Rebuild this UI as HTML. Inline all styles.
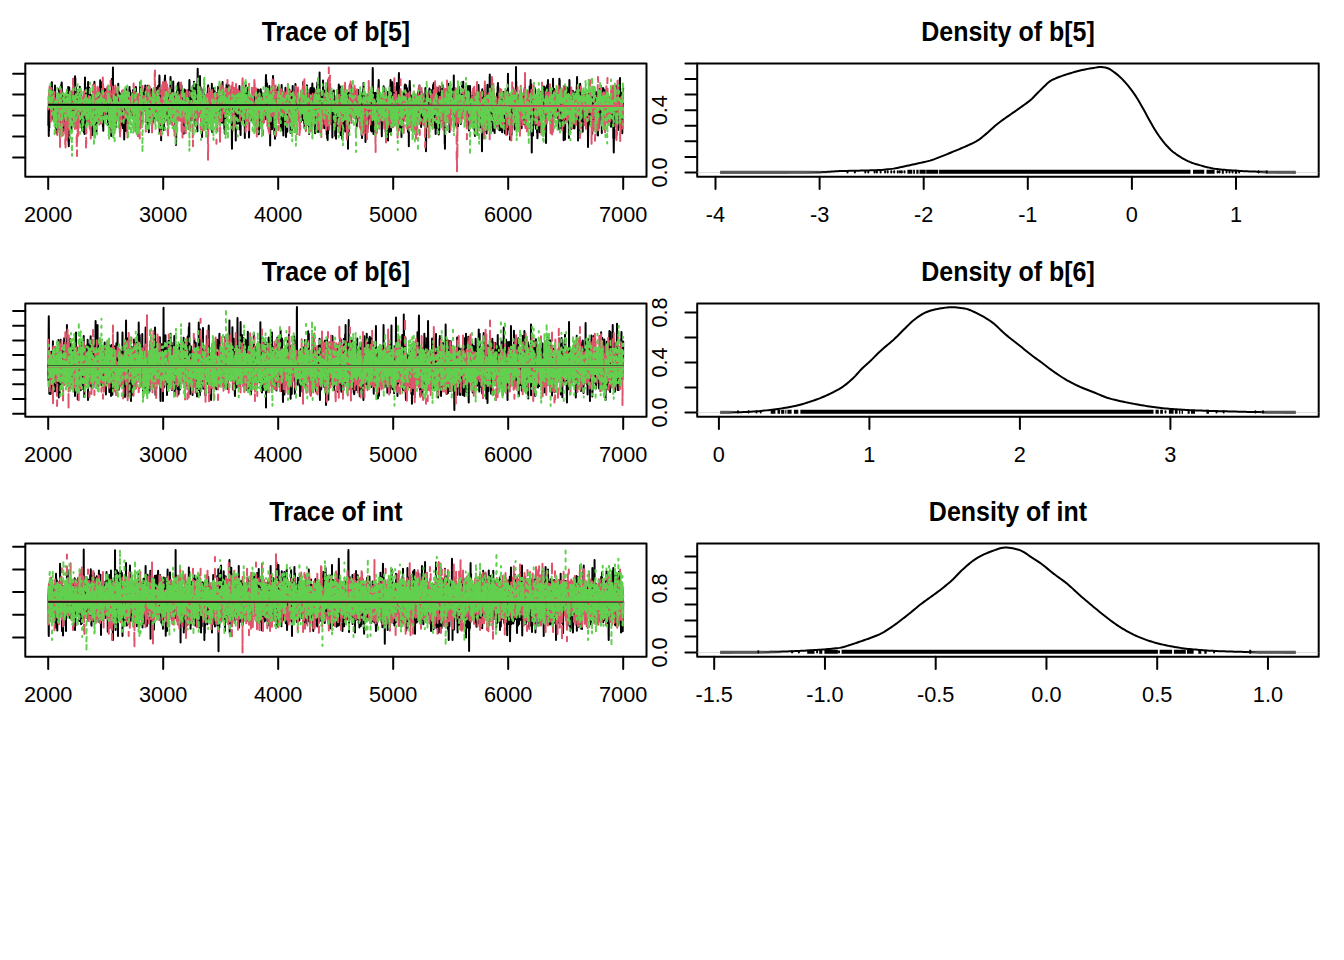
<!DOCTYPE html>
<html><head><meta charset="utf-8"><title>coda plot</title>
<style>html,body{margin:0;padding:0;background:#fff;width:1344px;height:960px;overflow:hidden}svg{display:block}</style>
</head><body>
<svg width="1344" height="960" viewBox="0 0 1344 960">
<rect width="1344" height="960" fill="#fff"/>
<g transform="translate(48.315 0) scale(0.115 0.25)" fill="none" stroke-width="2" stroke-linecap="round" stroke-linejoin="round">
<path vector-effect="non-scaling-stroke" stroke="#000000" d="M0 501l1-68 1 59 1-2 1 54 1-77 1 56 1-60 1-24 1 71 1-109 1-22 1 31 1-24 1 22 1 5 1-22 1 48 1-24 1-39 1-22 1 21 1-11 1 59 1 5 1-17 1 50 1-8 1-64 1-15 1-45 1 0 1 47 1 47 1 51 1-34 1-31 1 26 1 42 1-25 1-19 1 1 1-44 1 10 1 7 1 41 1-11 1-47 1 5 1 4 1-8 1-1 1-7 1-6 1-6 1-13 1 17 1 1 1-34 1 44 1-22 1 75 1 9 1-10 1 58 1 15 1-52 1 34 1-44 1 46 1 18 1 20 1-31 1-42 1 30 1-11 1-73 1 14 1 29 1-21 1 6 1 22 1-52 1 55 1 12 1-14 1 31 1-65 1-25 1-21 1 12 1-5 1-15 1-13 1 7 1 13 1 20 1 30 1 33 1-23 1 5 1 73 1-20 1-59 1 6 1 67 1-20 1-47 1-12 1 13 1-63 1-39 1 23 1-7 1 5 1-6 1-25 1 0 1 22 1 31 1 33 1 2 1-34 1 0 1 7 1-1 1 6 1-10 1 44 1 73 1-6 1 27 1-89 1 2 1 4 1 53 1-30 1 12 1-55 1-26 1 31 1-15 1 105 1 2 1-74 1-33 1-4 1 4 1 53 1 43 1-32 1-76 1 83 1-40 1-26 1-28 1 35 1 18 1-7 1 35 1 36 1 13 1-24 1-34 1-10 1-10 1 20 1 17 1-55 1 1 1 3 1-32 1-26 1-20 1 7 1 210 1-10 1 12 1 18 1-17 1-51 1-144 1-23 1 74 1-14 1-20 1 45 1-66 1 15 1 12 1 42 1-34 1-3 1 24 1-9 1-20 1-26 1 5 1 38 1 21 1 86 1 3 1-56 1-30 1 0 1 8 1-57 1 0 1-16 1 0 1 29 1-36 1 47 1 44 1 7 1 17 1 5 1 7 1-56 1-6 1-14 1 59 1 18 1-59 1 41 1-57 1 37 1-19 1 27 1-129 1-22 1 48 1-55 1 67 1-23 1-36 1 118 1-5 1 13 1-59 1-12 1-18 1 1 1 116 1-99 1 74 1-74 1 36 1-2 1-23 1-18 1 37 1-10 1 2 1 44 1-21 1 86 1-31 1-91 1 40 1 0 1 71 1 12 1-50 1 32 1-15 1 1 1 2 1-20 1-25 1-39 1-14 1 26 1-31 1-20 1 58 1-16 1-14 1-14 1 0 1 48 1 12 1 77 1-14 1-87 1-14 1-13 1 25 1 40 1 36 1-19 1 23 1 10 1-59 1 59 1 37 1-6 1-23 1-14 1-54 1 60 1-12 1-27 1 34 1-25 1-17 1 20 1-2 1 12 1-60 1 122 1-129 1 67 1-8 1-7 1 83 1-60 1 51 1-178 1-39 1 59 1 121 1-31 1 17 1 57 1-92 1-22 1-13 1 1 1 3 1-22 1 8 1 26 1-23 1 3 1 31 1 29 1-51 1-17 1-44 1 28 1 31 1-10 1-31 1-3 1 2 1-39 1 43 1 47 1 26 1 6 1-21 1-35 1-5 1-31 1 35 1-42 1 35 1-21 1 37 1-6 1 4 1-10 1-13 1 15 1 8 1-2 1 50 1 20 1 53 1-28 1-97 1-15 1 35 1 26 1-38 1 20 1 58 1 25 1 20 1 14 1-60 1-19 1 48 1-2 1 23 1-91 1 14 1 13 1-1 1-33 1-32 1 17 1-16 1-12 1 1 1-49 1 12 1 20 1-6 1-35 1-6 1 37 1 35 1 36 1 20 1-22 1-32 1 87 1-17 1 30 1-48 1-40 1 29 1 10 1 28 1-31 1 56 1 23 1 0 1-77 1-80 1 10 1 47 1-4 1 30 1-25 1 39 1 1 1-12 1-28 1 1 1-42 1 4 1 69 1-43 1 10 1 22 1-57 1 39 1-5 1 23 1-53 1 18 1-7 1 52 1-59 1 41 1-36 1-28 1-21 1-36 1 56 1-1 1 6 1-6 1 7 1-15 1-40 1 51 1-1 1 38 1-1 1 35 1-45 1 63 1 0 1-8 1-15 1-76 1-28 1 44 1-47 1 49 1 71 1 50 1-32 1-35 1 82 1-45 1-5 1-40 1 10 1-36 1-14 1 46 1-51 1 2 1-13 1-21 1 39 1 8 1 32 1 31 1-22 1-18 1-42 1-26 1 14 1 34 1-41 1 35 1 18 1-46 1 22 1-2 1-23 1-12 1 4 1 18 1 5 1 17 1 2 1 8 1-14 1 72 1 0 1-2 1 32 1-14 1-93 1 96 1 12 1-12 1 5 1-60 1-10 1-12 1-5 1 26 1 29 1-40 1 12 1 64 1-113 1 135 1 4 1-25 1 1 1-5 1-13 1 35 1-26 1-55 1-27 1 66 1-32 1 102 1-23 1-61 1-22 1 63 1-168 1 25 1-43 1 10 1 83 1-30 1 48 1-44 1 17 1-11 1-118 1 114 1-7 1 2 1 21 1 33 1 15 1 4 1 40 1-76 1 41 1 6 1 14 1 1 1-19 1 19 1-6 1-73 1-24 1 18 1-18 1 32 1-4 1 54 1 34 1 17 1-71 1-12 1-19 1-2 1-7 1-6 1-14 1 5 1 37 1 28 1-47 1-33 1-2 1 61 1-48 1 1 1 11 1 6 1 18 1-47 1-32 1 47 1 14 1-3 1-26 1 88 1-41 1-45 1 20 1 8 1-27 1 2 1 51 1 42 1 28 1 40 1-29 1-1 1-23 1-42 1-59 1 4 1 71 1-55 1 9 1-30 1 23 1-4 1 10 1 5 1-34 1 28 1-1 1-3 1 18 1 84 1-35 1-38 1 19 1 23 1 40 1-58 1-37 1-18 1 17 1-35 1 17 1-25 1 84 1 27 1 6 1-18 1 85 1-70 1-54 1-29 1 21 1-45 1 25 1-22 1 10 1 7 1 10 1 4 1-31 1-27 1 129 1 24 1 14 1-65 1 25 1-129 1 30 1 7 1 64 1 0 1-7 1 33 1 6 1-43 1 2 1-9 1-38 1 26 1 41 1-11 1-23 1 66 1-46 1 4 1 7 1 22 1-10 1-49 1-19 1-20 1 18 1-39 1-19 1 17 1 97 1-13 1-87 1 14 1 40 1-46 1 27 1-8 1-13 1 56 1-7 1-38 1 17 1-15 1 8 1-22 1 95 1-85 1 16 1-7 1 27 1 29 1 5 1 1 1 16 1-26 1-34 1-21 1-11 1-20 1 50 1 7 1-6 1-14 1 61 1-70 1 35 1-9 1-21 1-22 1 29 1 23 1-13 1-16 1-18 1 11 1 29 1 49 1-70 1 52 1-31 1-8 1-20 1-17 1-23 1 18 1 2 1 72 1-7 1 30 1-6 1-52 1 0 1-27 1 15 1-5 1 19 1 99 1 6 1-15 1-26 1-14 1-5 1-41 1-17 1 18 1-24 1 75 1-1 1-6 1-54 1 22 1 53 1-22 1-65 1 13 1 7 1 9 1-2 1-37 1-7 1-27 1 20 1-38 1 22 1 14 1 21 1 16 1-3 1 14 1-12 1 2 1-12 1 18 1 9 1-8 1 0 1-1 1-30 1 41 1 71 1-46 1 2 1-51 1 8 1 43 1-73 1 0 1 22 1 30 1-20 1 26 1-17 1-33 1 53 1 8 1-22 1-48 1-12 1 24 1-28 1 22 1 13 1-4 1 43 1-88 1 67 1-63 1 30 1 45 1-13 1-18 1 19 1 9 1-18 1 7 1 70 1-40 1-13 1-25 1 30 1 79 1-74 1 57 1-91 1-57 1 11 1 54 1 14 1-16 1-10 1 3 1-30 1 35 1 82 1 18 1 25 1-113 1 7 1 52 1-37 1-38 1 3 1-2 1-24 1-3 1 29 1-13 1-17 1 1 1-11 1-1 1 18 1 13 1-11 1 25 1-29 1-21 1 73 1 0 1 24 1 16 1-19 1-2 1-27 1-11 1-10 1 31 1 9 1-52 1 95 1-78 1 23 1-39 1 98 1-2 1-48 1-10 1-34 1 35 1 17 1 18 1-30 1-19 1 5 1 9 1 8 1-7 1 32 1-9 1-4 1 13 1 11 1-66 1 24 1-17 1-37 1-9 1 11 1-16 1 53 1 45 1 4 1-3 1-8 1-69 1-34 1 17 1 5 1 36 1-7 1 50 1-55 1 23 1-18 1 49 1-54 1-12 1-42 1 18 1 58 1 28 1 41 1-75 1 24 1 23 1-89 1-19 1-50 1 10 1 185 1 36 1-62 1 24 1-54 1 8 1-29 1-22 1-12 1-7 1-12 1 9 1 83 1 102 1-89 1-36 1-59 1 116 1 17 1-2 1-78 1 85 1-23 1-49 1-42 1-30 1-31 1 12 1 11 1 28 1-8 1 15 1 45 1-45 1-15 1 102 1-65 1 100 1-99 1 44 1-19 1-27 1-29 1-27 1-42 1-6 1 65 1-78 1 56 1 5 1-18 1 29 1 6 1 44 1-12 1-41 1 27 1 62 1-8 1 10 1-12 1 15 1-16 1 31 1-72 1 10 1-17 1-17 1 12 1-8 1 14 1 19 1 7 1-19 1 47 1 24 1 15 1 2 1-64 1-3 1 8 1-10 1-36 1 30 1-33 1 88 1 19 1-75 1-46 1 4 1 20 1-19 1 20 1-36 1-45 1-11 1 72 1-16 1 17 1 14 1 18 1 4 1-17 1-20 1-13 1 39 1-8 1-9 1-29 1 16 1 43 1-37 1 0 1 3 1 9 1-20 1 22 1-8 1-62 1 27 1 29 1 37 1-27 1 2 1 28 1 26 1-11 1 30 1-83 1 11 1 9 1 4 1 66 1 41 1-14 1-24 1 32 1-90 1-17 1 100 1-24 1 24 1 78 1-8 1-24 1-59 1-21 1-47 1-5 1-49 1 17 1-9 1-10 1 37 1-7 1-7 1-22 1-21 1-11 1 38 1-9 1-16 1 14 1-7 1-6 1-18 1 20 1 2 1 9 1 9 1 25 1 14 1 39 1-3 1-32 1-19 1-16 1 10 1-29 1 23 1-13 1-1 1 30 1 26 1-27 1 2 1-5 1 81 1-5 1-125 1-4 1 32 1 13 1-6 1 31 1 1 1 6 1-6 1 63 1-78 1 6 1-14 1 38 1 43 1-17 1 1 1-34 1 29 1 27 1 43 1 16 1-150 1 7 1-3 1 29 1-40 1-20 1 128 1-87 1-21 1 28 1-13 1-8 1-24 1 15 1 17 1 37 1 39 1-36 1 27 1-37 1 11 1 14 1-42 1-23 1 37 1 4 1-3 1-23 1 27 1 12 1-3 1-28 1-24 1 23 1-44 1 2 1 31 1 57 1 8 1 8 1 33 1-45 1-54 1-11 1 62 1 1 1-35 1-74 1-24 1 8 1 117 1 70 1-7 1-26 1-89 1 18 1 32 1-16 1-15 1-17 1-32 1 12 1 51 1-5 1-2 1-31 1-16 1 29 1-18 1-18 1 15 1-15 1 6 1 5 1 12 1-15 1 87 1-17 1-65 1 14 1 23 1-11 1 7 1-67 1-3 1 16 1-2 1 18 1-46 1 65 1 1 1 57 1-59 1 51 1 4 1-2 1 57 1-109 1 10 1-40 1 29 1 54 1-16 1-10 1-81 1 45 1 57 1 19 1-22 1-25 1 26 1 6 1 45 1-15 1 36 1-23 1 25 1 13 1-201 1-12 1-37 1 39 1 92 1 40 1-15 1-11 1 40 1-47 1-46 1 26 1 33 1 0 1-40 1 23 1 27 1 15 1-17 1-13 1-58 1-40 1-19 1 49 1 13 1-4 1 15 1-28 1 23 1 7 1 53 1 3 1-29 1 53 1-17 1-62 1 25 1 33 1 10 1 57 1 43 1-60 1-78 1-15 1 30 1-24 1 19 1 39 1 8 1-23 1 6 1-27 1-61 1-3 1-6 1 30 1-25 1 5 1-14 1 35 1 1 1 88 1-2 1 18 1 22 1-90 1 55 1-10 1-8 1-29 1-36 1 60 1 11 1 15 1-42 1-36 1 17 1 19 1 32 1-27 1-58 1-3 1 29 1 31 1 20 1 55 1-92 1-4 1 11 1-66 1 6 1-27 1 12 1-15 1 18 1 22 1-3 1-8 1-16 1 10 1 18 1 18 1-4 1 21 1 12 1-21 1-15 1-8 1 30 1 53 1-23 1-11 1 10 1-14 1-30 1 11 1-11 1 38 1 3 1 25 1 45 1-42 1-92 1-21 1 35 1-56 1 50 1-11 1 154 1-85 1 5 1-13 1-42 1 43 1-4 1 9 1 1 1-37 1-26 1 13 1 9 1 11 1 66 1-123 1 34 1-37 1 8 1 20 1 23 1-7 1 24 1 14 1 2 1 14 1-58 1-23 1 52 1-50 1 11 1 9 1 11 1-21 1-9 1 24 1 3 1 49 1-66 1 34 1 31 1 19 1-18 1-34 1 13 1-3 1 10 1-45 1 0 1 63 1-58 1-4 1-43 1 31 1 22 1 10 1 51 1 2 1-56 1-18 1 90 1-63 1-12 1-20 1 6 1 0 1 5 1 3 1 39 1-40 1-2 1-6 1-3 1 15 1 5 1 49 1-19 1-15 1 7 1 60 1-67 1 4 1-1 1 8 1 17 1 6 1 32 1 4 1-92 1-28 1-43 1 39 1 68 1 46 1-55 1 59 1-63 1-5 1-13 1-8 1 8 1-18 1 38 1 14 1-1 1 59 1 20 1-45 1-28 1 91 1-69 1-26 1-32 1 4 1-17 1 48 1 1 1 33 1 4 1-59 1-48 1 8 1 20 1-18 1-5 1-40 1 2 1 84 1-4 1 10 1 25 1-15 1-8 1 8 1-54 1-3 1-3 1 3 1-22 1 41 1-29 1 15 1-30 1 78 1-95 1 29 1 3 1 1 1 53 1 9 1 19 1-56 1-40 1 31 1 22 1 47 1-21 1-33 1-44 1 47 1-25 1 11 1 29 1 10 1 23 1-26 1-4 1-39 1 23 1 69 1 22 1 57 1 37 1-78 1-49 1 41 1-58 1-21 1 17 1-6 1 12 1 5 1 1 1-12 1-4 1 21 1 25 1-91 1 41 1 0 1-44 1-21 1 29 1-48 1 43 1-43 1 46 1-14 1 12 1 14 1 28 1 16 1-16 1-37 1 78 1 80 1-78 1 15 1-48 1-12 1-46 1-18 1 16 1 11 1-6 1-15 1 26 1 56 1-16 1-6 1-1 1 32 1-37 1 60 1-2 1-67 1 38 1-27 1-21 1-13 1 62 1-48 1-5 1-14 1-5 1 4 1-27 1-26 1 67 1 28 1 0 1 79 1-83 1 23 1-31 1-10 1 109 1 14 1-79 1-16 1-34 1 8 1 13 1 4 1-46 1-2 1 27 1 45 1 4 1 22 1-3 1-66 1-22 1-2 1-6 1-36 1 43 1-7 1 12 1 0 1 2 1 14 1-17 1 81 1-28 1-33 1 33 1 28 1-82 1 34 1 9 1 22 1 11 1 10 1 69 1-128 1 23 1-21 1 0 1-43 1-10 1-18 1-16 1 75 1-59 1-9 1 58 1-22 1-10 1 2 1 49 1-41 1 27 1-17 1 69 1-5 1 14 1 15 1 8 1-84 1 3 1-10 1-51 1 52 1-37 1 20 1 26 1 15 1 64 1-13 1 72 1-13 1-61 1-54 1 11 1-17 1-14 1 11 1-6 1 22 1-21 1 9 1-1 1-8 1-2 1 27 1 45 1-13 1 9 1 5 1-12 1 14 1-34 1-21 1 30 1-23 1 31 1-38 1-22 1 3 1-23 1-17 1 0 1 67 1-9 1-8 1-25 1 38 1-26 1-7 1-7 1 47 1 27 1-51 1-24 1 9 1-24 1 3 1 21 1 59 1-45 1 7 1-8 1 67 1 5 1-28 1 0 1 19 1 29 1-30 1 0 1-1 1-3 1 12 1-3 1 8 1-18 1 42 1 20 1-30 1-15 1-23 1-76 1-11 1-17 1 4 1 15 1 33 1 69 1 42 1-156 1 84 1-34 1-56 1 42 1 136 1-66 1-45 1-34 1-16 1 130 1 9 1-59 1-48 1 10 1-13 1 41 1 56 1-34 1-72 1-24 1 64 1-79 1 29 1 87 1 19 1-86 1-39 1 39 1 14 1 29 1 43 1-9 1-4 1-19 1-20 1-28 1-37 1 12 1 14 1 4 1-9 1 9 1 37 1 14 1-35 1 36 1-38 1 51 1-35 1-24 1 10 1 0 1 8 1-52 1 22 1 29 1-15 1-30 1-1 1 13 1-21 1 31 1 30 1 42 1-103 1-16 1-45 1-13 1 66 1-47 1 67 1 23 1-35 1-16 1 40 1-65 1 79 1-15 1 40 1-62 1 9 1 68 1-10 1-38 1-7 1 5 1 87 1-20 1-8 1-66 1 6 1 6 1 18 1-75 1 38 1-22 1-22 1 45 1-29 1 114 1-1 1 46 1-28 1 91 1-87 1-62 1-17 1 5 1-15 1 56 1 41 1-65 1 34 1-11 1 15 1-11 1-48 1 66 1-62 1 96 1-160 1 109 1 6 1-56 1-43 1 75 1-125 1-6 1-13 1 18 1 16 1 83 1 14 1-33 1 38 1 63 1 7 1-28 1-4 1-9 1 68 1-161 1 92 1-5 1 56 1 36 1-112 1-30 1-4 1-9 1-23 1 11 1-31 1 10 1 44 1 14 1 6 1-24 1 3 1-2 1 65 1-10 1-29 1-54 1-9 1 9 1 47 1 0 1 0 1 5 1-7 1-17 1-9 1-51 1 42 1 61 1-20 1 45 1-5 1-8 1 21 1-44 1-25 1-2 1-15 1-17 1 19 1-11 1 5 1 8 1 21 1-49 1 3 1 56 1-18 1 100 1-34 1-42 1-48 1 3 1 31 1-55 1-12 1-18 1 27 1-2 1 67 1-17 1 81 1 25 1-155 1 111 1-46 1 20 1-47 1 3 1 78 1 0 1 57 1-33 1-35 1 16 1-46 1-39 1 37 1-23 1 6 1 11 1-54 1 32 1 16 1 2 1-20 1-19 1 39 1-44 1-37 1 43 1 85 1 8 1-8 1 69 1-10 1-41 1 32 1-2 1-14 1-16 1-4 1-33 1 58 1-18 1 27 1-52 1-11 1-15 1-19 1 8 1 0 1-21 1-21 1-17 1 15 1-13 1-18 1 53 1 17 1-1 1-1 1-55 1-18 1 18 1 14 1 54 1 33 1-61 1 65 1-38 1 22 1 1 1 59 1 7 1-143 1-6 1-16 1 81 1-65 1 64 1 22 1-37 1 43 1 58 1-76 1 3 1-43 1-14 1 11 1-45 1 18 1-43 1 40 1 40 1 23 1-14 1 39 1 13 1-68 1-5 1-31 1-1 1 26 1 30 1-11 1-4 1 18 1 15 1-57 1-23 1 3 1 18 1 19 1-52 1 27 1-53 1 37 1 56 1-60 1 13 1-29 1 5 1 19 1-13 1 19 1-3 1 12 1 67 1-24 1 15 1-3 1-21 1 51 1-35 1-26 1-51 1-8 1 6 1 29 1 7 1 54 1-23 1 5 1 9 1-6 1-20 1-7 1 44 1-53 1 4 1-7 1 6 1 36 1-14 1 13 1 27 1-16 1-33 1-18 1-1 1 26 1 11 1 2 1 49 1-46 1-8 1 45 1-67 1-48 1 48 1 9 1 30 1-33 1 51 1-29 1-17 1-33 1 72 1 19 1-6 1-118 1-28 1 25 1 39 1 37 1 3 1 11 1 7 1 28 1-41 1-14 1 71 1-46 1 15 1 49 1-70 1-3 1-16 1 6 1 0 1 66 1-47 1 22 1-12 1-6 1 30 1 36 1-19 1-66 1 21 1 16 1-16 1 15 1-57 1-12 1-59 1 15 1 83 1-82 1 9 1 41 1 17 1 11 1-24 1-35 1 17 1 55 1-7 1 1 1 12 1-38 1-32 1 29 1 26 1 97 1-6 1-63 1 22 1-52 1-27 1-17 1-11 1 10 1-21 1-15 1 5 1 13 1-22 1 54 1-41 1-9 1 12 1 38 1-55 1 30 1 35 1-28 1 40 1-25 1 20 1-42 1-31 1-16 1 71 1 53 1-36 1-5 1 20 1 8 1-9 1-26 1 12 1-4 1-1 1 46 1-72 1-38 1 13 1 14 1 16 1 65 1 5 1-70 1-35 1 3 1 91 1 78 1-51 1-11 1-30 1-10 1-25 1-7 1 9 1-12 1 25 1-44 1 37 1 12 1-32 1 15 1-27 1-30 1-6 1 26 1-42 1 9 1 41 1-46 1 15 1 173 1 6 1-14 1-158 1 44 1 35 1 6 1-72 1-6 1-19 1 26 1-4 1 73 1 0 1-103 1-46 1 211 1-109 1 87 1-67 1 11 1-50 1 46 1-22 1-6 1-23 1 52 1-33 1 2 1 31 1 13 1 2 1-17 1 28 1 23 1-19 1-9 1-25 1-28 1 68 1-8 1-17 1-6 1 36 1-100 1-39 1 21 1 74 1-24 1 5 1 0 1-2 1 20 1 0 1 26 1 71 1-67 1-17 1 0 1-45 1 12 1-24 1-10 1 19 1 48 1-19 1-5 1-25 1 58 1-1 1-13 1-13 1-2 1-7 1 88 1-6 1 9 1 45 1-37 1-7 1 28 1 31 1-49 1-64 1-21 1 141 1-43 1 8 1 10 1-44 1-128 1-40 1-4 1 147 1-25 1 18 1-106 1 23 1 9 1 31 1 4 1-61 1-5 1 19 1-35 1 60 1-27 1 29 1-41 1 10 1 6 1 24 1 42 1-44 1 31 1-21 1-47 1 0 1 17 1-7 1-3 1 22 1-1 1 47 1 62 1 1 1 52 1-61 1 24 1-33 1-82 1 37 1 12 1 10 1 29 1-89 1 32 1 6 1 2 1-75 1 20 1 32 1-35 1 29 1 81 1-60 1-33 1 56 1 40 1-17 1 25 1 44 1-82 1-10 1-45 1 42 1 48 1 30 1 28 1-76 1 15 1-83 1 31 1-2 1 22 1 8 1 6 1 28 1-67 1 22 1-55 1 36 1 32 1-22 1 5 1-37 1-20 1 26 1 30 1 34 1-13 1-123 1-14 1 52 1 69 1-33 1 9 1-2 1-37 1 9 1-18 1-24 1-17 1 72 1 26 1 47 1 40 1-31 1 40 1-14 1-85 1 3 1-53 1 27 1-12 1-19 1-7 1 82 1 46 1-48 1 66 1-14 1 44 1-49 1-18 1 53 1-17 1 23 1-5 1-80 1-18 1-14 1-47 1 8 1-25 1 5 1 6 1 23 1 38 1 40 1 28 1-40 1-23 1 31 1-55 1 27 1 12 1 51 1 16 1-59 1-25 1 23 1-52 1 8 1 1 1-30 1-4 1 21 1 45 1-50 1 97 1 9 1-89 1 135 1-68 1 0 1 4 1-12 1-81 1-29 1 8 1 110 1 107 1-176 1 13 1 5 1 39 1 46 1-110 1 94 1 20 1-119 1-11 1-11 1-15 1 44 1 47 1 1 1-30 1-20 1-42 1-23 1-10 1 123 1-116 1-4 1 27 1 22 1-18 1 62 1-48 1-40 1 29 1-10 1 7 1 37 1-10 1-12 1-20 1 18 1 3 1 23 1-29 1 10 1-19 1 27 1-1 1 33 1 21 1-49 1 8 1 2 1-23 1 31 1-57 1 30 1 16 1-57 1 60 1-49 1 1 1-2 1 38 1-3 1 46 1-42 1 10 1 22 1 12 1-3 1-41 1-8 1 29 1 28 1 30 1-47 1-22 1 39 1 55 1-23 1 4 1-39 1-4 1-20 1-28 1-23 1 15 1-12 1 25 1 45 1-15 1-41 1-30 1 14 1 64 1-16 1 7 1-24 1-27 1 22 1 28 1 12 1 20 1 27 1-25 1 17 1-4 1-2 1 10 1-39 1 11 1-6 1-34 1 7 1 53 1 5 1 3 1-39 1-58 1 3 1 11 1 141 1-5 1-39 1 55 1-8 1-34 1-103 1-37 1-2 1 27 1-1 1-19 1 86 1-24 1-81 1 54 1-78 1 20 1 32 1 7 1-18 1 43 1 60 1-33 1 54 1 34 1-20 1-14 1-21 1-19 1-27 1 3 1 28 1 107 1-89 1-42 1-24 1 4 1 34 1-22 1 2 1 50 1-51 1 52 1 3 1-77 1 33 1-9 1-35 1 8 1 56 1 11 1-9 1 51 1-76 1-13 1-22 1-1 1-5 1 20 1 58 1-36 1-3 1-50 1 49 1-6 1-61 1 53 1 46 1-17 1-59 1 49 1-3 1 5 1 19 1 3 1-50 1 0 1 53 1 16 1-16 1 48 1 8 1-6 1-78 1 31 1 56 1-26 1-10 1 11 1-63 1-2 1 31 1-49 1-65 1-22 1-59 1 23 1 159 1 54 1-40 1-46 1 103 1 11 1-165 1 153 1-144 1-4 1 2 1 20 1 11 1-2 1-12 1 26 1 2 1 11 1-19 1-24 1-20 1 25 1 24 1-19 1 16 1 10 1-15 1-8 1-31 1 49 1-33 1 23 1-17 1 51 1 0 1 18 1-70 1 39 1-39 1 34 1 41 1-24 1-41 1 7 1-15 1-1 1 9 1-33 1-33 1 9 1-27 1 58 1 15 1 21 1 82 1-49 1-26 1 10 1-6 1 11 1-17 1-33 1-1 1 10 1 22 1 6 1 17 1-38 1 40 1 16 1-22 1-16 1-9 1 17 1-10 1 52 1 48 1 27 1-51 1-70 1 14 1 14 1 2 1-68 1 1 1 4 1 23 1-15 1-30 1 5 1 32 1-34 1 10 1-37 1 43 1 10 1-4 1 65 1-15 1-29 1 5 1-16 1-3 1 32 1-29 1 29 1 6 1 21 1-34 1 14 1 11 1 76 1-18 1-63 1 74 1-42 1-14 1 57 1-11 1-62 1-7 1-18 1-35 1 16 1-21 1 47 1 28 1-59 1-31 1 187 1-58 1 65 1-75 1 20 1-75 1 43 1 7 1-30 1 12 1-1 1-23 1-7 1 65 1 29 1-92 1-7 1-56 1-26 1 81 1-75 1 62 1-54 1 47 1-87 1 7 1 33 1 121 1 57 1-58 1-36 1 31 1-26 1-50 1-47 1-7 1 18 1-5 1 127 1-143 1-13 1 10 1 51 1-46 1 0 1-9 1 36 1-16 1 29 1-19 1-12 1 19 1 10 1-22 1 79 1-30 1-34 1 1 1 8 1 26 1 20 1 36 1-26 1 26 1-9 1 44 1-70 1-29 1 40 1-24 1 10 1 25 1-14 1-36 1-38 1 3 1-20 1-3 1 64 1-77 1 53 1 17 1-37 1 46 1 28 1-64 1 37 1-5 1-7 1 11 1-27 1-15 1 27 1-40 1 32 1 19 1-102 1-13 1 153 1-16 1 80 1-5 1 13 1 2 1-25 1-28 1 16 1-17 1 48 1-9 1-58 1 20 1 1 1-11 1-36 1-11 1 9 1 37 1-16 1 109 1-50 1 11 1-47 1-7 1-53 1 27 1 74 1-22 1 4 1-11 1-54 1 33 1-30 1-27 1-21 1 74 1-10 1 22 1-1 1 22 1-2 1-47 1-53 1-7 1 48 1-36 1 49 1-92 1 23 1-20 1-7 1 49 1-44 1 15 1 101 1-66 1-38 1 112 1-89 1-37 1 13 1 4 1 10 1 26 1 4 1-18 1-28 1 3 1 15 1 24 1 17 1-41 1-4 1 142 1 7 1-24 1 37 1-45 1 11 1-102 1 29 1 63 1 21 1 80 1-167 1 62 1-63 1 68 1-115 1-31 1 14 1-29 1 14 1 10 1 5 1 108 1-11 1 15 1-24 1-1 1-41 1 56 1 1 1 19 1-3 1-27 1-27 1 82 1-62 1-21 1-15 1 4 1-22 1-2 1 69 1 19 1-1 1 3 1 6 1-36 1 38 1 15 1 23 1-23 1-35 1 26 1-30 1 14 1-61 1 87 1-17 1-55 1 14 1 39 1 21 1-40 1 13 1-49 1-1 1 21 1 12 1-24 1-34 1 34 1 43 1 34 1-40 1-73 1 24 1-20 1 19 1-26 1 57 1-27 1 49 1 20 1-30 1 0 1-7 1-26 1-8 1-42 1-8 1 35 1 7 1 22 1 12 1-62 1 33 1-36 1-27 1 96 1-28 1-60 1 18 1-37 1 33 1 54 1-32 1 16 1-33 1 42 1 24 1-7 1-3 1 3 1 1 1-60 1 88 1 8 1 32 1-32 1 3 1-33 1-6 1-72 1 51 1 18 1-33 1 18 1-5 1 58 1-40 1 2 1-23 1 35 1 15 1 23 1-76 1 68 1-31 1-14 1-43 1 0 1 42 1-19 1 66 1-53 1 4 1 26 1 11 1-32 1 62 1-82 1 28 1-54 1 3 1-41 1 48 1-19 1 107 1 66 1 51 1-32 1-59 1-69 1 25 1-2 1-9 1-47 1 7 1 30 1-32 1 16 1 35 1 38 1-87 1 6 1-48 1 42 1 41 1-67 1 17 1 11 1 10 1 38 1-48 1 47 1-38 1 40 1-95 1-7 1-14 1 65 1-10 1 27 1 31 1 23 1-47 1-5 1 16 1 17 1 14 1 7 1-5 1-105 1 9 1-30 1 19 1 119 1 2 1-71 1 28 1-9 1-45 1-2 1 34 1-14 1 16 1-40 1-15 1 17 1-9 1-36 1-14 1-2 1 26 1 29 1-22 1-28 1-12 1 31 1 13 1 62 1-15 1 37 1-3 1-27 1 36 1 44 1-6 1-29 1 3 1 26 1-48 1 36 1 44 1-33 1-99 1 23 1 3 1 38 1 13 1 32 1-34 1 13 1 16 1-58 1 52 1-56 1 2 1 30 1-12 1 1 1-23 1 4 1-65 1-17 1-15 1 48 1 18 1-33 1 118 1 36 1-17 1-145 1 73 1 27 1 44 1-71 1 48 1-9 1-66 1 12 1-13 1 0 1-21 1-52 1 47 1 9 1-40 1 25 1-41 1 111 1-42 1 51 1-73 1 64 1-15 1 0 1-2 1 40 1-67 1 8 1-75 1 17 1-25 1 25 1 21 1 41 1 19 1-6 1 14 1-72 1 24 1-19 1-13 1 5 1 43 1-17 1-23 1 4 1 7 1 84 1 30 1 67 1-79 1 100 1-82 1-87 1 37 1-34 1-26 1 8 1-26 1 17 1 21 1 10 1-62 1 61 1-10 1 13 1-8 1 54 1-43 1-27 1 11 1 15 1-6 1-34 1 58 1-57 1 16 1-24 1 33 1-56 1 4 1-36 1 36 1 28 1-26 1-8 1 3 1-20 1 5 1 22 1 70 1 83 1-56 1-36 1 28 1-33 1 3 1-6 1-35 1 59 1-22 1-22 1 8 1-6 1 40 1-14 1-28 1-21 1 27 1-24 1-3 1-12 1 10 1-10 1 3 1 40 1-63 1 78 1-75 1 54 1-14 1-29 1-8 1-7 1 34 1-2 1 51 1-78 1-57 1 87 1 18 1 45 1 19 1 2 1 32 1-6 1-47 1 1 1-35 1 5 1-5 1 45 1-46 1 41 1 2 1 39 1-42 1 30 1-41 1-68 1 0 1 84 1-48 1-5 1-17 1-6 1-23 1 98 1-95 1 46 1 3 1-24 1 70 1-18 1 63 1-68 1-63 1-13 1 22 1-14 1-24 1 111 1-4 1-45 1-53 1 16 1-3 1 8 1 72 1-3 1 18 1-21 1-20 1 51 1 13 1-26 1 28 1-18 1 17 1 9 1-55 1-3 1 14 1-60 1 14 1 3 1 1 1-24 1 65 1-122 1 32 1-9 1-16 1 49 1-5 1-34 1 119 1-14 1-31 1-81 1-12 1 103 1-49 1-18 1 46 1 23 1-2 1 40 1-57 1 15 1 42 1-26 1-8 1 35 1 5 1-50 1-30 1 58 1-45 1-28 1-21 1 23 1 29 1 3 1 21 1 2 1 15 1-1 1 7 1-14 1-15 1 4 1 13 1-61 1-18 1-3 1 34 1-15 1 10 1-13 1 1 1 63 1-101 1 41 1-21 1-19 1 108 1-35 1 31 1 22 1 51 1-36 1-44 1-43 1-22 1 8 1-27 1 10 1 18 1-42 1 17 1 28 1-22 1 93 1-59 1 31 1 48 1-25 1-32 1 4 1-1 1 20 1 45 1 13 1-103 1 49 1 3 1-56 1 11 1 36 1-12 1-9 1-40 1 79 1 6 1-26 1 24 1-16 1 5 1-57 1-28 1 78 1 55 1 12 1-22 1-12 1 5 1-39 1-36 1-1 1 60 1 67 1 7 1-64 1 29 1-79 1-47 1 10 1-16 1 10 1 13 1-15 1 40 1 8 1 42 1-33 1 4 1 5 1 13 1-34 1-12 1 9 1 15 1-61 1-28 1 44 1-27 1-1 1 3 1 0 1 53 1-70 1 31 1-46 1 20 1 9 1 30 1-11 1 9 1 42 1 14 1 17 1 11 1-2 1-38 1 11 1 58 1-78 1 19 1-55 1-1 1-9 1 36 1-3 1 15 1 0 1-19 1 16 1-29 1 55 1 34 1-34 1 81 1 67 1-66 1-177 1-5 1 9 1 8 1 13 1 5 1 24 1 7 1-26 1-9 1-21 1 24 1 18 1-11 1 35 1 30 1-33 1 9 1-34 1 2 1 19 1 38 1-53 1 6 1 33 1 53 1-76 1 96 1-75 1 30 1-24 1-15 1-22 1 24 1 72 1-86 1 64 1-15 1 58 1-100 1 5 1-52 1 4 1 35 1-34 1-37 1-16 1 52 1-8 1 50 1 22 1-52 1 59 1-87 1 63 1 49 1-43 1 6 1 1 1 32 1-40 1-10 1 4 1 30 1 53 1-210 1-12 1 61 1 146 1-45 1 10 1-1 1 42 1-56 1-7 1-47 1-21 1 67 1 6 1 14 1-64 1-23 1 9 1-6 1-12 1 34 1 13 1 8 1 17 1 10 1-13 1 48 1 35 1-55 1-63 1-43 1 68 1-12 1 35 1 17 1 0 1-25 1-22 1 99 1-81 1 17 1-11 1 63 1 22 1-133 1 73 1-71 1 47 1-21 1 13 1-21 1 13 1 44 1 16 1 14 1-74 1 30 1-26 1 33 1 18 1-21 1 16 1-81 1-28 1 49 1-13 1-36 1 52 1 18 1-94 1-4 1 0 1-13 1 46 1-34 1 116 1 12 1-71 1-10 1 7 1 11 1-14 1 67 1 34 1 25 1-87 1-17 1-39 1 143 1-72 1 3 1 12 1-23 1-15 1 14 1-20 1-34 1 26 1-31 1 18 1-15 1 13 1 24 1-6 1 48 1 60 1-20 1-6 1 32 1-104 1-10 1 32 1-20 1-15 1 21 1 11 1 74 1-30 1-81 1-25 1-14 1 31 1 47 1-32 1-3 1 14 1 15 1-32 1-12 1 26 1 9 1 67 1 35 1-48 1 7 1 29 1-15 1 15 1 14 1-56 1 36 1-132 1-14 1 8 1 60 1-25 1-12 1 16 1 33 1 16 1-103 1 158 1-1 1 18 1-12 1-143 1 107 1-6 1-146 1-42 1 47 1 119 1 48 1-15 1-31 1-29 1-29 1-17 1 62 1-6 1 75 1-59 1-19 1-33 1 7 1 7 1 25 1 112 1-21 1-123 1-32 1 19 1-1 1-4 1 30 1 4 1-9 1 91 1-26 1 3 1 50 1-24 1-8 1-13 1-77 1 28 1-45 1 22 1 55 1-42 1-24 1-27 1 15 1-23 1 16 1 45 1 6 1-10 1 42 1-3 1-19 1 12 1-10 1-4 1 27 1-24 1-25 1 79 1 9 1-54 1-24 1 73 1-31 1-63 1-24 1-13 1 14 1-42 1-6 1-80 1 95 1-37 1 98 1-16 1 80 1-94 1-9 1 18 1 18 1 35 1-11 1-5 1 56 1-55 1 9 1 36 1-49 1-28 1 24 1 22 1-45 1 18 1-7 1-40 1 49 1 55 1 19 1 3 1-23 1-51 1 12 1-59 1 3 1 76 1-9 1-34 1-33 1 30 1 5 1-62 1 9 1 37 1 58 1 6 1-27 1 36 1-65 1 28 1 69 1-50 1-13 1 1 1-51 1 25 1-24 1 22 1-48 1 10 1 7 1-10 1 11 1-7 1 15 1-14 1 6 1 23 1-17 1-9 1 41 1 8 1 58 1-25 1-44 1-69 1 6 1-14 1 112 1-134 1 71 1 20 1-12 1-7 1 1 1 34 1 67 1-37 1-53 1 17 1-21 1 20 1 2 1 17 1-36 1 33 1-11 1-34 1 5 1 45 1-22 1 4 1 44 1-8 1-2 1-35 1 14 1-10 1-25 1 71 1-52 1-3 1 34 1-16 1-41 1 27 1 16 1-51 1-34 1 42 1-58 1 41 1 37 1 10 1 33 1-87 1-23 1 5 1-41 1 53 1-32 1-5 1 107 1-3 1-6 1 110 1-10 1-44 1 120 1-148 1-23 1-41 1 14 1-25 1-25 1 89 1-89 1 67 1 60 1 53 1-147 1 9 1 71 1-5 1 31 1-17 1-29 1-14 1-4 1-50 1-3 1-10 1-24 1 16 1 7 1-8 1 16 1-24 1 27 1 12 1 7 1 12 1-1 1 15 1 86 1-72 1 7 1-36 1 37 1-31 1 45 1-64 1 7 1 16 1 107 1-62 1-62 1 146 1-10 1-13 1-68 1 4 1 2 1 16 1 26 1-39 1 3 1 0 1-26 1-9 1-32 1-18 1 49 1 24 1-45 1 13 1-24 1 33 1 90 1-95 1-52 1-11 1 54 1-26 1-15 1-16 1 59 1-5 1 2 1-57 1 29 1 53 1-11 1 1 1-10 1-12 1-6 1 22 1 10 1-75 1 26 1-10 1 37 1 60 1-51 1-12 1-40 1-19 1 5 1 28 1-46 1 13 1 62 1 14 1-27 1-7 1 25 1-76 1 47 1-50 1 50 1-9 1 20 1-31 1 9 1-27 1 6 1 26 1 9 1-20 1 20 1 146 1 26 1-75 1-127 1-4 1-14 1 15 1 73 1-14 1-2 1-83 1 18 1 1 1 15 1 23 1 42 1-86 1-25 1-9 1 49 1 23 1 21 1 48 1-41 1-9 1-22 1-17 1-7 1 10 1 13 1 33 1 16 1-25 1-62 1 22 1 1 1 30 1 37 1-90 1 13 1 14 1 66 1-38 1 62 1 5 1-1 1-34 1 1 1 9 1 23 1-25 1 4 1 18 1 39 1 11 1-33 1 46 1-36 1-23 1-54 1 25 1-70 1-57 1 153 1-68 1 77 1-23 1-12 1 26 1-25 1 6 1-57 1-12 1-24 1 47 1 35 1 11 1 18 1-66 1-5 1 43 1 5 1-61 1 18 1-12 1 66 1 13 1-5 1 0 1-10 1-19 1-39 1 67 1-12 1-31 1-6 1-30 1 13 1 20 1 31 1-36 1 49 1 7 1-9 1-30 1 10 1 32 1-33 1 40 1 15 1-58 1 83 1-30 1-68 1-79 1 40 1-32 1-33 1 33 1 11 1-38 1 154 1-8 1-42 1 40 1-42 1-8 1-20 1 6 1-20 1 16 1 22 1 41 1 54 1-25 1-2 1-9 1-1 1-25 1-7 1 19 1-35 1-60 1 38 1 21 1-18 1 30 1-36 1 29 1 44 1 25 1-59 1 75 1-30 1 73 1-67 1-32 1-33 1-62 1 13 1-19 1-1 1-14 1 35 1 118 1-13 1 72 1-40 1 11 1-175 1 0 1 7 1 108 1-119 1 47 1 45 1-1 1-9 1-30 1-27 1 0 1 2 1 32 1-30 1-29 1 15 1-9 1 25 1 4 1 1 1-19 1 48 1-7 1-27 1-5 1-10 1 83 1 19 1-2 1 11 1 75 1-83 1-27 1-76 1-46 1 9 1 91 1-24 1 36 1 17 1-18 1-37 1 17 1 21 1-25 1-4 1-34 1-2 1-15 1 69 1 47 1 46 1 1 1-41 1-5 1-33 1 22 1-45 1-25 1 65 1 31 1 7 1-50 1-32 1-46 1 56 1-7 1 2 1 12 1 3 1 78 1-34 1 3 1 37 1-78 1 22 1-17 1 22 1 52 1-5 1-35 1 27 1-40 1-67 1-25 1 20 1 33 1-29 1 54 1 33 1-77 1-8 1-8 1 15 1-7 1 69 1-98 1 33 1-54 1 4 1-23 1-18 1 37 1 5 1 48 1 19 1 69 1-53 1 52 1 77 1-31 1-60 1 25 1 13 1-57 1 54 1-44 1 65 1-128 1 21 1-9 1-48 1 14 1 5 1 2 1-10 1 22 1-43 1-18 1 15 1 20 1-17 1 26 1 9 1-8 1 56 1 4 1-24 1 37 1-24 1 36 1-23 1-6 1-19 1 24 1 70 1-93 1-18 1 54 1 22 1 51 1-86 1-33 1-24 1 43 1-37 1 30 1-40 1 10 1 88 1-14 1 21 1-101 1 50 1 6 1 3 1 25 1 15 1-16 1-27 1 9 1 2 1-9 1 30 1-5 1-15 1-45 1-18 1-8 1-15 1 32 1-26 1 20 1 10 1 18 1-22 1 27 1-22 1 16 1 18 1-18 1 31 1-49 1 89 1 27 1-20 1 91 1-46 1-20 1-108 1-5 1 36 1-59 1-6 1-8 1-8 1-11 1 8 1 39 1 51 1 47 1-1 1-57 1 46 1-2 1-38 1 8 1 3 1 35 1-23 1 12 1 15 1-2 1-31 1-44 1 46 1-28 1 41 1-55 1-34 1 121 1-20 1-30 1 75 1-84 1-34 1-19 1 65 1-26 1 17 1 12 1-10 1 57 1-65 1-40 1-20 1-26 1 64 1 11 1 9 1 43 1-47 1-79 1 43 1-13 1 5 1 1 1 3 1-15 1 28 1 17 1-53 1 10 1 8 1 68 1-28 1-24 1-7 1-38 1 74 1-35 1 64 1 30 1-78 1 70 1-12 1 3 1-15 1 25 1 47 1-38 1 6 1-18 1 51 1-36 1-7 1-26 1-65 1 76 1 28 1-53 1 9 1-66 1 8 1 6 1-11 1 52 1-4 1 5 1-75 1-24 1 43 1-48 1 14 1-11 1 35 1 42 1-48 1-2 1-1 1 70 1 14 1 11 1 18 1-27 1 29 1 34 1-100 1-14 1 42 1-75 1-4 1 3 1 107 1-69 1-3 1-34 1-33 1 51 1-43 1-6 1 14 1 85 1-70 1 1 1-7 1 47 1-20 1-12 1-31 1 38 1 84 1 9 1 24 1-36 1-7 1-21 1-50 1-39 1 12 1 61 1-2 1 6 1 0 1 2 1-2 1 14 1 23 1-31 1-15 1 4 1-31 1 69 1-6 1-30 1 16 1-2 1-38 1 11 1 35 1 13 1-23 1 37 1-13 1 7 1-13 1-35 1-23 1 4 1-1 1-18 1 35 1-3 1 45 1-53 1 1 1 51 1 9 1-39 1-11 1 63 1-78 1-2 1-7 1 17 1 31 1 54 1-26 1-11 1 0 1-37 1-11 1 39 1 8 1-49 1 53 1-82 1 26 1-65 1 6 1 60 1-12 1 3 1 19 1-1 1-2 1 128 1-39 1 34 1 27 1 35 1-52 1-49 1 45 1-111 1-12 1 25 1-2 1 31 1-71 1 40 1-40 1 71 1-25 1 2 1-44 1-5 1-57 1 133 1-77 1-69 1 43 1 39 1 2 1-29 1-12 1 13 1-24 1 46 1 32 1-5 1-5 1-5 1 1 1 7 1-21 1 48 1-9 1 56 1-20 1-26 1-69 1 3 1-34 1 10 1 61 1-32 1-1 1 22 1-34 1 40 1 9 1-130 1 12 1-19 1 60 1 2 1 20 1 13 1 80 1-3 1-70 1 30 1 1 1-34 1 10 1 39 1-9 1-1 1 26 1-9 1 43 1-140 1 83 1 80 1-30 1 3 1-65 1-25 1-1 1-32 1-28 1-3"/>
<path vector-effect="non-scaling-stroke" stroke="#DF536B" stroke-dasharray="8 8" d="M0 437l1-14 1 0 1-30 1-10 1-11 1 22 1-1 1 10 1-3 1 1 1-55 1 51 1-1 1 25 1-9 1-2 1-35 1 17 1 31 1-8 1-4 1 84 1-82 1 36 1-53 1-23 1-21 1 14 1 35 1 32 1-39 1 22 1-9 1 18 1 21 1-36 1 36 1 3 1 5 1-11 1 0 1 35 1 3 1-1 1-80 1-14 1 12 1 2 1 15 1-41 1 16 1 39 1-59 1-2 1 27 1 40 1-16 1 26 1 25 1-45 1-41 1 1 1 42 1-16 1 26 1-12 1-9 1 44 1-39 1 2 1 3 1 39 1-43 1 26 1-8 1 34 1 37 1 29 1-138 1 37 1 31 1-48 1 32 1 24 1-66 1-18 1 8 1 19 1 16 1 89 1-90 1-12 1-44 1 19 1-14 1-5 1 27 1 37 1 18 1-14 1 122 1 18 1-180 1 14 1-34 1-31 1 11 1 19 1 2 1-6 1-18 1-10 1 36 1 12 1 20 1-18 1 43 1 66 1-25 1 4 1 1 1-11 1 22 1-22 1 32 1 27 1-51 1-3 1-54 1-10 1 27 1 16 1 30 1-15 1-33 1-3 1-10 1 35 1-53 1-14 1-20 1 46 1 9 1 26 1-60 1 13 1 160 1-97 1 62 1 47 1-20 1-73 1-99 1 10 1 46 1 35 1 74 1-136 1 56 1 49 1-37 1-53 1-10 1 9 1-42 1 31 1 82 1 36 1-13 1-48 1-49 1 36 1-47 1-10 1-15 1 42 1 6 1 80 1-29 1-2 1-43 1-42 1 36 1-34 1-26 1 18 1-41 1 34 1 55 1-6 1-57 1-5 1 66 1 14 1-51 1 29 1 2 1 34 1-79 1-36 1 49 1 68 1-34 1-20 1 0 1-4 1 12 1-32 1-19 1-22 1-7 1 29 1-45 1 30 1-57 1 59 1-50 1 145 1 6 1-7 1-64 1-29 1 25 1 4 1 15 1 32 1-23 1 72 1-24 1 1 1 39 1-39 1-44 1-6 1-11 1 37 1-17 1-44 1 48 1-64 1 69 1-30 1 27 1-7 1 3 1 1 1 158 1-29 1 56 1-21 1-195 1 85 1 8 1 8 1 19 1-47 1-13 1 23 1 10 1 44 1-4 1-98 1 65 1-86 1 7 1 11 1 21 1 44 1-40 1 7 1 18 1-9 1-64 1 23 1 7 1-44 1 44 1-29 1-59 1 19 1 66 1-32 1 18 1-37 1-3 1 4 1 39 1-35 1-3 1-2 1-3 1-1 1 5 1 11 1 65 1 13 1 2 1-53 1-33 1 41 1 16 1 17 1-22 1-14 1-21 1 27 1 9 1-69 1 45 1-42 1-10 1-11 1 10 1 11 1-10 1 14 1 10 1 14 1-10 1 8 1 13 1-19 1-1 1 48 1-5 1 45 1 44 1 53 1-39 1 23 1-90 1-38 1 19 1-4 1-24 1 27 1 17 1 1 1-41 1-45 1 31 1 33 1-10 1 40 1-68 1 61 1 6 1-69 1 34 1-54 1-24 1 20 1 2 1 102 1-27 1-14 1 24 1-62 1 91 1-49 1-10 1-12 1 52 1-40 1 14 1-15 1-36 1 33 1 107 1-47 1-30 1-3 1 12 1 21 1-26 1-36 1 10 1-51 1 12 1-19 1 10 1 3 1-25 1-10 1-20 1-16 1 18 1-6 1 2 1 2 1-8 1 14 1 7 1-3 1 33 1-19 1-17 1 68 1-29 1 24 1 24 1-33 1-80 1 5 1-2 1-9 1 13 1 44 1-10 1 91 1-73 1 57 1-47 1 26 1-12 1 1 1-32 1 29 1-50 1 19 1 51 1-13 1-27 1-15 1-15 1 15 1-29 1-8 1 39 1 17 1 25 1 6 1-13 1 13 1 0 1-30 1-21 1-28 1 106 1 11 1 10 1 1 1 15 1 13 1-55 1-54 1 38 1-32 1 78 1-40 1-60 1-17 1 30 1 31 1 5 1-45 1-4 1 1 1-7 1 37 1 77 1 0 1-2 1-32 1-14 1-97 1 26 1 23 1-31 1 9 1 69 1-63 1 42 1-118 1 72 1-26 1 10 1-5 1-14 1 14 1 35 1 18 1 33 1-40 1 1 1-1 1 16 1 1 1 37 1-17 1 31 1-27 1 0 1-24 1-34 1-6 1 2 1-14 1 23 1 5 1-8 1 48 1 16 1-73 1 1 1 1 1-8 1 11 1 17 1 10 1-30 1-35 1 29 1 10 1-7 1 38 1-5 1-30 1-22 1 48 1-69 1 18 1-12 1 7 1 47 1-48 1 57 1 25 1 53 1-29 1-55 1-15 1 17 1 69 1-18 1 11 1 9 1-19 1-81 1 18 1-52 1-18 1 47 1 80 1 63 1-8 1-36 1 34 1-21 1 49 1-79 1 36 1-16 1 22 1 1 1-33 1 11 1-11 1-52 1-66 1-4 1 19 1 8 1 44 1 39 1 33 1-34 1-4 1 5 1-77 1 10 1-12 1-1 1 9 1-3 1 53 1-6 1-32 1-36 1 20 1-26 1-6 1 28 1 56 1-13 1 22 1-41 1-6 1 53 1 9 1-22 1-42 1 93 1-36 1 42 1-10 1 18 1-55 1-17 1-49 1-23 1 34 1 80 1-4 1 10 1-18 1 18 1 11 1-44 1-14 1 23 1-22 1 30 1-10 1-38 1 19 1 47 1-20 1 6 1-67 1 10 1 25 1 42 1 79 1-159 1 124 1 14 1-48 1-47 1-25 1 26 1 26 1-38 1 23 1 17 1 12 1-60 1 71 1-57 1-28 1-34 1 2 1 74 1-75 1 6 1 52 1-1 1-15 1-5 1-22 1-19 1 87 1-5 1-5 1-24 1 30 1-43 1 3 1-30 1 27 1 9 1 49 1 27 1-4 1 6 1-29 1-25 1-2 1-3 1 40 1 5 1-5 1 17 1-44 1-24 1 31 1 11 1-6 1-10 1-51 1 14 1 26 1-13 1-17 1-26 1 138 1 23 1-50 1 63 1-18 1-13 1-9 1-120 1 13 1 42 1 35 1-11 1 20 1-11 1-44 1 70 1-51 1-2 1-25 1-1 1-45 1 14 1 10 1 48 1-2 1 11 1 13 1-63 1-16 1-18 1 5 1 39 1 2 1-28 1 36 1 7 1 0 1-35 1 6 1-15 1-9 1 18 1 0 1 50 1 13 1-29 1-16 1-10 1 3 1-22 1-9 1 7 1 60 1-92 1 101 1-97 1-28 1 30 1-19 1 40 1 8 1 20 1-20 1-17 1 6 1 84 1-15 1 32 1-72 1 19 1 79 1-19 1 36 1-47 1 35 1-41 1 52 1-74 1-6 1-30 1 9 1-56 1 17 1-8 1 13 1-22 1 53 1 60 1-34 1 23 1 27 1-36 1-8 1 96 1-36 1 1 1-97 1 61 1-34 1-48 1 25 1 36 1-84 1-8 1-3 1 39 1 22 1-23 1 121 1 33 1-43 1-80 1 75 1-9 1-65 1-36 1 106 1-12 1-35 1 61 1 4 1-41 1-19 1-12 1-84 1 27 1 31 1-16 1 16 1-24 1 16 1-42 1-17 1-11 1 11 1 50 1-18 1-9 1-9 1 49 1-23 1 6 1-2 1 36 1-19 1-22 1-3 1-6 1 4 1 14 1-10 1 12 1 8 1-12 1-21 1 61 1 16 1-9 1-60 1-2 1 39 1 34 1 67 1-78 1-45 1 41 1-11 1-16 1-42 1-27 1 39 1-1 1 58 1-3 1-7 1 6 1 37 1-2 1-85 1 25 1 1 1-27 1-15 1 20 1-42 1 2 1 32 1-44 1 42 1-2 1-8 1-19 1 59 1-26 1 9 1-32 1-20 1 22 1 11 1 21 1 37 1 2 1-32 1 10 1 48 1-11 1 32 1-19 1-36 1-32 1-24 1 33 1 99 1-21 1 7 1-20 1 68 1-12 1-107 1-25 1 28 1 83 1-35 1-18 1 12 1-55 1 8 1 28 1-13 1-54 1 43 1-25 1 50 1-30 1 19 1 13 1-30 1-66 1 65 1-127 1 50 1-19 1-41 1 54 1 33 1 28 1 11 1-19 1 0 1-15 1 43 1-17 1-19 1 36 1 33 1-40 1 41 1-82 1 18 1 10 1-6 1 52 1 38 1-61 1 50 1-78 1 12 1 56 1 26 1-76 1-3 1 41 1-48 1-8 1 28 1 42 1 53 1-26 1-36 1-56 1-33 1-12 1 55 1 24 1-20 1 12 1-4 1 17 1-4 1-34 1-9 1 55 1 11 1 36 1 51 1-72 1-12 1-83 1-6 1-1 1 25 1 29 1-24 1 21 1-43 1-14 1-13 1 13 1 36 1-27 1-37 1-14 1 45 1 35 1 18 1 48 1-52 1-46 1 33 1-28 1-44 1 94 1-37 1-39 1 53 1 24 1-21 1-35 1 28 1-35 1-1 1 21 1 62 1 12 1-50 1-22 1 1 1 3 1-61 1 34 1 0 1 47 1 19 1-20 1 16 1-21 1 16 1-79 1 29 1-15 1 31 1-3 1 150 1-14 1 22 1 17 1-35 1-51 1 21 1-94 1 29 1-23 1 46 1-12 1-32 1 16 1-5 1-12 1-34 1-21 1 11 1 7 1 21 1 18 1 19 1 20 1-35 1 12 1 32 1 26 1-10 1-27 1 18 1 32 1-23 1-45 1 39 1 9 1-99 1 45 1 41 1 41 1-27 1 4 1-40 1 30 1-13 1-13 1-21 1-49 1 14 1 36 1-12 1 31 1-34 1-2 1 2 1 63 1 53 1 2 1-23 1-100 1 155 1-42 1 5 1-61 1-15 1-53 1 32 1-13 1 112 1 11 1-65 1 8 1 9 1 38 1-89 1-40 1 10 1-3 1 8 1 56 1-20 1 18 1 24 1-54 1 0 1 39 1-30 1 0 1-14 1 6 1-10 1-7 1 36 1-71 1 5 1 98 1-51 1 57 1-30 1-60 1 18 1 7 1-34 1-7 1-4 1 16 1 7 1 77 1 4 1-8 1-34 1-19 1 51 1 21 1-113 1-15 1-37 1 18 1-1 1 114 1 2 1 45 1 21 1-13 1-52 1 19 1 18 1-102 1 124 1 27 1-100 1-4 1-44 1 81 1-19 1-2 1-9 1 24 1 30 1 18 1-12 1-32 1-77 1-1 1-13 1-13 1 38 1 43 1 32 1-68 1 58 1-31 1 32 1-95 1 57 1 49 1 8 1 33 1-54 1-44 1-30 1-47 1 42 1 4 1 22 1 30 1-17 1-65 1 40 1-54 1 9 1 26 1 49 1-32 1 0 1 11 1 25 1 2 1 10 1-12 1 71 1-33 1-50 1-28 1 55 1-12 1-14 1-39 1-16 1-15 1 18 1-7 1 15 1 18 1 62 1-23 1 3 1 58 1-72 1 13 1-19 1-12 1 10 1-7 1-26 1 34 1 51 1-52 1-18 1 31 1-39 1 48 1-9 1-16 1 0 1-15 1 21 1 61 1 62 1-65 1 93 1-98 1-34 1-44 1 22 1-10 1-8 1 36 1-33 1-12 1-12 1 54 1-44 1 18 1 4 1-13 1-22 1 26 1-7 1 4 1 5 1 4 1 37 1-5 1-47 1 41 1 59 1-73 1 52 1-1 1 11 1-25 1 5 1-28 1 15 1 36 1-100 1 5 1-8 1 51 1 24 1 9 1-48 1 30 1-25 1 10 1 21 1-35 1-11 1 39 1-31 1 48 1-32 1-1 1-70 1-1 1 20 1-57 1 34 1-5 1 55 1 46 1-6 1-60 1-18 1 53 1 78 1-34 1 51 1-161 1 64 1-66 1 27 1 142 1-66 1 16 1-15 1-27 1-20 1 6 1 28 1-4 1 53 1-16 1-61 1-19 1 121 1-48 1-35 1 9 1-31 1-20 1 11 1 13 1 44 1-48 1 88 1-37 1 3 1-15 1 8 1-8 1 26 1 23 1-84 1 12 1-46 1-13 1 5 1 2 1 10 1-19 1 14 1 20 1-17 1 8 1-9 1 28 1 3 1-29 1-18 1 44 1 6 1 39 1-38 1 35 1-92 1 17 1 82 1-33 1 139 1 59 1-23 1-179 1-41 1-16 1-21 1-8 1 24 1 0 1 9 1 25 1-50 1 41 1 50 1 16 1-48 1 18 1-10 1 26 1-46 1-4 1 4 1-32 1 35 1-35 1-8 1 46 1 10 1-14 1 41 1 27 1-62 1 36 1-39 1 4 1-63 1 42 1-13 1 24 1 3 1 0 1-20 1-6 1 81 1 13 1-48 1-40 1-12 1-13 1 42 1 6 1 0 1-24 1 5 1 23 1-26 1 6 1-10 1 61 1-10 1-22 1-38 1 8 1 59 1 43 1-57 1-33 1 12 1 33 1-40 1 22 1 2 1 54 1 95 1-200 1 55 1 10 1 43 1-62 1 36 1-73 1 143 1-39 1 18 1-20 1-15 1-13 1-57 1 1 1-10 1-25 1 21 1-13 1 27 1 4 1 8 1-25 1-14 1 30 1 39 1 38 1 24 1-1 1 27 1 40 1-97 1 56 1-190 1 9 1 0 1 23 1-18 1 2 1 17 1 1 1-39 1 137 1-134 1 72 1 28 1 57 1-17 1-13 1-25 1-23 1 28 1 15 1-63 1-52 1 14 1 9 1-10 1 4 1 10 1 9 1-29 1 31 1-7 1 40 1-18 1-6 1 7 1-8 1 61 1 18 1 1 1-20 1-10 1 17 1-15 1-21 1-70 1 10 1 3 1 3 1 16 1 18 1-19 1 13 1 17 1-1 1-42 1 39 1 12 1-13 1-17 1-37 1 14 1-4 1-45 1 42 1 49 1-58 1 27 1 3 1-15 1 34 1-22 1 23 1-17 1-13 1-4 1-17 1 13 1 5 1-26 1 30 1 23 1 47 1-61 1 26 1-26 1 3 1-7 1 17 1 6 1-24 1 4 1 35 1 3 1 46 1-33 1-33 1-3 1-34 1-31 1 27 1-15 1 25 1 6 1 15 1 3 1-45 1-18 1 42 1 35 1 19 1-1 1 53 1 10 1-39 1 72 1-43 1 1 1-87 1-13 1-14 1 2 1-16 1 42 1-38 1 9 1 38 1 77 1 36 1-53 1-85 1 4 1-6 1 11 1-39 1 2 1 26 1-40 1 24 1-9 1 39 1 61 1-75 1 6 1-24 1 10 1 18 1-10 1 3 1 21 1 63 1-29 1-50 1-25 1 44 1-36 1 43 1 12 1-9 1-7 1 24 1 1 1-14 1-9 1-22 1-20 1 4 1 23 1-18 1 5 1 24 1 81 1-32 1-38 1-34 1 31 1-2 1 57 1-25 1-21 1 23 1-30 1-31 1-21 1 31 1 0 1-24 1 10 1 14 1 8 1-24 1-7 1-17 1-29 1-23 1 58 1-32 1 50 1-27 1 36 1-10 1 4 1-19 1 5 1-10 1 64 1-18 1-18 1-6 1-30 1 15 1-9 1 62 1-27 1-16 1 28 1 75 1 16 1-14 1-15 1 58 1 8 1-30 1-33 1 49 1-128 1 47 1 65 1-22 1 15 1-108 1 83 1-44 1-22 1 31 1 18 1 49 1-24 1-8 1-15 1-58 1 18 1 5 1 50 1-68 1-29 1 79 1 76 1-96 1-59 1-9 1-31 1 55 1 2 1-16 1 12 1 32 1 3 1 26 1-67 1 16 1 24 1 67 1-74 1 5 1-19 1 5 1-6 1 2 1 20 1-17 1 28 1-15 1-13 1-20 1 31 1-64 1 11 1 42 1 59 1-16 1-6 1-28 1 56 1-12 1-26 1-33 1 63 1 13 1 16 1-14 1-3 1-18 1 27 1-126 1-7 1 16 1-40 1 17 1 23 1-25 1 44 1-4 1-5 1 37 1 81 1-7 1 38 1-50 1 58 1-109 1-65 1 35 1 77 1-24 1 14 1-5 1 56 1 40 1-57 1 39 1-150 1 143 1-51 1 0 1 30 1-82 1 14 1-25 1 52 1 46 1-30 1-69 1 41 1 15 1 6 1-62 1 5 1-10 1-20 1-9 1 89 1-68 1-2 1-4 1 48 1-9 1-10 1 14 1 21 1-51 1-3 1 7 1-4 1 20 1-9 1-13 1 33 1 0 1-1 1-9 1 14 1-4 1 14 1 27 1 7 1 51 1-55 1-28 1 27 1 23 1 17 1 26 1-162 1 119 1-8 1-52 1-22 1-12 1 50 1-65 1 12 1 90 1-8 1-2 1-37 1 34 1-21 1 6 1-54 1 14 1-17 1-24 1 33 1-8 1 3 1-41 1-3 1 31 1-43 1 29 1 9 1 3 1-10 1 28 1 9 1 13 1-11 1 28 1 8 1 46 1-88 1-16 1-30 1 30 1 68 1 54 1-42 1 10 1-3 1 3 1 35 1-95 1 50 1-8 1 35 1-3 1 37 1-35 1-153 1 86 1-53 1 6 1-33 1 93 1-86 1-3 1 85 1 31 1-59 1 65 1-44 1-45 1 54 1-5 1-57 1 70 1-111 1 37 1-18 1 27 1-9 1-14 1 4 1-23 1-12 1-27 1 152 1-130 1 12 1 16 1 3 1-25 1-19 1 80 1 43 1-63 1-38 1 22 1 17 1 23 1 88 1-55 1 28 1 10 1 7 1-80 1-13 1-37 1 12 1-13 1-11 1 145 1 24 1 11 1 33 1-84 1 61 1-52 1-28 1 13 1-44 1-19 1-29 1 2 1-8 1 1 1 48 1-2 1 3 1-5 1-2 1-24 1 8 1 27 1-21 1 79 1 42 1-78 1 50 1-32 1 30 1-46 1-20 1-34 1-9 1-23 1 37 1-35 1 23 1-14 1 15 1-22 1 1 1 6 1-6 1 12 1 8 1-30 1-2 1 12 1 20 1-24 1 32 1 6 1 42 1 14 1-5 1-23 1-2 1-32 1 66 1-78 1-7 1-4 1 31 1-24 1 28 1 3 1-6 1-14 1-8 1 30 1 44 1-57 1-18 1-8 1-3 1-4 1 62 1-7 1-33 1 1 1-15 1-4 1 18 1 25 1 0 1-31 1 52 1-37 1 64 1-77 1 8 1-3 1 16 1-27 1 24 1-36 1 119 1 10 1-121 1-14 1 26 1 11 1-6 1-24 1 25 1-41 1-13 1 47 1-12 1 0 1 14 1 66 1 39 1 1 1-51 1 24 1-7 1-66 1-19 1 57 1-29 1 8 1-16 1 0 1 31 1-60 1 88 1 28 1-60 1 2 1-12 1 36 1-34 1 28 1 41 1 33 1-67 1-2 1-29 1-9 1 11 1 45 1-19 1-26 1 43 1 15 1 22 1-70 1 90 1-48 1-8 1-17 1-10 1-40 1-14 1-13 1 32 1-7 1 8 1 43 1-20 1 63 1 30 1-66 1-29 1 70 1-31 1-13 1 4 1 38 1-4 1-43 1-59 1-12 1 35 1-15 1-47 1 25 1 48 1-30 1 26 1 1 1 56 1 35 1 48 1-84 1-84 1 0 1-11 1 3 1 27 1-42 1 5 1 0 1-16 1 20 1 50 1 63 1-1 1-54 1-15 1-16 1 21 1 53 1-3 1-9 1 81 1-51 1 11 1 43 1-51 1-33 1-11 1 71 1-50 1 4 1-28 1-38 1-6 1-26 1-4 1 26 1 27 1-52 1 23 1-35 1 8 1 1 1-8 1 56 1-24 1 0 1-1 1 15 1-36 1 16 1-42 1 73 1-64 1-15 1-13 1 30 1 73 1 2 1-20 1-63 1 67 1-55 1 60 1-103 1 47 1 28 1 43 1 31 1-13 1-75 1 46 1-16 1-4 1 64 1-13 1 72 1-79 1-41 1 25 1 8 1 9 1 14 1-41 1 37 1 0 1 33 1-64 1-10 1-33 1 31 1 99 1-51 1-26 1-35 1 4 1-17 1-16 1 23 1 83 1-41 1-11 1 13 1 42 1-77 1-2 1 0 1 35 1 23 1-19 1 44 1-62 1 15 1-45 1 2 1 31 1-58 1 12 1 24 1-23 1-1 1 8 1 75 1 59 1-64 1 11 1-31 1 29 1-22 1 64 1-15 1-72 1-7 1 15 1 2 1-2 1-57 1 7 1-2 1 23 1-11 1-5 1 30 1 64 1-5 1-56 1 23 1 9 1-46 1 9 1 73 1-75 1 1 1 21 1 7 1-22 1 20 1-58 1-2 1-5 1 3 1 26 1-1 1-40 1 25 1 12 1-4 1 31 1-28 1 48 1-20 1 36 1 2 1 2 1-92 1 26 1-22 1 0 1 31 1-22 1 9 1 62 1 62 1-32 1-23 1 0 1 25 1-4 1-34 1 21 1-15 1-3 1-26 1-33 1-45 1 58 1-3 1 37 1 41 1 60 1-5 1-28 1-9 1-25 1-17 1-21 1-1 1-10 1-2 1 21 1 51 1 49 1-45 1-101 1 79 1 12 1 22 1-5 1-20 1-71 1 24 1 23 1-16 1-33 1 13 1 25 1-19 1-6 1-10 1 57 1-31 1-3 1-35 1 17 1-9 1 16 1-58 1 60 1 38 1 24 1-55 1-56 1 101 1-38 1-36 1 12 1 28 1 4 1 48 1-113 1 95 1-10 1-57 1 57 1-12 1 55 1-79 1-2 1 40 1 31 1-65 1 40 1-1 1-10 1 33 1-72 1-52 1 28 1 2 1-14 1-8 1-8 1 48 1 2 1-89 1-10 1-63 1 69 1-27 1 164 1 47 1-42 1-27 1-10 1-74 1-49 1-19 1 59 1-35 1 171 1-7 1-28 1 34 1-60 1-36 1-7 1 12 1 19 1-16 1-8 1-18 1 32 1-14 1-21 1 40 1 0 1 3 1 10 1-30 1 14 1-17 1-3 1-11 1 17 1 30 1-20 1 4 1-19 1 24 1 23 1-26 1 0 1 9 1-19 1 12 1-2 1-12 1 43 1-36 1 5 1 14 1 2 1 22 1 64 1-26 1 1 1-74 1-38 1 23 1-3 1-22 1 1 1 14 1 17 1 38 1-34 1-16 1 2 1 6 1-39 1 2 1-20 1 47 1 34 1 26 1-32 1 12 1-43 1 4 1-19 1 18 1-16 1 98 1 54 1-91 1 61 1 24 1-39 1-27 1 51 1-148 1 79 1 58 1-72 1 102 1-47 1 7 1-37 1-32 1 20 1 57 1-9 1-89 1 40 1-45 1 27 1 33 1-55 1 19 1 78 1-75 1 43 1-72 1 61 1-38 1 2 1-12 1 20 1 59 1-16 1-3 1-42 1-10 1-29 1 20 1 16 1 16 1 27 1-47 1-3 1 43 1 15 1-74 1-52 1-19 1 23 1 7 1-42 1 39 1 48 1 41 1 3 1-71 1-2 1 6 1-9 1 23 1 0 1 38 1 47 1 5 1 32 1-109 1 9 1 155 1-105 1 10 1-34 1-35 1 12 1 38 1 27 1-75 1 107 1-2 1-31 1 46 1-66 1 22 1-14 1-63 1-19 1 15 1 9 1-36 1-36 1 8 1 66 1 19 1-35 1 29 1 9 1 32 1 3 1-47 1-75 1-34 1 82 1 52 1-39 1-22 1 47 1 64 1-58 1-28 1-6 1 28 1-17 1 52 1-41 1-65 1 16 1-16 1 33 1-4 1 11 1-9 1 14 1 61 1-50 1 39 1-47 1 42 1-35 1-12 1 20 1-32 1-1 1-33 1-3 1-18 1 73 1-36 1 16 1 12 1 48 1 18 1-2 1-16 1-10 1 7 1-12 1-32 1 20 1 21 1-41 1-9 1 36 1-25 1-9 1-50 1-6 1 97 1-77 1 37 1 7 1 12 1 10 1-37 1 40 1-53 1 38 1 51 1-45 1 8 1 22 1-22 1 14 1-9 1 9 1-10 1 26 1-33 1 13 1-7 1 80 1-42 1 10 1-6 1 1 1 10 1 25 1-57 1 12 1-1 1 5 1 18 1-53 1 24 1-18 1 29 1 49 1-101 1 89 1-91 1 65 1-48 1 95 1 8 1-66 1 0 1 2 1-60 1-8 1 24 1 23 1-30 1-35 1 21 1 14 1-28 1 34 1-11 1-2 1 12 1 36 1 3 1 64 1-137 1 125 1 3 1-3 1-74 1-23 1 39 1-33 1 17 1 48 1-17 1-9 1-39 1-28 1-19 1 33 1 9 1 69 1-24 1 76 1 14 1-17 1-75 1 56 1-131 1 77 1 59 1-16 1-69 1-67 1 12 1 19 1 24 1-57 1 1 1-52 1 53 1-11 1 7 1-33 1 11 1 16 1 44 1 20 1 4 1-31 1 27 1-5 1 11 1-18 1 86 1-78 1 56 1-51 1 47 1 7 1-7 1-43 1 2 1-1 1-30 1-19 1 14 1-5 1-26 1 2 1 40 1 4 1 59 1-83 1 4 1 65 1 10 1-25 1-27 1 10 1 16 1 33 1-43 1-39 1-1 1 4 1 4 1 25 1 15 1-20 1-6 1-9 1 32 1-27 1 42 1-47 1 13 1-6 1 160 1 32 1-135 1-15 1 66 1-67 1-12 1-25 1 9 1-15 1 30 1 32 1 7 1 48 1-56 1 4 1-2 1 23 1-36 1-43 1 16 1-35 1-1 1 2 1 67 1 26 1-59 1-34 1-49 1 33 1-10 1 58 1 30 1 33 1 17 1-35 1-64 1-3 1 47 1-53 1-6 1 59 1-55 1 4 1-18 1 26 1 20 1-17 1 60 1-17 1-40 1-14 1 6 1 17 1 13 1-52 1 0 1 2 1 37 1-15 1-21 1 87 1-74 1-19 1 13 1 70 1-90 1-8 1 24 1 56 1-43 1 71 1-14 1 1 1 38 1 9 1 6 1-60 1-23 1-41 1 41 1-44 1-2 1-24 1 20 1-4 1 39 1-34 1 5 1 27 1 118 1 34 1-41 1-55 1 33 1-16 1-21 1-87 1 0 1 55 1-20 1 46 1 33 1 15 1-58 1-61 1-10 1 54 1-6 1-27 1 2 1 97 1-109 1 57 1 36 1-7 1-38 1-35 1-18 1-22 1 31 1 76 1-34 1 61 1-45 1-27 1-7 1-40 1-2 1 49 1 26 1-33 1 22 1-28 1 10 1-11 1 34 1-2 1 57 1 7 1-47 1 13 1 24 1-56 1-34 1 44 1-18 1-22 1 32 1 23 1-7 1-63 1 5 1 6 1 104 1-40 1-50 1 40 1-40 1-13 1-22 1 7 1 4 1-62 1-37 1 60 1 61 1-14 1-11 1 1 1 10 1-38 1 114 1-33 1 8 1-28 1-19 1 29 1-59 1-16 1-9 1 4 1 54 1 23 1 46 1-14 1-61 1 90 1 12 1-19 1-15 1-73 1 141 1-56 1-58 1 51 1-96 1 18 1 38 1 76 1-109 1 44 1-80 1 125 1-80 1 39 1-13 1-50 1-7 1 5 1 4 1 54 1 51 1-48 1-53 1-23 1-14 1 80 1-132 1 42 1 10 1 84 1-42 1 0 1 1 1-25 1 52 1-7 1 30 1-61 1 50 1 17 1-26 1-55 1 10 1 56 1 22 1-24 1-24 1 47 1-53 1 34 1 30 1-6 1 37 1 29 1-21 1-103 1 26 1-62 1 59 1-54 1 92 1-25 1-23 1-7 1 32 1-19 1-22 1 0 1-7 1-5 1 15 1 22 1-6 1-6 1-21 1-28 1 19 1 22 1-52 1 14 1 11 1 35 1-13 1 85 1 13 1-13 1 11 1-31 1-54 1-11 1 17 1 94 1-128 1 61 1-58 1-9 1-13 1-8 1 58 1 17 1 18 1-28 1-36 1 7 1-42 1 19 1 28 1 26 1 81 1-49 1 13 1-36 1-17 1-16 1 67 1 5 1-1 1-23 1 34 1-103 1 65 1 53 1-27 1 35 1-51 1 12 1 5 1 28 1-132 1 90 1-5 1-57 1-13 1 44 1 19 1-24 1-1 1 26 1-19 1-29 1-29 1-30 1 16 1 24 1 20 1 104 1-74 1-54 1 152 1-34 1 4 1-9 1-132 1 164 1-123 1 26 1 33 1-52 1 98 1-9 1 45 1-31 1-61 1-58 1 4 1-11 1 62 1 66 1-109 1-15 1-8 1 144 1-86 1 28 1-4 1-56 1 4 1-20 1-12 1-20 1-13 1 10 1 43 1-26 1 47 1-3 1-15 1-22 1-50 1 10 1 27 1 15 1 60 1 85 1-22 1-30 1 4 1-4 1-4 1-77 1 29 1-58 1 31 1 13 1 5 1-19 1-34 1-13 1-15 1 12 1 16 1 14 1 45 1-64 1 14 1 31 1 45 1 3 1 33 1-56 1-41 1 29 1-39 1-12 1 2 1 4 1 17 1-19 1 65 1-30 1 5 1 91 1-9 1-25 1-36 1-7 1 34 1-19 1-9 1 132 1 18 1-30 1-143 1 99 1-99 1 3 1 21 1 2 1 34 1 13 1 17 1-41 1 14 1-15 1-20 1 38 1-34 1-56 1 18 1-3 1-25 1-22 1 9 1 19 1-4 1 46 1 30 1 15 1-27 1 40 1-24 1 61 1 19 1 9 1-56 1-82 1 64 1-22 1-1 1-20 1 21 1-36 1 85 1-56 1-52 1 37 1-6 1 44 1 3 1 1 1-101 1-2 1 86 1-68 1 12 1 3 1-27 1 73 1-24 1 14 1-62 1 117 1 4 1-41 1 53 1-9 1-45 1-76 1 19 1-27 1 40 1 31 1-38 1-19 1-40 1 36 1-4 1-4 1-17 1 42 1 2 1 19 1-18 1-15 1 45 1-45 1-75 1 40 1 8 1 12 1 12 1-15 1-4 1 34 1 81 1 4 1-35 1-56 1 0 1-10 1-19 1-20 1 35 1 13 1-14 1 23 1 33 1 4 1-8 1-39 1 19 1 29 1 6 1-40 1 66 1-30 1-44 1 14 1 18 1 37 1 19 1-16 1-63 1-49 1-18 1 15 1 134 1-63 1 48 1-55 1-8 1-30 1-4 1 22 1 3 1 15 1 42 1-5 1-8 1 34 1-7 1-43 1-5 1 38 1-66 1 27 1-38 1-3 1-21 1 5 1 40 1-33 1 28 1 53 1 47 1-41 1 7 1 3 1 44 1-100 1-23 1-23 1 4 1-22 1 25 1-27 1 15 1 20 1-15 1-2 1-1 1 54 1 29 1 37 1 8 1-28 1 21 1-23 1 25 1-10 1-41 1-46 1-46 1 8 1 4 1 116 1-87 1 36 1-34 1-24 1-47 1 125 1-35 1 57 1-83 1 16 1-25 1 9 1 52 1-2 1-32 1 80 1-20 1-54 1 56 1-3 1-46 1 62 1-11 1-74 1 39 1 29 1-14 1-20 1 66 1 3 1-11 1 3 1-71 1 88 1-20 1 43 1-45 1-38 1-37 1-16 1 62 1 43 1-16 1-41 1 26 1 4 1-29 1-10 1-37 1 44 1-22 1-3 1-2 1 8 1 19 1-47 1 25 1-12 1 0 1 26 1-12 1-11 1-39 1 31 1-13 1-7 1-15 1 29 1-2 1 46 1-17 1-34 1-31 1 78 1 10 1-20 1 65 1-103 1-2 1 63 1-98 1 5 1 69 1 29 1 18 1-11 1-66 1 26 1 208 1 20 1-26 1 64 1-90 1-81 1 121 1-172 1-88 1 63 1-5 1 34 1-40 1-17 1 33 1 9 1 9 1-31 1 61 1-34 1-21 1-6 1 11 1-31 1-17 1-1 1 2 1-14 1-9 1 40 1 43 1 4 1 17 1 6 1-11 1-64 1-1 1-4 1-20 1 25 1 12 1 67 1 15 1-47 1 4 1 2 1-63 1-40 1 10 1 32 1 47 1-8 1 36 1-14 1 9 1-7 1 3 1-54 1 8 1-45 1 21 1-35 1 38 1-2 1 15 1 39 1-70 1 5 1 37 1 56 1-36 1-28 1-3 1 26 1 13 1 43 1 4 1-3 1-42 1-34 1 42 1-97 1 73 1-4 1 28 1-15 1 28 1 10 1-104 1 179 1-97 1-33 1 13 1-2 1-23 1-25 1 38 1 13 1-6 1-28 1 20 1-12 1-18 1 8 1-7 1-23 1 49 1-3 1-7 1-52 1 72 1 28 1 53 1-84 1 66 1 26 1-18 1-18 1-4 1-43 1-14 1 32 1 11 1-20 1 18 1-25 1-1 1 17 1 6 1 35 1-29 1 13 1 15 1-6 1-91 1-24 1 30 1 41 1-29 1 39 1-47 1 28 1-38 1-47 1 25 1-6 1-7 1 33 1-33 1 70 1-31 1 2 1-5 1-63 1 47 1 33 1 2 1 46 1-27 1-14 1-47 1 38 1-39 1-2 1-1 1 8 1 4 1 24 1 31 1-50 1 81 1-54 1-16 1-7 1-26 1-11 1 27 1-58 1 38 1-9 1 140 1 43 1-180 1 32 1-5 1-1 1 49 1-9 1-23 1 31 1 40 1-18 1 8 1 21 1-24 1 21 1-26 1-49 1-10 1-3 1 35 1-45 1 12 1-41 1 25 1 5 1 44 1-17 1 47 1-16 1-60 1-12 1 44 1-28 1 42 1 6 1 13 1 4 1-8 1 87 1-74 1-7 1 31 1-29 1-56 1 38 1-26 1 4 1-1 1 20 1-5 1-22 1 57 1 19 1 4 1 6 1-97 1-11 1 172 1-51 1-20 1-22 1-23 1 14 1-99 1-20 1-15 1 59 1-17 1 98 1-38 1-38 1 19 1 25 1-13 1 31 1 73 1-69 1-57 1 51 1-29 1-4 1 4 1-19 1 19 1 12 1-6 1-10 1 93 1-67 1-24 1-29 1 13 1 39 1-23 1-14 1-21 1-7 1 33 1 42 1 1 1-21 1 2 1 17 1-12 1 67 1-16 1 75 1-106 1 65 1-95 1-27 1-22 1-10 1 22 1 5 1-34 1 42 1 11 1-24 1 26 1-44 1 43 1 28 1-8 1-74 1-13 1-44 1 36 1-25 1 102 1-9 1-2 1 1 1-6 1-6 1-14 1-35 1 35 1-40 1-5 1 147 1-116 1 5 1 2 1 16 1-12 1 41 1 29 1-36 1-11 1 59 1-26 1-8 1-27 1 8 1 4 1 39 1-1 1 10 1-26 1 78 1-20 1-55 1-41 1 93 1-30 1-10 1-14 1 25 1-35 1-5 1 71 1-38 1 41 1 28 1-36 1 6 1-19 1-17 1 2 1-17 1 60 1-76 1-22 1 31 1 10 1-46 1 39 1 64 1-89 1-29 1 3 1-32 1 9 1-1 1 2 1-2 1 41 1 6 1-4 1 43 1 45 1-12 1-68 1 10 1-29 1-22 1-21 1 3 1 66 1 82 1-53 1 68 1-18 1 2 1-4 1-39 1 40 1-40 1-25 1 66 1-22 1-11 1-26 1-17 1 85 1-89 1 0 1-24 1-14 1 40 1 5 1 9 1-61 1 51 1-41 1-11 1 15 1 42 1 8 1-24 1 37 1-12 1-22 1-17 1 18 1-15 1-13 1 76 1 38 1 41 1 3 1-62 1-32 1-18 1 18 1-39 1 62 1 47 1-52 1 2 1-48 1-24 1-18 1 34 1 24 1 62 1-17 1-13 1 13 1-3 1-20 1-39 1 24 1 19 1-4 1-27 1-54 1-12 1 90 1 63 1 10 1-81 1-56 1 156 1-114 1-51 1 121 1-3 1-15 1 17 1 39 1-74 1 70 1 26 1-76 1 18 1 25 1-57 1 10 1-46 1-58 1-48 1 34 1 7 1 30 1-37 1 2 1 24 1-40 1 22 1 111 1 16 1 11 1-38 1-45 1 31 1 0 1-27 1 5 1-23 1-38 1 31 1-2 1-25 1 10 1-29 1 24 1-16 1 7 1-2 1 31 1-23 1 47 1-33 1 8 1-1 1-28 1 54 1-25 1-5 1 24 1-24 1 8 1-44 1 27 1-31 1 82 1-91 1 35 1 10 1 51 1 21 1 14 1-28 1 48 1-36 1 8 1-46 1-19 1 26 1-10 1-6 1 21 1 7 1 1 1 33 1 37 1-32 1 60 1-51 1-48 1 11 1-22 1 27 1-32 1-86 1 8 1 20 1 13 1 55 1 24 1 3 1 15 1-17 1-52 1 55 1 16 1-18 1 38 1-124 1 101 1-33 1-14 1 38 1-29 1-30 1 22 1-1 1 11 1 7 1 16 1-23 1 29 1-69 1-11 1 17 1-52 1 13 1 85 1-43 1-57 1 14 1-82 1 45 1 0 1 179 1-110 1 28 1-4 1-50 1 32 1 9 1 19 1 55 1-34 1-28 1 52 1 1 1 25 1 28 1-52 1 5 1-135 1 34 1 53 1-44 1 35 1-23 1 2 1 33 1-12 1-51 1-23 1 27 1 17 1 78 1 36 1-1 1-23 1-34 1 10 1-53 1 34 1-29 1 36 1 6 1-16 1-31 1 26 1 10 1 2 1-16 1-47 1-10 1 18 1 15 1-32 1-24 1-12 1 20 1 36 1 29 1-5 1 36 1-3 1-75 1 0 1-12 1 38 1-34 1 19 1 4 1 0 1 3 1 21 1-83 1 12 1 29 1-49 1 39 1-28 1 82 1-42 1 19 1-13 1 4 1 43 1-7 1-3 1-26 1 9 1 64 1 24 1-2 1-46 1 5 1-40 1 10 1-13 1-26 1 4 1 60 1-44 1 10 1-22 1 102 1-19 1-13 1 7 1-9 1 28 1 19 1-40 1-4 1-36 1-14 1 27 1-5 1 8 1-23 1-45 1 9 1 23 1-51 1 22 1 29 1 16 1 79 1-76 1-34 1-20 1-2 1 16 1 23 1 29 1-28 1-23 1-11 1 39 1-48 1 32 1 5 1 6 1 19 1 84 1 26 1-115 1 40 1 6 1-100 1-39 1 28 1 67 1-51 1 2 1-3 1 8 1 13 1 5 1-20 1 29 1 42 1-26 1 21 1-18 1 38 1-19 1 11 1 13 1-35 1 20 1 90 1-92 1-4 1-3 1 9 1 39 1 5 1-57 1-16 1-16 1-12 1-31 1 48 1-34 1-6 1 37 1-18 1-27 1 17 1-16 1 75 1 50 1-38 1-11 1-29 1-14 1-19 1 53 1 49 1-59 1-13 1-1 1 7 1-45 1 27 1-8 1-30 1 25 1 22 1 11 1 70 1-61 1-34 1-43 1 15 1-1 1-7 1-37 1 13 1 125 1-86 1-2 1 162 1-54 1 68 1-75 1-46 1-18 1 12 1-14 1-31 1 42 1-16 1 32 1-6 1-1 1 32 1 79 1-19 1 20 1-42 1-26 1-48 1-19 1 70 1 53 1 7 1-27 1-34 1 11 1-30 1 25 1-55 1 13 1 13 1 8 1-12 1-54 1-1 1-18 1 27 1-15 1-12 1-16 1 35 1 31 1-5 1-20 1 28 1-11 1-43 1 66 1 39 1-11 1-32 1-6 1-21 1-36 1 20 1 29 1-42 1 57 1-35 1-31 1 1 1 22 1-2 1 19 1-51 1-5 1 12 1-1 1-3 1-17 1 7 1 32 1 12 1 36 1 43 1-28 1 8 1-7 1-33 1-28 1 1 1 19 1-19 1 27 1-42 1 18 1-24 1 34 1-20 1-5 1 10 1-21 1-4 1 8 1 10 1-5 1 3 1 27 1 22 1-1 1 36 1 61 1-65 1 7 1-84 1 1 1-13 1-10 1 11 1 17 1 54 1 30 1 35 1-117 1-49 1 50 1 23 1 48 1 17 1-33 1-19 1-17 1 3 1 6 1-6 1-24 1-12 1 4 1 50 1 25 1-14 1-44 1-32 1 25 1-4 1 22 1 32 1-10 1-23 1-5 1 84 1-60 1 73 1-61 1-49 1 5 1-17 1 21 1 1 1-9 1 19 1-29 1 19 1 3 1 3 1-18 1-6 1 55 1-32 1 35 1 27 1 13 1-9 1-37 1-25 1 51 1-9 1-45 1-23 1 2 1 27 1-17 1 11 1 47 1-24 1 57 1-62 1-55 1 76 1-95 1 19 1 5 1-7 1 41 1 95 1 3 1 17 1-46 1-16 1 50 1-25 1-38 1 23 1-18 1-7 1 12 1 13 1-25 1-44 1 23 1-18 1-3 1 21 1 19 1 29 1-20 1-27 1 9 1 63 1-22 1-9 1 4 1-50 1 29 1 6 1-12 1-50 1 41 1-9 1 67 1 10 1-9 1-48 1 35 1-23 1 22 1-18 1 19 1-3 1-3 1-60 1 35 1-24 1-34 1 6 1-10 1-43 1 47 1 42 1-21 1 1 1-38 1 25 1 3 1-13 1 77 1-60 1 1 1 33 1 16 1 9 1-58 1 32 1-46 1 96 1 64 1-48 1-86 1-28 1 8 1 23 1-30 1-45 1 23 1 17 1 22 1 48 1 18 1-28 1 15 1-22 1-11 1-22 1-35 1 12 1 51 1-11 1-18 1-41 1 11 1 29 1 34 1-23 1 10 1-31 1-26 1 11 1-4 1 9 1-6 1 50 1 29 1-60 1 55 1 32 1-36 1 30 1 3 1 20 1-74 1 4 1-49 1 4 1 61 1-10 1 65 1-56 1 81 1-69 1-27 1-46 1-2 1 2 1 19 1 26 1 24 1 5 1 0 1-80 1 0 1 36 1-35 1 8 1 29 1-1 1 25 1-22 1 13 1-34 1 47 1-12 1 47 1-77 1 45 1-65 1 16 1-21 1 34 1 14 1-73 1 32 1-18 1-47 1 32 1 4 1 85 1 9 1-42 1-54 1 19 1 68 1-44 1 33 1 0 1 17 1 50 1 79 1-103 1-16 1-6 1 19 1-23 1 39 1-35 1-35 1 77 1 46 1-98 1 25 1-1 1 13 1 1 1-65 1 96 1-18 1-77 1-25 1 3 1 23 1-57 1 29 1-38 1 45 1 65 1-5 1 14 1 94 1-30 1-117 1 12 1-11 1 7 1 6 1-5 1-1 1 4 1-9 1-8 1 2 1 63 1 25 1-28 1 50 1-81 1-9 1 18 1-66 1-9 1 33 1-7 1-62 1 6 1-38 1 10 1 115 1 52 1-32 1 76 1-17 1-60 1-26 1 4 1-12 1-1 1-34 1-3 1-7 1 30 1 11 1 21 1-35 1-17 1 6 1-14 1 8 1 14 1-10 1 0 1-55 1 55 1-17 1 35 1-19 1 37 1 61 1-74 1 7 1-45 1 29 1 30 1-41 1 24 1-2 1 32 1 1 1 79 1-13 1-20 1-54 1-36 1 7 1-1 1 4 1-54 1 31 1-14 1 6 1 46 1-21 1-29 1 1 1 41 1 97 1 15 1-41 1-108 1 58 1 38 1-3 1-17 1-42 1-28 1 29 1-30 1-33 1-8 1 21 1 16 1 31 1 70 1 12 1-93 1 90 1-155 1-25 1 31 1 62 1 20 1 10 1-20 1-39 1 64 1 35 1-5 1 26 1 3 1-21 1 16 1-49 1-29 1-21 1-6 1-12 1 109 1-47 1 30 1-82 1 28 1-10 1 55 1 34 1-28 1-27 1-52 1-14 1-23 1 50 1-21 1-29 1 35 1-1 1 9 1-18 1-11 1-3 1 23 1 66 1-12 1-5 1-7 1-22 1-47 1-17 1 7 1 29 1 44 1-44 1-8 1 8 1 54 1 7 1-28 1-12 1 16 1-6 1 8 1 12 1-44 1-12 1 2 1 20 1-30 1 47 1-7 1 38 1-54 1 120 1-147 1 4 1 204 1-39 1-8 1 39 1-18 1-60 1 42 1-37 1 53 1-8 1-63 1-133 1 18 1-31 1 7 1 47 1-31 1 13 1 99 1-72 1-38 1 16 1-2 1 45 1 35 1-12 1-3 1 30 1-7 1-22 1 22 1 22 1-8 1 31 1 16 1-8 1 61 1-12 1-43 1 20 1-73 1-19 1-45 1 9 1-12 1 10 1 42 1-25 1 27 1-24 1 36 1-8 1 4 1-49 1 14 1-31 1 98 1-5 1 40 1-35 1 20 1-153 1 10"/>
<path vector-effect="non-scaling-stroke" stroke="#61D04F" stroke-dasharray="2 6" d="M0 392l1 17 1-35 1-7 1-7 1 6 1 35 1-2 1 20 1-9 1 11 1-39 1-23 1 14 1 1 1 11 1-6 1 66 1-109 1 91 1-36 1 3 1 22 1 29 1-34 1 25 1-41 1-5 1 34 1-7 1-26 1 20 1 50 1-17 1-77 1 22 1 20 1 32 1-51 1 8 1 0 1-11 1-6 1 56 1-32 1 38 1 49 1-7 1-32 1-3 1 21 1 17 1-29 1 3 1 38 1 44 1-16 1-11 1-115 1 26 1 64 1-62 1-28 1 25 1 29 1-23 1 37 1 25 1-95 1 68 1-9 1 54 1-41 1 31 1-30 1-33 1-20 1-36 1-34 1 52 1 35 1-41 1 2 1-7 1 4 1-14 1 19 1-27 1 0 1 2 1 10 1 42 1 7 1 53 1 39 1-2 1 8 1-100 1 34 1-16 1-80 1-18 1-17 1 57 1-3 1 17 1-27 1-1 1 19 1-16 1 28 1-33 1 50 1 43 1 85 1-44 1 15 1-74 1 34 1-65 1 5 1 58 1-71 1 42 1-14 1-21 1-30 1 6 1-21 1-6 1 4 1 13 1 2 1 34 1 29 1-19 1-60 1 61 1-4 1-24 1 33 1 9 1-35 1 57 1-33 1-23 1-1 1-26 1-6 1 11 1 3 1 56 1 37 1-54 1-11 1-25 1-25 1 29 1 7 1-29 1-24 1 50 1-16 1 9 1 43 1 6 1 3 1 12 1-10 1 9 1-22 1-43 1 24 1 39 1-83 1 41 1 57 1-59 1 37 1-22 1 8 1 30 1-33 1 42 1-41 1 76 1-37 1-12 1 24 1-121 1 191 1-35 1-28 1-63 1-34 1 38 1 25 1 45 1-11 1-19 1-24 1 19 1-36 1 150 1 12 1-30 1 59 1-53 1-43 1-70 1-43 1-7 1-14 1 60 1-38 1-21 1-39 1 29 1 12 1 53 1 60 1-41 1-12 1 28 1-36 1-48 1 27 1-18 1 0 1-4 1-26 1 21 1-9 1 73 1-23 1-67 1-36 1 143 1-98 1-6 1 11 1 21 1-2 1-3 1-26 1 12 1 78 1 1 1-60 1 4 1-22 1-8 1 11 1-19 1-19 1-20 1 46 1 5 1 3 1-4 1 51 1 21 1-31 1-37 1 6 1 38 1-57 1-6 1-18 1 21 1 10 1 2 1-4 1 47 1 5 1 100 1-45 1-56 1-4 1-31 1-23 1-18 1-6 1 23 1 12 1 2 1 26 1 30 1-32 1-58 1 9 1 39 1 81 1-37 1 39 1 16 1-9 1 33 1-25 1-13 1-43 1-23 1 1 1 45 1 39 1-13 1 8 1-66 1-40 1 57 1-53 1 47 1-5 1-29 1 46 1-9 1 5 1-39 1 16 1 27 1-35 1-14 1-21 1 15 1 49 1-47 1-8 1-15 1-25 1 66 1 14 1-19 1 68 1 28 1-25 1 1 1-36 1 15 1-85 1 27 1-1 1 38 1-6 1-9 1 24 1 41 1-95 1 16 1 9 1 48 1-81 1 40 1-4 1-4 1-39 1 40 1-16 1-8 1 16 1 39 1-106 1 14 1-38 1 41 1 45 1-9 1-15 1 42 1 23 1 33 1-43 1 15 1 44 1 0 1-16 1-42 1 15 1-15 1 13 1-36 1 67 1 14 1-85 1-46 1 24 1 16 1-17 1 4 1-34 1-31 1 62 1 84 1-50 1-51 1 129 1-28 1 25 1 76 1-67 1 39 1-138 1 89 1 8 1-16 1 50 1-67 1 77 1-55 1-21 1-12 1-5 1-4 1 14 1-22 1-74 1 4 1 77 1 21 1-36 1-15 1-9 1 15 1 18 1 30 1 54 1-50 1-39 1-77 1-5 1 19 1-16 1-9 1 58 1-5 1-16 1 43 1 19 1 11 1-44 1 25 1-22 1 62 1-55 1-33 1-35 1 12 1 23 1 68 1-42 1-42 1 8 1 10 1 38 1-52 1 24 1-19 1 83 1-20 1-14 1-36 1-34 1 33 1 34 1-22 1-30 1 74 1 28 1-78 1 26 1 9 1 7 1-24 1-14 1 19 1-59 1-25 1 12 1 17 1 39 1-14 1 56 1 13 1-3 1-11 1 10 1-67 1 14 1-21 1-4 1 19 1-9 1 16 1 36 1 36 1-27 1 24 1-23 1-10 1-20 1-11 1 16 1-22 1 2 1-11 1 6 1 22 1 19 1 17 1-4 1 27 1-27 1-9 1-1 1 17 1-55 1-37 1-14 1 19 1 5 1-18 1-12 1-4 1-6 1-21 1 22 1 185 1-23 1 20 1 15 1-53 1-1 1-118 1 37 1 32 1 43 1 35 1-59 1-50 1 78 1-24 1-25 1-19 1-34 1 103 1-69 1 38 1-23 1 43 1-29 1 63 1-53 1-70 1 76 1-50 1 27 1 17 1-41 1 11 1 21 1-4 1 26 1-62 1 112 1 18 1-72 1-17 1 24 1 56 1-168 1 144 1 12 1-74 1-62 1-8 1 58 1 40 1 90 1-20 1-108 1-52 1 59 1-72 1 142 1 0 1-38 1-70 1 27 1-46 1 22 1 11 1-21 1 94 1-29 1-20 1-26 1-34 1 1 1 8 1-15 1-4 1-34 1 29 1-11 1-12 1-18 1 25 1 16 1 65 1-1 1 68 1-5 1 6 1-3 1-3 1-27 1-56 1-17 1 29 1 25 1-5 1-29 1 37 1-28 1-59 1 10 1 42 1-44 1-8 1 13 1 13 1-7 1-11 1 31 1-11 1 62 1-1 1 23 1-24 1-34 1-48 1-14 1 47 1-2 1-36 1 43 1 4 1-43 1 9 1 41 1-15 1 22 1-19 1 30 1-5 1 15 1 43 1-7 1-121 1-13 1 24 1-34 1 10 1 4 1 36 1 15 1-11 1-47 1 17 1 53 1-28 1-56 1 27 1 13 1 7 1 50 1 39 1-15 1-42 1-18 1 25 1 2 1-43 1-2 1 19 1-30 1 35 1-68 1 48 1 20 1 60 1 31 1-2 1 0 1 5 1 1 1 49 1-56 1-5 1 0 1-34 1 11 1-24 1-84 1 41 1 46 1 18 1-24 1 76 1-32 1-22 1-16 1 23 1-8 1-12 1-9 1 45 1-31 1 38 1-46 1 84 1-22 1 9 1-39 1 20 1-93 1 25 1-37 1 4 1 6 1-38 1 2 1 40 1 5 1 31 1-21 1 8 1 85 1-36 1 49 1-50 1-37 1 83 1-28 1 7 1 0 1-12 1 10 1 21 1-94 1 60 1 1 1-18 1-89 1-23 1-7 1 8 1 37 1 20 1 0 1-35 1-8 1-7 1-3 1 6 1-2 1 84 1 72 1-118 1 135 1-59 1-28 1-35 1 0 1-16 1 55 1-39 1 34 1 4 1 7 1-16 1 41 1 38 1-87 1 51 1-65 1-2 1 77 1-2 1 17 1 21 1-62 1 1 1-54 1-8 1-9 1 25 1-47 1 22 1 6 1-20 1 7 1-2 1 41 1-49 1-55 1 57 1-9 1-71 1 79 1-38 1 18 1-8 1 7 1 28 1 4 1-28 1 125 1 25 1 64 1 21 1-82 1 0 1-33 1-35 1-20 1-2 1 60 1-64 1 32 1-49 1-2 1 3 1-20 1 33 1 11 1-1 1-1 1 3 1-9 1-26 1 25 1-2 1 3 1-1 1-43 1 9 1-40 1 11 1 51 1 1 1 22 1-42 1 53 1-2 1-24 1 93 1-61 1 26 1-37 1-5 1-28 1 38 1 2 1 21 1-24 1 57 1-76 1 12 1 32 1-79 1-53 1 50 1 52 1-15 1 22 1 18 1 43 1-23 1 9 1-50 1 35 1-41 1-19 1-37 1 57 1 9 1 3 1-19 1-2 1 21 1 4 1-24 1 10 1-7 1 59 1-15 1-57 1-36 1 18 1 26 1-8 1 12 1 48 1-40 1-10 1-21 1-61 1 27 1-18 1-8 1 95 1-11 1-59 1-16 1 23 1 18 1-57 1 50 1-13 1 36 1 49 1-26 1 13 1-23 1 23 1-43 1-41 1 30 1-7 1 26 1 78 1-9 1-30 1 59 1-49 1-8 1-14 1 11 1-11 1 10 1 19 1-29 1-67 1-15 1-3 1-2 1-1 1 72 1 29 1-98 1 53 1 15 1-47 1-33 1 10 1-9 1 27 1 0 1 34 1-17 1 63 1 72 1-153 1 111 1 9 1-53 1 1 1-35 1 16 1 8 1-24 1 56 1 16 1-3 1 20 1 8 1-2 1-23 1-81 1 82 1-5 1-30 1 0 1-10 1 28 1-5 1 43 1-28 1-54 1 26 1-8 1 71 1 19 1-41 1 21 1-21 1-39 1 19 1-54 1 67 1 12 1-2 1-19 1-90 1 84 1-11 1-3 1-24 1 9 1-25 1 4 1 17 1 33 1-73 1 71 1-39 1 89 1 10 1-120 1-45 1 8 1 35 1-13 1 31 1-48 1 5 1-21 1 89 1-95 1 127 1-104 1 0 1 5 1 2 1 13 1-32 1 22 1-4 1 27 1-40 1-9 1 6 1 15 1 5 1 20 1 54 1 52 1-77 1 43 1-67 1 30 1-14 1-30 1 86 1-61 1 81 1-109 1-40 1-43 1 71 1 73 1-4 1 15 1-35 1-42 1-19 1 104 1-49 1 17 1 24 1-46 1-8 1-43 1 59 1-34 1 19 1-12 1 11 1 12 1 42 1 43 1-101 1 6 1-41 1 23 1-28 1 7 1 11 1 25 1-27 1 43 1 30 1-65 1 3 1 6 1 68 1 19 1-59 1 21 1 72 1-58 1-20 1 30 1-90 1-26 1 16 1 151 1 51 1-45 1-99 1-47 1 8 1-24 1-1 1-37 1 94 1-10 1 33 1 11 1 73 1-38 1 34 1-71 1-69 1-27 1 61 1 6 1-34 1 52 1-42 1-27 1 45 1-16 1-2 1-1 1-26 1 12 1-11 1 14 1 23 1 45 1-38 1 21 1-56 1 9 1 38 1 23 1-25 1-28 1 18 1 38 1-13 1-6 1-37 1 47 1-53 1 43 1 25 1-44 1-36 1 14 1 10 1-2 1 26 1 1 1-46 1-31 1 11 1 6 1 5 1-28 1 55 1-6 1 2 1 11 1 4 1 41 1-12 1-15 1 14 1-33 1-37 1-11 1 12 1 16 1 9 1 51 1-9 1-39 1 11 1-9 1 30 1-7 1-16 1-2 1 76 1 7 1-8 1 0 1-33 1 0 1 71 1-8 1-120 1 70 1-31 1-13 1-40 1 4 1 13 1 39 1-36 1 11 1-19 1 81 1-73 1-9 1-14 1 18 1 48 1-9 1 9 1 21 1 12 1-34 1 1 1 64 1 91 1-167 1-15 1 24 1 26 1-8 1-56 1 38 1 35 1 2 1 40 1-89 1 27 1-33 1 26 1-70 1-15 1 0 1-15 1-7 1 47 1-7 1 2 1-30 1 4 1 32 1-40 1 11 1 28 1 41 1-25 1 47 1-8 1-17 1 70 1 34 1-158 1 163 1-27 1-24 1-8 1-41 1-119 1 72 1-33 1 1 1-1 1 23 1 8 1-28 1 35 1-29 1 37 1 7 1 25 1-7 1 94 1-17 1-20 1-2 1-56 1-23 1 19 1-26 1 33 1 2 1-19 1-1 1-33 1 11 1 21 1-27 1-3 1-10 1-67 1 103 1-73 1 19 1 38 1 1 1 32 1-32 1 8 1 48 1-20 1-41 1-12 1-4 1-31 1 34 1 2 1 12 1-9 1 42 1-34 1 18 1-21 1-24 1 5 1 8 1 147 1 35 1-134 1 9 1-29 1-32 1 6 1 21 1 18 1 61 1-20 1 51 1-65 1 36 1-83 1 85 1-48 1 61 1-6 1 4 1-38 1-60 1-24 1 56 1-37 1 62 1 19 1-161 1 67 1-37 1-37 1 37 1-11 1 193 1-70 1-16 1 0 1-42 1 45 1-21 1-10 1 7 1-4 1 21 1 52 1 67 1-61 1-50 1-2 1 6 1 49 1-78 1 16 1-27 1-15 1 34 1-5 1-20 1 14 1-2 1-13 1 95 1-33 1-2 1-5 1 55 1 7 1-10 1 7 1-24 1 14 1-6 1-5 1-81 1 11 1 69 1-13 1 11 1-41 1 15 1 21 1-33 1 70 1-43 1-23 1-17 1 76 1-36 1-44 1 10 1 26 1 34 1-11 1-41 1-12 1-17 1-36 1 27 1 62 1 46 1-15 1-19 1-17 1-63 1 37 1 3 1 64 1-122 1 57 1 116 1-122 1-5 1-11 1 56 1 9 1 26 1-55 1 1 1-40 1 43 1-6 1-24 1-49 1-36 1 44 1-23 1 19 1 12 1 16 1-1 1 75 1-31 1 15 1-18 1 75 1-20 1-3 1-11 1-17 1-45 1-1 1-17 1 26 1 36 1 10 1 10 1-41 1-26 1-26 1-5 1 21 1 39 1-46 1-28 1 62 1-77 1 30 1-28 1-11 1-33 1 36 1-48 1 32 1-12 1 0 1 99 1 13 1 62 1-60 1-12 1 10 1-57 1-11 1 19 1 8 1-2 1 7 1-27 1-6 1 4 1-6 1 20 1-19 1-24 1 3 1 21 1 7 1 22 1-32 1-21 1 23 1 1 1 24 1-1 1 21 1-43 1 29 1-31 1 21 1-10 1 8 1 21 1 23 1-16 1-25 1-12 1-9 1 13 1-24 1 16 1 10 1 8 1 140 1-70 1 28 1 49 1-71 1 64 1-53 1-110 1 36 1-20 1 14 1-14 1-7 1 14 1 76 1 22 1 7 1-33 1 15 1-25 1-74 1 33 1 69 1 61 1-43 1-10 1-100 1 47 1 68 1-16 1-46 1-60 1-41 1-14 1 21 1 22 1 29 1-13 1 3 1 44 1 5 1 34 1-32 1-24 1-24 1 35 1 17 1 1 1 56 1-2 1-16 1-25 1 12 1-72 1-19 1 23 1 25 1 4 1-25 1-24 1-15 1-4 1-1 1 38 1 15 1-7 1-16 1 43 1-36 1-31 1 60 1 61 1 27 1-58 1 23 1-61 1-41 1 15 1 25 1-49 1-10 1 0 1 21 1 24 1-19 1 5 1 8 1 9 1-19 1-21 1-6 1 7 1 64 1-21 1 0 1 76 1-1 1 21 1-27 1-19 1-37 1-60 1 58 1-37 1 46 1-38 1-1 1 5 1 134 1-46 1-44 1-11 1-29 1-41 1 6 1-1 1 11 1 43 1-44 1-17 1 24 1 19 1-20 1 2 1 34 1 22 1-55 1 21 1 8 1-18 1-18 1-15 1 19 1 13 1 0 1 31 1-64 1 14 1-21 1 30 1 25 1 20 1 16 1 46 1 2 1-44 1-56 1-26 1-19 1 72 1-91 1 146 1-116 1-20 1 12 1-13 1 57 1-38 1 96 1-98 1 38 1 31 1 64 1-14 1-20 1-61 1-18 1-28 1 74 1 17 1-123 1 41 1 6 1 12 1-11 1 17 1-71 1-12 1 11 1 120 1-114 1 39 1-14 1-2 1-4 1 69 1-41 1 20 1 40 1 45 1 16 1-53 1 29 1-29 1-7 1-30 1 64 1-82 1 36 1-10 1-1 1 21 1-23 1 10 1-27 1-19 1 13 1-42 1-5 1 31 1 25 1-16 1 90 1 23 1-26 1-36 1-8 1-5 1 29 1 30 1-72 1 14 1-9 1 5 1-38 1 70 1-4 1 23 1-4 1-25 1 31 1-59 1 20 1-29 1 6 1 78 1 8 1 38 1-8 1-131 1-7 1 45 1 39 1-24 1-4 1 1 1 11 1 56 1-43 1-34 1 11 1 55 1 42 1-58 1-1 1-17 1 11 1-40 1-7 1 41 1 59 1-87 1 40 1-107 1 110 1-51 1-18 1 1 1-57 1 35 1 6 1 23 1 34 1-46 1 8 1 28 1 28 1-4 1 10 1 37 1-55 1 25 1-92 1 133 1-111 1-10 1 22 1-7 1 11 1 8 1-40 1-1 1-13 1 19 1 15 1-21 1-32 1 1 1 23 1-16 1-1 1 18 1 20 1 0 1 48 1 1 1 48 1-71 1-17 1-21 1 36 1-32 1-13 1 28 1-36 1 11 1 0 1 109 1-31 1 77 1-42 1 15 1-90 1-25 1 24 1 42 1-22 1 2 1-17 1-57 1-17 1-16 1 14 1 9 1 14 1 4 1-9 1-11 1 7 1 27 1-21 1 63 1 13 1-19 1-59 1-11 1 25 1 40 1-40 1 11 1 27 1-5 1 12 1 6 1-32 1-20 1-44 1 20 1 6 1-10 1 6 1 20 1 10 1 57 1 18 1-26 1-12 1 18 1-3 1-85 1-22 1 12 1 37 1-22 1 34 1 82 1-40 1-67 1 58 1 65 1 3 1-48 1 0 1 3 1 11 1-35 1-40 1 9 1-35 1 14 1-6 1 7 1 16 1 7 1 81 1-25 1-74 1-32 1-8 1 3 1 44 1-13 1 45 1-20 1-29 1 59 1 7 1-39 1-8 1 4 1-33 1 4 1-4 1 60 1 11 1-13 1-66 1-19 1 30 1-20 1 26 1 28 1 26 1-5 1-27 1-11 1 32 1-4 1 82 1 8 1-49 1 86 1-109 1-30 1 38 1-27 1-16 1 24 1 3 1 44 1-64 1 5 1 47 1 58 1-79 1 54 1-5 1 16 1 2 1-29 1-37 1 14 1 10 1-31 1-12 1-29 1 54 1-42 1-29 1 46 1 0 1-14 1-4 1-24 1-25 1-19 1 47 1-30 1-11 1 37 1 36 1-19 1 22 1 19 1 32 1-53 1 13 1-38 1 81 1 22 1 18 1 20 1-42 1-13 1-94 1 43 1-46 1 3 1-2 1 0 1-1 1 8 1-1 1-2 1-1 1-16 1-1 1 49 1 42 1 16 1-22 1-35 1-28 1-8 1 7 1 40 1-15 1-15 1 33 1-24 1-10 1 26 1-15 1-10 1 21 1 1 1-6 1 7 1 61 1-28 1 45 1-52 1-21 1-36 1 1 1 17 1 2 1 38 1-36 1-14 1 3 1-30 1 47 1-8 1 35 1 56 1-10 1 14 1-80 1 16 1 50 1-80 1-19 1-18 1-2 1-3 1-22 1-20 1 34 1-21 1 86 1 5 1 6 1-1 1-19 1-6 1-40 1 68 1 18 1-28 1-17 1 38 1 1 1 8 1-11 1-4 1 41 1 12 1 30 1-28 1-62 1-49 1-17 1 5 1 65 1-13 1 55 1 26 1 7 1-30 1-19 1 42 1 55 1-49 1-22 1-103 1 100 1-133 1 109 1-45 1-50 1 5 1 49 1-57 1 62 1 5 1 26 1-14 1-35 1-28 1 47 1 101 1-59 1-50 1-11 1-27 1 24 1 17 1 64 1-33 1 23 1-33 1 25 1 33 1 76 1-150 1-21 1 93 1 34 1-34 1 13 1-7 1-47 1 69 1-37 1-58 1 22 1-7 1-36 1 18 1-44 1 21 1 6 1-18 1 2 1-17 1-16 1-4 1 10 1 50 1 6 1-13 1 26 1-23 1-2 1 0 1 16 1-3 1-10 1 13 1-14 1 47 1-10 1-22 1 59 1-6 1-14 1 15 1-38 1-59 1-24 1 7 1-6 1 83 1-90 1 9 1-2 1-11 1 27 1-5 1 71 1-23 1 16 1 0 1-73 1 15 1 64 1-15 1-24 1 14 1 5 1-15 1-6 1 47 1 22 1-26 1-18 1-3 1-38 1-13 1 24 1 57 1 24 1 28 1-34 1 5 1 17 1-63 1-42 1 97 1 23 1-70 1-60 1-3 1-32 1 5 1 12 1-28 1 37 1 26 1 10 1 13 1 44 1 29 1-82 1 3 1 24 1 48 1-110 1 122 1-36 1 3 1 10 1-31 1 24 1-6 1-86 1 159 1 0 1-53 1 29 1-66 1 32 1-8 1-19 1 6 1 27 1 26 1-27 1 24 1-81 1-17 1 20 1 52 1-45 1-59 1 41 1 66 1-38 1-59 1-4 1 45 1 20 1-25 1 39 1-17 1 102 1-30 1 40 1-51 1-23 1-61 1-20 1 17 1 39 1 49 1-3 1-12 1-49 1-8 1 40 1-27 1-60 1 37 1-5 1 73 1-93 1-15 1-20 1 11 1 4 1 16 1 30 1-51 1-14 1 29 1 20 1 1 1-7 1-38 1 62 1 26 1 71 1 2 1-27 1-79 1-28 1-16 1 22 1-44 1-16 1 27 1 26 1-12 1 43 1-85 1-37 1 64 1 70 1-3 1 2 1 4 1-13 1 59 1-46 1 3 1 1 1-7 1-23 1-61 1 33 1 33 1 7 1 15 1 55 1-5 1 2 1-72 1-26 1 71 1 71 1-97 1 4 1 67 1-1 1-73 1-18 1-54 1 33 1-34 1-12 1 49 1-12 1-6 1 0 1-5 1-46 1 42 1 24 1 1 1 11 1-24 1 3 1 48 1-20 1 12 1 42 1-46 1 24 1 5 1-34 1 21 1 22 1 7 1-23 1-6 1-43 1 30 1-40 1-9 1-10 1 10 1 48 1 6 1-102 1 36 1-42 1 45 1-6 1 12 1 2 1 41 1 33 1-16 1 11 1-78 1 41 1-4 1 24 1-21 1-47 1 69 1 4 1 10 1-25 1 18 1-12 1 32 1-48 1-28 1 21 1 80 1-6 1-12 1 25 1-70 1 55 1-82 1-2 1-14 1 36 1 43 1-26 1-59 1 14 1-28 1 3 1 31 1-9 1-15 1 11 1-9 1-1 1-27 1 25 1 18 1-14 1 55 1-3 1 11 1 8 1-40 1-6 1 4 1-22 1 44 1-27 1 23 1-16 1-39 1 7 1 31 1 50 1 13 1 13 1 22 1-98 1 116 1 2 1-21 1-8 1-69 1 10 1 7 1-13 1-10 1 24 1 25 1 5 1 10 1-54 1 34 1 6 1-15 1-24 1-44 1 17 1 11 1-36 1-21 1 17 1 39 1-13 1 49 1-50 1-15 1 44 1-30 1 34 1 11 1-44 1 45 1 68 1 23 1-44 1-23 1 18 1 63 1-17 1-99 1 52 1-63 1 63 1-6 1-22 1-22 1-18 1 40 1-33 1 44 1-36 1-3 1 16 1-5 1-13 1-5 1-27 1 0 1 11 1-56 1 33 1 39 1-17 1-27 1-18 1-16 1 149 1-127 1-12 1 40 1-5 1 152 1-21 1 64 1-49 1-137 1 22 1-34 1-29 1 20 1 63 1-9 1-35 1 11 1 13 1-26 1-27 1 31 1 37 1 5 1 43 1-36 1 39 1-66 1 11 1 6 1-34 1-14 1-4 1-9 1 25 1-46 1 47 1 19 1 30 1 26 1-55 1-40 1-23 1 4 1 56 1 52 1 24 1 11 1-38 1-28 1-2 1 52 1-43 1-8 1 57 1-35 1 19 1-81 1 49 1-29 1 12 1 74 1 35 1-161 1 161 1-77 1-25 1-51 1-10 1-21 1 11 1-2 1-4 1 21 1 4 1 27 1 10 1 29 1 2 1 6 1-44 1 24 1 24 1-20 1 11 1 10 1-16 1-18 1-5 1-33 1-36 1-13 1 37 1-6 1-60 1 58 1 119 1-29 1 10 1-10 1-28 1-8 1 73 1-16 1-23 1-2 1-53 1 11 1-6 1 25 1-18 1-22 1 2 1-16 1 4 1 75 1-29 1-28 1 119 1 18 1-21 1 88 1-69 1-35 1-28 1-13 1-38 1 18 1-1 1-2 1-3 1 32 1-54 1 49 1 5 1-22 1 24 1-43 1 17 1 19 1-25 1-57 1 14 1-21 1 27 1 8 1 2 1-17 1-5 1 31 1 22 1 2 1-22 1-65 1 16 1 73 1 40 1-139 1 40 1-18 1 52 1-39 1 11 1-13 1 0 1 63 1-38 1-6 1 87 1 57 1-40 1-24 1-12 1-14 1 31 1 4 1-61 1 88 1-72 1 58 1-39 1-63 1-15 1-17 1 5 1 50 1 34 1-40 1-4 1-20 1-31 1 14 1-45 1 38 1 12 1-7 1-9 1 19 1-13 1 58 1-14 1-26 1 3 1 6 1 1 1 33 1-58 1 4 1 14 1 5 1-7 1 22 1 44 1-44 1 21 1 11 1 63 1-42 1-42 1-21 1-8 1 66 1-65 1-11 1 19 1-18 1 0 1-3 1 22 1 0 1 14 1-17 1 10 1-9 1 3 1-14 1-16 1 4 1-19 1 11 1 47 1 41 1-44 1-54 1 21 1 4 1-7 1-3 1-4 1 36 1-51 1 5 1-5 1 10 1 8 1 7 1-35 1 25 1-4 1-22 1 48 1 31 1 33 1-28 1 56 1-6 1-15 1 1 1-87 1 53 1 24 1 16 1-51 1 19 1 15 1 27 1 1 1-23 1-49 1 7 1-4 1 73 1-24 1-38 1-30 1 65 1 28 1 54 1-23 1-72 1 56 1-34 1 16 1-52 1 22 1 67 1 2 1-12 1-43 1 60 1-45 1-28 1 9 1-27 1-9 1-38 1-35 1 65 1-59 1 0 1 19 1-1 1-4 1 13 1 13 1-17 1 22 1 26 1 39 1 38 1-51 1-44 1 11 1 24 1-51 1 16 1 26 1 11 1-29 1-1 1-41 1-11 1 7 1 66 1 30 1-64 1-29 1-7 1-6 1 9 1 11 1 38 1-23 1-8 1 44 1 43 1-28 1 19 1-66 1 2 1 42 1 12 1-89 1 9 1-6 1-34 1 53 1 1 1-36 1 124 1-78 1 71 1 3 1-74 1 1 1 26 1-23 1-26 1 48 1-10 1-17 1 16 1 39 1 15 1-48 1-29 1-1 1-39 1-2 1-11 1-1 1 13 1 15 1-5 1 21 1 8 1 97 1 29 1 31 1-106 1 72 1-34 1-49 1 10 1 2 1-12 1 73 1-17 1-63 1-26 1 6 1 5 1-26 1 35 1-9 1-29 1 47 1 5 1-28 1-49 1 41 1-20 1-36 1 2 1 18 1 14 1 46 1-40 1 54 1 1 1 13 1-20 1 15 1-47 1 69 1-98 1 143 1 37 1-59 1-40 1-32 1 41 1 21 1 6 1-20 1-10 1-31 1 19 1-63 1 3 1-2 1 90 1 24 1-53 1 17 1 14 1 35 1-13 1-46 1-6 1-43 1 37 1-22 1-3 1-2 1 56 1-10 1-16 1 55 1-81 1 4 1 50 1-52 1 42 1-20 1 59 1-60 1-15 1 5 1 29 1 37 1-69 1 10 1-39 1 41 1-2 1 39 1-27 1 73 1-55 1 42 1-36 1 19 1 18 1 89 1-57 1-106 1 26 1-46 1-16 1-27 1 4 1 24 1 9 1-9 1-14 1 3 1 34 1 9 1-49 1 33 1-36 1 55 1 33 1 51 1-62 1 10 1-3 1-54 1-9 1 54 1 34 1-96 1 88 1-8 1 26 1-16 1-36 1-35 1-55 1 33 1-14 1-12 1 5 1 162 1 7 1-119 1 31 1-13 1 28 1-74 1-16 1 34 1 44 1-32 1-33 1 17 1-19 1 4 1 3 1 0 1 53 1 21 1-24 1-5 1-50 1 51 1-19 1-65 1 1 1-6 1 26 1 19 1-7 1 33 1 43 1 43 1-26 1-17 1-39 1-33 1 1 1-2 1 46 1 2 1-28 1 26 1 62 1-41 1 36 1-45 1 6 1 19 1 12 1 3 1-38 1-27 1-27 1-1 1 7 1-10 1 21 1 30 1 4 1 14 1 61 1-127 1 102 1-15 1 2 1-23 1-21 1-40 1-13 1 8 1-2 1 1 1 72 1-68 1 43 1-27 1 20 1 27 1-50 1 34 1 13 1-3 1 40 1 4 1 19 1-58 1 0 1 99 1-57 1-112 1-26 1 185 1-160 1 88 1-36 1 42 1-58 1-42 1-46 1 52 1-14 1 5 1 9 1 91 1-56 1 59 1-37 1-55 1 183 1-134 1-49 1 44 1 27 1 43 1-38 1-48 1-18 1-7 1 6 1-28 1 13 1 74 1 26 1-61 1 11 1 17 1-44 1 1 1 1 1 4 1-38 1 3 1 6 1 3 1 204 1 10 1-109 1-112 1-22 1 29 1 18 1 30 1-5 1-36 1 19 1 13 1 51 1-45 1-28 1-1 1-27 1-5 1 15 1 63 1-1 1 30 1-27 1-38 1 16 1 62 1-58 1-28 1-21 1 50 1 12 1-34 1-27 1-13 1 76 1-58 1 28 1 25 1-31 1 19 1 16 1-9 1 1 1-3 1 12 1 33 1 5 1-4 1-1 1-34 1-61 1 48 1-7 1-12 1 40 1 10 1 5 1-5 1 3 1 5 1-41 1 50 1-35 1-32 1-14 1 53 1 50 1-5 1 11 1-61 1 2 1 29 1-43 1-45 1-28 1 47 1-93 1 23 1 55 1 13 1 17 1-50 1-8 1 10 1 50 1 41 1 1 1-22 1-39 1-11 1 3 1-19 1 43 1 21 1 18 1-16 1-24 1 12 1 61 1-22 1 33 1-41 1 79 1-106 1 34 1-71 1-13 1-26 1-13 1 34 1 27 1 31 1 34 1-54 1 36 1 9 1-28 1 55 1-75 1 4 1 6 1 8 1-14 1 30 1 13 1-8 1-13 1-24 1 5 1 81 1-4 1 17 1-8 1-27 1-9 1-80 1 21 1 35 1-3 1-7 1-47 1 32 1-17 1-6 1 2 1 3 1 0 1 51 1 17 1-19 1-57 1-18 1 4 1 3 1 1 1-5 1-13 1 60 1 11 1-69 1-8 1 19 1 27 1 3 1 51 1 17 1-43 1-32 1-5 1 1 1 15 1 46 1 25 1 5 1-13 1 28 1 18 1-78 1 3 1-38 1 4 1 30 1 7 1 43 1-52 1-33 1-20 1 0 1 20 1 30 1-30 1 9 1 16 1 11 1-7 1 17 1-9 1-34 1-26 1 27 1-10 1 12 1 38 1 52 1-44 1-74 1-9 1-25 1-40 1 79 1-40 1 7 1 22 1 65 1-39 1 22 1-43 1 16 1 5 1 18 1 1 1-31 1-2 1-2 1 12 1-14 1 40 1-10 1-17 1 23 1-42 1 5 1 52 1 4 1-26 1-3 1 64 1-35 1 19 1-13 1 80 1-94 1-56 1 9 1 62 1-20 1-63 1-18 1 65 1-46 1-21 1 24 1 21 1-14 1 5 1 44 1 79 1-8 1 11 1-111 1 35 1-49 1 26 1-40 1-9 1-26 1 8 1-7 1 25 1 41 1-41 1 85 1-117 1 42 1-22 1 15 1 27 1-12 1 44 1-12 1-22 1-34 1 7 1-49 1 52 1-3 1-38 1 57 1 11 1-1 1-29 1-10 1 41 1 22 1 9 1-35 1-35 1 12 1 39 1 48 1-34 1-39 1 21 1 43 1 32 1-22 1-8 1-1 1 50 1-114 1 121 1 16 1-62 1 73 1-70 1 50 1-28 1-43 1 10 1-15 1-3 1 4 1-44 1 44 1-30 1-43 1-7 1 37 1-6 1-11 1-11 1 70 1-27 1 23 1-26 1-6 1 12 1-24 1-30 1-6 1 32 1 0 1-44 1 20 1 35 1-24 1 6 1-56 1-10 1 10 1 2 1 41 1-19 1 119 1-121 1 12 1 39 1-12 1 36 1 29 1-38 1-24 1 1 1-21 1 24 1 29 1 6 1 66 1-89 1 82 1-11 1 12 1-59 1-22 1 0 1 1 1-30 1-54 1 46 1 13 1 23 1-10 1 44 1-1 1-55 1 13 1 40 1-23 1-22 1 24 1-38 1 5 1-24 1-6 1 14 1 19 1-13 1 33 1 51 1-67 1 47 1 10 1 8 1-8 1 42 1 21 1-51 1-21 1 67 1-56 1-30 1 6 1 46 1-68 1-64 1 24 1-25 1 39 1-72 1 34 1 22 1 41 1 14 1 17 1-14 1 14 1-47 1 11 1-29 1 46 1-2 1-6 1 31 1-21 1 5 1-48 1-22 1 12 1 23 1 6 1-29 1 4 1 15 1 20 1 72 1-52 1 21 1-11 1-16 1 26 1 96 1-19 1-29 1 125 1-101 1 63 1-152 1-30 1 44 1-1 1-5 1-31 1-11 1 28 1 14 1 42 1-9 1-6 1 48 1-31 1-91 1-1 1 23 1 23 1-42 1 9 1 27 1 56 1-50 1 87 1-38 1 16 1-60 1 1 1 16 1-49 1 53 1-38 1-22 1 91 1-68 1 109 1-7 1-30 1-8 1-39 1 14 1 53 1-63 1-69 1 13 1 21 1 105 1-20 1-86 1 72 1 59 1-123 1-19 1 17 1-11 1-25 1 46 1-52 1 37 1-21 1-36 1 12 1-4 1 39 1-32 1-12 1 18 1 71 1-89 1 35 1 36 1 25 1-52 1 63 1 45 1 16 1 44 1-162 1 90 1-72 1 51 1 0 1-29 1-41 1-10 1 2 1 34 1 48 1-22 1-25 1-31 1 1 1 34 1 28 1-30 1 18 1 33 1 48 1-102 1 54 1-34 1-56 1-7 1 1 1-21 1-17 1 21 1 109 1-5 1 21 1-65 1-7 1 29 1 53 1-38 1-49 1 63 1-23 1 23 1-20 1-78 1 60 1-19 1-52 1 17 1 55 1 20 1-38 1 1 1-46 1 78 1 95 1-84 1-70 1 108 1-42 1-19 1 31 1 13 1-65 1-2 1-32 1 1 1-22 1 1 1 26 1 55 1-40 1 24 1-16 1 17 1-9 1-3 1 52 1-36 1 5 1 52 1 13 1-151 1 93 1 16 1-23 1-44 1 72 1-3 1 6 1 39 1-50 1-15 1-87 1-28 1 89 1-77 1 118 1-14 1 6 1 0 1 18 1 19 1 27 1-12 1-67 1-66 1-16 1 2 1 7 1 66 1 39 1-6 1-8 1 19 1-74 1-34 1 35 1-27 1 5 1-30 1 23 1-31 1-20 1 66 1-49 1 132 1-137 1 61 1 6 1-20 1 59 1 60 1-12 1-68 1-26 1 52 1 20 1 41 1-49 1 34 1-120 1 54 1 6 1-12 1 49 1-27 1-16 1-18 1 50 1-6 1 1 1 28 1-46 1-25 1 40 1-11 1-21 1-7 1-18 1 6 1 15 1 54 1 23 1-22 1-14 1 44 1-12 1-37 1-54 1-12 1 11 1-18 1 66 1-14 1 30 1-72 1 49 1-27 1-53 1 27 1 32 1 4 1 13 1 37 1 16 1-45 1-26 1 39 1 37 1-23 1-26 1-7 1-7 1-62 1-16 1-2 1 31 1-35 1 20 1 5 1 99 1-46 1 63 1 9 1-62 1 6 1 26 1-40 1-37 1 0 1-14 1 45 1-6 1 19 1 77 1-36 1 6 1 0 1-16 1-2 1-39 1 19 1-25 1 21 1-20 1 2 1-26 1-57 1 18 1-3 1 40 1 23 1-10 1-32 1 47 1 7 1-44 1 70 1-27 1 7 1-62 1 17 1 41 1-49 1-30 1 2 1-39 1 38 1 10 1 31 1 37 1-14 1 11 1-57 1 31 1-2 1 88 1-24 1 9 1 9 1-23 1 1 1 35 1-45 1-11 1 20 1-62 1 8 1-22 1-14 1 21 1-2 1 14 1 35 1 11 1-64 1 6 1-36 1-4 1 56 1 10 1-23 1 4 1-7 1-2 1 32 1-30 1-43 1 27 1 18 1 0 1-18 1 18 1-23 1 19 1 28 1 73 1-36 1-42 1 29 1-9 1 25 1 22 1-74 1-27 1 77 1-40 1-9 1-46 1 4 1 6 1 35 1 11 1 13 1 56 1-46 1 16 1-14 1-26 1 74 1 2 1 19 1 7 1-137 1 137 1-76 1 112 1-140 1-63 1 44 1 119 1-29 1-83 1 34 1 11 1 27 1-71 1 77 1-34 1 19 1-18 1 59 1-60 1 40 1 31 1-73 1-46 1-17 1 6 1-10 1 38 1-51 1 71 1-21 1-36 1 44 1 15 1-13 1-52 1-12 1-15 1 20 1 1 1-2 1-25 1 56 1 3 1 9 1 20 1-57 1 34 1-12 1 2 1-11 1 34 1 48 1-81 1-19 1 16 1 34 1-1 1 4 1 17 1-29 1-5 1 12 1-6 1 26 1-22 1-8 1 80 1-41 1 13 1-1 1-31 1 1 1-14 1 53 1-52 1 12 1-37 1 3 1 1 1-24 1-7 1 11 1-3 1 55 1-76 1 23 1-6 1 48 1-12 1 11 1-10 1 88 1-56 1-12 1 26 1-41 1 20 1 50 1-79 1 99 1 0 1-16 1 6 1-33 1 81 1 6 1-69 1 100 1-91 1 32 1-26 1-67 1 40 1-76 1 61 1-1 1-3 1-43 1-16 1 15 1 30 1-63 1 18 1 34 1-46 1 19 1 46 1-22 1 16 1 87 1-10 1-35 1 53 1-19 1-67 1 11 1 39 1 20 1-53 1 15 1-28 1 1 1 29 1-45 1-54 1 46 1-9 1-8 1-4 1 1 1-38 1 5 1-43 1 27 1-9 1 34 1 28 1-15 1-22 1 3 1-4 1 80 1 29 1-11 1-39 1 38 1-29 1-3 1-20 1 11 1-35 1 28 1-43 1 22 1-10 1 93 1-5 1 16 1 20 1-31 1-5 1-118 1 14 1 93 1-107 1 27 1-24 1-1 1 59 1-40 1 53 1-40 1-29 1 11 1-45 1 13 1 16 1 25 1 7 1 62 1-42 1-25 1 29 1 53 1-31 1-46 1 83 1-8 1 7 1-70 1-40 1 47 1 22 1 65 1-23 1-29 1-48 1 72 1 59 1-43 1 26 1-39 1 66 1-8 1-48 1-102 1-38 1 6 1 22 1 46 1 13 1 13 1 122 1-32 1-43 1-15 1 54 1 37 1-57 1-56 1 29 1 49 1-63 1 34 1-91 1-21 1-3 1 26 1 5 1 39 1-39 1-4 1 36 1-10 1-58 1 30 1 41 1 3 1-7 1-19 1 0 1-29 1 4 1-8 1-40 1 47 1 39 1-11 1 33 1 14 1-97 1 39 1 31 1-27 1-4 1 65 1-30 1-57 1 10 1-11 1 8 1 38 1 28 1-37 1-19 1 65 1-50 1-14 1-17 1-22 1 65 1 10 1 20 1 20 1-13 1-32 1 2 1-70 1 43 1-79 1 15 1 80 1 41 1-103 1 14 1 24 1-21 1-1 1 47 1-73 1-15 1 62 1 33 1 9 1-13 1-10 1 12 1-59 1 58 1-23 1-5 1-35 1 21 1 8 1-50 1 8 1 13 1 15 1 19 1 53 1 21 1 22 1-23 1-48 1 11 1 10 1-9 1 17 1-9 1-48 1 33 1 46 1 6 1-17 1 29 1-49 1-75 1-17 1-25 1 25 1 63 1-89 1 15 1 57 1 49 1 16 1 30 1 9 1-44 1-9 1 1 1-77 1 23 1 7 1-29 1 15 1-27 1 32 1-37 1 1 1 65 1 2 1-24 1 16 1-17 1 17 1-22 1 57 1 61 1-42 1-123 1-12 1 26 1 15 1-5 1-24 1-2 1 46 1-32 1-1 1-25 1 39 1 20 1 23 1 40 1-66 1 9 1 29 1 44 1 8 1-50 1-50 1-13 1 17 1-1 1 68 1 44 1-18 1-31 1-6 1-16 1 15 1 4 1-14 1 9 1 11 1-1 1-66 1 39 1-67 1 35 1-21 1-22 1-26 1 31 1 101 1 24 1-30 1-85 1 18 1-6 1-7 1-39 1-2 1 125 1-109 1 56 1 2 1 32 1-35 1 2 1-28 1 39 1 18 1 9 1-48 1 11 1 4 1-44 1 26 1 19 1-46 1 85 1-52 1 14 1 5 1-4 1-9 1 4 1-41 1 78 1 84 1-40 1 42 1-18 1-7 1-17 1-38 1 9 1 91 1-99 1 13 1 13 1-104 1 2 1 41 1-17 1-13 1 49 1-31 1 15 1 77 1-51 1-32 1-16 1-8 1 29 1 17 1 35 1-50 1-19 1-44 1 3 1 25 1 31 1 37 1 28 1-112 1 76 1 39 1-68 1 50 1-20 1 1 1-40 1 19 1-17 1-46 1 14 1 13 1-9 1-13 1-10 1 19 1-2 1 7 1-19 1 19 1 15 1 40 1 12 1 18 1-27 1-49 1 21 1-55 1 17 1-23 1-1 1 28 1 10 1 61 1-27 1-58 1 3 1-39 1 21 1 19 1 6 1 20 1-7 1-44 1 13 1 24 1 6 1-20 1 14 1 67 1 26 1-74 1 6 1-35 1 9 1 29 1-7 1-27 1 15 1 51 1 5 1 18 1-55 1 34 1 34 1 44 1-28 1-1 1-7 1-34 1-3 1-84 1-11 1 14 1 36 1-57 1 4 1 40 1-11 1-21 1-5 1 3 1-16 1-2 1 56 1 7 1-13 1 25 1-60 1-2 1 12 1 3 1-4 1 18 1 26 1 62 1-53 1-12 1 46 1-48 1-2 1-64 1 12 1-39 1 22 1 20 1-1 1 13 1 9 1-36 1 29 1 25 1-24 1 64 1 10 1 17 1-13 1 43 1-7 1-3 1-26 1-40 1-41 1 0 1 20 1 23 1 11 1-67 1-33 1 107 1-121 1 53 1-23 1 18 1 34 1 34 1-18 1 20 1-58 1-29 1-9 1 1 1 73 1-10 1 46 1-16 1 5 1 74 1-43 1 1 1 21 1-56 1-45 1 26 1-1 1-12 1-53 1 24 1-3 1-65 1 56 1 17 1-10 1 22 1 11 1-7 1-13 1-2 1-28 1 5 1-15 1 29 1-18 1 1 1 51 1-30 1-15 1 32 1-5 1-29 1 16 1-30 1 22 1-25 1 10 1 95 1-10 1 4 1 81 1-26 1 35 1-55 1 40 1-113 1 5 1 29 1-17 1 31 1 14 1 32 1-65 1-45 1 29 1 14 1 53 1-31 1 27 1-91 1 27 1-23 1 54 1-62 1 13 1-49 1 5 1 8 1 116 1-99 1-3 1 51 1-33 1-9 1-25 1 1 1-6 1 19 1-7 1 12 1 17 1-72 1 73 1-3 1 23 1 14 1-10 1-8 1-32 1 62 1-27 1 3 1-35 1 38 1 88 1-24 1-3 1 11 1-1 1-57 1 8 1-47 1-13 1 33 1 90 1-51 1 37 1 32 1-53 1-56 1-35 1 19 1 11 1 42 1-8 1-15 1-56 1 14 1 38 1-31 1 32 1 43 1-15 1-13 1-3 1 40 1-5 1 38 1 47 1-57 1-69 1-14 1-38 1-5 1 25 1-32 1 16 1 13 1-11 1-15 1 27 1 47 1 66 1 62 1-73 1 27 1-69 1 2 1-38 1-26 1-15 1-18 1 21 1-8 1 18 1 35 1 3 1-17 1 24 1-46 1 42 1 46 1 18 1-57 1 4 1-19 1-17 1 55 1-4 1-40 1-24 1 8 1-10 1 1 1-14 1-25 1-40 1 107 1 3 1 43 1-24 1-11 1 36 1-14 1 2 1-34 1 3 1-7 1-23 1-1 1 26 1 43 1 23 1 15 1-13 1-4 1 0 1 16 1-68 1 4 1 49 1-18 1-45 1 2 1-13 1 35 1-33 1-18 1-23 1 1 1-48 1 43 1 35 1-23 1-20 1-5 1-11 1 65 1-43 1 37 1 25 1 47 1-27 1 22 1-15 1-9 1 2 1 24 1 16 1-62 1 56 1-25 1 28 1 12 1-9 1-89 1-6 1-12 1-10 1-14 1 5 1-26 1 14 1 28 1 10 1 8 1-35 1 57 1 26 1-3 1-6 1 5 1 31 1-9 1-18 1 45 1-8 1-14 1-10 1-62 1 50 1-20 1-13 1 53 1-42 1 40 1-17 1 25 1 4 1-36 1-39 1 2 1-2 1 10 1-25 1-10 1-26 1 33 1-54 1 9 1 17 1-15 1 156"/>
</g>
<path d="M48.2 104.8L623.2 106.2" stroke="#000000" stroke-width="2" fill="none"/>
<path d="M48.2 107.3L623.2 105.9" stroke="#DF536B" stroke-width="2" fill="none"/>
<path d="M48.2 107L623.2 107.2" stroke="#61D04F" stroke-width="2" fill="none"/>
<rect x="25.3" y="63.4" width="621.2" height="113.25" fill="none" stroke="#000" stroke-width="2" stroke-linejoin="round"/>
<path d="M13.1 73.75H25.3M13.1 94.6H25.3M13.1 115.6H25.3M13.1 136.6H25.3M13.1 157.6H25.3M48.2 176.65V189M163.2 176.65V189M278.2 176.65V189M393.2 176.65V189M508.2 176.65V189M623.2 176.65V189M685.4 172.45H697.2M685.4 156.88H697.2M685.4 141.31H697.2M685.4 125.74H697.2M685.4 110.17H697.2M685.4 94.6H697.2M685.4 79.03H697.2M685.4 63.46H697.2M715.5 176.65V189M819.6 176.65V189M923.7 176.65V189M1027.8 176.65V189M1131.9 176.65V189M1236 176.65V189" stroke="#000" stroke-width="2" stroke-linecap="round" fill="none"/>
<g font-family='"Liberation Sans", sans-serif' font-size="21.7" text-anchor="middle" fill="#000">
<text x="48.2" y="221.8">2000</text>
<text x="163.2" y="221.8">3000</text>
<text x="278.2" y="221.8">4000</text>
<text x="393.2" y="221.8">5000</text>
<text x="508.2" y="221.8">6000</text>
<text x="623.2" y="221.8">7000</text>
<text x="715.5" y="221.8">-4</text>
<text x="819.6" y="221.8">-3</text>
<text x="923.7" y="221.8">-2</text>
<text x="1027.8" y="221.8">-1</text>
<text x="1131.9" y="221.8">0</text>
<text x="1236" y="221.8">1</text>
<text transform="translate(667.3 172.45) rotate(-90)">0.0</text>
<text transform="translate(667.3 110.17) rotate(-90)">0.4</text>
</g>
<g font-family='"Liberation Sans", sans-serif' font-size="25" font-weight="bold" text-anchor="middle" fill="#000">
<text transform="translate(335.9 41) scale(1 1.08)">Trace of b[5]</text>
<text transform="translate(1007.95 41) scale(1 1.08)">Density of b[5]</text>
</g>
<path d="M720.2 172.4 722.12 172.4 724.05 172.4 725.97 172.4 727.9 172.4 729.82 172.4 731.75 172.4 733.67 172.4 735.6 172.4 737.52 172.4 739.45 172.4 741.37 172.4 743.3 172.4 745.22 172.4 747.15 172.4 749.07 172.4 751 172.4 752.92 172.4 754.85 172.4 756.77 172.4 758.69 172.4 760.62 172.4 762.54 172.4 764.47 172.4 766.39 172.4 768.32 172.4 770.24 172.4 772.17 172.4 774.09 172.39 776.02 172.39 777.94 172.39 779.87 172.39 781.79 172.38 783.72 172.38 785.64 172.38 787.57 172.38 789.49 172.37 791.42 172.37 793.34 172.36 795.27 172.36 797.19 172.36 799.11 172.35 801.04 172.35 802.96 172.34 804.89 172.33 806.81 172.32 808.74 172.31 810.66 172.29 812.59 172.27 814.51 172.25 816.44 172.23 818.36 172.21 820.29 172.18 822.21 172.11 824.14 172.03 826.06 171.92 827.99 171.8 829.91 171.68 831.84 171.55 833.76 171.42 835.68 171.3 837.61 171.2 839.53 171.12 841.46 171.05 843.38 171 845.31 170.94 847.23 170.9 849.16 170.85 851.08 170.81 853.01 170.77 854.93 170.72 856.86 170.68 858.78 170.63 860.71 170.58 862.63 170.53 864.56 170.49 866.48 170.44 868.41 170.39 870.33 170.34 872.26 170.29 874.18 170.23 876.1 170.16 878.03 170.09 879.95 170 881.88 169.89 883.8 169.74 885.73 169.56 887.65 169.35 889.58 169.13 891.5 168.88 893.43 168.62 895.35 168.3 897.28 167.93 899.2 167.52 901.13 167.1 903.05 166.67 904.98 166.26 906.9 165.85 908.83 165.43 910.75 165.01 912.67 164.58 914.6 164.15 916.52 163.72 918.45 163.29 920.37 162.87 922.3 162.46 924.22 162.04 926.15 161.6 928.07 161.12 930 160.6 931.92 160.01 933.85 159.35 935.77 158.64 937.7 157.9 939.62 157.13 941.55 156.37 943.47 155.62 945.4 154.86 947.32 154.08 949.25 153.29 951.17 152.49 953.09 151.69 955.02 150.89 956.94 150.1 958.87 149.3 960.79 148.51 962.72 147.7 964.64 146.88 966.57 146.02 968.49 145.15 970.42 144.27 972.34 143.37 974.27 142.41 976.19 141.37 978.12 140.21 980.04 138.86 981.97 137.35 983.89 135.75 985.82 134.12 987.74 132.45 989.66 130.67 991.59 128.9 993.51 127.23 995.44 125.59 997.36 123.99 999.29 122.45 1001.21 120.99 1003.14 119.58 1005.06 118.23 1006.99 116.9 1008.91 115.58 1010.84 114.26 1012.76 112.92 1014.69 111.56 1016.61 110.21 1018.54 108.85 1020.46 107.47 1022.39 106.08 1024.31 104.71 1026.24 103.34 1028.16 101.91 1030.08 100.39 1032.01 98.71 1033.93 96.81 1035.86 94.79 1037.78 92.82 1039.71 90.88 1041.63 88.95 1043.56 87.08 1045.48 85.21 1047.41 83.34 1049.33 81.71 1051.26 80.48 1053.18 79.47 1055.11 78.59 1057.03 77.78 1058.96 77.02 1060.88 76.32 1062.81 75.65 1064.73 75.02 1066.65 74.4 1068.58 73.8 1070.5 73.21 1072.43 72.62 1074.35 72.05 1076.28 71.51 1078.2 70.99 1080.13 70.51 1082.05 70.07 1083.98 69.66 1085.9 69.26 1087.83 68.89 1089.75 68.54 1091.68 68.22 1093.6 67.92 1095.53 67.62 1097.45 67.32 1099.38 67.09 1101.3 67 1103.23 67.14 1105.15 67.5 1107.07 67.98 1109 68.7 1110.92 69.87 1112.85 71.26 1114.77 72.64 1116.7 74.13 1118.62 75.76 1120.55 77.51 1122.47 79.41 1124.4 81.45 1126.32 83.62 1128.25 85.9 1130.17 88.31 1132.1 90.86 1134.02 93.57 1135.95 96.43 1137.87 99.53 1139.8 102.79 1141.72 106.14 1143.64 109.54 1145.57 113.1 1147.49 116.7 1149.42 120.22 1151.34 123.6 1153.27 126.93 1155.19 130.15 1157.12 133.18 1159.04 136 1160.97 138.67 1162.89 141.2 1164.82 143.54 1166.74 145.72 1168.67 147.78 1170.59 149.69 1172.52 151.41 1174.44 152.93 1176.37 154.3 1178.29 155.6 1180.22 156.86 1182.14 158.05 1184.06 159.16 1185.99 160.15 1187.91 161.08 1189.84 161.93 1191.76 162.7 1193.69 163.38 1195.61 163.99 1197.54 164.55 1199.46 165.1 1201.39 165.66 1203.31 166.2 1205.24 166.72 1207.16 167.19 1209.09 167.63 1211.01 168.05 1212.94 168.42 1214.86 168.74 1216.79 169 1218.71 169.23 1220.63 169.44 1222.56 169.65 1224.48 169.85 1226.41 170.03 1228.33 170.2 1230.26 170.36 1232.18 170.5 1234.11 170.62 1236.03 170.74 1237.96 170.86 1239.88 170.97 1241.81 171.08 1243.73 171.17 1245.66 171.25 1247.58 171.33 1249.51 171.4 1251.43 171.46 1253.36 171.52 1255.28 171.58 1257.21 171.64 1259.13 171.7 1261.05 171.75 1262.98 171.8 1264.9 171.86 1266.83 171.91 1268.75 171.96 1270.68 172.01 1272.6 172.05 1274.53 172.1 1276.45 172.14 1278.38 172.17 1280.3 172.2 1282.23 172.24 1284.15 172.27 1286.08 172.29 1288 172.32 1289.93 172.34 1291.85 172.36 1293.78 172.38 1295.7 172.4" stroke="#000" stroke-width="2" stroke-linejoin="round" fill="none"/>
<defs><linearGradient id="g0L" gradientUnits="userSpaceOnUse" x1="805" y1="0" x2="832" y2="0"><stop offset="0" stop-color="#595959"/><stop offset="1" stop-color="#595959" stop-opacity="0"/></linearGradient><linearGradient id="g0R" gradientUnits="userSpaceOnUse" x1="1258" y1="0" x2="1268" y2="0"><stop offset="0" stop-color="#595959" stop-opacity="0"/><stop offset="1" stop-color="#595959"/></linearGradient></defs>
<path d="M720.2 172.25H832" stroke="url(#g0L)" stroke-width="2.9" fill="none"/>
<path d="M1258 172.25H1295.7" stroke="url(#g0R)" stroke-width="2.9" fill="none"/>
<path d="M907.4 171.8H912.3M913.2 171.8H915M916.3 171.8H918.6M919.5 171.8H925.7M926.2 171.8H938.2M939.1 171.8H1190.5M1193 171.8H1204.2M1206.5 171.8H1214.6M1221.8 171.8H1223.8M1234.8 171.8H1237.2" stroke="#000" stroke-width="4" fill="none"/>
<path d="M847.5 172.45v-1.3M854.9 172.45v-1.3M865.3 172.45v-1.3M868.3 172.45v-1.3M874.6 172.45v-1.3M876.9 172.45v-1.3M880.6 172.45v-1.3M885.1 172.45v-1.3M887.7 172.45v-1.3M891.3 172.45v-1.3M894.2 172.45v-1.3M897.8 172.45v-1.3M900 172.45v-1.3M901.8 172.45v-1.3M904.5 172.45v-1.3M1217.6 172.45v-1.3M1219.5 172.45v-1.3M1226.5 172.45v-1.3M1229.5 172.45v-1.3M1232.5 172.45v-1.3M1239.2 172.45v-1.3M1258.5 172.45v-1.3M1266.7 172.45v-1.3" stroke="#000" stroke-width="2" stroke-linecap="round" fill="none"/>
<rect x="697.2" y="63.4" width="621.5" height="113.25" fill="none" stroke="#000" stroke-width="2" stroke-linejoin="round"/>
<path d="M697.2 172.45H720.2M1295.7 172.45H1318.7" stroke="#bebebe" stroke-opacity="0.55" stroke-width="1" fill="none"/>
<g transform="translate(48.315 0) scale(0.115 0.25)" fill="none" stroke-width="2" stroke-linecap="round" stroke-linejoin="round">
<path vector-effect="non-scaling-stroke" stroke="#000000" d="M0 1459l1 62 1-18 1-178 1-60 1 41 1 176 1-45 1 1 1 137 1-56 1 23 1-40 1 38 1-90 1 50 1 11 1 18 1-87 1 55 1 79 1-4 1-77 1-31 1 2 1-59 1 30 1 44 1-10 1 0 1-12 1 95 1-99 1 19 1 27 1 22 1-26 1-42 1-39 1 21 1-72 1 155 1-20 1-47 1-18 1 15 1 60 1 9 1-41 1 30 1-47 1 55 1-6 1 55 1-13 1-61 1 3 1 38 1-138 1 70 1-13 1-57 1 96 1 6 1 3 1-43 1-5 1 44 1 42 1 29 1-67 1-57 1 27 1 20 1-50 1 64 1 20 1-123 1 10 1 36 1 122 1-68 1 26 1-63 1-26 1 23 1-21 1-59 1-20 1 71 1 140 1 19 1-117 1 52 1-89 1 18 1-20 1 68 1 77 1-10 1-63 1-42 1-86 1 36 1 32 1-41 1 20 1-12 1-54 1 139 1-67 1 117 1-20 1-3 1-29 1-93 1 45 1 8 1-16 1 63 1 52 1-63 1-35 1-9 1 16 1 47 1-63 1 38 1-75 1 65 1 9 1 11 1-109 1 40 1-51 1 68 1 86 1-154 1-23 1 18 1 91 1-81 1 10 1 4 1 71 1 41 1-73 1-26 1 126 1-10 1 4 1-51 1-64 1-20 1 47 1 5 1 5 1 57 1-55 1 2 1-27 1 86 1-213 1 68 1 38 1-11 1 44 1-17 1-11 1 13 1 38 1 18 1-9 1-76 1 50 1-75 1 8 1 131 1-11 1-49 1 21 1-19 1 70 1 3 1-90 1 120 1-67 1-32 1-25 1-75 1 188 1-144 1 24 1 45 1 32 1 44 1-6 1-99 1-59 1-6 1 21 1 56 1 9 1 65 1-49 1-12 1-11 1 32 1 13 1 8 1-76 1-22 1 39 1-52 1 120 1-114 1 50 1-38 1 6 1 29 1 59 1-12 1 10 1-70 1 103 1-63 1 7 1-32 1 71 1-5 1-63 1 90 1 41 1-176 1 36 1 15 1 16 1 33 1-24 1-45 1-22 1-87 1 180 1 12 1-83 1-6 1-11 1 75 1-28 1-49 1-30 1 91 1 82 1 7 1-46 1-17 1 91 1-51 1 2 1-51 1 29 1-15 1-30 1 34 1-20 1-23 1-25 1 29 1 42 1 6 1-40 1 37 1-23 1-5 1-26 1-33 1-29 1 75 1 0 1-21 1 21 1-13 1 93 1-131 1 23 1-61 1 49 1-24 1-6 1-42 1 97 1-23 1 78 1 13 1 22 1-43 1-107 1 97 1-83 1 16 1 40 1 32 1-65 1-5 1-32 1 45 1 96 1-37 1-166 1 188 1-40 1 12 1 7 1 77 1-112 1 92 1-18 1-66 1 53 1-17 1-71 1-57 1 43 1-10 1 65 1-72 1 24 1 71 1-4 1-44 1 5 1-87 1 57 1 38 1-60 1 34 1 52 1-93 1 49 1-38 1 19 1 10 1-92 1 47 1 23 1 171 1-95 1-85 1 30 1-36 1 116 1-32 1-34 1-86 1 23 1 74 1-17 1-30 1 35 1 75 1-19 1-18 1-47 1 52 1-11 1 37 1 8 1-84 1-111 1 119 1-66 1 94 1-7 1 62 1-56 1-28 1-13 1 8 1 11 1-1 1 56 1-55 1-85 1 18 1 14 1-39 1 12 1-3 1 79 1 21 1 40 1-8 1 32 1-48 1-1 1-1 1-85 1 0 1 6 1 28 1-14 1 10 1 30 1-5 1-14 1 57 1-76 1-6 1-69 1 49 1-60 1-67 1 40 1 136 1 58 1-46 1 18 1 36 1-61 1 48 1-19 1-48 1-66 1 81 1-39 1-33 1 60 1 1 1-150 1 104 1 81 1 17 1 45 1 0 1-155 1 13 1 34 1 24 1-78 1 0 1 22 1 65 1-3 1-64 1 30 1 46 1-44 1-18 1 51 1 13 1-58 1-58 1 100 1-35 1 71 1-74 1-25 1 28 1 33 1 39 1 36 1-52 1-2 1-27 1-62 1 50 1 3 1 67 1-106 1-4 1 16 1-10 1 97 1 0 1-16 1-37 1 34 1-27 1-10 1 55 1-42 1 8 1 0 1-8 1 39 1-42 1-24 1 51 1 10 1 21 1-152 1 34 1 67 1 59 1-24 1-42 1 42 1-28 1 27 1 36 1-54 1 91 1-111 1 67 1-28 1-38 1-23 1 3 1 51 1-88 1 117 1-68 1-7 1-71 1 19 1-35 1 137 1-96 1-34 1 98 1 27 1-90 1 36 1 3 1-4 1-65 1 101 1-44 1 56 1 19 1 28 1 30 1-104 1-80 1 25 1 54 1-6 1 64 1-58 1-62 1 109 1 7 1-23 1 27 1 14 1 49 1-69 1-22 1-38 1-59 1-16 1 128 1-20 1-32 1 60 1-19 1 24 1 58 1-91 1-18 1-53 1 48 1-76 1 1 1-1 1 108 1-106 1 77 1 29 1 62 1-86 1-1 1-87 1 64 1 29 1 63 1-90 1 9 1-29 1 90 1 39 1-64 1 19 1-3 1 29 1-31 1 1 1-24 1 42 1-145 1 61 1-59 1-13 1 92 1-33 1 101 1-143 1 56 1 82 1-99 1 37 1-51 1-85 1 161 1-48 1-54 1 56 1 7 1 10 1 8 1 58 1-24 1 55 1-71 1 54 1-69 1 51 1-60 1 46 1-35 1 37 1-28 1-7 1 21 1 9 1-23 1-33 1 23 1-24 1 9 1-57 1 127 1 1 1-10 1 11 1 15 1-2 1-32 1-15 1-1 1-23 1 16 1 34 1-63 1-88 1-42 1 38 1 117 1-117 1 135 1-69 1 3 1 52 1 45 1-92 1-16 1 6 1 34 1 32 1-16 1 20 1-8 1 22 1 2 1-78 1 29 1 85 1 34 1-53 1-17 1 66 1-83 1-9 1-61 1 80 1-178 1-51 1 209 1 31 1-26 1 6 1-45 1 31 1-27 1-68 1 10 1-9 1 32 1 63 1-136 1 127 1-69 1 69 1-82 1 75 1 8 1 8 1 0 1 13 1 82 1-54 1-126 1-12 1 68 1-46 1 3 1 29 1 61 1-57 1 21 1-23 1 47 1-55 1 68 1 9 1-13 1-12 1 20 1 51 1 41 1-136 1 35 1-27 1-86 1-3 1 10 1 68 1 76 1-16 1 8 1-14 1-54 1 61 1 19 1-20 1-51 1 17 1 90 1-31 1-68 1 20 1-84 1 21 1 7 1 47 1-135 1 100 1 20 1-10 1 46 1-51 1-26 1 22 1 23 1-52 1 49 1 2 1-62 1 86 1-25 1 69 1-135 1 49 1-29 1 42 1 32 1-133 1-6 1 97 1 0 1-27 1 70 1-59 1-21 1 72 1-48 1 36 1 8 1-3 1-26 1-75 1-56 1 75 1 48 1 6 1 18 1-194 1 44 1 183 1-7 1-10 1-79 1 31 1-55 1-57 1 16 1 55 1 39 1-63 1 65 1 29 1-45 1 18 1-30 1 8 1 53 1-8 1 31 1-117 1 84 1-29 1 61 1-74 1-13 1 80 1-54 1-7 1-103 1 128 1-82 1 104 1 19 1 37 1 11 1 37 1-26 1-59 1-41 1-71 1 21 1 2 1-19 1 145 1-25 1-92 1 135 1-36 1-43 1-68 1 73 1 65 1-64 1-7 1 22 1-72 1-61 1-59 1 99 1 47 1-86 1 10 1 11 1 115 1-33 1 0 1 42 1 4 1-32 1-43 1-19 1 96 1 44 1-43 1-41 1 42 1-31 1 4 1-7 1-32 1 45 1-39 1 28 1 42 1 14 1-36 1-14 1 7 1-49 1 16 1 96 1-6 1-55 1-35 1 49 1-61 1-72 1 21 1 86 1 11 1 9 1-15 1-61 1-16 1-71 1 67 1 7 1 4 1-29 1 34 1 45 1 29 1-125 1 104 1 62 1-117 1-15 1-7 1-31 1 77 1 50 1-40 1 11 1-18 1-24 1 23 1-35 1 97 1-37 1-48 1 5 1 19 1-20 1 30 1-2 1 12 1-121 1 127 1-128 1-47 1 49 1 178 1-10 1 53 1-51 1 41 1-25 1-106 1 81 1-31 1-101 1-18 1 122 1-57 1-8 1-3 1 94 1-97 1 34 1 72 1-14 1-25 1-75 1 14 1 43 1-9 1-35 1 22 1 2 1 41 1 38 1-24 1-56 1-1 1-26 1-57 1 41 1-16 1 17 1 60 1-87 1-31 1 120 1-2 1-21 1 68 1 77 1 13 1-134 1 55 1-15 1-29 1-28 1-10 1 13 1 10 1-89 1 62 1 34 1 23 1 2 1 9 1-54 1 4 1 77 1-26 1 9 1 18 1 69 1-81 1-14 1-38 1-84 1-156 1 143 1 50 1 48 1-16 1 71 1 21 1-135 1 76 1 25 1-98 1 22 1 65 1-31 1 26 1-7 1-105 1-45 1 68 1 37 1 24 1 16 1-15 1 56 1-4 1 15 1-61 1 27 1-26 1-60 1 162 1-46 1 0 1-36 1-70 1-18 1-19 1 121 1 13 1 12 1-139 1 74 1 0 1-66 1-43 1 6 1 117 1 1 1 41 1-10 1-75 1 35 1-38 1 27 1-76 1-6 1-11 1 27 1 41 1-30 1 86 1-163 1 178 1-9 1 7 1 21 1-64 1 6 1 52 1-127 1-28 1 163 1 26 1-49 1-35 1 39 1-132 1 93 1-72 1 14 1 33 1 32 1-75 1 96 1-59 1-16 1-3 1 0 1 62 1 10 1 31 1-22 1 25 1-176 1-12 1 146 1 94 1-18 1-61 1 7 1-29 1 21 1-8 1-14 1 38 1 37 1-22 1-13 1-52 1-15 1 82 1 6 1-56 1 17 1 15 1-39 1 17 1-17 1 59 1-26 1-94 1 126 1-28 1-8 1 8 1 5 1 41 1-49 1-17 1 81 1-52 1 50 1-43 1-86 1 105 1-151 1-3 1 44 1-64 1 71 1-48 1 78 1 58 1 21 1-24 1 19 1-117 1 91 1-4 1-87 1 28 1-49 1-7 1 56 1 54 1-15 1-16 1-46 1-5 1-37 1 69 1 21 1-85 1 43 1 52 1 8 1-21 1-3 1-19 1-46 1 98 1-53 1-4 1 35 1-68 1-75 1 30 1 118 1-53 1-7 1 5 1 38 1-18 1 15 1-110 1 112 1 10 1-54 1 32 1 3 1 24 1 4 1-78 1 74 1-24 1 69 1-37 1 17 1-14 1-49 1-64 1-6 1 53 1 14 1-27 1 22 1-1 1 68 1-14 1-135 1-22 1 36 1 165 1-139 1 108 1-35 1-16 1 89 1-54 1-170 1-21 1 66 1 97 1-4 1-175 1 102 1-21 1 9 1 103 1-19 1 72 1 37 1-43 1-10 1-14 1-24 1-32 1 63 1-6 1-74 1-50 1 38 1 79 1-59 1 28 1 10 1 28 1-10 1-16 1 25 1 22 1 16 1 33 1-163 1 41 1 39 1-11 1-33 1 46 1-18 1 7 1 23 1-2 1 0 1-45 1 4 1 6 1-75 1-44 1 49 1 72 1-72 1 12 1 20 1 68 1-20 1 25 1-61 1 41 1-38 1-80 1 101 1-37 1 52 1 17 1 22 1 41 1 3 1-123 1 83 1 45 1 11 1-69 1-29 1 24 1-79 1-7 1 46 1 40 1-5 1 13 1 40 1-115 1-41 1-13 1-15 1-86 1 105 1 86 1 18 1 6 1-37 1 10 1 26 1 35 1-32 1 74 1-60 1-66 1-137 1 119 1 21 1 25 1-5 1 60 1-31 1-35 1-9 1 46 1-44 1 21 1 1 1 1 1-95 1 35 1 11 1-26 1 53 1-12 1 48 1 24 1-27 1-4 1-183 1 188 1-15 1 70 1-60 1-28 1-62 1 109 1-33 1-34 1 78 1 3 1-3 1 27 1-91 1-59 1 7 1 125 1 7 1-78 1-14 1 132 1-122 1-14 1 45 1 8 1 26 1-24 1-31 1-42 1 1 1-39 1 81 1-126 1 31 1 53 1 29 1-38 1 76 1-35 1 75 1-101 1-46 1 87 1-67 1 42 1 53 1-84 1 66 1-169 1-14 1 93 1 134 1-6 1 48 1-30 1-38 1-10 1 0 1 29 1-14 1-53 1-22 1 0 1 93 1-57 1 74 1-65 1-5 1 94 1 33 1-18 1-64 1-2 1-41 1 22 1-43 1 25 1-33 1-12 1 18 1 10 1-86 1 83 1 66 1-74 1 39 1 45 1-39 1-60 1-39 1 11 1-2 1 73 1-27 1-6 1 11 1-27 1 105 1 16 1-132 1 42 1-25 1 16 1-18 1 43 1 11 1 48 1-23 1 11 1-56 1 31 1-13 1 10 1-12 1 20 1 53 1-80 1-21 1-46 1-3 1-28 1-4 1 46 1-62 1 59 1 94 1 31 1-47 1-47 1 38 1 39 1-17 1-52 1 26 1 34 1-48 1-28 1-43 1 84 1-65 1-36 1-34 1-12 1 24 1 152 1-60 1-69 1 62 1 80 1-97 1 10 1-18 1-6 1 68 1-12 1 29 1 7 1-85 1 77 1-54 1 18 1 9 1-32 1 42 1 26 1 21 1-42 1-28 1 38 1-3 1-61 1 67 1-9 1 34 1 4 1-2 1-27 1-21 1 22 1-61 1 23 1 30 1-10 1 63 1 5 1-46 1-92 1 72 1-6 1-43 1 6 1-4 1-12 1-76 1 151 1 10 1-21 1 44 1-51 1 37 1-51 1 37 1-54 1 60 1-8 1-7 1 16 1-59 1-9 1-5 1-29 1 130 1-85 1 102 1-57 1-39 1-47 1-40 1 45 1 71 1-74 1-27 1 0 1 98 1-65 1 17 1-2 1 24 1-103 1-75 1 118 1 87 1-11 1-22 1-14 1 23 1 46 1-38 1 28 1-9 1-32 1-6 1 5 1 24 1-76 1 29 1-26 1 58 1-23 1 33 1-33 1 40 1-23 1 9 1-102 1-58 1 182 1-130 1 81 1 115 1-26 1-13 1-38 1-2 1-15 1 14 1-99 1-23 1 11 1 62 1 78 1-9 1-11 1-30 1-19 1-39 1 179 1 7 1-44 1-51 1 9 1 4 1-22 1 53 1-80 1 85 1-93 1 38 1 9 1-31 1-85 1 132 1 42 1-26 1-61 1-10 1 60 1-80 1-70 1-91 1 69 1 162 1-51 1-63 1 137 1-69 1 26 1 29 1-62 1-12 1-15 1-3 1 8 1 83 1-17 1 17 1-29 1-30 1 21 1 72 1-55 1-99 1 59 1 46 1-32 1-123 1-53 1 45 1 41 1 20 1-27 1 35 1-44 1 92 1 77 1-13 1 19 1-54 1-139 1 113 1-94 1 59 1 60 1-56 1 31 1-35 1 37 1-11 1 30 1-44 1-78 1 76 1 60 1 8 1-41 1-92 1 72 1 70 1 3 1-70 1-10 1 2 1 103 1-36 1 48 1-127 1-43 1-17 1 68 1-27 1 42 1-5 1 3 1 63 1 58 1-37 1-50 1-76 1-14 1 21 1-43 1 100 1-51 1 30 1-20 1-29 1 34 1 88 1-143 1-43 1 115 1 38 1 12 1-99 1 144 1 23 1-30 1 37 1-50 1-31 1 1 1-18 1-5 1 11 1-52 1 71 1 62 1-95 1-58 1-6 1 21 1 65 1-35 1-10 1-63 1 1 1 61 1 140 1-42 1-108 1 30 1 6 1 30 1-37 1-37 1 51 1-17 1 89 1-70 1-15 1 2 1-32 1 65 1 24 1-37 1-58 1 38 1-72 1 93 1-29 1-49 1-68 1 44 1-7 1 77 1-44 1 43 1-51 1-10 1 48 1 73 1-1 1 40 1-46 1-21 1-71 1 117 1-130 1 10 1 83 1-100 1 87 1 19 1-4 1-26 1-58 1 52 1-70 1 31 1 32 1 35 1-56 1-5 1 13 1 23 1-13 1-31 1-46 1 0 1 17 1 42 1 15 1-27 1 38 1 16 1-8 1-20 1 81 1-37 1-89 1 1 1 38 1 85 1 6 1-20 1-27 1 0 1-32 1-161 1 224 1-170 1 84 1 45 1 4 1-54 1 14 1 49 1-51 1 78 1-14 1-34 1 28 1 78 1-130 1 72 1-48 1 32 1-56 1-88 1 21 1 130 1 57 1-84 1-16 1 21 1 46 1-114 1 77 1-8 1-28 1 50 1-73 1-6 1-6 1 2 1 41 1 63 1-66 1-29 1 6 1 71 1-139 1 63 1 80 1-8 1-14 1-83 1 224 1-260 1 40 1 76 1-54 1-29 1 69 1-3 1-31 1 25 1 17 1-18 1-24 1 37 1-7 1 55 1 37 1-130 1 28 1 23 1-11 1-28 1-90 1 18 1-20 1 46 1 43 1 20 1-12 1-15 1 0 1 42 1-22 1 31 1-60 1 37 1-10 1 29 1 39 1-70 1 22 1-102 1 59 1-19 1-33 1 117 1-69 1 75 1 20 1 2 1-30 1-121 1-39 1 43 1 104 1-22 1 49 1-113 1 58 1-49 1 41 1 37 1-90 1 72 1 36 1-37 1-4 1-20 1 80 1-75 1 25 1-16 1 72 1 9 1-51 1 66 1-12 1-47 1 57 1 1 1 13 1-30 1-91 1 86 1-49 1 22 1 40 1 5 1-27 1 6 1 31 1 12 1-104 1-81 1 18 1 60 1-9 1-49 1 6 1-53 1 81 1 38 1 10 1-19 1-91 1 20 1 100 1-83 1 19 1-8 1-30 1-4 1 158 1-61 1 9 1-6 1-34 1-45 1 99 1-31 1 13 1-61 1 124 1-36 1-45 1 63 1-125 1-83 1 149 1-78 1 52 1-33 1 61 1 18 1-28 1 38 1 63 1-49 1-64 1-97 1 199 1-33 1-2 1-29 1 7 1-89 1 70 1 121 1 10 1-162 1-21 1 90 1-103 1 46 1-33 1-2 1-22 1 22 1 35 1 74 1 46 1-67 1-22 1-81 1 125 1-41 1 29 1-14 1-57 1-65 1 53 1 35 1-26 1 58 1-25 1-35 1 24 1-15 1 30 1-36 1 10 1-21 1-51 1 84 1-24 1-32 1-22 1-9 1 66 1-86 1 45 1 38 1-33 1 81 1-45 1 2 1 83 1-27 1-67 1-101 1 7 1 76 1-30 1 37 1-47 1 50 1 28 1-1 1-76 1 110 1 24 1-42 1 29 1 69 1 22 1-137 1-1 1-17 1 71 1-61 1-20 1 25 1-33 1 57 1 97 1-40 1-141 1 77 1 9 1 18 1-25 1-22 1 16 1-9 1 10 1-12 1-45 1 41 1-37 1 51 1-81 1-42 1 126 1-32 1-17 1-74 1 136 1-18 1-22 1-6 1 47 1 91 1-165 1 25 1 32 1 8 1-17 1 18 1-38 1-16 1 27 1-35 1 87 1 8 1-61 1-87 1 151 1-28 1-235 1-21 1 166 1 50 1 68 1-25 1 52 1-90 1 57 1 2 1-5 1-42 1-29 1-23 1 26 1 38 1-3 1-50 1 28 1 16 1-12 1-28 1 53 1-9 1-50 1 129 1-85 1-38 1 160 1-88 1-26 1 18 1-83 1-8 1 126 1-104 1 36 1-25 1 101 1-70 1 18 1-6 1-18 1 10 1 66 1 4 1-132 1 109 1 25 1 30 1-56 1-7 1-5 1 59 1-160 1-8 1 57 1-10 1 22 1 31 1-91 1-3 1 69 1-7 1 10 1 4 1 48 1-38 1 31 1-96 1-57 1 6 1 63 1 53 1 48 1-61 1 2 1-1 1 36 1-71 1 103 1-46 1 27 1-32 1 75 1-105 1 104 1-35 1-34 1-54 1-13 1 5 1 17 1-85 1 145 1-90 1 24 1-37 1 61 1-140 1 154 1-58 1 71 1-135 1-22 1 47 1 64 1 31 1 25 1 4 1-19 1-20 1 34 1-76 1 24 1-7 1 4 1 11 1 28 1 82 1 13 1-13 1-142 1 23 1 31 1-24 1 42 1 7 1-12 1-2 1 30 1-113 1 77 1 5 1-74 1-33 1 56 1-81 1 120 1 33 1-73 1-10 1 26 1 86 1-47 1-8 1-15 1-1 1 0 1-32 1 15 1 5 1 43 1-47 1 61 1-67 1-56 1 26 1 49 1-40 1 40 1-5 1-28 1 35 1-66 1 30 1 18 1 116 1-84 1 62 1-42 1 0 1-4 1 76 1-45 1-48 1 14 1 2 1-93 1 120 1-76 1 49 1-1 1-67 1 17 1 27 1 56 1-47 1 54 1-151 1 83 1 4 1-35 1-1 1 12 1-10 1 41 1-16 1-107 1 152 1 62 1 31 1-39 1-83 1-14 1 12 1-95 1 65 1 38 1-22 1 25 1-5 1 76 1-13 1-41 1 30 1-37 1 4 1-50 1-17 1-72 1 133 1-87 1 20 1 30 1 39 1 24 1-45 1 42 1-31 1-69 1 54 1 38 1-28 1-31 1 29 1 36 1 30 1 2 1-37 1-67 1 64 1-75 1 26 1 16 1-113 1 30 1 80 1 45 1 45 1-26 1-132 1 93 1-56 1 179 1-139 1 6 1-56 1 16 1 48 1-11 1 45 1-25 1-151 1 163 1-38 1-10 1-37 1 3 1 41 1 5 1-10 1 66 1-9 1 72 1-42 1-12 1 5 1-40 1-52 1 29 1-111 1 118 1-13 1-111 1 71 1 11 1-73 1 52 1 80 1-17 1-44 1 30 1 29 1 14 1-39 1 18 1-99 1 70 1-10 1-57 1 16 1 114 1-42 1 10 1-4 1 28 1-22 1-21 1 47 1-188 1 159 1-44 1-48 1 31 1 42 1 43 1-74 1-28 1 48 1-31 1 32 1-76 1 99 1 64 1-21 1-74 1-63 1 61 1 10 1 67 1-131 1-18 1-3 1 70 1-32 1-19 1 61 1 59 1 13 1-157 1 104 1 17 1-27 1 13 1 8 1-33 1-8 1-69 1 67 1-7 1-27 1 15 1 32 1 2 1 96 1-71 1-35 1 0 1-81 1 147 1-36 1 26 1-44 1 84 1-19 1-82 1-4 1 7 1-24 1-22 1 11 1 71 1 43 1-89 1-94 1 48 1 20 1-21 1-16 1 51 1-74 1-5 1 182 1-61 1-16 1 83 1 21 1-30 1-45 1 3 1-43 1 100 1-29 1-30 1-44 1 24 1 67 1-87 1 39 1-34 1 42 1-5 1 50 1 13 1 3 1-66 1-84 1-55 1 52 1 37 1 43 1 35 1-22 1-25 1 25 1-44 1-68 1 42 1 55 1-149 1 116 1-65 1 140 1-228 1 176 1-58 1 13 1 11 1 94 1-28 1-45 1-4 1-90 1 65 1 12 1 14 1-7 1 45 1-34 1 4 1-22 1-42 1 27 1-52 1 96 1-42 1 76 1-43 1 0 1 19 1-205 1 195 1-74 1 74 1-6 1 29 1 3 1-100 1-2 1 37 1 38 1 12 1-87 1-10 1-8 1 14 1 55 1 77 1-43 1 41 1-41 1-55 1 55 1 48 1 21 1-166 1 106 1-42 1-91 1 94 1-15 1 24 1 91 1-34 1 8 1-42 1-107 1 42 1 43 1 8 1-36 1 29 1-29 1 87 1 47 1-46 1 48 1 5 1-186 1 184 1-56 1 6 1-84 1 50 1 41 1-62 1 89 1-28 1-97 1 32 1-8 1 64 1-59 1-41 1-5 1-14 1 17 1-19 1 78 1 81 1-3 1-57 1-123 1 10 1-33 1 110 1 30 1 60 1-50 1-42 1-14 1 59 1-6 1-46 1 16 1-36 1 31 1 10 1-38 1 28 1-34 1 15 1 1 1-22 1 30 1 51 1 78 1-28 1-2 1-50 1-58 1 14 1-90 1 60 1-25 1 22 1 8 1 19 1 102 1-12 1-65 1 80 1-61 1-13 1-43 1 15 1 99 1-105 1 21 1-15 1 32 1-8 1-59 1-66 1 29 1-27 1 102 1 19 1 120 1-94 1-26 1 30 1 32 1-10 1-122 1 6 1-71 1 48 1 52 1 27 1-68 1 15 1 36 1-57 1 138 1-54 1-10 1-5 1-18 1-10 1 2 1 5 1 93 1-94 1-17 1-17 1-53 1-23 1 126 1 6 1-60 1 45 1-64 1 75 1-109 1 9 1 19 1 60 1 18 1 9 1-10 1-3 1 3 1 20 1 14 1-15 1-30 1 43 1-18 1 46 1-52 1-110 1 93 1-103 1 64 1 19 1 16 1-8 1-48 1 87 1-16 1-65 1 55 1 11 1 33 1 53 1-95 1 81 1-99 1-83 1 79 1 30 1-11 1 5 1 21 1-29 1 24 1-49 1 70 1 2 1-115 1 39 1 67 1-7 1-29 1-24 1 4 1 125 1 21 1-48 1-63 1 9 1-71 1 24 1 99 1-18 1-75 1 52 1 9 1 5 1-46 1 13 1 54 1-26 1 52 1-95 1-109 1-37 1 102 1 0 1 118 1-54 1-59 1 42 1 23 1-11 1 3 1-9 1 13 1 1 1 15 1-59 1 7 1 56 1 102 1-27 1-91 1 25 1-3 1-1 1-91 1 72 1 58 1 20 1 27 1-96 1 53 1-59 1-6 1 7 1-36 1 77 1-37 1 12 1-7 1 41 1-12 1 17 1-23 1-50 1-19 1 36 1 22 1-54 1-58 1-1 1 102 1 11 1-18 1-32 1-69 1 86 1-4 1-52 1 53 1-44 1 67 1-29 1 23 1 58 1 6 1-59 1-81 1-108 1 64 1 146 1 24 1-6 1-152 1 40 1 92 1 15 1 24 1 1 1-47 1-6 1-32 1 43 1-98 1 71 1 32 1 4 1-8 1-113 1 43 1 62 1-47 1 78 1-127 1 52 1 29 1 44 1-12 1-49 1-36 1 38 1 102 1-78 1-40 1-11 1 52 1-90 1 35 1 19 1-14 1-46 1 125 1-67 1 48 1 22 1 0 1-97 1 6 1-24 1 112 1-142 1 112 1-46 1-59 1 100 1 82 1-62 1 45 1-28 1-17 1-74 1-20 1 28 1-29 1 7 1-4 1-79 1-35 1 227 1-63 1 6 1 42 1 14 1-81 1 88 1-35 1 15 1 42 1-49 1-11 1 13 1 29 1-42 1-20 1-30 1 47 1-36 1-34 1 29 1 50 1 70 1-115 1-30 1-21 1 26 1 17 1-33 1 2 1-34 1 105 1-6 1 33 1-73 1-6 1 26 1-22 1-172 1 194 1 24 1 62 1-25 1-137 1 81 1 75 1-79 1 7 1 25 1-10 1 24 1 73 1-154 1 58 1 51 1-105 1 101 1-95 1 16 1-9 1 50 1 15 1-49 1-115 1 32 1 5 1 98 1-71 1 22 1 28 1-7 1 32 1 40 1-92 1 90 1-56 1 40 1-73 1 50 1 23 1-114 1 103 1-60 1 0 1 54 1 24 1 10 1-115 1 77 1-120 1 68 1-8 1-24 1-64 1 129 1-3 1 4 1 82 1-33 1 42 1-82 1-12 1-23 1 2 1 34 1 73 1-295 1 246 1-181 1 74 1 7 1-7 1-6 1-3 1 1 1 53 1 34 1-34 1-23 1 89 1-158 1 139 1-10 1 39 1 69 1 13 1-63 1-75 1-12 1-6 1-28 1 60 1-44 1 39 1-1 1 16 1-54 1 34 1 32 1-25 1-29 1-21 1 20 1 16 1 71 1-92 1 11 1 48 1-53 1 27 1-4 1-39 1 28 1 46 1-16 1-2 1 64 1-46 1-51 1 43 1-24 1-21 1-16 1 17 1-37 1 121 1-73 1-25 1 98 1-89 1-59 1 135 1 54 1-28 1-52 1-6 1-53 1 179 1-237 1 59 1-8 1-23 1 71 1-8 1 53 1-83 1 12 1 18 1-62 1 36 1 44 1 90 1-9 1-135 1 71 1-76 1 52 1-80 1 20 1 50 1 20 1-27 1 22 1-70 1-38 1 171 1-54 1-34 1-47 1 39 1-28 1 55 1 24 1 12 1 11 1-73 1-56 1 0 1-5 1 66 1 69 1-95 1-12 1 11 1 77 1-179 1 61 1 47 1 60 1-107 1 16 1-4 1-20 1 131 1-1 1 5 1-106 1-129 1-20 1 254 1-27 1 9 1-70 1 72 1-85 1 94 1-63 1 100 1 35 1-65 1-80 1-40 1 51 1-30 1 90 1 31 1-60 1 29 1 27 1-28 1-109 1-7 1 74 1-55 1 37 1-43 1 121 1-49 1 109 1-43 1-51 1-15 1-42 1 0 1 85 1 28 1-81 1 25 1 8 1-3 1-24 1-40 1 105 1-24 1-123 1-54 1 49 1-23 1-13 1 124 1-23 1 66 1-72 1-5 1-59 1 74 1-70 1 109 1 3 1 46 1-88 1-2 1 14 1-32 1 23 1 16 1 18 1-137 1 66 1 85 1 9 1-22 1 16 1-23 1 60 1-82 1-106 1-72 1 69 1 19 1 87 1 1 1-26 1 56 1-35 1-14 1-1 1 45 1 35 1-62 1 64 1-46 1-51 1 71 1-35 1 6 1-43 1 72 1 16 1-6 1-53 1 56 1 19 1 26 1-147 1 71 1 33 1-33 1 20 1 2 1-26 1-2 1-118 1 3 1 62 1-5 1 59 1 19 1-91 1 91 1 8 1 10 1-55 1 13 1 39 1 44 1-10 1-78 1-41 1 20 1 33 1 33 1-53 1 104 1-80 1-98 1 54 1 50 1-18 1 63 1-88 1-13 1 5 1-78 1-8 1 3 1-15 1 70 1 1 1 126 1 13 1-95 1-35 1 75 1-37 1 7 1 57 1 21 1-20 1 66 1-88 1-65 1 8 1 100 1 50 1-45 1-1 1-18 1-77 1 39 1-78 1 32 1 52 1-30 1 35 1-38 1 8 1-78 1-35 1 29 1-41 1 71 1 102 1 0 1-45 1-29 1 33 1-65 1-33 1 170 1 36 1-23 1-86 1 15 1 18 1 22 1-54 1 22 1-18 1-64 1 56 1-91 1 173 1-16 1-11 1-55 1 48 1-148 1 70 1 38 1 7 1 45 1 24 1-32 1-80 1 29 1-13 1 43 1-68 1-20 1 61 1 1 1-33 1 31 1-7 1-25 1 86 1-32 1-34 1 42 1-207 1 157 1 65 1 16 1-75 1-8 1-2 1-13 1 102 1-134 1 170 1-36 1-72 1-24 1 21 1-106 1 69 1-28 1 64 1 30 1-36 1 114 1-88 1-55 1-18 1 53 1-62 1 41 1-24 1-55 1 95 1 24 1 21 1 26 1-122 1 9 1 83 1 21 1 43 1-38 1 6 1-17 1-19 1-36 1-95 1 45 1 46 1-43 1 22 1 42 1 1 1-29 1 59 1 29 1-87 1 17 1 14 1 49 1-113 1 29 1 23 1 37 1-86 1 76 1-75 1 10 1 59 1-33 1 3 1 9 1 38 1-4 1 21 1 40 1-99 1 141 1 34 1-99 1-80 1 12 1 13 1 57 1-78 1 57 1-35 1-3 1-55 1 25 1-28 1 40 1 24 1-51 1-5 1 32 1 25 1-48 1-26 1-30 1 74 1 14 1-125 1 148 1 22 1 59 1-106 1-68 1-55 1 18 1 82 1-12 1 110 1-9 1-96 1-1 1 39 1 44 1-41 1-52 1-42 1 31 1 33 1 31 1 66 1-31 1 29 1 31 1-83 1 26 1-85 1 27 1-13 1 54 1 0 1-34 1 42 1-55 1-42 1-22 1 79 1-62 1 82 1-76 1 33 1-24 1 7 1 47 1 65 1 34 1-129 1-53 1 125 1-50 1 10 1-52 1 102 1-7 1 41 1-63 1-12 1 16 1-71 1 10 1 79 1 58 1-115 1-116 1 51 1 0 1 71 1-29 1-88 1 67 1 37 1 17 1-92 1 19 1-22 1-49 1 46 1 157 1-25 1 33 1 0 1 23 1-95 1 5 1-15 1 1 1 33 1-49 1 16 1 15 1-11 1 15 1-51 1 56 1-46 1-96 1 95 1 65 1 88 1 15 1-175 1 4 1-52 1 14 1 68 1-6 1-62 1 16 1 57 1 42 1-10 1 18 1-118 1 108 1-53 1 36 1-23 1 28 1-47 1 26 1 3 1-68 1 64 1-4 1-43 1 95 1-27 1 7 1-116 1-24 1 67 1-18 1 113 1 40 1-61 1 21 1-31 1 47 1-63 1 14 1-16 1-97 1 84 1 76 1-19 1-140 1 63 1 53 1 5 1 2 1 14 1-12 1-68 1 9 1 7 1 20 1-17 1 59 1-59 1-106 1 9 1 69 1-29 1 44 1 45 1-7 1-10 1-53 1-9 1-21 1 40 1 98 1 12 1-53 1 23 1-44 1 58 1-64 1 61 1-46 1-41 1 20 1-57 1-15 1 54 1-86 1-35 1 74 1 36 1 21 1 114 1 3 1-114 1-84 1-33 1 112 1 102 1-47 1-84 1 28 1 94 1-60 1-7 1 27 1-45 1 66 1-66 1 23 1 44 1-103 1 25 1 85 1-62 1-2 1-47 1 105 1 51 1-31 1-20 1-63 1-17 1-58 1 31 1 22 1-18 1-35 1-1 1 93 1-133 1-12 1 88 1 95 1-118 1-3 1 79 1 10 1-24 1 6 1 32 1-31 1 43 1 28 1-27 1-89 1-17 1 89 1-87 1 9 1 32 1 74 1-57 1 87 1 44 1-41 1-92 1 52 1-84 1-30 1-8 1 60 1-21 1 136 1 45 1-79 1-152 1 52 1-40 1-10 1 64 1 18 1-10 1 109 1-148 1 57 1 17 1 11 1 21 1-27 1 29 1-113 1 53 1 13 1-101 1 102 1-72 1 2 1 96 1-28 1 36 1 3 1 14 1-12 1-39 1 97 1-36 1-38 1-24 1 22 1 53 1-37 1-24 1-38 1 20 1-72 1-46 1 71 1-34 1 51 1-1 1 26 1 15 1-44 1-4 1 39 1-8 1-57 1-38 1 82 1 9 1-5 1 2 1-32 1 13 1-64 1 29 1 67 1 10 1-84 1 107 1-26 1-107 1 110 1 37 1 1 1-111 1 131 1-56 1-82 1 85 1 47 1-30 1-57 1 1 1 3 1-19 1-25 1 63 1 15 1 16 1-35 1-52 1-74 1 94 1 16 1 94 1 19 1-49 1-88 1-33 1 99 1 6 1-112 1 8 1 12 1-3 1 38 1-18 1-1 1 61 1 65 1-41 1-86 1 67 1-12 1-24 1-53 1 22 1 77 1-44 1 34 1-13 1-74 1 1 1 34 1-72 1 41 1 88 1 24 1-63 1-22 1 109 1-67 1 60 1-33 1 80 1-66 1-30 1 70 1-21 1-89 1 28 1 45 1-14 1-194 1 204 1-27 1-43 1-36 1 108 1-16 1-89 1-51 1 39 1 57 1 64 1 16 1-8 1 4 1-57 1 65 1-26 1-81 1 38 1 39 1-151 1 157 1-32 1-34 1-17 1 20 1 13 1-68 1 31 1 16 1 51 1 36 1 68 1-71 1-93 1 35 1 35 1 15 1-153 1 32 1 0 1 0 1 63 1 17 1-24 1 9 1 0 1-78 1-1 1-17 1 40 1 94 1 27 1-143 1 145 1-76 1-90 1 117 1 51 1-88 1-11 1 82 1-213 1 126 1-52 1 95 1 42 1-13 1 30 1-94 1-33 1 15 1 21 1 70 1-76 1 9 1-30 1 55 1-23 1 34 1 6 1-35 1 20 1-35 1 38 1-33 1 72 1-120 1-70 1 88 1 10 1 91 1-8 1-122 1 67 1 98 1-29 1-56 1 32 1-7 1-24 1 0 1 47 1-66 1-35 1 26 1-8 1-2 1-67 1 78 1-33 1 108 1-59 1 61 1 15 1 13 1-51 1-47 1 20 1-44 1-27 1 44 1-75 1 100 1-91 1 68 1-85 1 136 1-30 1 115 1 10 1-143 1 23 1-62 1 89 1-83 1-9 1 53 1-8 1 59 1-42 1 6 1 73 1-70 1-72 1 23 1 87 1 9 1 10 1-114 1 95 1 31 1-61 1-70 1 118 1-1 1 38 1-5 1-68 1 15 1 25 1-22 1 10 1-46 1-128 1 53 1 32 1-13 1 55 1-25 1 34 1-50 1-24 1 78 1-55 1 3 1-7 1 42 1 2 1-145 1 145 1 16 1-42 1 46 1-13 1-29 1 60 1-24 1-49 1-36 1 93 1 26 1 30 1-24 1 24 1-75 1 13 1 8 1-91 1 119 1-49 1-51 1-46 1 14 1 65 1-86 1 68 1-62 1 30 1-35 1 89 1 33 1 103 1-81 1-94 1 48 1-65 1-20 1 16 1 47 1 41 1-31 1-13 1 50 1-30 1 24 1 33 1-7 1-17 1 17 1-61 1 19 1 59 1-118 1 55 1 67 1-235 1 283 1-75 1-82 1 1 1 64 1-13 1 51 1-151 1 98 1 5 1-67 1 48 1 37 1 4 1-25 1-22 1 40 1-17 1-112 1 42 1 70 1-37 1 83 1-18 1-24 1-74 1-17 1 55 1 0 1-50 1-30 1 43 1 47 1-19 1 134 1 14 1-106 1 47 1-67 1 27 1-42 1 21 1-107 1 107 1 11 1 10 1-44 1 39 1-4 1-19 1 15 1-42 1 51 1-84 1 136 1-129 1 36 1 29 1 19 1 7 1 55 1-141 1-4 1 84 1-12 1 29 1-6 1 1 1-24 1-17 1-14 1-63 1 73 1 88 1-73 1-10 1-32 1 57 1 11 1-67 1 60 1-15 1-59 1 45 1 40 1-131 1 67 1 0 1 24 1 32 1-47 1 12 1 43 1-66 1 74 1 11 1-16 1-114 1 19 1-35 1 0 1 21 1 53 1 35 1 73 1 13 1-41 1-19 1-61 1 34 1 66 1-121 1 35 1 94 1-138 1 73 1-55 1 99 1-13 1-8 1 30 1 26 1-93 1-15 1 25 1 9 1 40 1 12 1-31 1-43 1 11 1 13 1-75 1 118 1-60 1 62 1-30 1 28 1-48 1-38 1-40 1 41 1-46 1-68 1 110 1 9 1 79 1-108 1-12 1 70 1-77 1 117 1-94 1-1 1 37 1 52 1-61 1-47 1 52 1-19 1-88 1 132 1-59 1 68 1-55 1-50 1 47 1-37 1 37 1 29 1-111 1 52 1 52 1 15 1-41 1-6 1-53 1 12 1 64 1 59 1-73 1 24 1 115 1-69 1 0 1 16 1 8 1-89 1 53 1-46 1 33 1 47 1-105 1-19 1 59 1-62 1-11 1 126 1-106 1-29 1 30 1-11 1 81 1 6 1 75 1-64 1-38 1 32 1-99 1 4 1 17 1 77 1-14 1-63 1 65 1 29 1-14 1-10 1-41 1-1 1 65 1-58 1-1 1-21 1 75 1-1 1-17 1-31 1-2 1 71 1-98 1 38 1 8 1-78 1 58 1 13 1-32 1-8 1 85 1-20 1-88 1 91 1-106 1 37 1-75 1 30 1 71 1 5 1 11 1 28 1-51 1-60 1 47 1-9 1-45 1 60 1 39 1-37 1 135 1-69 1 6 1 16 1-118 1 4 1-34 1-31 1 34 1-26 1 109 1-69 1 46 1 61 1 82 1-130 1 70 1-88 1 53 1-32 1-71 1 28 1 71 1-9 1-4 1 43 1-17 1 28 1-24 1-54 1-63 1 80 1 0 1-54 1-56 1 14 1 96 1-131 1 131 1 27 1-139 1 70 1 4 1 60 1 4 1-25 1 26 1 29 1-101 1-10 1 42 1 50 1 57 1 33 1 13 1-67 1 11 1-159 1 13 1 21 1 25 1-38 1 76 1 22 1 14 1 29 1-18 1-103 1 15 1-45 1 80 1-77 1-121 1 134 1 63 1-16 1 33 1 10 1 11 1-23 1 18 1-128 1 36 1 35 1-21 1-40 1 78 1 1 1 0 1-59 1 27 1 49 1-42 1-6 1-2 1 9 1 71 1-19 1-1 1 8 1-20 1 26 1-10 1-9 1-63 1-18 1 21 1-27 1-26 1 4 1 16 1 32 1 71 1-22 1-91 1-2 1 32 1 55 1 6 1 26 1-47 1 1 1 9 1-24 1 43 1-85 1 11 1-37 1 39 1 10 1 39 1 116 1-65 1-38 1 4 1-44 1-40 1 66 1-15 1-115 1 61 1 25 1-48 1 147 1-12 1-19 1 0 1-79 1-2 1-8 1-25 1 39 1 31 1-48 1 80 1-11 1 70 1-10 1-56 1-65 1 86 1-40 1 45 1-15 1 5 1-90 1 79 1 2 1 32 1-56 1-9 1 86 1-34 1 38 1-95 1-20 1 137 1-74 1 52 1-12 1-84 1 73 1-8 1-49 1-82 1 75 1-41 1-46 1 69 1 51 1-86 1-40 1 1 1 36 1 22 1 95 1-13 1 22 1 47 1-62 1 12 1-7 1-99 1-19 1 35 1 15 1 25 1-11 1-25 1 52 1-28 1 30 1 5 1-39 1 29 1-98 1-95 1 93 1 4 1 67 1 9 1 8 1-60 1-34 1 98 1 58 1-43 1-75 1-7 1 42 1-27 1 17 1 59 1 77 1-23 1-88 1-42 1 22 1 52 1-143 1 45 1-1 1 35 1-66 1 68 1-20 1 115 1-140 1 43 1 39 1-60 1 16 1 33 1-84 1 225 1-135 1 5 1-46 1 14 1 10 1-41 1 30 1-3 1-45 1-5 1 13 1 2 1-61 1 6 1 90 1-40 1 39 1 58 1 31 1 60 1-47 1 30 1-105 1 8 1 18 1 4 1 6 1-19 1 19 1-24 1-6 1-69 1-57 1 78 1 30 1-78 1 21 1 78 1 22 1 21 1-17 1-35 1-73 1 110 1 16 1-44 1 62 1-1 1-48 1 27 1-68 1 29 1 17 1 62 1-45 1-62 1-7 1 71 1-30 1 28 1-27 1-31 1 29 1-40 1 23 1-1 1-17 1 18 1-41 1 63 1-65 1 66 1 23 1-15 1-81 1-19 1 88 1 52 1 21 1-51 1 16 1-87 1-23 1 38 1-8 1 31 1-126 1 196 1-7 1-14 1-88 1 10 1 37 1 14 1-54 1 97 1-206 1 157 1 5 1-39 1 71 1-11 1 20 1 10 1-148 1 31 1-73 1 46 1 29 1 30 1-9 1-43 1-9 1 37 1 53 1 65 1-87 1-14 1-6 1-30 1 86 1-63 1 13 1 7 1-99 1 75 1-2 1 70 1-49 1 33 1-14 1-33 1 18 1 15 1 97 1 32 1-125 1 43 1-120 1 56 1 50 1-35 1-42 1 32 1-52 1-40 1 97 1 55 1 1 1-7 1 31 1-28 1 22 1-2 1-121 1 10 1-36 1 105 1 63 1-40 1-12 1 31 1-44 1 13 1-13 1-5 1-57 1-78 1-28 1 82 1 106 1-8 1 23 1 29 1 12 1-97 1-88 1-55 1 125 1 62 1-62 1 38 1-59 1-2 1 1 1 49 1 12 1-66 1 67 1-1 1 23 1 28 1-111 1 57 1-12 1-33 1-87 1-57 1 95 1 1 1 46 1-39 1-41 1-5 1 54 1-2 1-44 1 71 1 16 1 68 1-57 1 4 1 43 1-108 1 135 1 9 1 21 1-71 1 36 1 15 1-34 1-63 1-40 1 29 1-9 1 37 1-33 1-23 1-37 1 95 1-16 1 63 1-4 1-148 1-69 1 98 1 51 1 50 1-14 1 11 1 69 1-85 1 46 1-51 1-29 1 16 1 36 1 31 1-1 1 37 1-84 1-8 1 84 1-39 1-42 1-8 1 39 1 6 1-111 1-1 1-2 1 112 1-58 1-24 1-6 1-12 1 106 1 16 1-22 1-51 1-48 1-54 1 38 1-63 1 80 1 6 1 5 1 95 1 6 1-46 1 41 1-9 1-29 1-3 1-36 1-33 1 32 1 15 1-86"/>
<path vector-effect="non-scaling-stroke" stroke="#DF536B" stroke-dasharray="8 8" d="M0 1359l1 79 1-41 1 15 1 76 1-70 1-28 1 78 1-30 1-3 1 9 1 58 1-93 1 164 1-14 1-38 1-110 1 85 1 5 1-13 1 24 1-17 1-22 1-57 1 19 1 8 1-18 1 78 1-70 1 40 1 3 1-10 1-7 1 34 1 19 1-71 1-20 1 149 1-36 1-25 1-97 1 208 1-240 1 45 1-41 1 89 1 54 1-57 1 44 1-23 1-17 1-64 1 44 1 40 1 17 1 7 1-9 1-21 1-68 1 59 1-68 1-24 1 78 1 67 1-36 1-10 1-51 1-19 1 28 1 51 1-28 1 30 1-3 1-27 1 17 1 91 1 49 1-24 1-114 1-30 1 60 1-4 1-106 1 85 1-76 1 3 1-5 1 82 1 35 1-136 1 32 1-56 1 48 1-24 1 43 1-9 1 6 1 67 1-21 1-35 1 39 1-19 1-32 1 56 1-62 1 99 1-82 1-68 1 31 1-5 1 3 1 32 1 14 1 26 1-72 1-42 1 129 1 19 1-48 1 21 1 79 1-135 1 111 1-19 1-2 1-5 1-71 1 109 1 59 1-16 1-153 1 1 1 46 1-32 1-13 1 36 1 22 1 40 1-104 1 6 1-9 1-30 1 62 1 75 1 4 1-17 1-52 1-85 1-62 1 44 1 24 1 108 1-36 1-2 1 49 1-28 1 32 1-15 1-7 1 9 1-123 1 24 1-29 1 61 1 39 1 64 1-138 1-90 1 72 1 36 1-75 1 93 1 50 1-4 1 5 1-29 1 172 1-185 1-111 1 71 1 27 1 23 1-8 1-30 1 16 1 14 1-10 1 14 1 13 1 41 1 23 1-106 1 90 1 48 1-23 1 1 1-8 1 1 1 2 1-90 1 1 1 4 1-31 1 45 1-4 1 56 1 11 1-69 1 34 1-12 1 1 1-20 1-48 1 32 1 26 1-7 1 57 1 39 1-83 1-32 1 105 1-5 1-82 1-35 1 14 1 39 1-67 1-3 1-6 1 2 1-5 1 58 1 51 1-3 1 38 1-51 1-29 1 54 1-57 1-11 1 16 1-75 1 1 1 106 1-50 1-63 1 72 1 23 1-16 1-8 1-11 1 75 1-34 1-37 1-38 1 17 1-11 1 40 1 25 1-19 1-11 1 62 1-54 1-9 1 96 1 54 1-79 1-4 1-89 1 17 1-23 1-71 1 71 1 47 1-120 1 80 1 35 1 53 1-27 1-21 1 33 1 19 1 27 1-124 1-3 1-33 1 24 1-4 1 2 1 55 1-24 1-3 1 39 1-50 1-2 1 19 1-32 1 70 1-60 1 3 1 57 1-71 1-26 1 105 1-47 1-9 1-19 1 18 1-84 1 67 1 75 1 5 1-39 1 61 1-24 1-49 1 11 1 104 1-33 1-33 1 7 1-67 1-55 1 100 1 51 1-10 1-69 1-12 1-17 1 31 1 61 1-8 1-47 1-40 1 29 1 19 1 6 1-58 1 28 1 17 1 54 1-126 1 13 1 46 1 59 1-19 1-65 1 74 1-68 1-12 1 1 1 21 1-5 1 55 1-98 1 43 1 85 1 65 1-39 1-45 1 4 1-45 1 31 1 30 1-14 1-42 1-68 1 33 1 2 1 57 1-50 1 68 1-55 1 50 1 24 1 46 1-58 1-53 1 64 1-37 1-25 1 8 1-32 1-7 1 48 1 42 1 28 1-28 1-183 1-23 1 117 1-1 1 26 1 7 1-15 1 50 1-48 1 13 1 46 1-68 1 112 1 21 1-42 1-105 1 15 1 9 1 47 1-112 1 41 1 107 1-12 1-25 1-23 1 33 1-36 1-18 1-3 1 12 1 58 1-134 1 76 1-107 1 34 1 4 1 5 1 9 1 11 1 129 1-35 1 11 1-62 1 21 1 1 1 27 1-42 1 3 1 28 1-22 1-84 1 81 1-15 1 77 1-93 1-47 1 67 1 1 1 45 1-18 1-57 1-81 1 98 1 20 1 52 1-42 1-59 1-54 1 42 1-31 1 45 1 30 1-53 1 83 1 77 1-17 1 7 1-50 1-9 1-39 1 69 1-65 1 7 1-54 1-10 1 74 1 48 1 57 1 10 1-190 1 34 1 30 1 9 1-99 1 119 1 73 1-65 1 3 1 58 1-40 1 12 1-51 1 35 1 14 1-4 1-11 1-32 1-52 1 30 1 45 1-78 1 25 1 76 1-47 1-82 1 29 1-42 1 15 1 7 1 53 1 29 1-36 1 32 1-17 1 53 1-50 1-102 1 26 1 143 1-66 1-53 1 104 1-35 1 6 1 41 1-81 1-82 1-21 1 15 1 17 1 107 1 9 1 7 1 36 1-95 1 73 1-49 1-48 1 73 1-2 1 5 1-33 1 55 1-26 1-48 1 42 1 1 1-12 1 33 1-29 1 1 1-99 1 67 1 76 1-27 1-20 1-3 1-71 1 29 1 39 1-57 1 24 1-38 1 52 1-162 1 127 1-56 1 41 1 78 1 25 1-33 1-27 1 72 1-39 1-54 1-44 1 143 1-45 1 45 1 39 1-77 1 7 1-31 1-56 1-29 1 4 1 98 1-64 1 58 1 46 1-86 1 136 1-176 1 49 1-4 1 7 1 91 1-25 1 50 1 13 1-29 1-24 1-56 1 47 1-70 1-80 1 171 1-82 1-18 1 60 1 62 1-107 1 4 1 11 1 23 1 0 1-111 1 1 1 66 1-23 1 23 1 29 1-8 1-3 1 7 1 44 1-36 1 20 1 44 1-43 1 25 1-79 1-48 1 71 1 9 1-50 1 5 1 87 1-20 1-55 1 5 1 90 1-48 1-56 1 91 1-25 1-34 1 42 1-99 1 115 1-38 1-73 1 159 1 13 1-103 1 57 1 28 1-80 1-29 1-9 1-109 1 38 1 26 1-45 1-24 1 37 1 29 1 33 1-83 1 59 1 19 1 82 1-43 1 42 1-45 1 33 1 23 1-15 1-63 1 59 1-79 1-3 1-12 1 75 1 12 1 61 1-60 1-141 1 56 1-26 1-29 1 159 1 77 1-98 1 45 1-20 1-100 1 2 1-15 1 34 1-29 1-88 1 99 1 25 1-58 1 33 1-77 1-6 1 25 1 89 1 37 1 30 1-114 1-54 1 70 1-74 1 119 1-50 1 56 1-27 1-75 1 132 1-23 1 29 1-30 1-138 1 43 1 71 1 16 1 49 1-47 1 48 1-60 1 5 1-30 1-22 1-30 1 101 1-3 1-9 1 17 1 13 1-13 1 90 1-25 1-39 1-49 1 15 1-42 1 41 1-124 1 51 1 66 1-49 1 87 1-12 1-38 1 34 1 5 1-6 1-33 1-41 1-4 1 138 1 6 1-26 1-97 1 20 1 17 1-32 1-71 1 86 1-11 1 8 1 76 1-45 1 12 1-75 1 0 1 46 1-80 1-30 1 68 1 6 1 45 1 23 1-27 1 86 1-1 1-1 1-83 1-5 1-24 1-46 1 32 1-26 1-4 1 30 1 89 1-27 1-16 1-11 1 51 1 21 1 15 1-31 1-2 1-30 1-27 1 40 1-16 1 43 1-83 1-58 1 1 1 101 1 41 1-56 1 61 1-75 1-35 1-42 1 12 1-5 1-16 1 57 1-31 1-33 1 65 1 66 1-64 1 83 1-23 1-3 1-13 1 30 1-82 1-4 1-10 1 20 1-1 1 52 1-11 1-28 1 48 1-92 1-34 1 38 1 121 1-59 1-85 1 123 1 24 1-58 1 14 1 1 1-17 1 49 1-102 1-33 1-134 1 85 1 141 1-25 1 23 1 46 1-64 1-3 1-1 1 5 1-52 1 24 1 19 1 0 1 68 1-41 1-46 1 29 1 18 1 15 1-73 1 73 1 39 1-2 1-2 1-121 1-39 1 75 1-130 1 77 1 32 1 80 1-101 1-3 1-56 1 69 1-25 1 156 1-85 1 62 1-42 1-54 1-59 1 94 1-2 1-31 1-20 1 122 1 35 1-77 1-120 1 18 1 14 1 19 1 97 1-107 1-98 1 60 1 7 1 4 1 70 1-12 1 75 1-69 1 104 1-27 1-51 1 13 1-63 1 18 1-23 1 9 1 102 1-141 1 127 1 56 1-193 1 53 1 20 1 63 1 74 1-92 1-62 1-40 1 29 1 127 1-53 1 38 1-33 1-12 1-65 1-91 1 61 1-30 1 98 1 64 1-56 1 9 1-55 1 50 1-139 1 97 1 21 1-11 1 43 1-13 1 71 1-93 1 83 1-79 1-1 1-82 1 38 1 79 1-79 1 38 1-55 1 19 1 27 1 47 1 5 1 2 1 41 1-45 1 49 1-37 1-49 1-42 1 39 1 58 1-32 1 29 1-73 1 15 1 71 1-5 1 47 1 2 1-36 1-15 1-17 1 15 1 45 1-71 1-3 1 13 1 40 1-12 1 25 1-61 1 14 1-6 1-8 1-38 1 14 1-56 1 116 1-86 1 64 1-89 1 88 1-24 1 5 1-4 1 0 1-40 1-24 1 58 1 14 1-21 1-8 1 70 1-55 1-27 1 21 1-21 1-41 1 122 1-88 1 26 1-16 1 24 1 54 1-61 1 44 1 9 1-129 1 88 1 42 1-181 1 181 1-74 1 72 1-86 1-13 1 9 1 25 1 30 1-41 1-72 1 68 1-4 1 43 1-65 1 58 1 53 1 12 1-53 1 24 1-18 1 30 1-6 1-19 1-23 1 12 1 30 1 53 1-77 1 61 1-25 1-69 1 93 1-54 1 3 1-63 1 2 1 6 1-2 1-30 1-13 1 85 1-73 1-17 1 57 1 51 1-72 1 39 1 6 1 20 1-35 1 38 1-18 1 26 1-30 1 11 1-34 1-57 1 72 1-33 1 20 1-8 1-4 1 104 1-82 1 34 1-16 1 18 1-102 1 40 1 39 1 27 1-30 1-61 1 137 1 38 1-11 1-51 1-57 1-39 1 33 1 20 1 63 1 0 1-28 1-38 1-12 1-55 1 55 1-42 1 49 1-67 1 119 1-120 1 26 1 27 1-39 1 115 1-68 1-17 1 11 1-17 1-34 1-16 1 34 1 54 1-61 1-1 1 73 1-8 1-34 1-83 1 71 1 73 1 10 1-22 1 15 1-68 1 16 1 1 1 61 1-60 1 6 1 30 1-20 1-17 1 71 1-82 1-7 1 25 1 11 1 24 1-45 1-57 1 95 1-25 1 51 1 15 1-47 1 2 1 73 1-58 1 90 1-93 1 47 1-34 1-19 1-46 1 45 1 6 1-13 1-4 1 26 1-27 1 37 1-57 1-54 1-58 1 91 1 55 1 37 1-96 1 155 1-31 1-105 1-19 1-8 1 81 1 18 1-22 1-2 1 23 1-116 1 98 1 81 1-77 1-13 1 55 1-14 1-106 1 107 1-32 1-53 1 14 1 35 1-24 1 56 1-54 1-49 1 77 1-48 1-26 1 88 1-17 1-50 1 61 1-34 1-1 1 58 1-95 1-17 1 60 1-94 1 78 1 13 1 77 1-102 1 23 1-99 1 63 1 52 1-26 1 60 1 10 1-26 1-136 1 85 1-92 1-47 1 29 1 93 1-14 1 64 1-11 1 35 1-55 1 67 1-83 1 19 1 76 1-56 1 51 1-14 1 35 1-86 1-10 1 28 1-75 1-2 1 5 1-9 1 23 1-45 1 63 1-10 1-8 1-24 1 85 1-102 1 45 1-1 1 18 1 11 1 43 1-7 1 17 1-19 1-47 1 83 1-23 1-16 1 12 1-72 1 21 1-15 1-56 1 36 1-35 1 136 1-25 1-25 1-31 1-20 1 13 1 30 1 19 1-177 1-44 1 63 1 110 1 73 1-39 1-44 1 59 1-145 1 90 1-7 1-37 1 63 1 52 1-51 1 22 1-2 1 22 1 3 1-25 1 37 1-118 1 50 1 17 1-16 1-10 1 78 1-10 1-45 1 41 1 28 1 24 1-40 1-108 1 56 1 56 1-42 1-11 1-75 1 66 1 20 1 17 1 74 1-24 1 61 1-148 1 78 1-10 1 25 1-89 1 46 1-25 1-99 1 63 1-69 1 136 1-43 1 23 1-20 1-53 1-87 1-14 1 79 1 76 1-10 1-111 1 93 1 15 1 7 1-51 1 35 1 6 1 34 1-18 1 67 1 61 1-98 1-30 1-9 1 9 1 24 1 74 1-96 1 43 1-46 1 55 1-32 1 43 1 9 1-98 1 25 1-10 1-15 1-36 1 18 1 39 1 20 1 10 1-36 1 83 1-38 1-90 1 63 1-3 1 18 1 67 1-119 1-18 1 44 1-41 1 107 1-53 1-73 1-5 1 61 1 3 1-19 1 18 1 38 1-59 1 146 1-45 1-107 1 49 1-34 1-39 1-28 1 57 1 32 1-22 1-17 1-47 1-59 1 149 1-99 1 15 1 65 1-46 1 90 1-21 1-45 1 7 1 35 1-30 1 40 1 0 1 15 1 7 1-91 1 26 1 21 1 47 1 69 1 8 1-60 1-72 1 43 1-28 1 23 1-72 1 76 1-118 1 60 1 89 1-55 1 0 1-28 1-9 1 9 1 35 1 46 1 8 1-88 1 23 1-20 1-87 1 8 1-35 1 86 1 53 1 40 1-127 1-4 1 3 1 6 1 74 1 28 1-57 1-16 1 77 1 40 1-50 1-38 1-32 1 47 1 16 1 51 1-75 1-14 1 26 1 82 1-38 1 10 1-57 1-31 1 69 1-14 1 5 1-99 1 111 1-111 1-57 1 41 1 47 1-14 1-10 1 19 1 13 1-19 1 18 1 28 1 41 1-66 1 6 1 4 1-66 1 14 1 84 1-11 1-45 1 9 1 30 1-18 1-12 1-24 1 41 1-81 1 68 1-66 1-46 1 138 1 38 1-2 1-17 1-23 1 52 1 61 1-173 1 50 1-43 1 49 1 32 1-132 1 61 1-21 1 105 1-55 1-9 1-13 1 18 1-112 1 138 1 23 1-32 1-31 1-1 1 70 1 12 1-24 1-76 1 31 1 4 1 11 1-64 1 77 1 14 1 2 1-22 1-10 1-19 1 0 1 85 1-29 1-42 1 3 1 90 1 15 1-69 1 2 1 52 1-80 1-2 1 15 1 25 1 0 1-22 1-58 1 17 1 21 1 14 1 20 1-37 1 54 1-86 1 13 1 67 1-182 1 177 1 2 1-144 1 84 1 9 1-24 1 82 1 17 1-135 1-9 1 46 1-33 1-12 1 9 1 18 1 102 1 1 1-14 1-46 1-34 1 26 1-8 1 60 1 33 1-56 1 71 1-62 1 78 1-69 1 59 1-139 1-14 1 39 1-57 1 9 1 37 1-3 1 24 1 32 1 1 1 4 1-17 1 96 1-49 1-79 1 77 1-17 1-81 1 31 1 8 1-48 1 55 1-72 1 127 1-157 1 21 1 66 1 33 1 21 1-77 1-44 1 147 1-73 1 66 1 28 1-8 1-91 1 9 1 71 1-92 1 70 1 13 1-52 1-56 1 151 1-113 1-39 1-20 1 24 1 21 1 105 1-37 1 3 1-45 1 54 1-3 1-102 1 56 1-46 1 56 1-28 1 52 1 26 1-48 1 42 1-2 1-88 1 7 1 45 1 72 1-29 1-22 1-14 1 13 1 11 1-25 1-53 1 60 1-101 1 48 1 18 1 25 1-46 1 21 1 9 1 65 1-23 1-29 1-29 1-55 1 64 1-22 1-28 1-1 1 35 1-119 1 67 1 54 1 10 1 10 1 13 1 36 1-98 1 53 1-30 1 83 1-26 1 19 1 36 1-83 1 7 1-105 1-6 1 67 1 17 1-66 1 91 1-51 1-3 1-39 1 51 1 44 1 37 1 11 1-49 1-3 1 35 1 15 1-42 1 10 1 22 1-52 1-109 1-10 1 58 1-34 1 196 1 35 1-132 1 18 1 26 1 14 1-31 1 7 1 2 1-33 1 53 1-35 1-4 1 37 1 4 1-101 1 73 1 52 1-85 1 34 1 51 1 30 1-86 1-10 1 19 1-82 1 2 1-19 1-39 1 45 1-18 1 119 1-2 1-65 1-14 1 29 1 40 1-34 1-36 1 53 1-110 1 67 1-50 1 84 1-28 1 0 1 42 1-47 1 4 1 76 1 15 1 16 1-113 1-12 1 47 1 37 1 11 1-23 1-8 1 14 1 10 1 3 1-203 1 151 1-20 1-15 1 32 1 22 1-18 1-18 1 17 1-20 1-22 1-35 1 4 1-17 1-5 1 21 1 36 1-32 1 14 1 83 1 53 1-152 1 29 1-8 1 128 1-114 1 98 1 32 1-101 1 86 1-11 1-6 1 1 1-70 1 7 1 27 1-46 1-26 1-11 1 141 1-87 1 43 1-54 1 18 1-48 1 41 1 8 1-37 1-45 1 25 1 20 1 2 1 98 1 32 1-103 1 1 1 20 1-6 1 76 1-61 1 27 1-83 1-65 1 108 1-29 1-74 1 47 1 16 1 48 1-102 1 44 1 30 1 68 1 3 1-26 1-10 1 43 1-36 1-112 1 145 1-97 1 18 1 57 1 47 1-26 1-106 1 74 1 64 1-33 1-70 1 85 1-53 1-7 1 12 1-56 1 26 1-36 1-15 1 13 1-23 1 41 1 41 1-28 1 49 1-18 1 67 1-25 1-131 1 55 1-67 1-40 1 103 1 20 1-72 1 29 1-66 1 28 1 45 1 32 1 73 1-6 1 17 1-19 1-43 1-54 1 19 1-15 1-56 1 32 1 41 1 12 1-11 1-80 1 27 1 40 1-96 1 184 1-105 1 3 1 19 1-41 1 24 1 93 1-78 1 22 1-43 1-40 1 82 1-7 1-13 1-106 1 35 1 79 1-64 1 31 1 68 1-86 1 115 1 42 1-59 1-6 1 11 1-8 1-9 1-6 1-4 1-17 1-35 1 112 1-53 1-9 1-73 1 0 1-17 1 37 1-7 1 12 1-11 1-36 1 47 1 64 1-76 1 38 1-67 1 70 1 20 1-81 1 121 1 29 1-75 1-14 1 83 1-7 1-43 1 21 1-45 1-9 1 10 1-7 1-10 1-42 1 28 1 30 1-3 1 49 1 60 1-71 1 18 1-15 1 3 1 18 1-7 1-99 1 112 1-1 1-65 1 9 1-78 1 104 1 28 1-82 1 44 1-29 1-41 1 49 1 42 1 59 1-151 1 92 1-81 1 36 1-33 1 23 1 4 1-29 1-31 1 66 1-97 1-72 1 85 1 55 1 36 1-20 1-74 1 14 1 29 1-24 1 81 1-33 1-1 1 30 1-26 1 81 1-20 1 7 1 18 1-4 1-139 1-5 1 47 1 29 1 52 1-104 1-26 1 50 1-40 1 73 1-42 1 15 1 3 1 72 1-64 1 8 1 7 1-64 1 60 1-13 1 20 1-54 1 82 1-55 1-30 1-32 1 112 1-125 1 67 1-5 1 23 1 27 1 59 1-39 1-70 1 28 1 52 1-11 1-46 1 20 1-6 1-50 1 30 1-18 1-50 1 128 1-89 1-4 1 29 1-13 1 47 1-51 1 47 1 14 1-37 1-26 1 29 1 29 1-34 1 42 1-10 1 2 1 3 1-61 1-16 1-14 1 54 1-27 1 24 1-22 1 41 1 8 1 13 1-21 1-29 1-23 1-5 1-13 1 4 1 3 1 121 1 0 1-20 1-89 1 107 1-32 1-65 1-12 1-67 1 59 1 33 1 54 1-36 1 46 1-31 1-55 1 38 1 30 1-98 1 135 1 85 1-87 1-51 1 20 1-16 1 15 1 15 1 2 1-3 1 4 1-26 1-84 1 66 1-46 1 77 1-37 1 28 1 41 1-30 1-5 1-131 1 19 1 75 1-41 1 73 1-25 1-27 1-8 1 84 1 54 1-69 1-114 1-4 1 16 1 14 1 41 1-42 1 104 1-28 1 62 1 17 1-57 1-73 1 36 1-19 1-32 1-59 1 165 1-104 1 45 1 6 1 3 1 24 1-32 1 29 1-29 1-72 1 20 1 45 1 35 1 4 1-48 1 5 1 9 1 25 1-2 1 15 1 84 1-148 1 117 1-113 1 55 1 49 1-14 1-9 1-48 1 12 1-36 1-31 1-78 1 149 1 8 1-72 1 111 1-11 1-81 1 40 1-34 1 43 1 81 1-20 1-36 1-59 1 2 1-97 1 23 1-7 1-51 1-2 1 117 1-39 1 141 1-99 1 63 1-12 1 16 1 11 1 17 1-35 1-6 1-4 1-61 1-14 1-21 1 56 1 28 1-57 1 29 1-55 1 170 1-91 1-24 1-5 1-77 1 158 1-47 1 46 1 53 1-62 1-7 1 57 1-65 1 9 1-52 1 74 1-2 1-32 1-30 1-14 1 55 1-26 1-27 1 9 1 30 1-16 1-18 1-5 1-55 1 28 1 21 1 69 1-69 1-46 1 2 1 61 1 65 1-92 1 82 1-75 1-21 1 45 1 35 1-5 1-124 1-40 1-27 1 45 1 114 1-5 1 34 1 9 1 12 1-33 1-133 1 112 1 10 1 57 1-49 1-30 1 38 1-31 1 7 1-9 1-26 1 70 1 26 1-59 1-12 1 19 1-121 1 7 1 137 1-37 1 32 1 62 1-72 1-20 1-67 1 94 1 6 1-28 1 48 1-7 1-56 1 57 1-102 1 184 1-78 1-28 1-110 1-9 1 127 1-70 1 50 1-29 1 65 1-71 1-126 1 141 1-47 1 44 1-38 1 57 1 51 1-59 1-16 1 6 1 50 1-69 1-15 1-19 1-12 1-22 1 40 1 25 1 79 1-37 1 11 1 28 1 24 1-44 1-54 1-87 1 19 1-42 1 108 1-3 1 88 1-11 1-65 1-63 1-33 1 90 1-96 1 66 1 116 1-54 1-88 1 63 1 70 1-48 1-18 1-48 1 89 1-15 1-61 1 50 1 50 1 9 1-92 1-4 1 4 1-84 1 177 1-154 1-8 1 21 1 82 1-28 1 76 1-34 1 6 1 84 1 31 1-15 1-174 1 43 1-41 1 79 1-107 1 5 1-45 1 61 1 94 1 22 1 21 1-22 1-46 1 70 1-110 1 25 1-25 1 70 1 6 1-24 1 38 1-15 1-13 1-20 1 15 1 84 1 0 1-80 1 28 1 6 1-170 1-77 1 86 1 70 1 53 1-118 1 13 1-32 1 68 1-90 1 77 1 54 1 35 1-8 1 25 1-51 1 7 1 38 1-62 1-10 1 20 1 35 1-20 1-51 1-70 1 53 1 83 1-78 1 5 1 57 1-73 1 140 1 41 1-38 1-65 1-7 1 39 1-67 1 85 1-52 1 3 1-63 1 86 1-26 1-52 1-34 1 8 1 65 1 7 1-49 1 32 1 24 1-14 1 35 1 26 1-60 1-73 1-40 1 50 1-3 1 49 1-74 1 31 1-14 1 41 1 57 1-46 1 53 1 17 1-22 1 53 1-26 1-13 1 57 1 7 1-166 1 79 1 27 1-45 1-26 1 98 1-109 1-39 1 9 1-23 1 7 1 127 1 14 1-10 1-58 1 91 1-84 1-107 1-57 1 103 1 40 1 13 1 37 1-43 1 66 1-7 1 64 1 21 1-86 1-7 1 27 1-66 1 57 1-141 1 87 1 11 1 64 1-81 1 60 1-69 1-11 1 19 1-17 1-36 1 29 1-51 1 92 1-71 1 104 1 7 1-34 1-6 1-77 1 28 1 20 1 19 1-19 1-7 1 109 1-146 1 38 1-27 1 53 1-62 1 128 1-32 1-4 1 20 1-8 1-28 1-35 1 45 1 44 1-14 1-85 1 85 1-99 1 20 1 85 1-50 1-12 1-70 1 23 1-9 1 52 1-44 1 144 1-58 1 3 1 53 1-95 1 14 1-10 1-43 1-25 1-14 1 65 1 20 1 61 1-5 1-3 1-46 1-47 1 21 1 65 1-16 1-59 1-1 1 30 1-28 1 89 1 49 1-27 1-41 1-65 1-13 1 70 1 2 1-35 1-65 1-10 1 60 1 32 1-94 1 42 1 73 1-27 1-16 1 17 1 42 1-184 1-23 1 181 1-93 1 17 1-22 1 63 1-57 1 120 1-67 1 13 1 24 1-61 1 119 1 25 1-56 1-64 1-17 1 88 1-59 1 29 1 19 1-107 1 14 1 46 1-86 1 62 1 45 1-46 1-109 1 96 1 36 1-23 1-8 1-40 1 9 1 29 1-31 1 35 1 8 1 101 1-33 1-43 1 26 1 48 1-49 1-50 1 61 1 9 1 4 1-7 1-40 1 34 1-26 1-95 1 40 1 3 1 33 1 46 1 1 1-41 1 59 1-91 1-17 1-46 1 161 1-131 1-48 1 62 1 76 1-115 1 5 1 80 1-2 1-49 1 20 1 14 1 86 1-119 1-13 1-41 1-50 1 59 1 93 1 33 1 20 1 4 1-21 1 10 1 25 1-46 1-25 1 8 1-59 1 12 1-4 1 74 1 10 1 11 1-32 1 1 1-77 1-15 1 23 1 12 1 110 1-93 1 63 1-27 1 35 1-112 1 23 1-38 1 79 1-4 1-29 1 51 1 9 1-68 1 33 1-6 1 18 1 18 1-63 1 10 1 130 1-68 1-62 1 47 1 24 1-10 1 39 1-56 1 24 1 53 1-14 1-98 1 75 1-5 1-30 1-62 1-20 1 66 1 67 1-31 1-11 1-26 1 28 1 5 1 30 1-16 1-43 1 0 1-10 1 15 1 12 1 13 1 22 1-41 1 19 1-35 1 79 1-16 1-47 1-114 1 139 1-76 1 6 1-9 1 101 1-79 1-11 1-17 1-12 1 48 1 45 1-16 1 9 1 60 1-27 1-34 1-15 1-49 1-8 1 60 1 39 1-4 1-63 1 43 1 27 1-6 1-70 1 41 1-19 1-91 1 44 1-22 1-43 1 35 1 19 1 21 1 18 1 43 1-13 1-64 1-44 1 149 1-81 1-57 1 48 1-2 1 12 1-24 1 30 1 67 1-31 1-24 1 2 1-32 1-2 1-125 1 135 1 70 1-64 1 18 1 12 1 77 1-93 1 44 1 64 1-75 1 6 1 67 1-66 1-11 1 28 1 22 1-48 1-46 1-33 1 53 1 13 1 30 1-11 1-26 1 12 1-19 1-11 1-48 1 91 1-106 1 71 1-34 1-8 1 7 1 79 1 6 1-55 1-8 1 19 1-35 1 47 1 3 1-57 1 69 1-55 1-10 1-2 1 6 1 27 1 33 1-59 1 20 1 17 1 65 1-97 1 58 1 4 1 26 1 21 1-181 1 95 1-35 1 69 1 21 1-65 1 6 1 71 1-40 1 34 1-59 1-69 1 9 1-7 1-32 1 44 1 28 1 71 1 24 1 24 1-93 1 54 1-25 1-50 1-88 1 15 1 93 1-127 1 191 1-95 1 118 1-54 1-98 1 1 1 7 1-41 1-11 1 88 1 46 1-137 1 34 1-41 1 157 1-1 1 64 1-24 1-41 1 20 1-61 1-15 1 23 1-60 1 135 1-64 1-36 1-20 1 91 1-106 1 15 1-19 1 50 1-17 1-11 1 42 1-17 1 12 1 32 1 35 1-17 1 5 1-2 1-12 1-3 1-66 1 1 1-18 1 31 1 52 1 17 1-8 1-48 1-55 1 38 1-10 1 29 1 41 1 53 1-299 1 278 1-54 1 49 1-41 1-68 1 50 1 42 1-2 1-28 1-20 1-53 1 29 1 76 1-103 1 46 1 134 1-10 1-91 1 24 1-45 1 53 1 10 1-4 1-15 1 12 1-50 1 74 1-53 1-25 1-34 1 63 1-9 1-14 1 39 1 15 1-69 1 65 1 15 1-85 1-23 1-36 1 2 1 26 1-6 1 11 1 72 1-77 1 31 1 60 1 37 1-61 1-54 1 17 1 23 1 8 1 34 1 2 1-13 1 13 1-27 1 51 1-33 1-12 1-14 1-41 1 50 1 36 1 4 1-84 1 101 1-33 1-112 1 1 1-21 1-21 1 26 1 96 1-78 1-64 1 16 1 65 1 52 1 18 1 109 1-164 1 1 1 135 1-29 1-84 1-114 1 17 1 74 1-3 1-53 1-11 1 41 1-74 1 30 1 41 1 19 1 75 1-26 1-32 1 57 1-24 1 44 1-52 1-39 1-36 1-11 1-15 1 81 1 48 1-27 1-19 1 45 1 32 1-51 1 8 1-24 1-14 1 87 1-66 1 26 1-27 1-18 1 36 1 22 1-86 1-14 1 43 1 119 1-141 1-57 1 87 1-51 1 67 1-62 1-38 1 42 1 5 1 2 1 22 1-121 1 68 1-18 1 73 1-15 1-14 1 19 1 27 1 6 1-72 1-13 1 76 1 120 1-86 1 6 1 9 1-78 1 32 1-2 1-77 1 76 1-10 1 41 1-4 1-35 1-50 1 43 1-25 1-6 1 65 1-96 1 79 1-8 1 21 1-17 1 42 1-81 1 84 1 92 1-155 1 42 1 39 1-65 1-20 1 53 1-84 1 42 1-15 1 9 1-77 1 6 1 69 1 4 1 141 1-94 1 2 1-37 1-47 1 15 1 36 1 81 1-63 1 43 1-62 1 18 1-65 1 20 1-45 1 36 1 0 1-4 1 32 1 20 1 45 1-59 1-57 1 87 1 61 1-72 1 95 1-72 1-18 1 49 1-48 1-13 1 4 1-23 1-10 1 9 1 80 1-30 1-11 1 20 1-63 1 20 1 25 1-13 1-41 1-19 1 27 1 77 1-115 1 21 1 47 1 19 1 10 1-214 1 156 1-23 1 15 1 86 1-5 1-38 1 0 1-42 1-37 1 97 1-60 1 31 1-33 1 10 1 20 1 23 1-36 1 98 1-73 1-50 1 110 1-43 1 47 1-81 1 39 1-4 1-96 1 40 1 33 1 38 1 11 1-95 1-18 1-22 1 3 1 35 1-44 1 68 1-7 1 51 1 59 1 8 1 5 1-45 1-42 1-16 1 57 1-40 1 53 1-36 1-45 1-18 1 32 1 65 1-48 1-72 1-33 1 44 1 7 1 82 1-179 1 162 1-84 1-1 1 15 1 1 1 37 1-45 1-42 1 62 1-13 1-63 1 94 1 33 1 32 1-35 1-65 1 36 1 31 1-8 1 69 1-35 1-135 1 4 1 54 1-60 1 61 1-67 1 58 1-3 1-19 1 40 1-31 1 56 1-19 1-33 1 49 1-81 1 162 1-109 1 17 1-50 1 86 1 20 1-39 1-38 1 76 1 47 1-85 1-82 1 37 1-63 1 83 1 8 1-39 1 26 1-87 1-15 1 32 1 51 1 31 1 50 1-16 1 38 1-34 1-18 1 1 1 35 1-114 1 34 1 42 1 33 1-27 1 41 1-77 1-4 1 20 1-48 1 135 1-92 1-57 1-14 1-34 1 66 1 6 1 3 1 35 1-64 1 134 1 12 1-30 1-50 1 11 1-24 1-10 1-31 1 14 1-56 1 113 1-50 1 118 1-117 1 34 1 40 1-105 1 94 1-59 1-4 1 7 1-13 1-3 1 6 1 28 1-2 1 21 1-15 1 26 1-20 1-69 1 31 1-46 1 81 1-61 1 15 1 53 1-5 1-37 1 31 1-45 1 100 1 45 1 43 1-116 1 30 1-74 1 24 1-17 1 48 1-27 1-19 1-62 1-16 1 89 1 12 1 40 1-168 1 90 1 94 1-53 1 36 1-18 1-60 1 12 1-4 1 56 1 1 1-187 1 183 1-33 1 35 1-73 1 44 1-10 1 67 1-25 1-90 1-19 1 28 1-26 1 21 1 75 1-23 1 14 1 77 1-57 1-90 1-29 1 32 1-38 1 31 1 53 1-7 1 17 1-29 1 12 1-75 1 45 1-34 1 85 1-32 1-20 1-72 1 76 1-110 1 203 1 2 1-18 1-24 1 48 1-57 1-83 1 84 1 5 1 40 1 13 1-44 1-17 1-16 1-60 1 101 1 21 1-56 1-45 1-17 1 67 1-40 1 39 1-46 1 44 1-24 1-43 1 12 1 31 1 7 1-61 1 14 1 76 1-3 1 19 1-33 1 39 1-2 1-5 1 36 1-15 1-92 1-26 1 7 1-62 1 168 1-145 1 100 1-58 1 51 1-54 1-54 1 57 1-34 1-44 1 79 1 42 1 23 1-102 1 38 1-1 1 51 1 49 1-28 1-14 1-139 1 86 1-3 1 45 1 82 1 6 1 4 1-94 1 44 1-18 1-2 1 48 1-93 1 19 1-56 1 32 1 76 1 51 1-11 1-1 1-49 1-59 1-43 1 13 1 36 1 95 1 14 1 31 1-11 1-55 1-27 1 73 1-109 1-8 1 42 1-64 1 122 1-79 1 27 1-7 1-86 1 87 1-4 1-33 1 77 1 25 1-10 1-37 1 34 1-109 1-1 1 94 1-81 1 15 1 2 1-21 1 60 1 1 1-15 1-76 1 36 1 6 1 41 1 24 1-80 1-63 1 31 1 36 1 10 1 26 1-33 1-9 1-21 1 21 1 51 1-7 1-30 1 83 1-65 1-50 1 42 1-22 1-44 1 59 1-16 1-27 1 57 1 42 1-98 1 50 1-37 1 27 1-9 1 92 1-68 1 5 1 31 1-1 1-56 1-8 1-31 1-10 1 20 1 90 1 43 1-46 1 4 1 26 1 57 1-131 1 19 1 21 1-66 1-7 1 117 1-90 1 27 1 16 1-40 1-29 1 86 1 18 1-28 1-32 1-33 1 53 1-78 1 106 1 4 1-184 1-29 1 60 1 145 1-55 1-35 1-49 1 112 1-161 1 120 1-49 1 88 1 10 1-3 1-28 1-35 1 26 1 43 1 40 1-14 1-28 1 39 1-55 1-96 1 16 1 97 1 15 1 12 1-18 1 5 1-28 1-69 1 98 1-23 1 2 1-2 1 23 1 27 1 4 1-73 1-194 1 182 1-81 1 46 1 30 1 48 1-13 1 17 1-17 1-87 1 85 1-45 1-40 1 56 1-25 1 29 1-77 1 95 1 4 1-65 1 26 1 58 1-46 1 1 1 109 1-125 1 131 1-127 1 53 1 76 1-43 1-65 1-48 1 50 1 60 1-53 1 10 1 5 1-125 1 75 1 69 1-14 1-83 1 92 1-27 1 17 1 13 1-79 1 83 1-50 1-53 1 181 1 15 1-118 1-9 1 43 1-8 1-83 1 20 1 48 1-18 1 45 1 20 1-79 1 82 1-11 1 48 1-17 1-68 1 8 1 47 1-40 1 48 1-78 1-72 1 12 1 22 1 93 1-7 1 3 1 4 1-6 1-6 1-86 1 13 1-15 1 89 1-32 1 40 1-25 1 20 1-19 1-21 1-66 1 65 1-83 1-1 1 37 1-80 1 28 1 101 1-3 1-68 1 86 1-117 1 73 1 2 1 12 1-23 1-20 1 20 1 10 1 14 1-32 1-44 1 65 1-68 1 33 1 53 1-71 1 40 1-57 1 69 1 1 1-63 1 44 1-44 1 21 1 20 1-2 1-2 1-77 1 62 1 76 1-62 1 48 1-13 1-24 1 97 1 21 1-87 1-20 1-18 1 61 1-57 1 4 1 84 1-30 1-51 1-17 1-27 1 111 1-113 1 88 1-41 1 67 1-81 1-13 1 37 1-66 1 78 1-34 1 38 1-37 1-60 1 107 1-84 1 48 1-38 1 93 1-52 1 50 1 51 1-14 1-16 1-46 1-3 1 69 1-89 1-1 1 37 1 8 1-8 1-52 1 91 1-97 1-19 1 15 1 9 1 56 1-98 1 6 1 19 1 46 1-40 1-36 1 5 1 20 1 37 1 68 1-62 1 71 1 1 1-7 1-7 1 35 1-112 1 28 1 12 1-59 1-19 1-29 1 210 1-109 1 40 1 29 1-26 1-61 1-56 1 14 1-71 1 27 1 53 1 73 1-45 1-85 1-50 1 19 1 55 1 14 1 91 1-31 1-29 1-39 1 97 1 34 1 37 1-89 1-100 1 73 1 18 1-7 1 1 1 67 1 20 1-60 1 66 1-21 1-94 1-10 1-15 1 23 1 41 1 6 1 2 1-29 1-4 1 0 1 57 1 18 1-35 1-80 1 14 1-19 1 120 1-113 1 9 1-10 1 29 1 2 1-18 1-20 1 1 1 72 1 17 1-24 1-36 1-54 1 77 1-49 1 63 1-34 1-57 1 23 1 160 1-81 1 40 1 1 1-172 1 71 1-23 1 34 1-46 1 71 1-38 1 21 1 51 1 7 1-24 1-33 1 13 1-34 1 88 1-71 1 46 1 2 1-8 1-37 1-87 1-33 1 4 1 17 1 147 1-22 1 23 1 6 1-32 1-23 1 49 1-90 1-63 1 107 1-2 1 24 1-35 1 24 1 16 1-52 1 116 1-39 1 6 1-49 1-48 1-27 1 48 1 1 1 7 1-8 1-10 1 27 1 0 1-13 1 24 1 22 1-29 1-25 1 6 1-34 1 99 1-13 1-31 1 16 1-7 1 36 1-18 1 17 1 19 1-47 1-92 1 13 1 25 1 10 1 1 1-1 1-104 1 148 1-55 1-31 1 41 1 29 1-3 1 17 1 29 1-28 1 47 1 26 1 53 1-67 1-34 1-60 1 60 1 5 1-5 1-41 1 7 1 38 1 29 1-118 1 56 1-34 1-24 1-48 1 187 1-128 1 78 1 6 1-57 1-15 1 0 1 21 1 63 1-14 1 9 1-89 1 1 1 26 1 8 1 38 1 36 1-5 1-21 1 20 1-59 1-93 1 120 1 1 1-87 1-15 1 75 1 27 1-16 1 61 1-21 1-24 1-17 1-81 1 117 1-49 1-36 1 52 1 14 1-5 1-85 1 37 1 101 1-30 1-103 1 12 1 2 1 26 1 42 1-87 1-33 1-43 1 80 1 48 1 2 1 8 1-48 1 132 1-32 1 19 1 26 1-21 1-31 1 3 1-26 1 27 1 71 1-86 1 65 1-48 1 12 1-10 1 8 1-43 1-20 1 78 1-75 1 62 1-14 1 4 1-136 1 28 1-10 1 55 1-8 1-18 1-74 1 75 1 39 1 42 1-31 1 64 1-80 1 27 1 21 1-53 1 65 1 58 1-64 1-16 1 6 1-87 1-22 1 40 1 44 1 56 1-5 1-39 1-27 1 50 1-113 1 75 1-27 1-39 1 87 1-134 1 41 1 52 1 3 1 19 1-44 1 0 1 33 1-85 1 56 1-41 1 81 1-7 1 46 1-25 1 75 1 2 1-79 1-83 1 17 1-49 1 34 1 90 1-85 1 28 1 32 1 23 1 20 1-49 1-53 1-46 1 8 1-74 1 127 1 22 1 65 1-42 1 17 1 0 1 39 1-33 1 54 1-91 1 10 1 14 1 6 1-23 1-18 1 9 1-42 1 19 1 54 1 10 1 98 1-190 1-3 1-8 1 59 1 86 1 44 1-168 1-72 1 51 1 142 1 0 1-13 1-103 1 60 1-74 1 25 1 18 1 36 1-15 1 7 1-23 1 23 1 4 1-71 1 31 1-21 1 77 1-19 1-8 1 65 1 54 1-135 1 3 1 3 1-1 1-4 1-56 1-99 1 118 1-42 1 5 1 101 1-25 1-8 1-43 1 63 1 12 1 3 1-118 1 125 1-6 1-74 1 58 1 62 1 16 1-92 1 80 1-48 1-43 1 72 1-8 1-53 1 70 1 21 1-93 1 24 1-22 1 30 1-38 1 9 1-19 1 60 1-71 1 23 1 62 1-56 1 8 1-70 1 3 1 86 1-10 1-7 1-9 1-49 1 54 1-92 1 108 1-27 1 50 1-51 1 59 1-18 1-38 1-62 1 21 1 1 1 12 1 40 1-85 1 49 1-6 1-49 1 88 1-5 1-22 1-41 1 108 1-40 1 1 1-21 1-35 1-26 1 33 1 50 1-72 1 14 1-6 1 118 1-9 1-68 1 75 1-100 1 58 1-60 1 120 1-138 1 65 1-6 1 40 1 6 1-33 1 42 1-6 1-21 1-42 1-57 1 66 1 67 1 6 1 40 1-62 1-32 1 13 1-25 1 17 1-70 1-11 1 5 1-8 1 39 1 69 1-104 1 26 1 93 1 3 1-71 1 66 1-40 1-13 1-16 1 9 1-17 1 70 1-21 1 32 1-24 1-41 1 29 1 11 1-135 1 72 1-68 1 123 1-62 1 50 1 7 1-34 1 57 1-30 1 3 1-59 1 60 1-58 1 65 1 19 1-47 1 24 1-7 1-118 1 71 1 61 1-8 1-100 1 72 1-38 1 76 1-80 1 115 1 14 1 19 1-139 1 80 1-138 1 59 1 11 1 29 1 18 1 51 1-47 1-101 1-35 1 143 1-30 1-12 1 37 1 60 1-57 1 59 1-13 1-151 1 4 1-88 1 52 1 147 1 11 1 41 1-8 1-53 1-6 1-45 1 5 1 4 1-61 1 44 1 110 1-9 1-64 1-40 1 28 1 41 1-119 1 53 1-54 1 35 1 23 1 16 1 26 1 22 1-13 1 53 1-85 1-19 1 34 1 13 1 30 1-74 1 4 1 12 1 51 1-95 1-10 1 100 1-43 1-53 1 47 1-43 1 89 1-88 1-13 1 14 1 5 1 60 1-55 1 27 1 59 1 17 1 10 1-4 1-94 1-5 1-29 1 65 1-54 1-3 1 5 1 78 1-109 1-15 1 83 1-5 1 39 1-40 1-20 1 63 1 54 1-11 1-43 1-37 1 23 1-38 1 55 1-71 1 11 1 54 1 41 1 5 1 15 1-44 1 2 1-93 1 100 1-44 1-103 1 29 1-21 1 5 1 53 1-37 1 79 1-49 1 9 1 26 1 82 1-119 1 9 1 26 1 27 1-29 1-26 1-50 1-21 1 61 1 81 1-132 1-34 1 27 1 37 1 41 1 90 1-34 1-22 1 23 1-90 1 11 1 49 1 18 1-105 1 92 1-53 1-56 1-34 1 92 1 57 1-135 1 121 1-41 1-41 1-22 1 37 1 76 1-17 1-24 1-7 1 13 1 32 1-29 1 16 1 9 1 56 1-39 1 42 1-3 1-91 1 10 1-54 1 81 1-29 1-48 1 73 1 44 1-10 1-77 1 3 1 5 1-34 1 56 1-23 1 14 1 46 1-155 1 21 1 135 1-25 1-4 1 0 1 75 1 10 1 14 1-54 1-70 1 25 1-87 1 43 1 57 1-148 1 127 1-54 1 10 1 99 1 14 1-49 1-39 1 18 1-2 1-66 1-24 1 60 1-2 1 49 1-28 1-26 1 62 1-96 1 49 1 26 1 52 1 45 1-39 1 10 1-90 1 53 1-1 1 64 1-81 1-57 1 82 1-68 1 107 1 46 1-61 1-80 1 2 1-55 1 71 1-50 1-37 1 32 1 47 1-18 1 44 1 38 1-119 1-19 1 150 1-134 1 62 1 5 1-4 1 3 1 42 1 2 1-40 1-16 1 79 1-142 1 45 1-77 1 59 1 90 1-65 1-23 1 147 1-36 1-68 1 51 1-92 1-11 1 10 1 101 1-116 1 64 1-4 1 5 1 75 1-35 1 23 1-12 1-38 1 52 1-2 1 2 1-25 1-8 1-76 1 61 1 69 1-48 1-84 1 124 1-109 1 47 1 8 1 8 1-35 1-41 1 10 1-2 1-76 1 181 1-82 1 51 1 18 1-38 1-48 1 124 1-240 1 83 1 26 1-7 1 92 1-25 1 59 1 3 1-85 1 44 1-61 1-2 1 31 1-43 1 41 1 3 1-109 1 45 1-7 1 31 1-27 1 86 1-61 1 4 1 2 1-6 1 7 1 16 1 26 1-20 1 28 1-3 1 19 1-55 1-3 1-10 1 36 1 32 1-40 1-136 1 52 1 76 1 2 1 19 1-43 1 11 1-47 1 36 1-51 1 51 1 66 1 59 1-84 1 24 1-3 1 56 1-2 1-14 1-41 1-56 1 24 1-22 1 19 1 23 1-53 1-66 1 31 1 47 1-5 1-36 1 66 1-56 1 14 1 15 1-31 1 80 1 127 1-86 1-16 1-78 1 6 1-6 1 7"/>
<path vector-effect="non-scaling-stroke" stroke="#61D04F" stroke-dasharray="2 6" d="M0 1525l1 26 1-29 1-92 1-51 1 78 1-10 1 39 1-10 1 56 1-23 1-34 1 25 1-25 1-64 1 63 1-9 1 13 1-27 1 14 1 24 1-55 1 85 1-52 1 27 1-35 1 15 1-64 1 88 1-62 1 109 1-77 1 33 1-28 1 55 1 6 1-88 1 56 1-41 1-40 1-25 1 18 1 60 1-30 1 58 1 19 1-25 1 74 1-29 1-22 1-124 1 8 1 95 1-81 1-14 1 20 1 73 1-51 1 43 1-1 1 3 1-7 1-41 1 59 1-32 1-18 1 39 1-24 1-38 1 55 1-14 1 26 1-112 1 55 1 57 1-126 1 24 1-30 1 66 1 66 1 30 1-56 1 37 1-42 1-96 1 95 1-16 1-69 1 5 1 145 1-33 1 14 1-5 1-25 1 16 1-40 1-4 1 18 1-52 1 5 1 12 1-25 1 45 1-18 1 27 1 122 1-37 1-117 1 28 1-55 1 42 1 4 1-3 1-34 1 59 1 76 1-3 1-46 1-65 1 23 1 9 1-72 1-3 1 62 1 66 1 60 1-73 1-62 1 68 1-12 1-30 1-28 1 62 1-39 1 33 1-41 1 30 1-112 1 165 1-18 1-80 1 65 1-3 1 27 1-13 1-26 1-34 1 71 1 9 1-20 1-44 1-67 1 129 1 22 1-19 1-97 1 122 1-101 1-22 1 74 1 31 1-7 1-72 1 37 1 13 1-53 1 3 1-26 1 84 1-73 1 18 1 46 1 5 1-31 1-60 1 84 1 14 1 20 1-23 1-64 1 40 1-114 1 20 1 4 1 36 1 37 1 53 1 28 1-42 1-21 1-26 1-70 1 17 1 107 1-13 1-72 1-45 1-68 1 172 1-13 1-3 1 65 1-83 1-39 1-19 1 76 1-36 1-3 1-95 1 111 1-1 1 20 1 31 1 39 1-11 1-11 1 35 1-69 1 20 1-4 1-20 1-3 1-97 1 4 1-10 1-56 1 126 1-51 1 27 1-71 1 91 1-39 1-13 1 7 1 22 1-37 1 60 1-28 1 80 1 55 1-54 1 65 1-6 1-96 1-15 1 3 1 74 1-36 1 0 1-74 1 46 1 27 1-84 1 4 1 119 1 27 1-46 1 56 1-90 1-19 1-57 1 61 1 62 1-46 1-148 1-46 1 141 1 72 1 77 1-39 1-14 1-65 1-25 1-8 1-9 1 78 1 3 1-18 1-80 1 98 1-157 1-22 1 11 1 210 1-51 1 55 1-67 1-80 1 72 1 18 1-11 1 41 1 37 1-126 1-47 1 54 1-43 1 53 1-95 1 66 1-51 1 113 1-23 1 83 1-155 1 29 1 49 1-6 1 20 1-40 1 61 1-32 1-82 1 32 1 25 1 5 1 9 1 35 1 63 1 36 1-116 1-9 1-12 1 45 1-37 1 95 1-38 1 16 1-74 1 25 1-4 1-68 1 103 1-52 1-16 1-61 1 13 1 18 1 61 1-46 1 89 1 36 1-87 1 71 1-7 1-17 1 32 1-84 1-75 1 44 1-41 1 99 1 21 1-58 1 56 1-10 1 5 1-18 1-53 1 66 1-7 1-28 1-29 1 18 1-46 1 33 1-88 1 129 1-87 1 55 1-27 1 43 1 48 1 11 1-30 1 0 1 27 1-41 1-108 1 36 1 28 1 76 1 25 1-28 1-61 1 62 1 37 1-106 1 98 1 13 1-68 1-41 1-19 1-32 1-20 1-20 1 93 1 41 1 11 1-22 1-24 1 59 1 16 1-79 1 44 1-42 1-22 1 43 1 2 1-19 1-35 1-27 1 90 1 27 1 4 1 46 1-115 1 59 1 8 1-127 1 91 1 51 1-1 1-44 1-38 1 25 1 76 1-64 1-19 1 31 1 30 1 50 1-29 1-3 1-20 1-55 1-56 1-8 1 165 1 9 1-225 1 101 1-1 1-3 1 40 1-70 1 22 1 0 1 104 1-11 1-181 1 59 1 43 1-19 1 9 1 49 1-29 1-1 1-5 1-43 1 104 1-223 1-20 1 115 1 108 1-71 1 26 1-96 1 33 1 29 1 55 1 59 1-35 1 28 1 18 1-32 1-137 1 60 1 55 1-2 1-17 1 20 1 44 1-84 1-14 1 38 1-49 1 66 1 36 1-7 1-37 1-52 1 28 1-27 1-17 1-35 1 80 1-44 1 127 1-18 1-31 1-19 1-34 1 101 1-40 1-60 1 15 1-47 1-23 1 79 1 53 1-30 1 28 1-34 1-126 1 50 1 1 1 46 1 28 1 31 1-28 1-20 1 63 1-155 1 132 1-104 1 71 1-102 1-27 1 84 1 51 1 35 1-28 1 49 1-44 1 25 1-13 1-3 1-49 1-25 1-24 1 4 1 39 1-1 1-40 1 17 1-29 1 142 1-16 1-41 1-75 1 47 1 28 1-27 1-59 1 47 1 16 1-8 1 53 1 13 1-33 1 10 1 80 1-130 1-2 1-16 1 22 1 22 1 37 1 37 1-79 1 5 1-33 1 38 1-26 1-36 1-15 1 1 1 66 1-40 1 2 1 60 1-20 1 101 1-35 1-11 1 40 1-57 1 14 1 2 1 15 1 14 1-21 1-50 1 22 1 4 1 50 1-87 1 24 1-3 1 83 1-72 1 83 1-67 1 1 1 83 1-55 1-13 1-55 1 14 1 4 1-78 1 106 1-12 1-20 1-120 1 82 1 38 1 8 1 29 1-3 1 15 1-130 1 62 1 0 1 60 1-93 1 8 1-3 1 45 1-59 1 28 1 30 1-28 1-44 1 47 1-47 1-33 1 118 1-36 1 115 1 20 1-133 1 16 1 0 1-14 1-38 1 20 1 13 1 20 1-27 1 51 1 7 1-58 1 15 1-34 1 41 1-36 1-17 1 24 1 10 1 7 1-1 1-11 1-77 1 53 1-66 1 79 1-34 1 72 1 15 1 0 1 35 1-71 1-64 1 99 1 0 1-21 1-22 1 90 1-99 1-75 1 72 1-36 1 4 1 36 1 65 1-15 1 11 1 21 1-51 1 6 1-20 1-25 1 5 1-42 1-6 1 31 1 17 1 2 1-31 1 40 1 3 1 23 1-8 1 40 1 48 1 44 1-69 1-45 1 1 1-76 1 47 1 16 1-126 1 38 1 11 1 4 1 61 1 7 1-46 1-28 1 24 1 71 1 9 1-52 1-21 1 71 1-3 1-14 1 39 1-75 1 17 1 0 1 119 1-77 1-63 1-41 1 53 1 3 1 56 1-50 1 33 1 49 1-18 1-83 1 9 1-58 1 67 1 36 1 74 1 1 1-34 1-60 1 7 1 44 1-56 1 10 1-90 1-27 1-36 1 115 1 57 1 18 1-57 1 40 1-51 1-59 1 70 1-7 1-115 1 17 1 60 1 27 1 33 1 12 1 60 1-29 1-5 1-63 1-8 1-6 1 56 1-12 1-68 1 18 1 7 1 4 1-51 1-5 1-17 1 9 1 95 1 33 1-7 1 13 1 37 1-150 1-24 1 82 1 80 1-56 1-6 1-84 1 42 1 47 1-23 1-53 1 21 1 2 1 29 1-60 1 27 1 13 1 9 1-37 1-3 1 1 1 1 1 18 1 71 1 6 1 53 1 56 1-81 1-79 1-18 1 24 1 11 1 115 1-18 1-103 1 102 1-104 1 76 1-83 1-20 1-1 1 31 1-60 1 36 1 58 1 76 1-30 1-76 1 14 1 64 1-11 1 39 1 8 1-38 1-55 1-56 1 100 1-16 1-54 1 70 1-29 1 78 1 16 1-106 1 105 1-111 1-16 1 45 1 11 1-5 1 1 1-54 1 35 1 46 1-45 1-99 1 173 1-62 1-85 1 30 1-8 1-13 1-27 1-1 1 38 1-11 1 41 1 43 1-31 1-45 1 69 1-51 1-13 1 58 1-86 1-53 1-54 1 13 1 152 1-9 1-34 1 20 1-27 1-76 1 209 1-124 1-43 1 59 1 36 1-30 1-82 1 45 1 9 1 71 1-66 1 27 1 22 1 7 1-15 1 47 1-23 1-18 1 6 1-89 1-60 1 92 1 32 1-53 1 65 1 11 1-6 1-40 1 42 1 24 1 32 1-5 1 8 1-29 1-86 1 87 1-69 1-28 1-26 1 86 1-79 1 58 1-12 1 47 1 7 1-45 1-68 1-14 1 69 1-73 1 58 1-18 1 40 1 71 1-15 1 9 1-6 1 5 1-9 1-67 1-13 1 28 1-40 1 97 1-18 1-36 1-25 1-7 1-13 1-5 1 54 1 18 1-7 1-7 1 49 1 32 1-42 1 26 1 19 1 5 1-22 1-7 1-38 1-39 1-7 1-52 1 95 1-7 1-24 1 11 1-56 1 74 1-33 1-29 1 33 1 73 1-139 1 148 1-13 1-81 1 60 1-54 1 68 1-89 1 11 1 31 1-15 1 13 1 34 1-8 1-8 1-67 1 3 1-55 1 53 1 66 1 42 1 16 1-25 1 15 1-25 1-95 1 28 1-38 1-24 1 107 1 1 1 8 1 16 1-60 1 44 1 40 1-83 1 38 1 40 1-39 1 44 1 5 1 5 1 23 1-23 1 19 1-78 1 11 1 63 1 13 1-41 1-29 1-76 1-56 1 106 1-13 1 90 1-153 1 116 1 47 1-48 1-29 1-55 1-16 1 33 1-37 1 139 1-120 1-93 1 209 1-77 1 46 1 39 1-9 1-84 1 56 1-1 1 6 1-29 1 12 1-86 1 64 1-38 1 43 1 8 1 14 1-43 1 24 1-5 1-13 1 15 1 31 1 26 1-25 1-38 1-95 1-1 1 57 1 79 1 75 1-112 1-45 1 47 1 20 1-86 1-10 1-20 1 23 1 11 1 81 1-12 1 3 1-137 1-46 1 72 1 9 1 15 1 38 1 2 1 16 1-95 1 135 1-76 1-35 1 37 1 76 1-54 1-46 1 61 1 36 1 17 1 1 1-127 1 119 1 26 1-180 1 146 1-124 1 100 1-10 1 55 1 10 1-20 1-64 1 48 1-81 1 30 1 48 1-35 1 27 1 13 1-16 1-13 1 89 1-48 1 36 1-3 1-252 1 174 1-66 1 113 1-20 1 11 1 26 1-58 1 19 1-75 1-61 1 40 1 15 1 59 1-50 1 27 1-68 1-18 1 124 1-68 1 37 1-44 1 4 1 19 1 42 1 96 1-127 1 12 1 39 1-2 1-48 1-66 1 113 1 100 1-111 1-10 1-78 1-41 1 111 1-5 1-49 1-51 1 92 1 30 1 54 1-14 1 1 1-147 1 61 1 32 1-46 1 29 1-37 1 107 1-17 1-43 1-50 1-7 1 103 1 12 1 8 1 2 1 18 1-23 1 24 1 6 1-40 1-13 1-80 1 48 1-37 1 43 1 44 1 8 1-111 1-73 1 67 1 2 1 71 1 14 1-38 1 59 1-16 1-40 1 11 1 8 1-17 1-8 1 88 1-107 1 56 1-26 1-22 1 107 1 14 1-24 1 3 1-24 1-48 1 13 1 23 1-47 1-20 1-27 1 43 1-37 1 85 1-18 1-57 1-10 1 16 1 21 1 0 1 53 1-104 1-25 1 77 1 2 1-19 1-50 1 110 1 10 1-46 1-3 1 36 1-92 1 43 1-61 1 114 1-24 1 3 1-68 1 58 1 9 1-9 1-82 1 0 1 52 1 80 1 47 1-52 1-27 1 52 1-55 1 19 1-50 1 3 1-62 1-84 1 188 1 13 1 18 1-41 1-29 1 101 1 33 1-136 1 57 1 21 1-1 1-65 1-2 1 33 1-55 1-39 1 68 1-55 1 136 1-39 1-42 1 30 1-16 1-33 1 39 1-44 1 84 1 32 1-70 1-65 1 38 1 26 1 7 1 8 1-18 1 5 1-22 1-21 1-18 1-6 1-69 1 107 1 39 1 29 1-51 1 9 1-11 1 12 1-66 1 84 1-68 1-41 1-21 1 8 1 16 1 52 1-12 1-39 1 15 1-45 1 34 1 14 1 10 1-2 1-28 1 77 1-8 1 61 1-54 1 87 1-38 1 4 1 37 1-20 1-17 1-35 1 10 1-81 1 8 1 53 1-70 1 65 1-56 1 19 1 28 1 59 1-17 1-17 1 21 1-141 1 59 1 100 1-51 1-27 1-24 1 79 1-24 1 32 1-78 1 65 1-14 1 23 1 20 1-36 1 2 1-3 1-53 1-21 1-28 1 57 1-20 1 34 1-86 1 69 1-10 1 8 1 16 1 8 1-12 1 63 1-80 1-81 1 26 1 152 1 2 1-140 1 13 1-84 1 11 1 72 1 22 1 88 1-188 1 85 1 24 1 108 1 41 1-68 1-32 1-142 1 72 1 80 1-135 1 43 1 20 1 23 1 59 1-12 1-48 1 85 1-109 1 7 1-26 1 85 1-15 1 48 1-25 1-36 1 20 1 49 1-2 1-57 1 60 1 2 1-97 1-5 1-49 1 72 1 58 1-51 1-42 1 7 1 36 1-44 1 58 1-71 1 58 1 15 1 13 1-31 1 65 1-8 1-5 1 5 1-46 1-47 1-1 1 24 1-8 1-14 1 8 1-22 1 76 1 35 1-42 1-116 1 159 1-68 1 80 1-35 1-110 1-9 1 33 1 77 1-95 1 50 1-60 1-39 1 9 1-15 1 49 1 40 1 92 1-148 1 7 1-11 1-58 1 161 1 1 1 14 1-43 1-63 1 45 1-62 1 60 1-18 1 62 1 7 1-9 1-82 1 30 1-10 1 16 1-2 1 88 1 35 1-55 1-37 1 25 1 63 1-40 1-230 1-50 1 305 1-20 1 35 1-62 1 20 1-33 1-4 1 2 1 59 1-52 1-59 1 9 1 15 1-120 1 59 1 126 1-46 1-2 1 36 1-40 1-7 1 71 1-65 1-20 1 6 1 35 1-66 1-17 1-25 1 93 1 91 1-149 1 14 1 70 1-8 1 33 1-31 1 7 1 30 1-2 1-51 1-36 1 63 1-112 1 92 1-111 1 39 1 38 1 82 1-16 1-34 1-21 1-25 1 22 1-38 1-10 1 119 1-138 1 47 1-24 1 47 1 12 1 30 1-24 1-12 1 6 1 48 1-25 1-45 1 46 1 24 1 25 1 24 1-96 1 18 1-35 1-6 1-50 1 115 1-76 1 29 1-4 1 49 1-37 1-64 1 33 1 72 1-18 1 22 1-94 1 41 1 14 1-95 1 148 1 9 1-87 1 34 1-99 1 73 1 17 1 13 1-41 1-11 1-19 1 58 1 7 1 0 1-87 1 106 1 52 1 34 1-77 1-47 1 38 1-27 1-43 1-14 1 37 1-32 1-79 1 54 1 120 1 4 1-98 1 38 1-51 1 111 1-34 1-39 1 84 1-3 1-49 1-39 1-31 1 63 1 10 1 38 1-18 1-14 1-9 1 17 1 32 1-56 1 8 1-9 1-38 1-21 1 5 1 7 1-9 1-8 1 43 1 1 1 10 1 4 1-67 1-102 1 65 1 141 1-49 1 21 1-97 1 43 1 4 1-19 1 1 1-27 1 164 1 23 1-156 1 75 1-77 1 53 1-43 1 40 1 32 1-38 1 38 1-56 1 6 1-21 1-7 1 23 1-30 1 33 1-7 1-6 1 40 1 58 1 43 1-30 1 0 1-19 1-63 1 27 1-43 1 27 1-40 1-51 1 28 1 34 1-24 1 124 1 40 1-37 1-80 1-10 1-29 1 76 1 47 1 33 1-75 1-52 1 0 1-31 1 20 1-43 1-11 1-43 1 115 1-35 1 13 1 68 1-37 1-14 1 63 1-157 1 78 1-17 1 73 1 17 1 33 1-66 1 80 1-106 1 5 1-51 1-11 1 46 1-103 1-21 1 77 1 47 1 112 1-43 1-67 1-37 1 7 1 35 1-37 1-15 1 22 1 1 1 0 1 89 1-43 1-36 1 29 1 59 1-63 1 23 1 90 1-64 1 10 1-102 1 11 1 23 1-59 1-18 1 84 1-80 1 46 1 11 1-47 1-2 1 96 1-148 1 64 1 136 1-70 1-26 1 88 1-51 1-15 1-51 1 64 1 41 1 43 1-30 1-40 1-111 1 22 1 64 1-55 1 67 1 47 1-35 1 52 1-32 1-16 1-38 1 64 1 56 1-71 1-38 1 42 1-45 1 5 1-31 1-16 1 128 1-1 1-34 1 27 1 8 1-103 1 22 1-120 1 103 1 14 1-9 1 6 1 77 1-109 1 0 1 54 1 38 1-65 1-91 1 14 1 29 1 49 1 53 1 10 1 36 1-26 1-1 1 42 1 22 1 1 1-180 1 116 1-117 1-76 1 120 1-12 1 45 1 1 1 57 1 20 1 5 1-4 1-32 1 15 1-100 1 50 1 62 1-74 1 29 1-79 1-69 1 12 1 135 1 33 1-54 1-4 1 68 1-86 1-63 1 83 1-30 1 63 1-4 1 39 1-36 1 49 1-22 1-72 1-43 1 101 1-36 1-10 1-4 1 45 1-70 1 17 1-12 1-148 1 131 1-25 1 34 1 48 1-59 1-30 1 59 1-26 1-9 1-10 1 66 1 26 1-5 1-64 1 95 1 78 1-217 1 41 1-56 1 57 1-32 1 50 1-70 1 94 1-20 1 37 1-34 1-58 1-20 1 99 1-16 1 33 1-52 1-10 1 104 1-62 1-5 1-35 1 46 1 3 1 5 1-71 1 52 1-26 1-27 1-84 1 171 1-3 1-15 1-87 1 81 1-7 1 5 1 26 1-28 1-92 1 74 1-4 1-1 1 32 1-106 1 36 1 64 1 33 1-114 1 93 1 49 1-224 1 95 1 39 1 15 1-63 1 2 1 8 1-58 1 46 1 42 1-17 1 7 1-24 1-23 1-104 1 140 1 59 1-30 1-12 1-52 1 91 1-78 1 79 1-48 1-28 1 71 1 8 1 27 1-22 1-104 1 23 1 89 1 21 1-6 1-8 1-14 1-45 1-19 1-21 1-11 1 10 1 51 1-81 1 80 1-21 1-29 1-19 1 60 1-103 1 68 1-16 1 32 1 15 1-9 1 39 1-86 1-1 1 66 1-91 1-22 1-10 1 71 1-21 1-4 1 13 1-4 1-9 1 113 1 27 1-147 1-56 1 85 1 73 1-45 1 12 1-37 1 12 1-28 1-22 1 15 1 50 1 17 1 124 1 20 1-65 1-76 1-14 1 36 1 36 1 11 1-5 1 24 1-32 1 42 1-64 1 5 1-9 1 27 1-99 1 49 1-10 1 32 1 3 1-37 1 69 1-37 1-83 1 146 1-18 1-28 1 5 1-23 1-65 1 14 1 32 1 23 1-149 1 34 1 65 1 25 1-8 1 18 1 18 1-2 1-22 1-19 1 3 1 15 1-21 1-66 1 57 1 0 1-49 1-59 1 119 1 0 1-21 1-47 1 58 1-42 1 62 1-40 1 75 1-92 1 9 1-6 1 90 1 13 1-46 1-15 1 34 1-4 1-29 1 153 1-145 1 50 1-45 1-8 1 37 1 32 1-27 1 21 1-50 1-5 1 24 1-40 1-4 1 68 1-10 1-38 1 44 1-64 1 79 1-60 1-24 1-29 1 117 1-92 1-19 1 6 1 16 1-34 1 85 1-52 1 5 1-33 1 15 1 55 1 60 1-73 1-17 1 28 1-50 1-16 1 22 1 109 1-96 1-19 1-8 1 34 1 17 1-68 1 68 1 17 1-37 1-82 1 33 1 42 1-25 1 63 1 15 1 56 1-109 1-25 1 69 1-21 1 40 1-84 1 7 1 35 1 28 1 27 1-43 1 9 1 81 1-68 1-53 1 6 1 55 1 19 1 10 1-58 1-21 1-86 1 63 1-3 1 32 1 53 1 24 1-152 1-99 1 287 1-118 1 42 1-25 1-56 1-23 1 66 1 20 1-77 1 33 1 161 1-116 1 26 1-41 1-96 1 92 1-27 1-17 1-54 1 123 1-25 1-12 1 31 1-13 1-1 1-49 1-1 1 15 1 65 1-3 1 18 1-54 1 49 1-90 1 8 1 2 1 67 1 17 1-25 1 10 1-89 1 81 1 11 1 29 1-17 1-10 1-82 1-15 1 16 1 87 1 7 1-227 1 221 1 46 1-48 1 56 1-25 1 78 1-144 1 62 1-70 1-32 1 33 1 25 1-12 1-54 1 21 1 64 1 54 1-63 1-51 1 32 1 15 1 11 1-5 1 21 1-208 1-13 1 116 1 80 1-81 1 85 1-61 1 17 1 28 1-32 1-29 1 88 1 4 1-20 1-53 1 75 1-53 1 30 1 80 1-112 1-5 1-3 1-4 1-11 1-34 1 15 1 52 1-2 1-50 1 0 1 26 1 1 1 49 1-13 1 7 1 18 1 13 1-36 1-39 1-27 1-30 1 45 1-46 1-34 1 40 1 24 1 131 1-13 1-31 1 32 1 17 1-48 1-60 1-13 1 65 1 34 1-3 1-43 1-30 1 35 1 24 1-84 1 45 1 64 1-46 1-55 1 78 1-73 1 7 1 25 1-21 1-5 1 3 1 4 1-42 1 28 1 24 1-5 1-16 1-1 1 21 1 7 1 36 1-57 1 33 1 62 1-98 1 123 1-82 1-30 1 82 1-86 1-18 1 7 1-18 1 52 1-20 1 65 1-42 1-91 1-43 1 18 1 59 1 44 1-29 1 4 1 3 1 36 1 60 1-21 1 61 1-37 1-15 1 10 1 41 1-43 1-76 1 88 1-93 1 19 1-81 1 26 1 11 1 36 1-26 1 18 1 25 1-69 1-42 1 56 1 15 1 50 1-58 1 0 1 20 1 4 1 2 1-61 1 73 1-42 1-20 1 76 1-49 1 49 1 15 1-7 1-52 1 28 1-12 1 50 1-15 1-47 1 10 1 34 1-42 1 13 1 102 1-53 1 29 1-43 1-103 1-1 1 97 1 20 1-20 1-38 1 61 1-105 1 3 1 55 1 50 1 18 1-26 1-22 1-19 1 2 1-120 1 53 1 56 1 48 1-49 1 12 1-36 1 32 1-34 1 89 1-46 1 75 1-19 1-76 1-36 1 54 1-25 1-66 1 78 1 43 1 4 1-44 1-63 1 113 1-10 1-8 1-76 1-12 1 80 1 19 1-3 1-48 1-48 1-35 1 39 1-10 1-9 1 142 1-25 1 17 1-48 1 56 1-66 1-47 1-22 1 108 1-61 1-73 1 58 1 81 1-41 1 54 1-41 1 38 1-26 1-2 1-104 1 19 1 53 1-14 1 50 1-28 1 78 1-20 1-57 1-1 1-53 1 18 1 123 1-77 1 37 1-90 1-1 1 43 1-44 1-63 1 72 1 21 1 24 1-32 1 68 1-41 1 52 1-42 1-22 1-75 1 140 1-23 1-122 1 66 1 98 1-34 1-100 1 37 1-23 1-54 1 151 1-63 1 55 1-1 1-10 1-25 1 101 1-60 1-13 1-86 1 34 1 107 1-14 1-54 1-1 1 39 1-19 1 40 1 5 1-40 1-61 1-95 1 86 1 41 1 18 1-20 1-65 1 2 1-32 1 33 1 8 1-13 1 20 1-8 1-23 1 45 1-12 1 22 1-4 1-34 1-4 1 13 1-86 1 144 1 48 1-43 1 8 1-30 1-7 1 90 1-111 1 3 1 87 1-59 1-99 1-12 1 70 1 0 1 88 1-56 1 9 1-149 1 170 1-143 1 85 1 50 1-56 1-66 1 139 1-67 1-85 1 53 1 47 1 52 1-61 1-60 1 118 1-83 1 46 1-75 1 55 1-45 1-77 1 46 1 91 1-12 1 39 1 33 1-85 1 50 1-36 1 47 1 3 1-63 1-8 1 75 1-45 1 2 1-10 1-55 1 43 1 22 1-81 1 118 1-10 1-13 1-55 1-40 1 80 1-46 1 18 1 58 1-38 1-31 1 65 1-13 1-10 1 45 1-29 1 60 1-132 1-4 1-61 1 149 1-74 1 66 1 19 1-55 1 12 1 54 1-27 1-5 1 98 1-66 1-95 1 64 1-12 1 58 1-36 1 11 1-5 1 9 1 30 1-30 1-41 1-24 1 108 1-33 1-19 1 18 1 17 1-44 1-43 1 27 1-26 1 21 1 4 1 34 1-73 1-2 1 80 1-60 1 24 1-49 1-44 1 81 1 18 1 1 1 17 1-7 1-31 1 57 1 29 1-90 1-52 1 61 1 14 1-11 1-23 1 10 1-59 1 36 1 6 1-27 1-59 1 122 1-83 1 16 1 117 1-88 1-4 1-62 1 30 1 52 1-27 1-36 1 134 1 19 1 1 1-84 1 93 1-81 1 56 1-125 1 64 1-18 1 64 1 33 1-3 1-46 1-41 1-59 1-3 1 83 1-16 1-44 1 88 1-45 1-51 1 31 1 87 1-60 1 65 1-30 1-10 1 12 1 2 1-115 1 74 1 25 1-28 1-84 1 61 1 42 1-62 1-16 1 79 1-88 1 11 1 20 1-63 1 51 1 5 1 38 1 65 1-53 1-25 1 79 1-48 1-21 1-33 1 23 1-12 1-32 1 11 1-54 1 114 1 3 1-1 1-42 1 45 1 22 1 103 1-82 1-82 1-52 1 44 1 13 1 6 1 106 1-45 1-66 1 23 1-17 1-13 1 4 1-8 1-9 1 43 1 7 1 69 1-158 1-6 1 58 1-36 1 16 1 60 1 55 1-120 1-11 1 12 1 52 1-20 1 47 1-118 1 30 1-18 1 57 1 16 1-48 1-35 1 58 1-56 1 21 1-1 1 106 1 15 1-116 1-21 1 140 1-84 1 43 1-24 1 71 1-19 1-59 1 4 1-27 1-26 1 55 1 15 1-2 1-68 1 43 1 21 1 44 1 61 1 18 1-75 1-34 1 25 1-104 1-31 1 133 1-106 1-3 1 52 1 12 1-92 1-35 1 152 1-62 1 19 1 37 1-53 1 83 1-91 1 19 1 91 1-83 1 48 1-36 1 53 1-26 1-17 1-53 1 42 1 2 1-64 1 152 1-54 1-2 1 59 1-42 1-5 1-86 1 4 1 87 1-68 1 1 1-29 1-1 1-6 1-18 1 83 1 6 1 29 1-64 1-77 1 120 1-99 1 61 1-5 1 40 1 20 1-72 1 70 1 12 1-6 1-59 1-14 1 44 1 55 1 13 1-84 1-10 1-56 1 49 1-48 1 15 1 49 1 15 1 81 1-57 1-93 1 38 1 111 1-73 1-96 1 115 1 19 1-37 1-91 1 86 1 73 1-105 1 20 1 37 1 29 1 24 1 70 1-80 1-20 1 18 1-27 1-23 1 42 1-67 1 77 1-99 1 25 1 71 1-90 1 30 1-67 1-49 1 44 1 97 1 3 1-58 1 59 1 9 1-33 1 7 1 21 1-49 1-16 1 38 1-76 1 74 1-135 1-51 1 89 1 74 1 36 1 11 1 13 1-62 1 29 1-35 1 3 1-56 1-20 1 14 1 21 1 29 1-110 1 120 1 30 1-85 1 49 1 12 1-18 1 31 1-34 1 53 1-17 1-33 1-19 1 127 1-10 1-12 1-80 1 6 1-70 1 74 1-72 1 92 1 95 1-48 1-37 1-97 1 59 1 9 1-4 1-15 1 89 1-18 1-30 1 19 1-77 1 70 1 62 1-7 1 1 1 14 1-42 1 3 1-49 1-83 1-42 1 93 1 7 1-51 1 103 1-15 1 20 1-38 1-78 1 20 1 18 1 84 1-5 1-68 1 47 1 15 1-66 1 61 1-24 1 6 1 24 1 30 1-42 1 42 1-80 1 33 1 85 1-11 1-67 1 5 1-45 1 35 1-21 1-65 1 1 1-44 1 77 1 28 1-40 1 36 1-37 1 63 1-12 1-4 1 14 1-2 1-27 1 54 1-151 1 104 1-34 1 26 1-51 1 30 1-26 1-19 1 42 1 3 1 34 1 24 1 3 1-8 1-88 1 55 1-104 1 109 1-44 1-13 1 54 1-36 1 13 1 25 1 15 1-118 1 47 1 34 1 27 1 26 1-156 1 165 1-101 1-28 1 42 1 43 1 54 1-23 1-53 1 63 1-126 1 48 1 47 1-35 1-3 1 29 1 9 1 46 1-3 1-39 1-32 1-8 1 30 1 105 1-54 1-22 1-49 1 49 1 79 1-79 1-38 1 38 1 10 1-125 1 63 1 58 1-49 1 13 1 18 1-30 1 90 1-16 1-2 1-29 1-24 1 42 1-20 1-2 1-64 1 61 1-61 1-24 1 47 1 34 1 25 1-17 1-11 1-23 1-31 1 39 1-77 1 21 1-4 1 24 1 31 1 14 1 47 1-6 1 12 1 36 1-32 1-66 1-25 1-33 1 132 1-26 1-94 1 37 1 78 1-42 1-90 1 39 1 41 1-8 1 13 1 113 1-34 1-8 1-91 1-14 1 26 1 35 1-69 1-38 1 110 1 10 1 26 1 8 1 49 1-65 1-19 1-68 1 15 1 46 1-115 1 145 1-16 1 45 1-43 1-61 1 30 1 80 1-78 1 78 1-40 1-100 1 46 1-41 1-28 1-1 1 70 1-44 1-4 1-7 1 4 1 111 1-25 1 14 1-25 1-74 1 47 1-58 1 37 1 56 1-120 1 49 1 90 1-34 1-29 1 9 1 23 1-5 1 24 1-23 1-42 1 10 1 26 1 1 1-11 1-31 1-53 1 3 1 81 1-82 1 0 1 35 1-28 1 50 1 3 1 47 1-3 1-15 1 42 1 83 1-118 1 7 1 6 1 27 1-78 1-98 1 83 1 20 1 16 1-56 1 2 1 79 1 8 1 50 1-84 1-26 1-16 1 35 1-21 1 10 1 80 1 26 1-36 1 24 1-80 1 47 1-139 1 45 1-33 1 66 1 13 1 81 1-38 1-11 1 33 1 50 1-123 1 39 1 24 1-76 1 98 1-123 1 151 1-70 1-23 1 83 1-180 1 102 1-34 1-8 1 32 1-74 1-27 1 25 1 128 1-15 1-4 1-20 1-26 1 15 1-33 1 37 1 8 1-40 1-55 1 17 1 5 1 18 1 25 1 16 1-18 1-31 1-27 1 87 1 71 1-37 1-63 1-58 1-80 1-4 1 145 1 28 1 14 1-50 1 35 1-7 1 59 1-96 1 20 1 22 1 4 1 42 1-46 1 3 1-113 1 114 1 66 1-49 1-39 1-20 1-83 1-8 1 52 1 29 1 34 1 31 1-36 1-14 1-44 1 65 1 19 1 15 1 14 1 28 1-53 1-16 1-15 1-18 1 34 1 58 1-69 1-130 1 44 1 62 1-75 1 35 1 35 1-18 1-2 1 99 1-12 1-140 1 93 1-60 1 82 1 28 1-20 1 50 1-15 1-134 1 45 1-35 1 34 1 36 1-21 1-9 1-7 1 29 1 13 1 43 1-41 1 17 1 9 1-44 1-39 1-22 1 86 1 13 1-92 1 70 1-31 1 52 1 11 1 51 1-68 1 23 1 78 1-9 1-138 1-32 1 64 1 53 1-108 1 16 1 27 1-13 1-2 1-149 1 166 1-30 1 64 1 13 1-134 1 116 1-50 1 92 1-4 1-35 1-30 1 14 1-35 1-70 1 97 1-54 1 6 1 136 1-80 1 7 1 24 1-107 1 118 1-39 1 37 1-8 1-50 1 19 1-55 1 59 1 4 1 6 1-50 1 4 1 68 1-67 1-48 1 14 1 40 1-21 1 44 1 17 1 44 1 4 1-59 1-26 1-13 1-7 1-37 1 63 1-27 1 29 1 17 1-46 1-68 1 116 1 20 1-49 1-67 1 70 1-48 1-4 1 12 1 27 1-3 1 71 1-16 1-82 1 6 1 11 1 46 1 17 1-23 1-60 1 12 1-8 1 63 1 0 1 2 1 13 1-49 1 50 1-11 1-1 1-15 1 14 1-74 1 61 1-46 1 29 1-82 1 109 1 2 1 68 1-30 1-46 1-35 1 45 1-38 1 16 1 2 1-10 1 4 1-8 1-53 1 28 1 60 1-42 1 21 1 33 1 39 1-16 1-66 1 30 1 49 1-64 1 38 1-55 1 51 1-41 1 15 1-31 1 131 1-69 1-57 1 45 1-74 1-16 1-46 1 48 1 20 1 81 1-14 1-82 1 52 1 48 1 0 1-14 1-88 1 26 1 65 1-41 1-38 1 46 1-33 1 85 1-66 1 8 1-20 1 18 1-87 1 77 1 21 1 8 1 21 1 15 1-74 1 27 1 55 1 35 1-87 1-2 1 1 1-140 1-10 1 176 1-1 1-16 1-19 1 95 1-41 1 2 1-93 1 95 1 27 1-56 1 23 1-60 1 25 1-52 1-19 1 50 1-22 1 13 1-13 1 80 1-46 1 39 1-66 1 62 1-24 1 73 1-29 1-44 1-18 1 73 1 64 1-84 1-93 1 53 1 5 1-74 1-6 1 29 1-18 1 24 1 115 1-96 1 9 1 8 1 13 1-32 1-67 1 5 1 24 1-74 1 41 1 12 1 42 1-27 1 41 1 38 1 7 1-137 1 65 1-76 1 74 1 38 1 29 1 1 1-7 1-72 1 9 1 8 1-4 1-20 1-6 1 44 1-30 1 34 1-20 1-70 1 50 1 21 1 70 1-9 1-33 1 69 1 18 1-132 1 113 1 4 1-93 1 14 1 70 1-45 1-116 1 76 1 35 1-64 1 22 1 5 1 50 1-25 1-123 1 13 1-3 1 109 1 41 1-1 1 84 1-66 1 34 1-64 1 15 1-34 1-24 1 99 1-32 1-28 1 25 1-24 1 11 1-37 1-24 1 49 1-22 1-27 1-13 1 28 1 11 1-21 1-10 1 106 1-59 1-19 1-2 1 16 1-17 1-3 1-5 1 77 1-39 1 46 1-21 1-7 1 47 1-91 1-77 1 71 1 45 1-84 1 61 1-47 1 77 1-104 1-46 1 142 1 2 1-28 1 45 1 21 1-20 1 17 1-29 1-95 1 38 1 11 1 26 1-57 1-22 1 24 1-66 1 96 1-31 1 16 1 37 1-75 1 65 1 10 1-56 1 163 1-58 1-61 1-41 1 15 1 102 1-10 1 3 1-54 1-86 1 105 1-27 1-40 1 20 1 59 1-56 1-52 1 21 1 6 1-20 1 28 1-7 1 121 1 42 1-99 1 12 1-83 1-8 1 36 1-49 1 19 1 20 1-16 1-26 1 10 1 14 1 40 1-3 1-83 1 113 1-44 1 31 1-27 1 59 1 10 1-4 1-44 1 27 1-5 1 2 1 39 1-22 1 66 1-74 1 42 1-11 1-30 1-113 1 63 1-26 1 14 1 10 1 43 1 23 1 41 1-71 1 47 1-5 1 25 1-42 1-63 1-104 1 98 1-35 1-111 1-28 1 183 1 37 1 13 1 13 1-65 1-7 1-53 1 34 1 70 1 61 1-62 1-9 1-58 1 158 1-56 1-60 1 109 1-54 1 5 1-54 1-26 1 24 1-21 1 116 1-137 1 105 1-17 1-65 1-66 1 124 1-91 1-39 1 72 1-77 1-101 1 265 1-95 1 25 1 44 1 52 1-27 1-92 1 56 1 9 1-63 1 39 1 14 1 5 1-85 1 48 1-31 1 34 1-14 1 61 1-25 1 28 1-55 1 7 1 15 1-37 1-8 1-26 1 96 1 30 1-11 1-19 1-45 1-64 1 96 1-42 1 50 1-89 1 112 1-143 1 3 1 0 1 46 1 22 1-25 1-1 1 40 1 6 1-16 1-14 1 38 1 0 1-111 1 35 1-39 1 83 1-27 1 43 1 8 1 48 1-35 1 42 1-63 1-19 1-45 1 7 1 28 1 18 1-47 1 17 1-8 1 74 1-70 1-82 1 22 1 92 1 20 1-15 1 17 1-28 1-84 1 142 1-59 1-85 1 75 1-22 1 37 1 28 1-17 1-71 1 78 1-20 1-29 1 31 1-24 1 22 1 5 1 39 1-95 1 15 1 31 1-1 1-14 1 61 1-46 1-15 1 30 1 7 1 2 1 33 1 48 1-51 1 47 1-112 1-5 1 143 1-51 1-58 1-106 1-19 1-4 1 93 1 89 1 8 1-37 1-94 1 45 1-65 1 52 1-9 1-74 1-39 1 97 1-37 1 3 1 47 1-2 1-9 1 3 1 15 1-97 1 98 1-10 1 44 1-54 1 125 1-171 1 0 1 5 1 38 1 99 1-60 1 48 1 58 1-13 1-8 1-25 1-16 1 50 1-32 1-108 1 37 1 63 1-37 1-42 1 113 1 1 1 26 1 3 1-40 1-33 1-71 1 6 1 9 1 50 1-62 1-71 1 40 1 45 1 119 1-29 1-74 1 38 1 87 1-96 1 11 1-13 1-19 1 38 1-45 1-56 1-57 1 60 1 15 1-56 1 195 1 29 1-117 1 14 1-90 1 44 1 46 1 25 1-69 1-40 1 70 1-12 1 48 1 23 1-87 1 26 1 6 1-16 1 26 1 48 1 4 1-36 1-58 1-49 1 3 1-4 1-22 1 62 1-30 1 114 1-69 1-86 1 34 1 49 1 25 1 69 1 3 1 12 1-30 1-106 1 40 1-70 1 61 1-144 1 94 1 66 1-18 1 69 1-23 1 55 1-35 1-59 1 11 1-45 1 10 1-117 1 29 1 99 1 23 1-50 1 137 1-26 1-42 1-1 1 5 1 22 1 41 1 27 1-55 1-88 1 28 1 68 1-9 1 6 1-15 1 76 1-8 1-142 1 34 1 53 1-30 1-43 1 1 1-17 1 97 1-63 1-105 1 104 1-60 1-1 1 64 1-70 1 50 1-43 1-10 1-30 1 33 1 80 1-144 1-16 1 38 1 3 1 91 1-37 1 38 1-36 1-19 1-29 1 136 1 35 1-52 1-15 1-5 1-62 1-55 1 186 1-102 1 14 1 62 1 30 1 69 1-72 1-91 1 80 1 15 1-28 1-9 1 15 1-25 1-7 1-40 1-13 1 48 1-39 1 66 1 11 1-40 1-20 1 34 1-31 1-54 1 55 1 56 1-38 1 23 1-51 1-12 1 15 1-130 1 72 1-31 1 156 1-118 1 46 1-75 1 91 1 38 1-70 1 7 1 45 1-65 1 3 1-67 1 87 1-44 1 22 1-50 1-85 1 130 1 19 1-48 1 118 1-8 1 0 1-51 1-41 1-79 1 96 1 47 1 1 1 11 1 61 1-52 1 29 1-24 1-46 1 65 1-73 1-120 1 88 1-38 1 112 1-75 1 58 1 62 1-8 1-82 1 16 1-18 1-20 1-37 1 51 1 186 1-162 1 18 1-109 1 59 1 24 1 34 1 19 1-96 1 104 1 36 1-27 1 29 1-55 1-31 1-11 1 7 1-34 1 101 1-54 1-15 1 43 1-31 1-42 1-47 1 107 1-69 1-24 1 60 1 51 1-61 1-41 1 107 1 21 1 0 1-49 1-16 1 1 1-103 1 11 1 90 1 10 1 80 1 3 1-57 1 21 1-49 1 28 1 35 1-67 1 62 1 19 1-35 1-21 1 13 1 58 1-27 1-46 1-101 1 130 1-74 1 74 1-34 1-21 1-6 1 44 1-20 1-55 1 27 1-56 1 114 1-63 1 38 1 8 1-137 1 72 1-16 1 7 1 59 1 7 1 16 1-31 1 86 1-59 1-105 1-1 1 40 1 127 1-29 1-115 1 86 1-89 1 21 1-14 1-95 1 196 1-91 1 74 1-86 1 24 1 44 1-67 1 31 1 5 1 39 1-64 1-3 1 54 1-1 1-49 1-49 1 62 1 47 1 45 1 73 1-21 1-117 1-10 1-37 1 29 1-24 1-40 1 87 1-11 1 34 1-108 1-50 1 52 1 55 1 13 1 54 1-31 1-53 1 5 1-114 1 146 1 39 1-3 1 28 1-111 1 32 1-35 1 0 1 70 1-19 1-31 1-25 1 64 1-54 1 22 1-21 1 44 1-27 1-54 1 36 1 85 1-50 1 59 1 11 1-31 1-22 1 3 1 48 1 22 1-20 1-26 1-45 1 109 1 8 1-16 1-156 1-20 1 35 1 54 1-29 1-4 1-24 1 3 1 29 1-53 1-2 1 107 1-105 1 35 1 51 1 28 1-38 1-24 1 46 1-29 1 17 1-19 1 76 1-106 1-45 1-48 1 192 1-92 1-1 1 36 1 6 1 16 1-93 1-40 1 58 1 57 1 99 1-88 1-39 1 38 1 1 1-140 1 25 1 113 1 4 1-33 1 84 1-102 1-5 1 28 1-1 1-48 1 99 1 15 1-99 1 8 1 12 1-14 1-6 1 44 1-132 1 44 1 85 1-22 1 53 1-156 1 118 1 9 1 14 1-32 1 11 1 5 1 27 1 38 1-101 1-28 1 63 1 31 1 23 1-4 1 36 1-110 1-66 1 91 1 6 1-52 1-1 1 23 1 3 1 38 1-4 1-5 1 7 1-30 1 50 1-37 1-7 1-66 1 92 1-76 1 40 1 68 1-15 1-22 1 5 1-30 1 42 1-106 1 80 1 24 1 35 1-95 1 96 1 1 1 40 1-79 1-34 1 25 1 100 1-177 1 44 1 27 1 16 1-46 1 0 1 67 1-34 1 24 1 44 1-41 1-56 1 38 1-28 1 8 1-103 1 142 1-69 1 18 1-47 1-3 1-59 1 28 1 70 1-54 1 14 1-66 1 154 1-76 1 67 1 23 1-26 1-50 1-25 1 19 1-32 1 2 1 19 1 10 1-71 1 47 1 56 1-7 1-11 1 92 1-17 1-53 1-14 1 20 1-141 1 62 1 16 1 53 1 12 1-28 1-12 1 58 1-20 1-43 1-24 1 74 1-108 1 38 1 54 1-64 1-17 1 30 1 21 1 42 1 27 1 78 1-81 1-34 1-17 1 80 1 9 1-69 1-25 1 64 1-46 1-44 1 43 1-5 1 10 1 12 1 50 1-97 1-40 1 104 1-53 1 36 1-16 1 40 1 49 1-32 1-49 1 10 1-81 1-11 1 62 1 26 1 77 1 46 1-123 1-86 1 85 1 30 1-92 1-24 1 72 1 19 1-30 1-16 1-2 1 16 1-23 1 88 1-15 1-110 1-54 1 43 1 108 1-48 1-45 1 108 1-16 1-26 1-66 1-10 1 50 1 66 1-69 1 52 1 44 1-71 1 5 1-69 1 45 1 26 1-23 1 54 1-47 1 48 1-41 1 36 1 53 1 39 1-185 1 87 1 14 1-35 1-64 1 23 1-28 1-35 1 81 1 129 1-82 1-10 1-17 1-36 1 31 1-40 1-24 1 14 1 20 1 32 1 25 1 7 1 35 1-33 1 9 1 41 1 13 1 30 1-69 1 40 1 43 1-34 1 22 1-17 1-50 1-5 1-11 1 98 1-67 1-103 1 34 1 62 1-17 1 1 1 53 1-94 1 50 1-64 1 18 1 61 1 21 1-91 1 15 1 24 1-124 1 49 1-49 1 20 1-30 1 67 1 16 1-52 1 24 1 47 1-10 1-30 1-20 1 99 1-96 1 72 1-56 1 17 1-10 1 38 1 44 1-65 1 14 1-33 1 72 1 37 1-92 1-19 1-5 1-12 1-60 1 22 1 142 1-63 1 46 1 31 1-70 1-27 1 54 1-41 1-45 1 41 1 15 1-3 1-2 1 14 1-32 1-44 1 22 1 60 1-30 1 84 1-38 1 32 1 26 1 26 1-121 1 33 1 58 1 49 1-204 1 11 1 50 1-64 1 97 1 6 1 45 1-57 1-32 1 57 1 41 1-80 1-9 1 32 1 50 1-37 1-24 1-8 1 55 1-141 1 78 1 54 1 22 1-21 1-39 1-15 1 27 1-69 1-60 1 110 1-114 1 158 1-59 1-23 1 56 1 12 1-77 1 20 1 19 1 71 1-93 1-61 1-77 1 147 1-15 1 89 1-17 1-142 1 90 1 32 1-90 1 29 1 27 1 75 1-73 1 33 1-66 1 71 1 0 1-36 1 94 1-10 1-14 1-47 1 49 1-92 1 0 1-39 1 11 1 102 1-38 1-21 1 35 1-10 1-28 1-42 1-30 1 115 1 12 1-39 1-117 1 75"/>
</g>
<path d="M48.2 366L623.2 366" stroke="#000000" stroke-width="2" fill="none"/>
<path d="M48.2 366.9L623.2 366.9" stroke="#DF536B" stroke-width="2" fill="none"/>
<path d="M48.2 366.4L623.2 366.4" stroke="#61D04F" stroke-width="2" fill="none"/>
<rect x="25.3" y="303.4" width="621.2" height="113.25" fill="none" stroke="#000" stroke-width="2" stroke-linejoin="round"/>
<path d="M13.1 311.1H25.3M13.1 325.75H25.3M13.1 340.4H25.3M13.1 355.05H25.3M13.1 369.7H25.3M13.1 384.35H25.3M13.1 399H25.3M13.1 413.65H25.3M48.2 416.65V429M163.2 416.65V429M278.2 416.65V429M393.2 416.65V429M508.2 416.65V429M623.2 416.65V429M685.4 412.45H697.2M685.4 387.45H697.2M685.4 362.45H697.2M685.4 337.45H697.2M685.4 312.45H697.2M718.9 416.65V429M869.4 416.65V429M1019.9 416.65V429M1170.4 416.65V429" stroke="#000" stroke-width="2" stroke-linecap="round" fill="none"/>
<g font-family='"Liberation Sans", sans-serif' font-size="21.7" text-anchor="middle" fill="#000">
<text x="48.2" y="461.8">2000</text>
<text x="163.2" y="461.8">3000</text>
<text x="278.2" y="461.8">4000</text>
<text x="393.2" y="461.8">5000</text>
<text x="508.2" y="461.8">6000</text>
<text x="623.2" y="461.8">7000</text>
<text x="718.9" y="461.8">0</text>
<text x="869.4" y="461.8">1</text>
<text x="1019.9" y="461.8">2</text>
<text x="1170.4" y="461.8">3</text>
<text transform="translate(667.3 412.45) rotate(-90)">0.0</text>
<text transform="translate(667.3 362.45) rotate(-90)">0.4</text>
<text transform="translate(667.3 312.45) rotate(-90)">0.8</text>
</g>
<g font-family='"Liberation Sans", sans-serif' font-size="25" font-weight="bold" text-anchor="middle" fill="#000">
<text transform="translate(335.9 281) scale(1 1.08)">Trace of b[6]</text>
<text transform="translate(1007.95 281) scale(1 1.08)">Density of b[6]</text>
</g>
<path d="M720.2 412.45 722.12 412.45 724.05 412.44 725.97 412.42 727.9 412.4 729.82 412.38 731.75 412.35 733.67 412.32 735.6 412.29 737.52 412.25 739.45 412.21 741.37 412.17 743.3 412.1 745.22 412.02 747.15 411.93 749.07 411.82 751 411.7 752.92 411.58 754.85 411.46 756.77 411.32 758.69 411.16 760.62 410.98 762.54 410.8 764.47 410.6 766.39 410.38 768.32 410.16 770.24 409.93 772.17 409.69 774.09 409.45 776.02 409.2 777.94 408.94 779.87 408.66 781.79 408.37 783.72 408.07 785.64 407.75 787.57 407.42 789.49 407.06 791.42 406.69 793.34 406.31 795.27 405.9 797.19 405.46 799.11 404.98 801.04 404.47 802.96 403.93 804.89 403.35 806.81 402.76 808.74 402.14 810.66 401.51 812.59 400.86 814.51 400.2 816.44 399.53 818.36 398.82 820.29 398.08 822.21 397.3 824.14 396.5 826.06 395.66 827.99 394.78 829.91 393.88 831.84 392.95 833.76 391.99 835.68 390.97 837.61 389.91 839.53 388.78 841.46 387.58 843.38 386.3 845.31 384.89 847.23 383.37 849.16 381.75 851.08 380.05 853.01 378.29 854.93 376.37 856.86 374.27 858.78 372.09 860.71 369.95 862.63 367.97 864.56 366.17 866.48 364.46 868.41 362.76 870.33 360.99 872.26 359.1 874.18 357.16 876.1 355.2 878.03 353.27 879.95 351.41 881.88 349.66 883.8 348 885.73 346.39 887.65 344.8 889.58 343.21 891.5 341.58 893.43 339.89 895.35 338.1 897.28 336.22 899.2 334.26 901.13 332.28 903.05 330.32 904.98 328.42 906.9 326.54 908.83 324.64 910.75 322.78 912.67 321.04 914.6 319.48 916.52 318.05 918.45 316.67 920.37 315.37 922.3 314.17 924.22 313.1 926.15 312.2 928.07 311.47 930 310.81 931.92 310.23 933.85 309.72 935.77 309.27 937.7 308.9 939.62 308.56 941.55 308.22 943.47 307.9 945.4 307.62 947.32 307.4 949.25 307.25 951.17 307.2 953.09 307.23 955.02 307.33 956.94 307.48 958.87 307.68 960.79 307.92 962.72 308.19 964.64 308.48 966.57 308.87 968.49 309.46 970.42 310.2 972.34 311.06 974.27 311.99 976.19 312.96 978.12 313.91 980.04 314.87 981.97 315.88 983.89 316.95 985.82 318.08 987.74 319.28 989.66 320.54 991.59 321.88 993.51 323.34 995.44 324.98 997.36 326.76 999.29 328.6 1001.21 330.47 1003.14 332.29 1005.06 334.01 1006.99 335.62 1008.91 337.19 1010.84 338.71 1012.76 340.22 1014.69 341.72 1016.61 343.22 1018.54 344.73 1020.46 346.27 1022.39 347.83 1024.31 349.4 1026.24 350.97 1028.16 352.52 1030.08 354.04 1032.01 355.53 1033.93 356.96 1035.86 358.34 1037.78 359.7 1039.71 361.09 1041.63 362.52 1043.56 363.99 1045.48 365.48 1047.41 366.97 1049.33 368.45 1051.26 369.89 1053.18 371.28 1055.11 372.62 1057.03 373.94 1058.96 375.23 1060.88 376.5 1062.81 377.73 1064.73 378.91 1066.65 380.05 1068.58 381.13 1070.5 382.17 1072.43 383.18 1074.35 384.16 1076.28 385.1 1078.2 386.01 1080.13 386.89 1082.05 387.73 1083.98 388.53 1085.9 389.3 1087.83 390.04 1089.75 390.78 1091.68 391.51 1093.6 392.26 1095.53 393.04 1097.45 393.85 1099.38 394.68 1101.3 395.5 1103.23 396.29 1105.15 397.03 1107.07 397.7 1109 398.29 1110.92 398.84 1112.85 399.35 1114.77 399.83 1116.7 400.28 1118.62 400.72 1120.55 401.16 1122.47 401.58 1124.4 401.99 1126.32 402.38 1128.25 402.76 1130.17 403.14 1132.1 403.5 1134.02 403.86 1135.95 404.21 1137.87 404.56 1139.8 404.9 1141.72 405.24 1143.64 405.56 1145.57 405.88 1147.49 406.18 1149.42 406.47 1151.34 406.75 1153.27 407.03 1155.19 407.3 1157.12 407.55 1159.04 407.79 1160.97 408.01 1162.89 408.2 1164.82 408.38 1166.74 408.55 1168.67 408.72 1170.59 408.89 1172.52 409.04 1174.44 409.19 1176.37 409.33 1178.29 409.47 1180.22 409.6 1182.14 409.72 1184.06 409.84 1185.99 409.95 1187.91 410.05 1189.84 410.14 1191.76 410.23 1193.69 410.31 1195.61 410.4 1197.54 410.47 1199.46 410.55 1201.39 410.62 1203.31 410.69 1205.24 410.75 1207.16 410.82 1209.09 410.88 1211.01 410.94 1212.94 411 1214.86 411.05 1216.79 411.11 1218.71 411.16 1220.63 411.22 1222.56 411.27 1224.48 411.32 1226.41 411.37 1228.33 411.42 1230.26 411.47 1232.18 411.52 1234.11 411.57 1236.03 411.62 1237.96 411.66 1239.88 411.71 1241.81 411.75 1243.73 411.79 1245.66 411.84 1247.58 411.88 1249.51 411.91 1251.43 411.95 1253.36 411.99 1255.28 412.02 1257.21 412.05 1259.13 412.09 1261.05 412.12 1262.98 412.15 1264.9 412.17 1266.83 412.2 1268.75 412.23 1270.68 412.25 1272.6 412.28 1274.53 412.3 1276.45 412.32 1278.38 412.34 1280.3 412.35 1282.23 412.37 1284.15 412.38 1286.08 412.4 1288 412.41 1289.93 412.42 1291.85 412.43 1293.78 412.44 1295.7 412.45" stroke="#000" stroke-width="2" stroke-linejoin="round" fill="none"/>
<defs><linearGradient id="g1L" gradientUnits="userSpaceOnUse" x1="728" y1="0" x2="736" y2="0"><stop offset="0" stop-color="#595959"/><stop offset="1" stop-color="#595959" stop-opacity="0"/></linearGradient><linearGradient id="g1R" gradientUnits="userSpaceOnUse" x1="1258" y1="0" x2="1268" y2="0"><stop offset="0" stop-color="#595959" stop-opacity="0"/><stop offset="1" stop-color="#595959"/></linearGradient></defs>
<path d="M720.2 412.25H736" stroke="url(#g1L)" stroke-width="2.9" fill="none"/>
<path d="M1258 412.25H1295.7" stroke="url(#g1R)" stroke-width="2.9" fill="none"/>
<path d="M770.7 411.8H775.4M777.5 411.8H780.1M781.1 411.8H784.3M785.3 411.8H786.4M787.4 411.8H791.6M793.9 411.8H798.3M800.4 411.8H1153.5M1155.5 411.8H1158.8M1160.2 411.8H1162.9M1168.9 411.8H1173.6M1174.9 411.8H1177.6M1179 411.8H1180.3M1181.6 411.8H1183M1187.6 411.8H1189.7M1191 411.8H1195M1206.4 411.8H1209" stroke="#000" stroke-width="4" fill="none"/>
<path d="M738 412.45v-1.3M748.5 412.45v-1.3M756.5 412.45v-1.3M760.7 412.45v-1.3M1165.5 412.45v-1.3M1216.5 412.45v-1.3M1223.7 412.45v-1.3M1255.4 412.45v-1.3M1263 412.45v-1.3" stroke="#000" stroke-width="2" stroke-linecap="round" fill="none"/>
<rect x="697.2" y="303.4" width="621.5" height="113.25" fill="none" stroke="#000" stroke-width="2" stroke-linejoin="round"/>
<path d="M697.2 412.45H720.2M1295.7 412.45H1318.7" stroke="#bebebe" stroke-opacity="0.55" stroke-width="1" fill="none"/>
<g transform="translate(48.315 0) scale(0.115 0.25)" fill="none" stroke-width="2" stroke-linecap="round" stroke-linejoin="round">
<path vector-effect="non-scaling-stroke" stroke="#000000" d="M0 2381l1-2 1 43 1 104 1 18 1-89 1-8 1-33 1 21 1 7 1 27 1-47 1-90 1 34 1 49 1-49 1-38 1 84 1-20 1 28 1 4 1-70 1 20 1-25 1 23 1 19 1-58 1 55 1 37 1 38 1-67 1-28 1 46 1-26 1-49 1 95 1-60 1 63 1 0 1 1 1-33 1-36 1 96 1-100 1 46 1 3 1 71 1-33 1-111 1 46 1 10 1 11 1-23 1 51 1 3 1-32 1-63 1 122 1-102 1 111 1-81 1-21 1 72 1 65 1-113 1 43 1-118 1-27 1 60 1 63 1-103 1 48 1 8 1 14 1 53 1-110 1-4 1 142 1 56 1-49 1-69 1-47 1 25 1-11 1-27 1 45 1-60 1 15 1 48 1 1 1 60 1 7 1-68 1 52 1-12 1-64 1-38 1 44 1-35 1 100 1-39 1-49 1-96 1 144 1-23 1 24 1 5 1-7 1-42 1 23 1 27 1-56 1 59 1 46 1-93 1-29 1 52 1-61 1 169 1 31 1-98 1 63 1 13 1-105 1 37 1-70 1 21 1 82 1 75 1-43 1-98 1 41 1 61 1-37 1-85 1-7 1-31 1 15 1 76 1-37 1-24 1 43 1-24 1-16 1-32 1 75 1-66 1 21 1 8 1 89 1 5 1-1 1-77 1 14 1 112 1-187 1 74 1-32 1 27 1-10 1 58 1-86 1-74 1 132 1-96 1-30 1 130 1-59 1-35 1-55 1 80 1-24 1 41 1-24 1 50 1-50 1 20 1 2 1-65 1 14 1 102 1 8 1-62 1-28 1 27 1 70 1 27 1-69 1 52 1 20 1-81 1-49 1 100 1-10 1-49 1 4 1 75 1 7 1-81 1 84 1-137 1 74 1-82 1 60 1 2 1 81 1-2 1-64 1 4 1 70 1-118 1 36 1-5 1 10 1 46 1-12 1 39 1-59 1-81 1 63 1 18 1 8 1-33 1 18 1-59 1 79 1-30 1-16 1 25 1-94 1 150 1 45 1 12 1-65 1-16 1 64 1-114 1-68 1 84 1 59 1-111 1 70 1-14 1-20 1 53 1-23 1-13 1 11 1-68 1 52 1 23 1 35 1-52 1-39 1-24 1 52 1-17 1 22 1-9 1-10 1-70 1 127 1-41 1-63 1 9 1 93 1-68 1 97 1-33 1-100 1 151 1-1 1-37 1-25 1-1 1 29 1-78 1 96 1 5 1-87 1 4 1 8 1 73 1-84 1 69 1 42 1-154 1 138 1-32 1-82 1-39 1 124 1-33 1 73 1-47 1 15 1-82 1 28 1 9 1-43 1 57 1-52 1 96 1-58 1 47 1-41 1 12 1-127 1-108 1 142 1 10 1 49 1 48 1-18 1-82 1 93 1-10 1-35 1-4 1 22 1 26 1 4 1-25 1 1 1-20 1-43 1 59 1 32 1-107 1-9 1-23 1 90 1 73 1-120 1 47 1 32 1 22 1-35 1-105 1 105 1-101 1 98 1 27 1 4 1 3 1-15 1 49 1-102 1 5 1 86 1-56 1-42 1 6 1 9 1-38 1-30 1 15 1 12 1 75 1-5 1-12 1-17 1-43 1 72 1-116 1 169 1-146 1 41 1-4 1-84 1 26 1 128 1-99 1 30 1 138 1-86 1 89 1-198 1 22 1 83 1-10 1 30 1 28 1-86 1 60 1 7 1 6 1-4 1 18 1-69 1 69 1-52 1-12 1 17 1-28 1-92 1 194 1-102 1 20 1 33 1 37 1-34 1-52 1 17 1-93 1 104 1 30 1-35 1-21 1-8 1-30 1 51 1 62 1-44 1 64 1-165 1 73 1 80 1-45 1-29 1-94 1 88 1 54 1-78 1-39 1 40 1-5 1 64 1-25 1 7 1-9 1 25 1-68 1-26 1 46 1-6 1 74 1-76 1 64 1-93 1-60 1 52 1 63 1 56 1 36 1-55 1-34 1 71 1-17 1-69 1 70 1-112 1 26 1-70 1 87 1 7 1-59 1 64 1 142 1-133 1-33 1 8 1 47 1-32 1 42 1-34 1 2 1-71 1 67 1-34 1 25 1-7 1 73 1 20 1-39 1 24 1-28 1-66 1 26 1 30 1 20 1-23 1-15 1 51 1-94 1 63 1 4 1-41 1-40 1 42 1-44 1 1 1-11 1 118 1-41 1 55 1-145 1 55 1-56 1 53 1 56 1-71 1 37 1-12 1-43 1-3 1-55 1 128 1-62 1 12 1 77 1-55 1-80 1 101 1-5 1 52 1-37 1 108 1-104 1-115 1 42 1 112 1 1 1-30 1 35 1-11 1-88 1-43 1 56 1-33 1-49 1 89 1-31 1-25 1 15 1 9 1 64 1 22 1-61 1 21 1-4 1 7 1-4 1-19 1-56 1-45 1 69 1 91 1-26 1 47 1-11 1 47 1-5 1-138 1-31 1 119 1 41 1-138 1 51 1 16 1-7 1 141 1 12 1-86 1-94 1 62 1-118 1 8 1 40 1 48 1-60 1 92 1-38 1 19 1 4 1 0 1 20 1-106 1 73 1-103 1-120 1 124 1 45 1-8 1 126 1 32 1-65 1-5 1-86 1 117 1-137 1-16 1 33 1-14 1-59 1 21 1-28 1 14 1 72 1 53 1 24 1-39 1-19 1-97 1 75 1 23 1 157 1-242 1 97 1 60 1-118 1-6 1-43 1 178 1-87 1 72 1-61 1 15 1 24 1-16 1-34 1-77 1 92 1 57 1-128 1 53 1 30 1 29 1-6 1-90 1 77 1-136 1 99 1 22 1 1 1-17 1-80 1 54 1-61 1 26 1-36 1 88 1 2 1 69 1 29 1 64 1-162 1 24 1 25 1 22 1-59 1 77 1-47 1 41 1-134 1 7 1 80 1 63 1-52 1 31 1-108 1 86 1-20 1-59 1 28 1-61 1-1 1 48 1 64 1-45 1 14 1-21 1-46 1 56 1 57 1-137 1-63 1 200 1 37 1 6 1-81 1 50 1-4 1 42 1-63 1 20 1-45 1 8 1-50 1 80 1 5 1 23 1-24 1 25 1-147 1 155 1-35 1-20 1-16 1-49 1 12 1 14 1 32 1 39 1-106 1-11 1 0 1 35 1 50 1-150 1-22 1 105 1-10 1-19 1 30 1-22 1 139 1-54 1-109 1 110 1-125 1 86 1 62 1-100 1 104 1-21 1-107 1 76 1-23 1 9 1 30 1-3 1-13 1-16 1 9 1 3 1-23 1 54 1-97 1 25 1-24 1 37 1 21 1-42 1 90 1-72 1-8 1 115 1-54 1 23 1 2 1-18 1-18 1 12 1 27 1-50 1-1 1 12 1 7 1-13 1 12 1 15 1-22 1-10 1 24 1-13 1-55 1-1 1 9 1 34 1 104 1-10 1-48 1 10 1-31 1-27 1 52 1-37 1 5 1 46 1-71 1-65 1-33 1 1 1 192 1-23 1-116 1 31 1-8 1 61 1-7 1 33 1-67 1-3 1-24 1 6 1 92 1-29 1-15 1-36 1-21 1 81 1-94 1 12 1 10 1 100 1-5 1-36 1 10 1 14 1 21 1-27 1 26 1-74 1-15 1 21 1-24 1 23 1 77 1 27 1-183 1 38 1 32 1-12 1 40 1 41 1-31 1-10 1-110 1 141 1 5 1-59 1-46 1-38 1 139 1-71 1 100 1-97 1 105 1-85 1-17 1 69 1-64 1 35 1 51 1-179 1-40 1 73 1 9 1 87 1-6 1-86 1 128 1-122 1-6 1 145 1 15 1 3 1-55 1 41 1-74 1 3 1-97 1-23 1 28 1 37 1 37 1-62 1 1 1 46 1-35 1 37 1 1 1 59 1-5 1 12 1-124 1 27 1 38 1-46 1 10 1-33 1 152 1-46 1 13 1-20 1-22 1-121 1 179 1 93 1-177 1-44 1 46 1 69 1-57 1 76 1-85 1 42 1-18 1-68 1 55 1-3 1-30 1 63 1-96 1 111 1-100 1 14 1 105 1 31 1-106 1 67 1 54 1-54 1 37 1-17 1 3 1-36 1 3 1 78 1-129 1 48 1-35 1 59 1-28 1-43 1-32 1-55 1 37 1 27 1 33 1 4 1 53 1-61 1 14 1-56 1 18 1 81 1-60 1-91 1 55 1 86 1-63 1 50 1 7 1-72 1 15 1 51 1-1 1-63 1 19 1-40 1 22 1-14 1-61 1-10 1 66 1 17 1 77 1-80 1-19 1 102 1-141 1 152 1-42 1-17 1 48 1 18 1-123 1 121 1-59 1-18 1-85 1 43 1 13 1-27 1-21 1 128 1-37 1-52 1 26 1 32 1 7 1 79 1-81 1 41 1-31 1-73 1 66 1-36 1-6 1-53 1 119 1 64 1-92 1 13 1-70 1 163 1-153 1 57 1 6 1-26 1-36 1-31 1-22 1 18 1 74 1-21 1 8 1 55 1-33 1-62 1-12 1 46 1 59 1 11 1-115 1 31 1-5 1 126 1 0 1 53 1-135 1-8 1 69 1-157 1 7 1 46 1-27 1 39 1-3 1 101 1 49 1-29 1-101 1-59 1 7 1-64 1 39 1 91 1 21 1-32 1 34 1 13 1 11 1-46 1-41 1 66 1-62 1 45 1 4 1-30 1-53 1 44 1 6 1 78 1-27 1-123 1-26 1 73 1 8 1 59 1-7 1 35 1-54 1 57 1-9 1-15 1-45 1-64 1 14 1 127 1-103 1 14 1-4 1 16 1-12 1-36 1 145 1-134 1 79 1 23 1-83 1-14 1 89 1-57 1 42 1 33 1 7 1-18 1 41 1-44 1-85 1-30 1 14 1 92 1-72 1 92 1-1 1 10 1-72 1 13 1 42 1-71 1-27 1 41 1-49 1-150 1 211 1 60 1-41 1-30 1-46 1-7 1-45 1 33 1 106 1-27 1 40 1-91 1 20 1 42 1 41 1-48 1 12 1-21 1-75 1 99 1-50 1 16 1 23 1 6 1-45 1 74 1 17 1-114 1 14 1-51 1 43 1 10 1 24 1 101 1-63 1-9 1-31 1 92 1 7 1-6 1-84 1-22 1 185 1-166 1-26 1-15 1-19 1 106 1-93 1 113 1-81 1 3 1-4 1 2 1 57 1-76 1-28 1 8 1-3 1 84 1-12 1 20 1-57 1 57 1-43 1 3 1 55 1-84 1 46 1 35 1 78 1-60 1-78 1 30 1 62 1-6 1 35 1-55 1-32 1 66 1-49 1 26 1-33 1-14 1 29 1-66 1 83 1-7 1 42 1-101 1-14 1 32 1 84 1-87 1 19 1 33 1-18 1 44 1-37 1 41 1-53 1-119 1 79 1 17 1 6 1-48 1-48 1 93 1-97 1 26 1 37 1 3 1 81 1-140 1-66 1 124 1 76 1-76 1-65 1-41 1 84 1-54 1 70 1-30 1-25 1 91 1-28 1-1 1-1 1 121 1-92 1-1 1 50 1 27 1-74 1-85 1 68 1-15 1 4 1-69 1 51 1 39 1-42 1 27 1 20 1 14 1 20 1 27 1-54 1-2 1 47 1-95 1-30 1 49 1 78 1-55 1-120 1 71 1 10 1-40 1 114 1-7 1-15 1-97 1-35 1 58 1 2 1 30 1 22 1-103 1 100 1 91 1-43 1-52 1 12 1-54 1 27 1-10 1 31 1 15 1-74 1 9 1 10 1 57 1-85 1 25 1 31 1 59 1-36 1-56 1-47 1-13 1 107 1-6 1 78 1-139 1 63 1-19 1-72 1 67 1 72 1 43 1-67 1 1 1 53 1 20 1-58 1-1 1-12 1-3 1-12 1 32 1-125 1 150 1-20 1-18 1 49 1-75 1-74 1 138 1 49 1-111 1-12 1-9 1 65 1 25 1 17 1-128 1-33 1 59 1 41 1-17 1-17 1-81 1 68 1-65 1-1 1 64 1 54 1-89 1 14 1 4 1 24 1-51 1 23 1-20 1 59 1 25 1 59 1 63 1-82 1-35 1-90 1 179 1-120 1 9 1 80 1-23 1-68 1-14 1-50 1 80 1 28 1-26 1-100 1 64 1-52 1 59 1-36 1 0 1 61 1-20 1-22 1 32 1-49 1 132 1-80 1 42 1-48 1 45 1-17 1-78 1 75 1-129 1 20 1 67 1-32 1 57 1-33 1 62 1 9 1-3 1 17 1-89 1 40 1-28 1 50 1-40 1 10 1 26 1-68 1-25 1 82 1 38 1-64 1 77 1-6 1-45 1-4 1-38 1-32 1 81 1-59 1 51 1 14 1 88 1-104 1 57 1-11 1-62 1-51 1 55 1-18 1 100 1-132 1-35 1-29 1 30 1 133 1 19 1-68 1 39 1-90 1-15 1 31 1 14 1 54 1-63 1-49 1 91 1-16 1 96 1-110 1 39 1 14 1-25 1-82 1 33 1 29 1 45 1-10 1-80 1 7 1-10 1 31 1 28 1-20 1 23 1 23 1 27 1 3 1-167 1 154 1 46 1-91 1-40 1 86 1-39 1-19 1-29 1-95 1 203 1 125 1-242 1 44 1-30 1-2 1 99 1-61 1 97 1-17 1-50 1 3 1-36 1-108 1-8 1 8 1 62 1 63 1-131 1 154 1-118 1 8 1-38 1-40 1 77 1 72 1 50 1 3 1-4 1-50 1 26 1 14 1-76 1 60 1-66 1 17 1-23 1-20 1-8 1 31 1 37 1 64 1-26 1 40 1-33 1-117 1-45 1 69 1 110 1-31 1-61 1-62 1 77 1-84 1 22 1 93 1-25 1 131 1-118 1 25 1-98 1 100 1-44 1-36 1-47 1 65 1 1 1 33 1-1 1 54 1 2 1-44 1-21 1 15 1-88 1 7 1 10 1 95 1-60 1 3 1 10 1-49 1 114 1-86 1 79 1-60 1 78 1-23 1-5 1-50 1-10 1 38 1 48 1 6 1-10 1-133 1-84 1 90 1 202 1-50 1-18 1-100 1 54 1-23 1-43 1 2 1 64 1-86 1 149 1-39 1-44 1-41 1-86 1 119 1-96 1 48 1-7 1-2 1 91 1-58 1 96 1-25 1 31 1-14 1-17 1-70 1 10 1 14 1-11 1-12 1 31 1-32 1 7 1-4 1 47 1-95 1 66 1 64 1-27 1 29 1 30 1-29 1 36 1-90 1 10 1 12 1-40 1-17 1 103 1 10 1-53 1 5 1-33 1-73 1 5 1 55 1 66 1 11 1-11 1 9 1-71 1 37 1-21 1 65 1-60 1 18 1-63 1 89 1-45 1 60 1-85 1-58 1 29 1 109 1-94 1 10 1-20 1-96 1 189 1 55 1 2 1-37 1-11 1-48 1-15 1-34 1 17 1 106 1-20 1-101 1 86 1 19 1-52 1-14 1-67 1 62 1-71 1-6 1 65 1-44 1 89 1-80 1 38 1 24 1-37 1-42 1-12 1 93 1-34 1-56 1 40 1 61 1-4 1 73 1-70 1 21 1-31 1 58 1-98 1 19 1 67 1-73 1 17 1 27 1-19 1-62 1 36 1 22 1 12 1-86 1 14 1 100 1-84 1-15 1 11 1-11 1 10 1 64 1-27 1 68 1-68 1 37 1-59 1-17 1 125 1-108 1 15 1-53 1 51 1-16 1 49 1-28 1 36 1 26 1-83 1-62 1 79 1-49 1 114 1 20 1-77 1-20 1-17 1-25 1 37 1-13 1 121 1-43 1-37 1 47 1-1 1-17 1-2 1-60 1 13 1-48 1 116 1-41 1-1 1-50 1 86 1 29 1-62 1-86 1 76 1-44 1-44 1 12 1 1 1 14 1 17 1 44 1-32 1 29 1 50 1-48 1 14 1-11 1 18 1-42 1-72 1 85 1 47 1-46 1 14 1 37 1-16 1 35 1-21 1-27 1-7 1-107 1 84 1-34 1 24 1 17 1-83 1 101 1 15 1-101 1 11 1 102 1-63 1 33 1-15 1-69 1 80 1-69 1 115 1-55 1-10 1 28 1-24 1 28 1-26 1 34 1-13 1-120 1 91 1 41 1-26 1 62 1-84 1 7 1 5 1-1 1 95 1-120 1 59 1 14 1-97 1-62 1 100 1-67 1 79 1 27 1-73 1 57 1 25 1 43 1-50 1-40 1 86 1-35 1-43 1-1 1 54 1-17 1-22 1 87 1-49 1-57 1-10 1-50 1-4 1 54 1 151 1-65 1-14 1-4 1 33 1-135 1 110 1-73 1 49 1-32 1-24 1 30 1 67 1-46 1 73 1-51 1-11 1 45 1-21 1-35 1-21 1 57 1-103 1-15 1 5 1 145 1-55 1 27 1-23 1-58 1-17 1 34 1 90 1-67 1-47 1-15 1 107 1-76 1 20 1-3 1-61 1 38 1 84 1-32 1-26 1 0 1-6 1 7 1 53 1-96 1 24 1-23 1 32 1 107 1-133 1 79 1-26 1 3 1-104 1 56 1-7 1 32 1 37 1 40 1-65 1-66 1 31 1 63 1-81 1 107 1-100 1 7 1-17 1 32 1 31 1 58 1-40 1-108 1-68 1 42 1 164 1-63 1-75 1 49 1 11 1-54 1-1 1 52 1-78 1 158 1-65 1-52 1-19 1 55 1-59 1 4 1 98 1 30 1-26 1-6 1 3 1-64 1 103 1-158 1 38 1 13 1 53 1-9 1-50 1 11 1 39 1 23 1-40 1-37 1 14 1 51 1-37 1 19 1-12 1 28 1-89 1 80 1 15 1 1 1 42 1-125 1 77 1 93 1-174 1-87 1 44 1 28 1 52 1 14 1 5 1-18 1 52 1 55 1 22 1-184 1 79 1 20 1 17 1-67 1 36 1 51 1-196 1 157 1-137 1 29 1 51 1-11 1 71 1 6 1 22 1-107 1 92 1-66 1 71 1 6 1-75 1-51 1 88 1-32 1-4 1 8 1-28 1 109 1-1 1 7 1-135 1 170 1 5 1-143 1-55 1-22 1 112 1 49 1 3 1 33 1-63 1-43 1 32 1 5 1 25 1-30 1 72 1-134 1 21 1 10 1 6 1 26 1-3 1 53 1-65 1-63 1-23 1 28 1-48 1 66 1 69 1-116 1 31 1-6 1 100 1-88 1 87 1 56 1-10 1-12 1 28 1-6 1-144 1 29 1 13 1 27 1-36 1-52 1-46 1 150 1 37 1 55 1-48 1-84 1 22 1 49 1-71 1-16 1 42 1-49 1-32 1 43 1 21 1 66 1-11 1-83 1 67 1-5 1-80 1 12 1 100 1-91 1-41 1 91 1 0 1-6 1 32 1-67 1 64 1 24 1-60 1 61 1-32 1 42 1-85 1-27 1-87 1 100 1-18 1-2 1-10 1 50 1-4 1 96 1 51 1-178 1-50 1 76 1-46 1 21 1-19 1 58 1 22 1-36 1-15 1-23 1 141 1-4 1-55 1-31 1 27 1 53 1-163 1 26 1-19 1-61 1 73 1 10 1-7 1 11 1-61 1 53 1 114 1-128 1 69 1 56 1-14 1-75 1 15 1-7 1-14 1 112 1-57 1-12 1 7 1 19 1-72 1 29 1 100 1-51 1 30 1 4 1-78 1 2 1-49 1-36 1 70 1-60 1 57 1 2 1 45 1-6 1-89 1 70 1 27 1 53 1-54 1-75 1 131 1-58 1-29 1 43 1 21 1-37 1-17 1-103 1 46 1 40 1-10 1 77 1-140 1 48 1 57 1 21 1-118 1 141 1-137 1 12 1 8 1 78 1-57 1 100 1 5 1-70 1-1 1 5 1 28 1-4 1 18 1 12 1 1 1-77 1-23 1 98 1-97 1-14 1 54 1 70 1 20 1-59 1-73 1-27 1 165 1-56 1-31 1 65 1-65 1-37 1-24 1 42 1-16 1-50 1 89 1 61 1-95 1-30 1 20 1 67 1-31 1-2 1 75 1 2 1 10 1-22 1-76 1-8 1-16 1 69 1-43 1-73 1 86 1-62 1 0 1 90 1-6 1 3 1-12 1 51 1-38 1-29 1-129 1 148 1 59 1-95 1 1 1 50 1 16 1-15 1-10 1-57 1 69 1 40 1 23 1-7 1-51 1-100 1-30 1 6 1 87 1-50 1-44 1 90 1-33 1 27 1 10 1-72 1 72 1 3 1 4 1-67 1 23 1 96 1-67 1-56 1 52 1 8 1 48 1 20 1 26 1 22 1-36 1-124 1 4 1 38 1-12 1 18 1-43 1 39 1-22 1 121 1-113 1-1 1-62 1 99 1-28 1 5 1-88 1 5 1-8 1 29 1 38 1-56 1 108 1 43 1-51 1-22 1 36 1 29 1-73 1 87 1-40 1 60 1-34 1 0 1-80 1 116 1-5 1-50 1-24 1-13 1 17 1-3 1-98 1 3 1 55 1 0 1-2 1 21 1-13 1-20 1 5 1 107 1-25 1-45 1 6 1-82 1 60 1-59 1 42 1-16 1-12 1 45 1 28 1 28 1-48 1 74 1-53 1 24 1-51 1-5 1-1 1-65 1 29 1 8 1 7 1-73 1 40 1 23 1 95 1 12 1-22 1-55 1 8 1-50 1 31 1-61 1-35 1 61 1-55 1 89 1-2 1 66 1-48 1-10 1-70 1 68 1 40 1-14 1-19 1 98 1-13 1-137 1 74 1-90 1-1 1-42 1-11 1 60 1 17 1 61 1 31 1 7 1 13 1-42 1-4 1-52 1-26 1-34 1 24 1 42 1 46 1-63 1 11 1 102 1-80 1 15 1 60 1-55 1 21 1 2 1 54 1-43 1-40 1-20 1 36 1 7 1 20 1 32 1-24 1-26 1 16 1-16 1 86 1-82 1-126 1 107 1 105 1-26 1-20 1-4 1-126 1-1 1 72 1 31 1-13 1-29 1-11 1 43 1-87 1 9 1 52 1 7 1-151 1 202 1-50 1-71 1 41 1 29 1 6 1-98 1 54 1-20 1 30 1 36 1-62 1 75 1 68 1-26 1-46 1 12 1-29 1-60 1 14 1 69 1-28 1 2 1-68 1 79 1-91 1 35 1-10 1 79 1-19 1-87 1 83 1-21 1-32 1 37 1-94 1-4 1 99 1 113 1-133 1 4 1 25 1-87 1 79 1 15 1 6 1 56 1-32 1-32 1-71 1 106 1-7 1 67 1-5 1-141 1 1 1 14 1-87 1-50 1 23 1 199 1-61 1 73 1 31 1-60 1-16 1 52 1-91 1-42 1 56 1-49 1 21 1-39 1 74 1-31 1 47 1-58 1 118 1-43 1-25 1-34 1 93 1-20 1-54 1-58 1 119 1-38 1-73 1 50 1 70 1 55 1-59 1-112 1 21 1 57 1 39 1-40 1 33 1-53 1-62 1 9 1 29 1 24 1 0 1 62 1 33 1-46 1-4 1 6 1-65 1-32 1 29 1 59 1-36 1 40 1-84 1-45 1 22 1 51 1 80 1-99 1 42 1 45 1 13 1-57 1-27 1 20 1 28 1-32 1-2 1 50 1 15 1-55 1-34 1 44 1-78 1-16 1 26 1 13 1 7 1 25 1-197 1-11 1 112 1 20 1 92 1 21 1 83 1-165 1-3 1-26 1 87 1-92 1 38 1 28 1 40 1-94 1 60 1-91 1 69 1 56 1-35 1-34 1 1 1 29 1 35 1 1 1-41 1-4 1 27 1-53 1 123 1-44 1-46 1 33 1 41 1-123 1-45 1 196 1-24 1-94 1 6 1-48 1-12 1 73 1 49 1-32 1 16 1-11 1-24 1-18 1 36 1-26 1 32 1 40 1-28 1-50 1-14 1 88 1 75 1-121 1 50 1 22 1-93 1 44 1-88 1 136 1-99 1-97 1 135 1 7 1-45 1 23 1-42 1-18 1 63 1 23 1-112 1 70 1 88 1-109 1-23 1 40 1-83 1 72 1 29 1 56 1-61 1 38 1-103 1 121 1 39 1-13 1-95 1 30 1-10 1 53 1 53 1-21 1-135 1-25 1 73 1 65 1 16 1-95 1 59 1-16 1-25 1 86 1 12 1-96 1-48 1 43 1-6 1-9 1 38 1 71 1-121 1 2 1 29 1 11 1-4 1-46 1 70 1-51 1 14 1-42 1-29 1 43 1 9 1 4 1 40 1 35 1-129 1 114 1-1 1 70 1-10 1 30 1-84 1-73 1 26 1 72 1-64 1-49 1 16 1 38 1 53 1-22 1 34 1-15 1-105 1 46 1 31 1-78 1 9 1 69 1-10 1-47 1-27 1 104 1-17 1-86 1-45 1 109 1-56 1 65 1 31 1 10 1-41 1-25 1 42 1-40 1 8 1 28 1 35 1-47 1-4 1-64 1 21 1-47 1 47 1 3 1-24 1 17 1-73 1 94 1 42 1-70 1 107 1-97 1 18 1-28 1 22 1 0 1 16 1-46 1 40 1 25 1 14 1-17 1 65 1-49 1-1 1 26 1 18 1-138 1 2 1 28 1 6 1 30 1 69 1-156 1 25 1 120 1-57 1 37 1-10 1-2 1 46 1-30 1-105 1 21 1 61 1-50 1-49 1 130 1-13 1 40 1-82 1-31 1 60 1 8 1 27 1-21 1 14 1-33 1 38 1-44 1 75 1-19 1 42 1-62 1-16 1-33 1 62 1-84 1 40 1 80 1-100 1-3 1-34 1 47 1-26 1 80 1-48 1 15 1-9 1 24 1-16 1 6 1-58 1 88 1-69 1 71 1-141 1 57 1 25 1-27 1 9 1-23 1-40 1 42 1-48 1 81 1-19 1-61 1 100 1 41 1-99 1-85 1 147 1-23 1 17 1 33 1-25 1-105 1 11 1-10 1-1 1 153 1-76 1-74 1 8 1 10 1-49 1 122 1 80 1-117 1-22 1-3 1-79 1-33 1 62 1 21 1 14 1 108 1-31 1-121 1 70 1 13 1 46 1-1 1-20 1-22 1 60 1-16 1 35 1 102 1-103 1-99 1 76 1-98 1 49 1-41 1 37 1 11 1 53 1-83 1 38 1 55 1 13 1-6 1-4 1-88 1 96 1-86 1-53 1 147 1-20 1-13 1-42 1-50 1 156 1-40 1-9 1-108 1 32 1-19 1 6 1-33 1 9 1 65 1-48 1-38 1 66 1-36 1 23 1 40 1-58 1-11 1-33 1 78 1 53 1-38 1-68 1-25 1 52 1 39 1 0 1-20 1-67 1 140 1-26 1-120 1 11 1 19 1-80 1 27 1 43 1 100 1-111 1 23 1-7 1 60 1-22 1-60 1 80 1-14 1-23 1-45 1 34 1 34 1 39 1-33 1 92 1-34 1-75 1 27 1 22 1 57 1-24 1 36 1-64 1 51 1-138 1 64 1 13 1-5 1 13 1-46 1 16 1 13 1 71 1-73 1-122 1 149 1-47 1 30 1 17 1-110 1 44 1 61 1 17 1-72 1 29 1-9 1-66 1 81 1-14 1-1 1-17 1-74 1 68 1-64 1 40 1 40 1 43 1-5 1-13 1 30 1 22 1-13 1-31 1-68 1 88 1-16 1-3 1-37 1 58 1-73 1 14 1 0 1-44 1 48 1 26 1-5 1 39 1-20 1-88 1 140 1-12 1-5 1-61 1-33 1-28 1 78 1-12 1-81 1 64 1-20 1 15 1-30 1-58 1 108 1-101 1-38 1 127 1 25 1 23 1-8 1-28 1 5 1-51 1 34 1 53 1-23 1 26 1-13 1-4 1-2 1-7 1-50 1-6 1 43 1-49 1 63 1-15 1-55 1 25 1 5 1 13 1 59 1-28 1-11 1 96 1-19 1-114 1-21 1 7 1 6 1 1 1 0 1-10 1-40 1-60 1 238 1-24 1-38 1-72 1 36 1 39 1 6 1-20 1-90 1 38 1 40 1-59 1 8 1-64 1 48 1 65 1-46 1 49 1 34 1-67 1 93 1-108 1 9 1-28 1 9 1 0 1 16 1 22 1 33 1-22 1 68 1-61 1-121 1 38 1 89 1-80 1 135 1-147 1 77 1-55 1 111 1-20 1 18 1-38 1 19 1-111 1 21 1-2 1-72 1 81 1-35 1 119 1-8 1-4 1 12 1-56 1-19 1 108 1-134 1-70 1 17 1 138 1-13 1 31 1 58 1 24 1-124 1 52 1 6 1-27 1-1 1-62 1-1 1 43 1 26 1 37 1-10 1-88 1 47 1 57 1-105 1-53 1-1 1 41 1-24 1 61 1 76 1-16 1-100 1-27 1 15 1 60 1 5 1-126 1-3 1 109 1 15 1-44 1 1 1 83 1-50 1 37 1-44 1 15 1-32 1 25 1-27 1-26 1 4 1-31 1 72 1 3 1 69 1-87 1 66 1 27 1-40 1 35 1 24 1-47 1-110 1 69 1-114 1 79 1-66 1-44 1 99 1 113 1-47 1 1 1-36 1-22 1 3 1 13 1 55 1 38 1-67 1-46 1 129 1-48 1 0 1 35 1-60 1-60 1 53 1-18 1-98 1 5 1 41 1 129 1-4 1-131 1-93 1 155 1-88 1 46 1 63 1-17 1 5 1-44 1 96 1-60 1 40 1-37 1 4 1-7 1-13 1 90 1-15 1 6 1-64 1 30 1-35 1 37 1-14 1 17 1-80 1-22 1 55 1 56 1-27 1-20 1 1 1-54 1-21 1 70 1-33 1 4 1-40 1 129 1-39 1 35 1 18 1-42 1-39 1-19 1 16 1-44 1 36 1 5 1 85 1-84 1 18 1 49 1 68 1-125 1 28 1-7 1 9 1 26 1-14 1 8 1-55 1 52 1-29 1-4 1-8 1 97 1-26 1 2 1-60 1-65 1-1 1-12 1 103 1-48 1 122 1-107 1 22 1-92 1 33 1 45 1 82 1-36 1-97 1 0 1-6 1-11 1 59 1 51 1 2 1-12 1-54 1 47 1-74 1-40 1 36 1-115 1 172 1 6 1 4 1 80 1-60 1-71 1 22 1-77 1-9 1 82 1 40 1-31 1 70 1-60 1 5 1-62 1-26 1 52 1 92 1 33 1 19 1-87 1 19 1-38 1 20 1 11 1-25 1-91 1 35 1 0 1 38 1 12 1-36 1-51 1 162 1-10 1-39 1-40 1 83 1 36 1-64 1-86 1 44 1-21 1-22 1 22 1 18 1-22 1 113 1-25 1-27 1-75 1-33 1-9 1 132 1-81 1-34 1-43 1 97 1-12 1 16 1-41 1 80 1-29 1-10 1-23 1 5 1-40 1 57 1 27 1-1 1 40 1-45 1-60 1 18 1 44 1-141 1-24 1 69 1 72 1-32 1-3 1-14 1 72 1 8 1-11 1-15 1-94 1 117 1 12 1 1 1 0 1-17 1-27 1 5 1 46 1-90 1-70 1 104 1 81 1 13 1 13 1-161 1 143 1-61 1-29 1 45 1-112 1 187 1-51 1 84 1-163 1-35 1 39 1-65 1 54 1 115 1-99 1 23 1 39 1-105 1 84 1-101 1 60 1-14 1-1 1-63 1 27 1 16 1 19 1 40 1-53 1 57 1 3 1-113 1 25 1-17 1-36 1-61 1 110 1 102 1-60 1-67 1 240 1-141 1-8 1-78 1 76 1 50 1-19 1 5 1-63 1-74 1 12 1-1 1 54 1 25 1 120 1-69 1-103 1 104 1-31 1-43 1 88 1-6 1-20 1 22 1-65 1-72 1 79 1 5 1-41 1 28 1-7 1 33 1-14 1 59 1 6 1 1 1-74 1 27 1 47 1-29 1-40 1 22 1 62 1-7 1 50 1-152 1-5 1 12 1 42 1 45 1 16 1-24 1-80 1-32 1-21 1 104 1-85 1-30 1 72 1 46 1 49 1 12 1-88 1 8 1-2 1 11 1-54 1-76 1 9 1 61 1 79 1-24 1-40 1-40 1-20 1 60 1 86 1-62 1 75 1-108 1 43 1-35 1 102 1-101 1-38 1 9 1-36 1 54 1 19 1-55 1 30 1 18 1 33 1-13 1-9 1-82 1 21 1 31 1-36 1 43 1 37 1 3 1 24 1 13 1-31 1 16 1-81 1 51 1-37 1 25 1-28 1-8 1-7 1 13 1 0 1-16 1 171 1 33 1-51 1-36 1-61 1-13 1 5 1-82 1 131 1-52 1 32 1 10 1-5 1 47 1-76 1 43 1 11 1 57 1-118 1-41 1 86 1 56 1-76 1 53 1-65 1-13 1 77 1 49 1 86 1-224 1 90 1 50 1-88 1-13 1 4 1 89 1-108 1 46 1-139 1 57 1-71 1-45 1 123 1 60 1-29 1-110 1 73 1 8 1 15 1-37 1 38 1-3 1 18 1-2 1-7 1-6 1-16 1 37 1-31 1-43 1 82 1 5 1-40 1 64 1 16 1-66 1 45 1-13 1 19 1-101 1 27 1 78 1-79 1 48 1-40 1 23 1 4 1 66 1-59 1 49 1-20 1 24 1-11 1 28 1-165 1 0 1 70 1-28 1 22 1 46 1 46 1-38 1 65 1-60 1-29 1-2 1-29 1 57 1-114 1 119 1-84 1 73 1-22 1-11 1 31 1 33 1-34 1 14 1-79 1-40 1 3 1 4 1 143 1-66 1 43 1 37 1-65 1-45 1 90 1-69 1 79 1-36 1-109 1-47 1 176 1 12 1-37 1-26 1-4 1-30 1 13 1-47 1-30 1 50 1-51 1 99 1-72 1 22 1-6 1 60 1-5 1 78 1 19 1-70 1-17 1 21 1-103 1 57 1 4 1 3 1-125 1 88 1-59 1-6 1 19 1 67 1 11 1 1 1-20 1 14 1 53 1-106 1-2 1 8 1-43 1 90 1 37 1-50 1 55 1-72 1-75 1 7 1 43 1 79 1-10 1-53 1 16 1 66 1-3 1-21 1 51 1-60 1 46 1-87 1-40 1 66 1 63 1-135 1 2 1 62 1 74 1-57 1 5 1-14 1-67 1 14 1 143 1 10 1-91 1-120 1 59 1-19 1 65 1 14 1-18 1-55 1 59 1 42 1 19 1-24 1 34 1-39 1-22 1-93 1 5 1 58 1 38 1-60 1 48 1 12 1-9 1-73 1 8 1 47 1 45 1-27 1 72 1-46 1 3 1-3 1 7 1-49 1 34 1-29 1 13 1-73 1 86 1-20 1-108 1 123 1-4 1 30 1 45 1-99 1 37 1-21 1-40 1 77 1 15 1-110 1 6 1 29 1-25 1 57 1-46 1-32 1 137 1-72 1 39 1-10 1-92 1 2 1 159 1-65 1 87 1-115 1-46 1 16 1 57 1 9 1-91 1 45 1 85 1-33 1 54 1-124 1 61 1 15 1-18 1-94 1 89 1-16 1-16 1-7 1 46 1-49 1-51 1 33 1 60 1-92 1-9 1 109 1-21 1 49 1-42 1-104 1 102 1 108 1-153 1 51 1-48 1 39 1 25 1 8 1 64 1-50 1-6 1-46 1 71 1 0 1-3 1-78 1 83 1-12 1 0 1-11 1-90 1 40 1-38 1 69 1-24 1-65 1-1 1 53 1-4 1 36 1 26 1-115 1 12 1 6 1-29 1 101 1 52 1 9 1-55 1-68 1 81 1-71 1 20 1 11 1-38 1 36 1-39 1 54 1 14 1-58 1-24 1 17 1 23 1-14 1 42 1 13 1-32 1-1 1-13 1-43 1 69 1 104 1-28 1 49 1-103 1-71 1-24 1 52 1 4 1 63 1-42 1-90 1-8 1 25 1 104 1 42 1 3 1-71 1-77 1-8 1 56 1-39 1 1 1 33 1-66 1 19 1-37 1 217 1 41 1-42 1-11 1-12 1-79 1 45 1-44 1-99 1-53 1 68 1 52 1 54 1 52 1-37 1-46 1-84 1 44 1 19 1 12 1 38 1-6 1-36 1-62 1 18 1 89 1-102 1 56 1 56 1-78 1 117 1-77 1-20 1 60 1-24 1 52 1-80 1 10 1 4 1 2 1-51 1 24 1-96 1 104 1-4 1-27 1 105 1-6 1-48 1 19 1-100 1 36 1 98 1-42 1 1 1-57 1 75 1 7 1-20 1 2 1-130 1 205 1 16 1-127 1-17 1 97 1-60 1-20 1 10 1-54 1 6 1 135 1-109 1 75 1-71 1-1 1-60 1 112 1-121 1 52 1 117 1-66 1 1 1-34 1-32 1 29 1 21 1-10 1 43 1 32 1-68 1 32 1-88 1 69 1 6 1-66 1-24 1-56 1 65 1-18 1 86 1-18 1 4 1 15 1-124 1-33 1 230 1 50 1-82 1-110 1-19 1 4 1 85 1 51 1-70 1-40 1 0 1 7 1 5 1 52 1-7 1 14 1-79 1 52 1 0 1 3 1-27 1 25 1 36 1-80 1 54 1 81 1-126 1 22 1 19 1-10 1-49 1 143 1-105 1 36 1 40 1-59 1-42 1 122 1-39 1-36 1-58 1-10 1 54 1-36 1 2 1 53 1-28 1-9 1 7 1-72 1 75 1 34 1-9 1-46 1 1 1 43 1-55 1-3 1 52 1 100 1-104 1-9 1 23 1-42 1 16 1-47 1 17 1 44 1 34 1-111 1-9 1 72 1 96 1-2 1 7 1 9 1-65 1 24 1 39 1-83 1 7 1 2 1-108 1 43 1 40 1 76 1 51 1-56 1-120 1 76 1-83 1 53 1 5 1 0 1-41 1-1 1 40 1 14 1-63 1 2 1 125 1-43 1-30 1-48 1 15 1 35 1-39 1 61 1 20 1-13 1-14 1 8 1-58 1-56 1 9 1 49 1 155 1-140 1 38 1-34 1 11 1-92 1 80 1 45 1-44 1 3 1 45 1-6 1-35 1 11 1 13 1-61 1 2 1 80 1-40 1-71 1 62 1 51 1-44 1-54 1 33 1 43 1 77 1-44 1 20 1 11 1-48 1-1 1-92 1 126 1-47 1-91 1-27 1 92 1-3 1 64 1-113 1-14 1 27 1-11 1 96 1-17 1 55 1-82 1-65 1 20 1 45 1 47 1 34 1-107 1-9 1 24 1 58 1-27 1 30 1-21 1-13 1 20 1-156 1 110 1-23 1-33 1 105 1 21 1-46 1 0 1 50 1 30 1 46 1-56 1-5 1-100 1-54 1 60 1 8 1 75 1-42 1-55 1 46 1 39 1-82 1 100 1-110 1-69 1-31 1 40 1 31 1 39 1-5 1-41 1 9 1-2 1 35 1 70 1-69 1-23 1 62 1-4 1 17 1-43 1-18 1 18 1 98 1 13 1-151 1-66 1 31 1 54 1 90 1-86 1 72 1-49 1-62 1 68 1 8 1-23 1 14 1-20 1 65 1-39 1-44 1 64 1 77 1-96 1-64 1 155 1-11 1-94 1-71 1 8 1 90 1-36 1 35 1 44 1-50 1 31 1-27 1 83 1-51 1 17 1-18 1-53 1-17 1 17 1-52 1 34 1 46 1 40 1-61 1-3 1-38 1 89 1-40 1 33 1 23 1-122 1 121 1-28 1-15 1-97 1 47 1-33 1 53 1-19 1 97 1 26 1-57 1-82 1 111 1-61 1-48 1 20 1 35 1 43 1 7 1 101 1-66 1-32 1 30 1-49 1 2 1 6 1-19 1 40 1-14 1-87 1 33 1 21 1 62 1 0 1-121 1 27 1-54 1-6 1 111 1-65 1 57 1 48 1 7 1-116 1 43 1 34 1-94 1 2 1 45 1-66 1 31 1 10 1 58 1-85 1 72 1-104 1 43 1-29 1 52 1-92 1 85 1 97 1-39 1 47 1-58 1-57 1 103 1-57 1-62 1 78 1-2 1-3 1 23 1 43 1-102 1 7 1 38 1-95 1 32 1 96 1 63 1-59 1-147 1 84 1 9 1-97 1 24 1 11 1 17 1-30 1 81 1-95 1-1 1 36 1-3 1 95 1-35 1 28 1-30 1-48 1 23 1 7 1 46 1 8 1-132 1 94 1-66 1 57 1 37 1-13 1-79 1 83 1 29 1 23 1 21 1-45 1-17 1 40 1-53 1 0 1-14 1-75 1 60 1 32 1 31 1-91 1-7 1 20 1 4 1-34 1 66 1-11 1-4 1-47 1 3 1 135 1-112 1 110 1-6 1-19 1-17 1 29 1-148 1 183 1-50 1-71 1 114 1-122 1 48 1 26 1-40 1-66 1-30 1 55 1 76 1-2 1-44 1-37 1 31 1 21 1-46 1 27 1-15 1-27 1 17 1 85 1 57 1-9 1-138 1-37 1 34 1 11 1 11 1-41 1 96 1-96 1-30 1 62 1-80 1 52 1-5 1 19 1 25 1 81 1-69 1-52 1 6 1-6 1-37 1 67 1 46 1-64 1-36 1-32 1 63 1 46 1-67 1-46 1 46 1 59 1 114 1-199 1 153 1-16 1-43 1 46 1-156 1 144 1-58 1 60 1-71 1-73 1 83 1-29 1-35 1 83 1 95 1-45 1-53 1 63 1 11 1 6 1-47 1-97 1 116 1-16 1-2 1 24 1 23 1-18 1-1 1 3 1-80 1 54 1-36 1 102 1-38 1-67 1-45 1 39 1-35 1-5 1-3 1 34 1-37 1 159 1-65 1-29 1 3 1-39 1 4 1 16 1-3 1 25 1 10 1-29 1-123 1 170 1-73 1-105 1-16 1 69 1 53 1 64 1-16 1-56 1 40 1-7 1-49 1 46 1 25 1-27 1 43 1-52 1 43 1-60 1 41 1 14 1 14 1 22 1-70 1 12 1 50 1 25 1-27 1-54 1 35 1-88 1 38 1-58 1 133 1-98 1 72 1-49 1 26 1-19 1 64 1-17 1 0 1-43 1-22 1-43 1 49 1 24 1-23 1-65 1 37 1 5 1 72 1-68 1 11 1-29 1-25 1 128 1-72 1 52 1-52 1 59 1-28 1 29 1-12 1 19 1-32 1 83 1-120 1 3 1 28 1-64 1 71 1-66 1 74 1 8 1-40 1-3 1 59 1-176 1 74 1 36 1-48 1 42 1 30 1-4 1 7 1-81 1 18 1 56 1 74 1-82 1 77 1-102 1 53 1-52 1 12 1-38 1-104 1 165 1-11 1 95 1-167 1 125 1-34 1 37 1-104 1 125 1-70 1-67 1 26 1 35 1 58 1 19 1-79 1 64 1-61 1 99 1-96 1 14 1 30 1-25 1-3 1-30 1-2 1-22 1 65 1 12 1-16 1-27 1 41 1-38 1 6 1-2 1 24 1-14 1-12 1 70 1-99 1 56 1 18 1 35 1-73 1-40 1 29 1 65 1-9 1-21 1-51 1-42 1 92 1 1 1 51 1-69 1 20 1 10 1-135 1-1 1 48 1 8 1 18 1 24 1-28 1-87 1 140 1 20 1-15 1-5 1 34 1-62 1 14 1-21 1-6 1 100 1-15 1-31 1-63 1 52 1-51 1 7 1 20 1 15 1 22 1 21 1 4 1 1 1-24 1 3 1 25 1 6 1-14 1-59 1-46 1 19 1-15 1-54 1 57 1 25 1 5 1-39 1-20 1 38 1-93 1 167 1-85 1 44 1-59 1-21 1 171 1-80 1-68 1 1 1 80 1-29 1-20 1 70 1-18 1 28 1-36 1-10 1 120 1 20 1-63 1-44 1-29 1-25 1 73 1 6 1-48 1-71 1-57 1 92 1 76 1-11 1-44 1-89 1-1 1 86 1-11 1-49 1-14 1 1 1 0 1 59 1 27 1-27 1 80 1-11 1-18 1 13 1-21 1-17 1 37 1-149 1-27 1 135 1-12 1-7 1 61 1-81 1-15 1-93 1 124 1-71 1 67 1 76 1-41 1-89 1 63 1 14 1-100 1 80 1-1 1 18 1-65 1 152 1-128 1 40 1-83 1-25 1 131 1-101 1 77 1-12 1 104 1-106 1 65 1-10 1-21 1-18 1-116 1 114 1 29 1-14 1-58 1-1 1 41 1-16 1 3 1-97 1 47 1 110 1 18 1 24 1 5 1-8 1-150 1 41 1-36 1 103 1-164 1 59 1 30 1 8 1-42 1 14 1 3 1-60 1 22 1-13 1 39 1 73 1-17 1-49 1-25 1 27 1 65 1 78 1 31 1-104 1-28 1-48 1 35 1-34 1 8 1 14 1 26 1 71 1-86 1-21 1-15 1 8 1 77 1 92 1-57 1 14 1-34 1-43"/>
<path vector-effect="non-scaling-stroke" stroke="#DF536B" stroke-dasharray="8 8" d="M0 2384l1-25 1 78 1-62 1 138 1-185 1 144 1-120 1 57 1-25 1-43 1 27 1 45 1-73 1 57 1-7 1-23 1 29 1-84 1 48 1-12 1 51 1-63 1-26 1 22 1 16 1 30 1-33 1 95 1 24 1-68 1-17 1-46 1 21 1-13 1 111 1-43 1 24 1-21 1 46 1 5 1-76 1 56 1-50 1-13 1 68 1-22 1-41 1 9 1-24 1 41 1 11 1 8 1 46 1 45 1-97 1 73 1-77 1 17 1-119 1 93 1-41 1 60 1 19 1-49 1 55 1-27 1-64 1 39 1 1 1-53 1 97 1-11 1-44 1 39 1-32 1 77 1-68 1-3 1-73 1 53 1-2 1-3 1 52 1 22 1-39 1-24 1 46 1-75 1-35 1 101 1 52 1 16 1-56 1-50 1 74 1 8 1-96 1 37 1-3 1-61 1 11 1-37 1 85 1 23 1-37 1-64 1-9 1-13 1 46 1 7 1 27 1-25 1 47 1-43 1-61 1 157 1 14 1-205 1 189 1-75 1 22 1 26 1-14 1-2 1 49 1-50 1 88 1-44 1 38 1-48 1-15 1 72 1-40 1-75 1-16 1 4 1 87 1-34 1-26 1 55 1-60 1 45 1-93 1 40 1 40 1-102 1 30 1 34 1 61 1-73 1-18 1 51 1-58 1 94 1-12 1-23 1 3 1 10 1 8 1-22 1 14 1-215 1 173 1 21 1-78 1 43 1 80 1-108 1 5 1-48 1 20 1 110 1-23 1-57 1 111 1-65 1 22 1-95 1 28 1 69 1 40 1-29 1-14 1-62 1 51 1-55 1 38 1 10 1-77 1 50 1 44 1-40 1 20 1-152 1 137 1 39 1-66 1-14 1-16 1 21 1 142 1-22 1-61 1-37 1-10 1-2 1 32 1-15 1-50 1 45 1 44 1-96 1 100 1 27 1 72 1-101 1-1 1-39 1 10 1 107 1 11 1-119 1 72 1-5 1-67 1 18 1-28 1 45 1 19 1-11 1-106 1 106 1-53 1-65 1 98 1-53 1-41 1 54 1 51 1 14 1-55 1-61 1 91 1-22 1-62 1 102 1-27 1-11 1 7 1 35 1-49 1 55 1 11 1-86 1 15 1-31 1 50 1 32 1-45 1-46 1-22 1 86 1-83 1 78 1-88 1 39 1 38 1 48 1-46 1-45 1 41 1-88 1 40 1 94 1-58 1 72 1-33 1-37 1 17 1 8 1 10 1-37 1-74 1-19 1 9 1 162 1-113 1 65 1 19 1 48 1-84 1-119 1 130 1 22 1-87 1-28 1 102 1-8 1-26 1 24 1 41 1 17 1-54 1-68 1 28 1-63 1 48 1 0 1 10 1 82 1 88 1-93 1 54 1 64 1-183 1-9 1 32 1 5 1 35 1-24 1 25 1-42 1 44 1 24 1-38 1-16 1-56 1 1 1-37 1-13 1 38 1-20 1 47 1 20 1 31 1 23 1-38 1 25 1-73 1 8 1 14 1-22 1 86 1-98 1-61 1 96 1 116 1 0 1-159 1 95 1-32 1-69 1 86 1-29 1-30 1 52 1-61 1 65 1-91 1 68 1 48 1 30 1 21 1-64 1-19 1 55 1-22 1 8 1 3 1-61 1 40 1 15 1-29 1-55 1 4 1 86 1 0 1 27 1-16 1 14 1 21 1-183 1 81 1 18 1 43 1-3 1 3 1-68 1 66 1-83 1-88 1 30 1 61 1 116 1-109 1 38 1-23 1-26 1-50 1 18 1 27 1 76 1-43 1 21 1-21 1 32 1 19 1-5 1-91 1 67 1 36 1 19 1 23 1-67 1 44 1-65 1 48 1-79 1-35 1 81 1-98 1 153 1-161 1 100 1-31 1 98 1-46 1 24 1-89 1-35 1 73 1-80 1 81 1 38 1 7 1-23 1-97 1 119 1-162 1 193 1-171 1 89 1 36 1-15 1-42 1 92 1-38 1-58 1 48 1 69 1-58 1-46 1-40 1 81 1-100 1 34 1 22 1-9 1 48 1-9 1 47 1-66 1-52 1 44 1 9 1 4 1-24 1 24 1 71 1-54 1-22 1 64 1-106 1 10 1-77 1 181 1-5 1-12 1-96 1 94 1 61 1-103 1-60 1 84 1 19 1-33 1-23 1-12 1-9 1 75 1-19 1-36 1 18 1-12 1 27 1-6 1-19 1 55 1-106 1 8 1-6 1 27 1 3 1 29 1-4 1-62 1-2 1 5 1 89 1-32 1 64 1-106 1 15 1-29 1 46 1 81 1-66 1-64 1 125 1-11 1-52 1 34 1-10 1 32 1 38 1 32 1-155 1 75 1-21 1 70 1-69 1-37 1-62 1 75 1-14 1 21 1 93 1-49 1 14 1-11 1-24 1-28 1 16 1-110 1 27 1 16 1 65 1-39 1 27 1 50 1 60 1-62 1 45 1 52 1-219 1 121 1 8 1 29 1-57 1 20 1 23 1-115 1-19 1-18 1-3 1 31 1-28 1 51 1 27 1 20 1-57 1-8 1 78 1-114 1-2 1 22 1 21 1 56 1-60 1 95 1-120 1-2 1 31 1 27 1-45 1 54 1-26 1 47 1-15 1-88 1 22 1 44 1-71 1 126 1-66 1-37 1 58 1 31 1-25 1-11 1-33 1 54 1-63 1 18 1 84 1-43 1 64 1-53 1-71 1 2 1 95 1 7 1-17 1 34 1 8 1-77 1 4 1 63 1-69 1-12 1-26 1 66 1-24 1 24 1-32 1 55 1 22 1 14 1-5 1-28 1-61 1-11 1 37 1 10 1-53 1 60 1-18 1-81 1 80 1 59 1-39 1 0 1-1 1-95 1-34 1 45 1-3 1-9 1 63 1-4 1 49 1-40 1 36 1-78 1 0 1-16 1 53 1 27 1 12 1-39 1 19 1-51 1 63 1 33 1 0 1-161 1 122 1-21 1-87 1 75 1-12 1-6 1 81 1 13 1-69 1-2 1 84 1-49 1-29 1-57 1 43 1-84 1 54 1 8 1 4 1 53 1 16 1 27 1-97 1-12 1 3 1 14 1 94 1-32 1-23 1-60 1-17 1 157 1 44 1-142 1-40 1-12 1 41 1-102 1 119 1-5 1 68 1 37 1 3 1-96 1-67 1 6 1 30 1-1 1-49 1 86 1-43 1 2 1 46 1 13 1-14 1-3 1 19 1-42 1-35 1-56 1 71 1 65 1-48 1 55 1-63 1-62 1 47 1-13 1-26 1-4 1 79 1 16 1 88 1-40 1 5 1-7 1-55 1 37 1-75 1 73 1-19 1 129 1 30 1-221 1-33 1-9 1-28 1 112 1 54 1-59 1-22 1 5 1 3 1 66 1-133 1 70 1 47 1-108 1 39 1 14 1-8 1 32 1-73 1-19 1 60 1 52 1-85 1 138 1-74 1 62 1-58 1 78 1-28 1-45 1 27 1-37 1 73 1-60 1 30 1-35 1-40 1-44 1 103 1-7 1-56 1 112 1-117 1 22 1 35 1-81 1-4 1 73 1-18 1-108 1 103 1 7 1 25 1-55 1 65 1 21 1 24 1-130 1 98 1 9 1-83 1 8 1 66 1-47 1-28 1 16 1-47 1-11 1 86 1-66 1 95 1-12 1 65 1-110 1 5 1 70 1-21 1 1 1-58 1 48 1-13 1 5 1-59 1 56 1-71 1 5 1 97 1-72 1 1 1-18 1-37 1 70 1 65 1-93 1 142 1-32 1-16 1 45 1-55 1-30 1 0 1-23 1-14 1 32 1 33 1-48 1 91 1-136 1 101 1-91 1 94 1 16 1-17 1-86 1-35 1 77 1-71 1-49 1 29 1 25 1 38 1-12 1 8 1 64 1 47 1-127 1-15 1 87 1-21 1 29 1-12 1-60 1-46 1 4 1 76 1-13 1 3 1 4 1 54 1-37 1-21 1 78 1-48 1-98 1 35 1 16 1-79 1 14 1-30 1 15 1 29 1-81 1 65 1 26 1 19 1 72 1 23 1-29 1 140 1 9 1-187 1-78 1 37 1 70 1-55 1 24 1-63 1 60 1-22 1 54 1 44 1-18 1 51 1-34 1-12 1-37 1 26 1-59 1 9 1 79 1-55 1-6 1-4 1 17 1 23 1-39 1 13 1-4 1 15 1 38 1-107 1 16 1 103 1-73 1-57 1 89 1 2 1 26 1-59 1 66 1-10 1-30 1-22 1 16 1-67 1 70 1 0 1-85 1 69 1-64 1 64 1 21 1 1 1 20 1 36 1-192 1 49 1 42 1-11 1 5 1-30 1-46 1 44 1 12 1-30 1 62 1-16 1-1 1-17 1 7 1-24 1 42 1-24 1 45 1-20 1 40 1-42 1-27 1 29 1 17 1 79 1-72 1 20 1-115 1 117 1-78 1 71 1-15 1-50 1 47 1-23 1 22 1-31 1 34 1 15 1-35 1-21 1 19 1-22 1 54 1 3 1 46 1-81 1 102 1-110 1 28 1-17 1-7 1 31 1-27 1 14 1 44 1-3 1-22 1 32 1-35 1-53 1-3 1 90 1-21 1-35 1-16 1 109 1-51 1 2 1-78 1 152 1-61 1 61 1-29 1-45 1-48 1-83 1 66 1 14 1 46 1-45 1 38 1-8 1-40 1-1 1 110 1-57 1-26 1 72 1 2 1-13 1-69 1-42 1 33 1 46 1 29 1-82 1-27 1 66 1 44 1-143 1 16 1-5 1 43 1-15 1-5 1 81 1-52 1 8 1 61 1 32 1 8 1-86 1 91 1-17 1-38 1-25 1-25 1-10 1-54 1-1 1 59 1-29 1-1 1 36 1-33 1 61 1 90 1-119 1 23 1-2 1-113 1 91 1-42 1 5 1-27 1 83 1 12 1-33 1 67 1-59 1 13 1-1 1-89 1 51 1 35 1 37 1-13 1-58 1-17 1 1 1 130 1-31 1-124 1 99 1 0 1 42 1 10 1 18 1-90 1-24 1 99 1-138 1 68 1 14 1 0 1 11 1-32 1-16 1 0 1-95 1 135 1 84 1-146 1 118 1-52 1-70 1 74 1-53 1-81 1-35 1 83 1 25 1-41 1 13 1 35 1 26 1 10 1 79 1-13 1-112 1-41 1-33 1 79 1-29 1 31 1 30 1 25 1 61 1-9 1 16 1-56 1-58 1 4 1-116 1 55 1 69 1 35 1-77 1 24 1 22 1 52 1-71 1-3 1 13 1 62 1-79 1-11 1 53 1-55 1-21 1-43 1 46 1-20 1-31 1 44 1 6 1-8 1-21 1 161 1 75 1-87 1-80 1-42 1 3 1 5 1 110 1-25 1-49 1-9 1 54 1-39 1 51 1 1 1-77 1 34 1 34 1-39 1 98 1-5 1-15 1-5 1-94 1 60 1-22 1 12 1 19 1-67 1 16 1-31 1-53 1 58 1 26 1 10 1 48 1-79 1 95 1 12 1-86 1-62 1 122 1-76 1 11 1 54 1-50 1 3 1-37 1 29 1-47 1 43 1 37 1 77 1-37 1-38 1-30 1 32 1-73 1-2 1 29 1-48 1-17 1-42 1 97 1-5 1-33 1 51 1 70 1-39 1 33 1-58 1-68 1 75 1-28 1 15 1-40 1 7 1 4 1 39 1 4 1-29 1 17 1-17 1 40 1 12 1 30 1-58 1-19 1 55 1 0 1-87 1 5 1 110 1-38 1 7 1 4 1 78 1-118 1 39 1-51 1 126 1-93 1-85 1 81 1-7 1-8 1 2 1-7 1-65 1 144 1-93 1 6 1 30 1-8 1-7 1 6 1 31 1-14 1-19 1-100 1 86 1-35 1-8 1 47 1 24 1-9 1 26 1-123 1-32 1 180 1-48 1 24 1 33 1-48 1 0 1-59 1 13 1 36 1-35 1-16 1 50 1-66 1 128 1-81 1 23 1-52 1 71 1-91 1 9 1 74 1-68 1 58 1 78 1-49 1-7 1-31 1-8 1 20 1-40 1 78 1 16 1-96 1 58 1-30 1 18 1-56 1 19 1 19 1-54 1 91 1-27 1 60 1-9 1 36 1-88 1 22 1 24 1 4 1-167 1 7 1 44 1-21 1 12 1 62 1-31 1 31 1 29 1-45 1-109 1 88 1-20 1 48 1-22 1 74 1-69 1 99 1-27 1-92 1 57 1 56 1 5 1 6 1-67 1 8 1-59 1 89 1 35 1-35 1-28 1 14 1-40 1-43 1 119 1 1 1-41 1-104 1 75 1 34 1-64 1 46 1 18 1 62 1 28 1-52 1-123 1 104 1 22 1-41 1 4 1 8 1-91 1 40 1-11 1 114 1-104 1 62 1-53 1-13 1-4 1 15 1-31 1 13 1-6 1 37 1 51 1-31 1-7 1 34 1-56 1-28 1 67 1 28 1-31 1-210 1 189 1-83 1 40 1 46 1-30 1 74 1-94 1 3 1 80 1 46 1-34 1 23 1-33 1 2 1-3 1-131 1 86 1 5 1-12 1-59 1-45 1 160 1-121 1 8 1 4 1 4 1-8 1 182 1-86 1-12 1 41 1-113 1 74 1 13 1-83 1 64 1 3 1 42 1 19 1-46 1-28 1 74 1-2 1-35 1-62 1 26 1 9 1-58 1-11 1 3 1 127 1-25 1-25 1-53 1 54 1-64 1 125 1-107 1 37 1 18 1-80 1 97 1 12 1-90 1-38 1 50 1-18 1-37 1 10 1 34 1-42 1 2 1 89 1 5 1 1 1 29 1-21 1-68 1 74 1-59 1-24 1-43 1 15 1 28 1 68 1-102 1 14 1-22 1 81 1 50 1-22 1-13 1 6 1-32 1 15 1-113 1 41 1 96 1-40 1-64 1 22 1 20 1 22 1 31 1-41 1-75 1 50 1 16 1 0 1 23 1 38 1 26 1 6 1-80 1 104 1-79 1-3 1 11 1-138 1-36 1 226 1-74 1-52 1 39 1-31 1 71 1-31 1-16 1 109 1 1 1-47 1 39 1-65 1-35 1 69 1-85 1-39 1-29 1 113 1-53 1 81 1-73 1-53 1 11 1 2 1 57 1 109 1 49 1-120 1-51 1 57 1-39 1 61 1-36 1 19 1-35 1-42 1-41 1 53 1 19 1-12 1 32 1-51 1 98 1-96 1 10 1 21 1-11 1-98 1 96 1-15 1 51 1-64 1 37 1 36 1 7 1-17 1 66 1-67 1-36 1 56 1-112 1 27 1 35 1 17 1 1 1-98 1 81 1 42 1-5 1-32 1-13 1 45 1-48 1 17 1 35 1 20 1-8 1-36 1 119 1-168 1-39 1 21 1 119 1-73 1 3 1-73 1 34 1 30 1-17 1 109 1 14 1-24 1-20 1-105 1 50 1-17 1 97 1-1 1-12 1-14 1 4 1-32 1 24 1 25 1-67 1-52 1 80 1 17 1-69 1-11 1 36 1 36 1-6 1 66 1 26 1-19 1-66 1-13 1 197 1-302 1 35 1 15 1 50 1 5 1-71 1 131 1-89 1-42 1 93 1-1 1 10 1-33 1 45 1-21 1-43 1-38 1 105 1-17 1 5 1 18 1-62 1-55 1 63 1-31 1 61 1-36 1 2 1 9 1-51 1 96 1 23 1 14 1-104 1 30 1-40 1 16 1 82 1-207 1 127 1 23 1 43 1-14 1 23 1-34 1-6 1-73 1 10 1 29 1 37 1-48 1 74 1-46 1-7 1 58 1 70 1-83 1 27 1-93 1-52 1 22 1-39 1 113 1-7 1 21 1-42 1 15 1 47 1-118 1 77 1 16 1 59 1 26 1-87 1-152 1 125 1-12 1 75 1 20 1-13 1-38 1 4 1-4 1-44 1 70 1-11 1-34 1 44 1 44 1-40 1-79 1-5 1 34 1 40 1-108 1 72 1-42 1-61 1 37 1 58 1-28 1-35 1 54 1-25 1-40 1 26 1 53 1-23 1 11 1 61 1-19 1-39 1-26 1 72 1-91 1-37 1-87 1 40 1 8 1 73 1 33 1 38 1 11 1-111 1-20 1 198 1-136 1 46 1 12 1 18 1 20 1-34 1 43 1-24 1-76 1-1 1 44 1-61 1 27 1-56 1-28 1 98 1 2 1-62 1 55 1 113 1-135 1 43 1 12 1-65 1 23 1 64 1-67 1-19 1 65 1 37 1-69 1-36 1 101 1-39 1-32 1 10 1 21 1-29 1 18 1-19 1-85 1 17 1-84 1 79 1 24 1-1 1 53 1 55 1 26 1-86 1 31 1 102 1-136 1-19 1 2 1 34 1-3 1 36 1-130 1 101 1-35 1-65 1 35 1 117 1-55 1 1 1 48 1-66 1 45 1-31 1 27 1-64 1 42 1-15 1-70 1 49 1-26 1-26 1-12 1 88 1-29 1 66 1-48 1 21 1-48 1 104 1-14 1 17 1 37 1-160 1 74 1-75 1 41 1-6 1 32 1 61 1-67 1 73 1-78 1-7 1 56 1-43 1-19 1 79 1-11 1-52 1-26 1 98 1-61 1-46 1 41 1-33 1 148 1-233 1 12 1 154 1-30 1 0 1 73 1-179 1 85 1 52 1-67 1-37 1 21 1 4 1 50 1-39 1-23 1 145 1-65 1-75 1 48 1 12 1-66 1-11 1-39 1 111 1-102 1 51 1-27 1 100 1-83 1 105 1-87 1-4 1 81 1-49 1 64 1-126 1-36 1 38 1 23 1 1 1 45 1-67 1 51 1-40 1 39 1 56 1-95 1-71 1 9 1-42 1-57 1 181 1-18 1-14 1 49 1-79 1 45 1-14 1 29 1-26 1 72 1-18 1-4 1-15 1 42 1-71 1 76 1-30 1-89 1 51 1 130 1-32 1-4 1-112 1 12 1 45 1 7 1 73 1 4 1-80 1-56 1-2 1 125 1-138 1 61 1 12 1-112 1 29 1 19 1 11 1-7 1 88 1-100 1-29 1-10 1 24 1 23 1 92 1-62 1-1 1 63 1-27 1 53 1-18 1 28 1-156 1 71 1-70 1 75 1 20 1-45 1 9 1-60 1 101 1-46 1 57 1-27 1-14 1-22 1-52 1-11 1 14 1 54 1-54 1 87 1 57 1-137 1 112 1 0 1-97 1 79 1-31 1-23 1-1 1 97 1-144 1 91 1-50 1 45 1 19 1-56 1 49 1 20 1 35 1-102 1 70 1-92 1 102 1 24 1-33 1-23 1-103 1-8 1 23 1 24 1 124 1-25 1 22 1-52 1 19 1 59 1-48 1-56 1-17 1-5 1-7 1 4 1 51 1-33 1 7 1 88 1-148 1 71 1 9 1-51 1 42 1 30 1-112 1 30 1 42 1-24 1-15 1 3 1 41 1-103 1 116 1 44 1 14 1-4 1-46 1-64 1-20 1 72 1-26 1 95 1-37 1-33 1-34 1-22 1 67 1 41 1-35 1-9 1 66 1-53 1-72 1 73 1-31 1 20 1 7 1-42 1 14 1-58 1-57 1 61 1 12 1 5 1 67 1-92 1 62 1 73 1-19 1-95 1 92 1-50 1-42 1 1 1 28 1 20 1-60 1 82 1-17 1-24 1-16 1 59 1-26 1 43 1-94 1 48 1 111 1-119 1 83 1-67 1 25 1-58 1-25 1 5 1 11 1-29 1 23 1 36 1 73 1-86 1 21 1-11 1-1 1-1 1-48 1 21 1 67 1-8 1-13 1 1 1-57 1 37 1-101 1 27 1 65 1-81 1-27 1 61 1 80 1-65 1 86 1-117 1 55 1 55 1 24 1-9 1-13 1-79 1 27 1 4 1-6 1-1 1 136 1-67 1-49 1 42 1 0 1-53 1 77 1-64 1-83 1 72 1 79 1-138 1-52 1 56 1 82 1-16 1 43 1 58 1-50 1-77 1-40 1-5 1 46 1-18 1-2 1 26 1-94 1-7 1 142 1-7 1 42 1-81 1 3 1 20 1 72 1 7 1-11 1-23 1 45 1-134 1-18 1 55 1-52 1-21 1-9 1 29 1-1 1 12 1 76 1-60 1 62 1 29 1-10 1-131 1-48 1 13 1 108 1-9 1 75 1-152 1 138 1 77 1-42 1-56 1 12 1-17 1 23 1-94 1-12 1 83 1-13 1-39 1 3 1 27 1 29 1 8 1-68 1-26 1 63 1 0 1-25 1 38 1 15 1-7 1-7 1-2 1-85 1 64 1 20 1-8 1 98 1-61 1 13 1-61 1 6 1-22 1-70 1 155 1-21 1-6 1 75 1-37 1-27 1-42 1 23 1-17 1-39 1 17 1-71 1 75 1 19 1 2 1-3 1 51 1-49 1 13 1-60 1-38 1-8 1-8 1 66 1-32 1-32 1 29 1-59 1 84 1 25 1-62 1 123 1-93 1 26 1-9 1 14 1-65 1 46 1-54 1 78 1-5 1 128 1-93 1-11 1-71 1-17 1 37 1-32 1 68 1-3 1-39 1 50 1-38 1-45 1-13 1 24 1 24 1 13 1 80 1-203 1 193 1-74 1-90 1-36 1 85 1-15 1 65 1-77 1 120 1 42 1 36 1-60 1-88 1 19 1-7 1 40 1 27 1 39 1-11 1-119 1 51 1 84 1-34 1 13 1 20 1-39 1-18 1 29 1-78 1 41 1 58 1-122 1 42 1-17 1-25 1 0 1-9 1 87 1-50 1 97 1-96 1 89 1-56 1-28 1-40 1 73 1-24 1-41 1-6 1 37 1-76 1-2 1 41 1 11 1-35 1 29 1-32 1-2 1 84 1 18 1 67 1-141 1-41 1 44 1-5 1-10 1 138 1 53 1-102 1-33 1-25 1 111 1 14 1-55 1-3 1-75 1 100 1-54 1 52 1 29 1-47 1-31 1 6 1-24 1 2 1 7 1-96 1 38 1-10 1 66 1 17 1-53 1 83 1-6 1-85 1 66 1 53 1-65 1-17 1 76 1-94 1 7 1 38 1-94 1 40 1 87 1 25 1-63 1 5 1-61 1-8 1 100 1-11 1 28 1-70 1-40 1 85 1 49 1 23 1-179 1 53 1-16 1-41 1 18 1-15 1-39 1 87 1 10 1 27 1-58 1-92 1 105 1 0 1 17 1-83 1 38 1 25 1-74 1 132 1 15 1-103 1 129 1-26 1-13 1 11 1-57 1 48 1 34 1 21 1-130 1 21 1 14 1-49 1 28 1 16 1-27 1 64 1-64 1-44 1 70 1 5 1 67 1-67 1 47 1-38 1-6 1 10 1 16 1 3 1-47 1-25 1 44 1 114 1 9 1-27 1-70 1 71 1-42 1-57 1-32 1-49 1 50 1 96 1-65 1 75 1-40 1-48 1 85 1-43 1-19 1-61 1 23 1 10 1 15 1 22 1 28 1-4 1-62 1 38 1 25 1-72 1 15 1-68 1 29 1-39 1 99 1 19 1-1 1-78 1 29 1-23 1 7 1 4 1 27 1 71 1-53 1 27 1-31 1 88 1-49 1-23 1 34 1-60 1 35 1-68 1 53 1 12 1-66 1 5 1-78 1 64 1 118 1-155 1 98 1-36 1-8 1-28 1 20 1-26 1 12 1-31 1 84 1-7 1-48 1-3 1 60 1-49 1 40 1 67 1-49 1-28 1-11 1 32 1 53 1-92 1-44 1-2 1 97 1-32 1-49 1 59 1-8 1 66 1-41 1-56 1 9 1 28 1-38 1 58 1 16 1-10 1 54 1-152 1 63 1 61 1-14 1 1 1-39 1-40 1 88 1 28 1-12 1-3 1-90 1 16 1 17 1 12 1 31 1-52 1-87 1 176 1-11 1-46 1 3 1-13 1-31 1-53 1 16 1 61 1-10 1-7 1-4 1 63 1 43 1-131 1-9 1 52 1-72 1 105 1-8 1 17 1-19 1-44 1-47 1 143 1-88 1 26 1-73 1 39 1 30 1-4 1 19 1-42 1 11 1 71 1 6 1-44 1-86 1 97 1-12 1-62 1-54 1 22 1 54 1-16 1 102 1 10 1 10 1-91 1 52 1-18 1-25 1-7 1-13 1-57 1 99 1-116 1 7 1 60 1-54 1 66 1-54 1-50 1 96 1 82 1-136 1-49 1 44 1 72 1 54 1-57 1 54 1-119 1-11 1 1 1 17 1-1 1 60 1-10 1-8 1 13 1-24 1 35 1 5 1 47 1-15 1-55 1 64 1-63 1 64 1 30 1-59 1 29 1-13 1-24 1 61 1-119 1 40 1-76 1 89 1-44 1 105 1-109 1-42 1 72 1 0 1 38 1-3 1-20 1-69 1 3 1 19 1 65 1-59 1-37 1 98 1-37 1-79 1 76 1-5 1-8 1-12 1 83 1-46 1 20 1-21 1 97 1-25 1 2 1 24 1-130 1 56 1-36 1 23 1 53 1-25 1-21 1 13 1-70 1 54 1 1 1-30 1 78 1 47 1-70 1 69 1-77 1-62 1-8 1 62 1 10 1-9 1-63 1-12 1 1 1-6 1-7 1 148 1-40 1-14 1-15 1-20 1 33 1 33 1-56 1-17 1 33 1 2 1-58 1 28 1 96 1-68 1 6 1-94 1-87 1 241 1-107 1 42 1-42 1 60 1-96 1 67 1 55 1 13 1-16 1 36 1-142 1 106 1 8 1-49 1-48 1 20 1 12 1 14 1-38 1-27 1 47 1 86 1-62 1 41 1-48 1-35 1 23 1 6 1 11 1 24 1-11 1-27 1 2 1-73 1 39 1-13 1 79 1-66 1-9 1 78 1-46 1-30 1-46 1 24 1 113 1-29 1 6 1-28 1 12 1 66 1-27 1-53 1-67 1 130 1-49 1 1 1 15 1-35 1-29 1 81 1-9 1-29 1-42 1 33 1 67 1 16 1-34 1-135 1 46 1-50 1 32 1 117 1 36 1-8 1-51 1 7 1-26 1-28 1 32 1-8 1-1 1-68 1 32 1-30 1 66 1-96 1 47 1 45 1 2 1-11 1-87 1 102 1-47 1 58 1 2 1-155 1 222 1-24 1-14 1-93 1 24 1-6 1-29 1 32 1 93 1-51 1 20 1 58 1-155 1 70 1-84 1 46 1 8 1 53 1-113 1 37 1 42 1-3 1 26 1 36 1-75 1-9 1-20 1-41 1 34 1-58 1 78 1 68 1-35 1-31 1 4 1-6 1 113 1 43 1-57 1-86 1 51 1-28 1-1 1 23 1-27 1-54 1 134 1-62 1-64 1 54 1 5 1-37 1 27 1 77 1-78 1-38 1-39 1 53 1-43 1 69 1 31 1 44 1-73 1-67 1 86 1 0 1-71 1 104 1-81 1 86 1-117 1 64 1-63 1 24 1 27 1-29 1-31 1 127 1-81 1 20 1 12 1-44 1-29 1 51 1 34 1 19 1 98 1-195 1 32 1-26 1 25 1 25 1 5 1 63 1-52 1-84 1 16 1 21 1 21 1-40 1 34 1-12 1 5 1-100 1 64 1 39 1-46 1 106 1-28 1-97 1 140 1-108 1 154 1-76 1-101 1-55 1 59 1-1 1 121 1-57 1 100 1-18 1 14 1-66 1 38 1-9 1 10 1-101 1 27 1-75 1 12 1-7 1 52 1 22 1-40 1-3 1-26 1 6 1-7 1 24 1 54 1-25 1 77 1-73 1 76 1-30 1 28 1-86 1 73 1 25 1 17 1-87 1-24 1-31 1 63 1-106 1 43 1 65 1-26 1 59 1 17 1-46 1-48 1 35 1-37 1 37 1-75 1-1 1 99 1 36 1-66 1 106 1-44 1 70 1-25 1-50 1-29 1-11 1-33 1-53 1 81 1-76 1 101 1-79 1 11 1-26 1-24 1-15 1 65 1 43 1 18 1 15 1-57 1-1 1-58 1-2 1 40 1 32 1-78 1 49 1-50 1 130 1-22 1 3 1-109 1 80 1-124 1 123 1-40 1-111 1 178 1 30 1-113 1 31 1 124 1 14 1 24 1-48 1-22 1-18 1-44 1 51 1-94 1 70 1 7 1 17 1-74 1 77 1 15 1-111 1 54 1 39 1-28 1-37 1 5 1-28 1 156 1 7 1-34 1-102 1-13 1 118 1-153 1 122 1-6 1-3 1-36 1-67 1 69 1 7 1-52 1-55 1 126 1-55 1 62 1-1 1-83 1 2 1 21 1 9 1 68 1-82 1-9 1-73 1 97 1-126 1 124 1-49 1-29 1 33 1-13 1 11 1 24 1 14 1-21 1 88 1-69 1-9 1 74 1-188 1 64 1 30 1 59 1-89 1 83 1-25 1-9 1 10 1-20 1-46 1 35 1 5 1-25 1-39 1 75 1 104 1-159 1 33 1-22 1 33 1-54 1 32 1-2 1 60 1-28 1 4 1 87 1 48 1-67 1-66 1 42 1-100 1 67 1 56 1-80 1 6 1-18 1 14 1 27 1-105 1 38 1 9 1 137 1-100 1 60 1 28 1-25 1 34 1-140 1 45 1-18 1 62 1-47 1 53 1 41 1-49 1 33 1-104 1 112 1-45 1-51 1 54 1-27 1 15 1 81 1-111 1 5 1-54 1 4 1-42 1 41 1 41 1 74 1-40 1 58 1-85 1-22 1 38 1-27 1-81 1 169 1-122 1 140 1-93 1-10 1 17 1 12 1-40 1 40 1-74 1 43 1-23 1 40 1 44 1-38 1-16 1 4 1 40 1 2 1-4 1 72 1-20 1-104 1 110 1-187 1-25 1 17 1 161 1-48 1-14 1-4 1-84 1 63 1 39 1 26 1-39 1 89 1-85 1 31 1 58 1-9 1-38 1 2 1-24 1 76 1-36 1 2 1-46 1 51 1-52 1 59 1-104 1-8 1 109 1 34 1 8 1-41 1-96 1-17 1 52 1 105 1-32 1-38 1 51 1-34 1 2 1-24 1 28 1 4 1 31 1-58 1 14 1-39 1-87 1 86 1-69 1 84 1 2 1 4 1 28 1-37 1 48 1-91 1 77 1-34 1-45 1-39 1 18 1 101 1 9 1 70 1-17 1-164 1 43 1 70 1 2 1-26 1-30 1-3 1 34 1-123 1-73 1 97 1 69 1-35 1-5 1 1 1 101 1-71 1-19 1 28 1 24 1-33 1-33 1 48 1-23 1-112 1-35 1 10 1 227 1 44 1-120 1-18 1 37 1-38 1 61 1-45 1-60 1-70 1 164 1-45 1-87 1 130 1-29 1 42 1-45 1 31 1 14 1 23 1-3 1-31 1-2 1-101 1 77 1 11 1 9 1 70 1-59 1 57 1-129 1-2 1-4 1 36 1-67 1 42 1-102 1 52 1 91 1-97 1 78 1 35 1 2 1 26 1-48 1-23 1 106 1-83 1 10 1-54 1 0 1-41 1 81 1 36 1-15 1-60 1 99 1 30 1-44 1-43 1 30 1-40 1-120 1-18 1 202 1-53 1-55 1 60 1 45 1 2 1-49 1 54 1-75 1 86 1-1 1-3 1-42 1 17 1-70 1 12 1-33 1 10 1 29 1-21 1 98 1-41 1-81 1 64 1-37 1-33 1-4 1 1 1 31 1-21 1-8 1-1 1 127 1-145 1 9 1-13 1 83 1 10 1 32 1 31 1 12 1-76 1 98 1-114 1 41 1 5 1 4 1-111 1 58 1-144 1 153 1-85 1 18 1-32 1 105 1 18 1-60 1-41 1 133 1-8 1-11 1-131 1 41 1 57 1 3 1-16 1-1 1-40 1-48 1-26 1 127 1-48 1-23 1 17 1 36 1 13 1 40 1-46 1-60 1 11 1 10 1 18 1 65 1 39 1-101 1-32 1 54 1 28 1-68 1-38 1 22 1-21 1-28 1 65 1 35 1-116 1 77 1 5 1 27 1-44 1-23 1 7 1 33 1-2 1 2 1 28 1-17 1-107 1-32 1 115 1-18 1 34 1 149 1-97 1 1 1 24 1-29 1 4 1 34 1 66 1-138 1 5 1-3 1-19 1 3 1 74 1-21 1-89 1 0 1-60 1 92 1 53 1-45 1-10 1 151 1-6 1-181 1 20 1 83 1-83 1 90 1-40 1-12 1 23 1-9 1 34 1-70 1-31 1 48 1 31 1-14 1 74 1 4 1-142 1 98 1-20 1-2 1-30 1-52 1 22 1 49 1-78 1 29 1-59 1 87 1 82 1 26 1-62 1-3 1 20 1-61 1-56 1 2 1-9 1 120 1-102 1 22 1 94 1-38 1-55 1 6 1 72 1 19 1 0 1-45 1-83 1 159 1-53 1 0 1-27 1-7 1 5 1-67 1 49 1 49 1 21 1 23 1-100 1-52 1-13 1 176 1-53 1-44 1 53 1 7 1-50 1-41 1 112 1-50 1 43 1-92 1-47 1 49 1 59 1 31 1-79 1 36 1-41 1 28 1-23 1-23 1 0 1 88 1-78 1 4 1 116 1-44 1-97 1 33 1-25 1 35 1 9 1-5 1 15 1-32 1-71 1 76 1 1 1-37 1 16 1 93 1-87 1-80 1 93 1 48 1-60 1-23 1-8 1 22 1 40 1-87 1 66 1 19 1 28 1 20 1-56 1 113 1-105 1-44 1 9 1 26 1 43 1-74 1 31 1-57 1-31 1 1 1 20 1 23 1 4 1-6 1 105 1-100 1 28 1 71 1-51 1 59 1 67 1-87 1 14 1-83 1-39 1 105 1-37 1-96 1 109 1 89 1-77 1-111 1-17 1 92 1-1 1 0 1-31 1 67 1 2 1 21 1 30 1 12 1-117 1-65 1-19 1 48 1 30 1 2 1-15 1 11 1 16 1-14 1 28 1 26 1-47 1 117 1-8 1-27 1-73 1 58 1-71 1 36 1-73 1 93 1-27 1-49 1 64 1 36 1-162 1 76 1 13 1 67 1-38 1 15 1 9 1-108 1 62 1 19 1-56 1 130 1 14 1 27 1-196 1 122 1 69 1-88 1-28 1-13 1-48 1 48 1-78 1 41 1 89 1 87 1-107 1 41 1-28 1 0 1-6 1 62 1 15 1-8 1-39 1-30 1 14 1-5 1-38 1-32 1 40 1 43 1-18 1 15 1-41 1-28 1 122 1-148 1 5 1 0 1 11 1 54 1-90 1 92 1-34 1 28 1-66 1 40 1 63 1-70 1 58 1-17 1-6 1 49 1 64 1 25 1-222 1 84 1 66 1-13 1-69 1-64 1-4 1 109 1-86 1 11 1-22 1 85 1 9 1-76 1 38 1-15 1 50 1-3 1-13 1-11 1-41 1 31 1 24 1-36 1-43 1 20 1-34 1 84 1 59 1-128 1 67 1-103 1 33 1 57 1 0 1 38 1 10 1-55 1 37 1-108 1 23 1 0 1 71 1-68 1-6 1 33 1-15 1-33 1 71 1 63 1-15 1-53 1-33 1 20 1 0 1 10 1 0 1 14 1-43 1 24 1 24 1 54 1 19 1-93 1 31 1-93 1 54 1-3 1 88 1-93 1-27 1 13 1-31 1 53 1 21 1 1 1 42 1 11 1-67 1-34 1 103 1-109 1-23 1-25 1 70 1-25 1-4 1 146 1-39 1-105 1 2 1 57 1 0 1-87 1 88 1-41 1 6 1 6 1 40 1 15 1 41 1 68 1-85 1 23 1-38 1-19 1 34 1-118 1-53 1 189 1-38 1 55 1-101 1 17 1-98 1 62 1-3 1 0 1 29 1-20 1 76 1-20 1 12 1-1 1 18 1-21 1 26 1-26 1-113 1 73 1 82 1-81 1-64 1 76 1-66 1 17 1 32 1-4 1-12 1 22 1 73 1-108 1 66 1-43 1 42 1-60 1 58 1-27 1-1 1-26 1-27 1 31 1 41 1 39 1 13 1-107 1-33 1-1 1 89 1 52 1-61 1 14 1-29 1-13 1 19 1 21 1 72 1-108 1 44 1-31 1 12 1-101 1 72 1 15 1-15 1 19 1-49 1 17 1-3 1-21 1-81 1 104 1-74 1 70 1 38 1-17 1 11 1 72 1-37 1-11 1-11 1-59 1 43 1 18 1-5 1 61 1 4 1-140 1 29 1 7 1 30 1 52 1-16 1 28 1-31 1-38 1-84 1 112 1 18 1-54 1 1 1 56 1 19 1-50 1-25 1 8 1-51 1 14 1 70 1-109 1 135 1-32 1-64 1-24 1 15 1 40 1 2 1 36 1 31 1-16 1-32 1 27 1-63 1-44 1-70 1 73 1 69 1 40 1-33 1-51 1-7 1 43 1 49 1-59 1-43 1 45 1-41 1 9 1 120 1-8 1-28 1-11 1-13 1-41 1-2 1 64 1-103 1 73 1-67 1 100 1 22 1-60 1-62 1 59 1 79 1-50 1 78 1-192 1 47 1 38 1 30 1-38 1-79 1-17 1 63 1-4 1 131 1-64 1 63 1-88 1-90 1-3 1 85 1 51 1-10 1 46 1-103 1 49 1 61 1-149 1 50 1 16 1 0 1 5 1-24 1 148 1-197 1 96 1-133 1-10 1 200 1-48 1-26 1 73 1-114 1 10 1-40 1 88 1 25 1-18 1 7 1-21 1 44 1-74 1 121 1 17 1-156 1-23 1-17 1-11 1 6 1-48 1 99 1-1 1 51 1 0 1-66 1-11 1 41 1 1 1 40 1-74 1 1 1 26 1-10 1 47 1-4 1 35 1-14 1-9 1-11 1-109 1 64 1 108 1-185 1 99 1-110 1 116 1-55 1 100 1-22 1-59 1 27 1 14 1-10 1-46 1 40 1 45 1 68 1-9 1 1 1-18 1-100 1 27 1-16 1-9 1-38 1-12 1 27 1 33 1 0 1 5 1-87 1-47 1 115 1-16 1 121 1-115 1-53 1 74 1-25 1 8 1-32 1 48 1 43 1-22 1 71 1-103 1 59 1-87 1-54 1-7 1 92 1 63 1-160 1 179 1-67 1-53 1-39 1 105 1-138 1 97 1-51 1 17 1 118 1-11 1-23 1-50 1-3 1 59 1 81 1-1 1-107 1-50 1-40 1 88 1 88 1 28 1-45 1-135 1 63 1 53 1 21 1-10 1-74 1 53 1 35 1-34 1 62 1-239 1 91 1 72 1-76 1-23 1 20 1 24 1 50 1-73 1 67 1-37 1 98 1-13 1 28 1-70 1-49 1 21 1 3 1-29 1-11 1 41 1-6 1-5 1-45 1 102 1-19 1 34 1 80 1-78 1-94 1 18 1 9 1 19 1-56 1 94 1-156 1 106 1-96 1 94 1 15 1-101 1 27 1 45 1-14 1 75 1-12 1 38 1 25 1 26 1-26 1-142 1-9 1-7 1 41 1 19 1-17 1 24 1-9 1-37 1-15 1 3 1 40 1 90 1-131 1 91 1 3 1 9 1-56 1 7 1-38 1-14 1 40 1 8 1-51 1 155 1-56 1 49 1-80 1-26 1 11 1 62 1 48 1-36 1-222 1 101 1 63 1-2 1 28 1-9 1 16 1 13 1 53 1 35 1-104 1-54 1-3 1 12 1-35 1 73 1 35 1-34 1-30 1 34 1 28 1-87 1 51 1 34 1-94 1-75 1-6 1 49 1-10 1 62 1-4 1-35 1 82 1 34 1 7 1-29 1-123 1 98 1 88 1-64 1 12 1 10 1-12 1 17 1-46 1 9 1-27 1 33 1 100 1-100 1-51 1-33 1 47 1 34 1-116 1 54 1 41 1-22 1 50 1-88 1 108 1-2 1-35 1 11 1 50 1-43 1-65 1 42 1 94 1-42 1-42 1-36 1-15 1-13 1 56 1-106 1 37 1 125 1-12 1-72 1 56 1-127 1-13 1 136 1 43 1-30 1 37 1 66 1-68 1-87 1 7 1-35 1-58 1 107 1-38 1-20 1 54 1-105 1 45 1 31 1-58 1-50 1 52 1 55 1-11 1-21 1 26 1 52 1-55 1 37 1 18 1-25 1 55 1-83 1-21 1 16 1 34 1-80 1 43 1 104 1-39 1 18 1 22 1-3 1-74 1-82 1 52 1 32 1 41 1-92 1 209 1-113 1-63 1 24 1 93 1-64 1-12 1-111 1-23 1 138 1 51 1-22 1 31 1-16 1-19 1-142 1-39 1 74 1 16 1 20 1-33 1 14 1 83 1-24 1 23 1-29 1-46 1 27 1-85 1 131 1-90 1 62 1-58 1 48 1-56 1 2 1-8 1-31 1 57 1-35 1 110 1-6 1 10 1 15 1-47 1-45 1 75 1-103 1 42 1 34 1 4 1 5 1-65 1-44 1 74 1 19 1-4 1-42 1 44 1 49 1 17 1 6 1-97 1 33 1-39 1-32 1 33 1-30 1-52 1 76 1 10 1 37 1-13 1 22 1 66 1-50 1 37 1-82 1-44 1-12 1 43 1 48 1-21 1-75 1-1 1 135 1-16 1-74 1-45 1-4 1 26 1 39 1-58 1 152 1-6 1 5 1 11 1-83 1-32 1-42 1 58 1-54 1 68 1-51 1-17 1 134 1 9 1-117 1 35 1-94 1 1 1 50 1-104 1-13 1 71 1 5 1 92 1 51 1-114 1 105 1 10 1-72 1 62 1-29 1 54 1-31 1-5 1-91 1-3 1 23 1 45 1 88 1-73 1-54 1-18 1-4 1-23 1 12 1 75 1-106 1 40 1-16 1 62 1-12 1-125 1 85 1-28 1 0 1 118 1-48 1-80 1-51 1 89 1 13 1 120 1-48 1-55 1 77 1-100 1 59 1-60 1-46 1 8 1 55 1-61 1 95 1-77 1 26 1 40 1-21 1 117 1-10 1-57 1-19 1 16 1 64 1-121 1 80 1-49 1 44 1 60 1-128 1 7 1-27 1 2 1 31 1 1 1 50 1 22 1-46 1-49 1-1 1-88 1 55 1 17 1 64 1-12 1 12 1-76 1-31 1 118 1-17 1 48 1-19 1 0 1 23 1-33 1-40 1-14 1 14 1-51 1 34 1 18 1-41 1 64 1-21 1 67 1 19 1 7 1-69 1-27 1-69 1 20 1 98 1-48 1-7 1 51 1-68 1-2 1 105 1 1 1-116 1 53 1 46 1-71 1 15 1 20 1-14 1-33 1-10 1 81 1-39 1 62 1-17 1-72 1 41 1 35 1 39 1-59 1 42 1-67 1-75 1 28 1 132 1-6 1-59 1-26 1-32 1 75 1-40 1 49 1-29 1 29 1 26 1-21 1-25 1-31 1-30 1 44 1 39 1-25 1 32 1-52 1 52 1 44 1-166 1-37 1 171 1-114 1 7 1 44 1-64 1 6 1 71 1 47 1-16 1-156 1 71 1 42 1-25 1 18 1 22 1-22 1 80 1-60 1-79 1 109 1-71 1 12 1 44 1-81 1 59 1 61 1 1 1-57 1-22 1-85 1 54 1 61 1-94 1 86 1-112 1 114 1-73 1 33 1 44 1-16 1-12 1 27 1 3 1-109 1 20 1 11 1 37 1 33 1 2 1-55 1 20 1 62 1-85 1 46 1 39 1-63 1 14 1 37 1 28 1-45 1-15 1-14 1 102 1-200 1 37 1 96 1 38 1-37 1-8 1-27 1 44 1 29 1-78 1 24 1-61 1-32 1 88 1 3 1 2 1-18 1-103 1 60 1 63 1-38 1 3 1 31 1-70 1 20 1 11 1 53 1 24 1-22 1 31 1 22 1-38 1 10 1-121 1 93 1-53 1 111 1-156 1 77 1 53 1-66 1 16 1 24 1-107 1-38 1 67 1 48 1 49 1-28 1-23 1 49 1-23 1 42 1 27 1-171 1 8 1 124 1 2 1-68 1 74 1-105 1 22 1 31 1-47 1 41 1 65 1-62 1 14 1-48 1-42 1 49 1 36 1-35 1 58 1-25 1 73 1-114 1-46 1 72 1-46 1 71 1-6 1 13 1-26 1-38 1-41 1 6 1 71 1 12 1-9 1 29 1-44 1-10 1 46 1 33 1 0 1-42 1 87 1-103 1-22 1-22 1-67 1 73 1 64 1-7 1 44 1-143 1 70 1-51 1 136 1-43 1-23 1 17 1 25 1-36 1-47 1 113 1-27 1-1 1-4 1-109 1 10 1-80 1 117 1-33 1-13 1 16 1 116 1-79 1 10 1 68 1-103 1 12 1 34 1-70 1 111 1-9 1 9 1-127 1-4 1 75 1-43 1 15 1 84 1 41 1-18 1-93 1 13 1-31 1 13"/>
<path vector-effect="non-scaling-stroke" stroke="#61D04F" stroke-dasharray="2 6" d="M0 2452l1-34 1-72 1 57 1-53 1 42 1-41 1 51 1 63 1 31 1-117 1-96 1 13 1-8 1 61 1-26 1 1 1 34 1 67 1 60 1-75 1-77 1 43 1 84 1-26 1 51 1-47 1-123 1 89 1 32 1 9 1 14 1 101 1-129 1-1 1 43 1-96 1 48 1-25 1-117 1 96 1 26 1-20 1-57 1 104 1 50 1-9 1 1 1 15 1-13 1-45 1 51 1-95 1 47 1-17 1-44 1 6 1 11 1 5 1-51 1 94 1-5 1-14 1-2 1-24 1-45 1 65 1 27 1-34 1-58 1-8 1 60 1 5 1 8 1 35 1-44 1 67 1-141 1-2 1 130 1-66 1-59 1 17 1 21 1 56 1 68 1-15 1-152 1 61 1 12 1 48 1 27 1-11 1-48 1-42 1 20 1-38 1 29 1-7 1 65 1-3 1-69 1 10 1-15 1-53 1 1 1 7 1 148 1-38 1-39 1 24 1-75 1 39 1 88 1-1 1-73 1 73 1-76 1 20 1 7 1-53 1 19 1-30 1 25 1 61 1-40 1 39 1 9 1-93 1 34 1 1 1-149 1 107 1 0 1 27 1-23 1 29 1 57 1-79 1 119 1-77 1-35 1 69 1 49 1 1 1-36 1-36 1-88 1 91 1-140 1-13 1 109 1 62 1 34 1-30 1 11 1-56 1-38 1 37 1-60 1 79 1-91 1-13 1 35 1 13 1-28 1 75 1 40 1 11 1-93 1 19 1 91 1-40 1-105 1 124 1-19 1-15 1-67 1 49 1 12 1 8 1-32 1 49 1-33 1-146 1 118 1 81 1-55 1-17 1 23 1 14 1 31 1-63 1-92 1 165 1-156 1 64 1 2 1 39 1-53 1 116 1-63 1 77 1-88 1-2 1-9 1 38 1-18 1 45 1 46 1-129 1 47 1 11 1-105 1 137 1-13 1 33 1-80 1 19 1-131 1 57 1 93 1 61 1-27 1-53 1-32 1-11 1 6 1 94 1-122 1 106 1 10 1-32 1-2 1-69 1 74 1-90 1 92 1 25 1-8 1-92 1 23 1-67 1 7 1 117 1-72 1-11 1 81 1 3 1 36 1-55 1-6 1-15 1 64 1-11 1-82 1 129 1-60 1-27 1 19 1 4 1-61 1 17 1-2 1-44 1 67 1 28 1-20 1-8 1 63 1-172 1-45 1 205 1-142 1 29 1-48 1 126 1-1 1-19 1 0 1-32 1-11 1-10 1 60 1-8 1 0 1-21 1 48 1-85 1-36 1 53 1 70 1 30 1 24 1 48 1-110 1 38 1-116 1 10 1 7 1 49 1 87 1-91 1 51 1-79 1-42 1 22 1-10 1-36 1 31 1 56 1 1 1-31 1-17 1 31 1-48 1-28 1 43 1 94 1-41 1 24 1-48 1-13 1 17 1-56 1 27 1-64 1 101 1-27 1 55 1 30 1 96 1 44 1-52 1-136 1-113 1 126 1-100 1 76 1-67 1 102 1-79 1 33 1-1 1-41 1 36 1-20 1-38 1 75 1 43 1-27 1-65 1 81 1-20 1-64 1 1 1 9 1-25 1 83 1-10 1-12 1 47 1 39 1-61 1-52 1 9 1-42 1 15 1-27 1 53 1 31 1 26 1-29 1 37 1-15 1 25 1-70 1-29 1-26 1 22 1 40 1 1 1 61 1-123 1 13 1 133 1-67 1-32 1 13 1 28 1-121 1 19 1 31 1 68 1 52 1-23 1-109 1 7 1 59 1 36 1 82 1 14 1-153 1 153 1-40 1-126 1 82 1-80 1 6 1 45 1-54 1-4 1 36 1-37 1 59 1 10 1-99 1 43 1-32 1-33 1 106 1-98 1 24 1 60 1 34 1 6 1-31 1 76 1-55 1-24 1 18 1 0 1-34 1 46 1 28 1-53 1-44 1-28 1 40 1 87 1-54 1 16 1-113 1 114 1-27 1-9 1 87 1-144 1 7 1 32 1-22 1 49 1 7 1 18 1-112 1 38 1 4 1 37 1 43 1-85 1 68 1 5 1-75 1 28 1 51 1 53 1-72 1 10 1-80 1 55 1 80 1-129 1 62 1 3 1 21 1 27 1-48 1-21 1 27 1-32 1-34 1 88 1 38 1-71 1 25 1-17 1-67 1 41 1-11 1-16 1 57 1-53 1 10 1 17 1-58 1 16 1 44 1-29 1 17 1-54 1 0 1 80 1-119 1 13 1 89 1-2 1 69 1 0 1-16 1-73 1-35 1 123 1-19 1-60 1 56 1-41 1-104 1 116 1 15 1-84 1-7 1 11 1-10 1 59 1-84 1 5 1 167 1 6 1-36 1-23 1-85 1 34 1-34 1 25 1 76 1-77 1-45 1 67 1-12 1 4 1-47 1 60 1-12 1 71 1-13 1 21 1-124 1 10 1 42 1-5 1-13 1 108 1-66 1 69 1-15 1-118 1 42 1 33 1 31 1-11 1 27 1-9 1-74 1 72 1-150 1 69 1 69 1 30 1-19 1 42 1-25 1-22 1-55 1-47 1 77 1 18 1-70 1 9 1 95 1 11 1-67 1-38 1-53 1 23 1-25 1-49 1 227 1-59 1 30 1 12 1-79 1 34 1 7 1-84 1-36 1 53 1-87 1 95 1 28 1-117 1 68 1-48 1 14 1 84 1-72 1-49 1 91 1-21 1 65 1-10 1 65 1-153 1 101 1-54 1 4 1-35 1-26 1 21 1 96 1 37 1-28 1 2 1-93 1-167 1 175 1-37 1 56 1-87 1 175 1-118 1 49 1 47 1-38 1-29 1 7 1-13 1-24 1 13 1 67 1-28 1 78 1-67 1 103 1-122 1 47 1-134 1 47 1 97 1-13 1-73 1-21 1 7 1 84 1-50 1 63 1-18 1-6 1-46 1 3 1-66 1 130 1-14 1-200 1 151 1-16 1 49 1 86 1-90 1-93 1 10 1 35 1-44 1 87 1-33 1 39 1 3 1 36 1-62 1-40 1 29 1-14 1 36 1 26 1-16 1-64 1-54 1 34 1 18 1 17 1-1 1-39 1 159 1-127 1-45 1 97 1-28 1 54 1-118 1 1 1 128 1-119 1 150 1-21 1-18 1-83 1 103 1-6 1-55 1 4 1-5 1-69 1-24 1 118 1-96 1 7 1 11 1 79 1-107 1-12 1 47 1-38 1 75 1-34 1-70 1 90 1 49 1-137 1 138 1-51 1 19 1-100 1 86 1 19 1 12 1 91 1-11 1-91 1-56 1 88 1 21 1-118 1 137 1-40 1-53 1-27 1 98 1 2 1-41 1-11 1-107 1 89 1 35 1-65 1-76 1-38 1 44 1 212 1 1 1-55 1-154 1 16 1 112 1 67 1-114 1 27 1 89 1-149 1 157 1-16 1-48 1 12 1-22 1-25 1 24 1 73 1-110 1-101 1 106 1 2 1 7 1-53 1 15 1 107 1-15 1 78 1-115 1 19 1 46 1-53 1 5 1-37 1 59 1 97 1-272 1 38 1 54 1 4 1 25 1-8 1 57 1-72 1 13 1 155 1-55 1-51 1 29 1-81 1 24 1 79 1-65 1-36 1 0 1-49 1 160 1-107 1-60 1 30 1 31 1 40 1-56 1 25 1-85 1 181 1-91 1-40 1 0 1 71 1-34 1-28 1 61 1-43 1-59 1 62 1 45 1-49 1 18 1-37 1-33 1 71 1-109 1 112 1-71 1 44 1-31 1-35 1 10 1-3 1 32 1-68 1 85 1-56 1 75 1-38 1-13 1 4 1 14 1 33 1-14 1 12 1 2 1 18 1-51 1 61 1 5 1-92 1 12 1 85 1-29 1 12 1-35 1-56 1 25 1 75 1-80 1 50 1 36 1-3 1-19 1-19 1-4 1 30 1-40 1 95 1-66 1-26 1 50 1-18 1-8 1 5 1-54 1 86 1-20 1-25 1 7 1-44 1 43 1-68 1 53 1 6 1 50 1-52 1 5 1 40 1-37 1-64 1-23 1 105 1 14 1 28 1 36 1-60 1-91 1 19 1 11 1-21 1-31 1 123 1 1 1-8 1-65 1-59 1 70 1-49 1 17 1-19 1 40 1 115 1-54 1 21 1-22 1-12 1-29 1-9 1-33 1 48 1-25 1-19 1 35 1-49 1 26 1 12 1 22 1 0 1 87 1-26 1 2 1-48 1 40 1-47 1-49 1 98 1-16 1-96 1 44 1-21 1 42 1 75 1-125 1 28 1 52 1-85 1 110 1 5 1-98 1-2 1 41 1-75 1 19 1 94 1-124 1 40 1 7 1 85 1-51 1 48 1-38 1-83 1 24 1 86 1-98 1 16 1-42 1 56 1 24 1 45 1 10 1-49 1-19 1 46 1-85 1-19 1-29 1 67 1-2 1 23 1-2 1 123 1-166 1 11 1-35 1 102 1 37 1-56 1-8 1-67 1 84 1-29 1 5 1 15 1 58 1-94 1 13 1 9 1 100 1-95 1 52 1 27 1 10 1-52 1-27 1-37 1-4 1 87 1-58 1-33 1 76 1 10 1-10 1-42 1 6 1 20 1-43 1-66 1 53 1-22 1 46 1 10 1-36 1 81 1 36 1-21 1-14 1 67 1-109 1-50 1-22 1 69 1-22 1 48 1-6 1-92 1 22 1 136 1 61 1-202 1 10 1-2 1 2 1 3 1 7 1 57 1-51 1 37 1 12 1 25 1-67 1-37 1 67 1 31 1 11 1-31 1-57 1 74 1-63 1 122 1-39 1-27 1-22 1-58 1 12 1 26 1-39 1 57 1-73 1-59 1 69 1-4 1 129 1-108 1 55 1-78 1 49 1 51 1-13 1-10 1 113 1-24 1-143 1-15 1-32 1 59 1 39 1-24 1 7 1 66 1-33 1 1 1-14 1-75 1 72 1-25 1-9 1-1 1 1 1-59 1 63 1 54 1-31 1-66 1 16 1 17 1 34 1-17 1-81 1 70 1 89 1-89 1 76 1-13 1-76 1 64 1 37 1-20 1-37 1-67 1-1 1 111 1 10 1 9 1-89 1-28 1-28 1 175 1-42 1-146 1-56 1 66 1 137 1-33 1-73 1 13 1 126 1-68 1 2 1-70 1-22 1 8 1 85 1 14 1-137 1 85 1-77 1 116 1-11 1-1 1 18 1 51 1 11 1-46 1-166 1 186 1-20 1-16 1-65 1 26 1-5 1-74 1 42 1 54 1 32 1-83 1 62 1-8 1 30 1-7 1 23 1-81 1 48 1-14 1-16 1 40 1 44 1-148 1 145 1-28 1-10 1 6 1-72 1 23 1-31 1-34 1 6 1 67 1 7 1-35 1-32 1 41 1 33 1-11 1-94 1 100 1 108 1-37 1-65 1-43 1-29 1 41 1-79 1 23 1 92 1 71 1-50 1-60 1-14 1 9 1-57 1 62 1 8 1-61 1 45 1-21 1 58 1-105 1 137 1-51 1-47 1-53 1 81 1 17 1-26 1 44 1 47 1 38 1-95 1 33 1-30 1 24 1 27 1-25 1 50 1-77 1-9 1-30 1-21 1 21 1-5 1-19 1 18 1-11 1-43 1 174 1 15 1 48 1-136 1 41 1-41 1 21 1-49 1 123 1-29 1-77 1 54 1-22 1-22 1 40 1 26 1 5 1-48 1-47 1 76 1 20 1-94 1-78 1 38 1 26 1-15 1 32 1-76 1 12 1 51 1 105 1-18 1-122 1 139 1-125 1 45 1-2 1 43 1 8 1-125 1 119 1-95 1-60 1 19 1 26 1 85 1 71 1-49 1 95 1-31 1-194 1 80 1-19 1 42 1-90 1 38 1 6 1 32 1-11 1-16 1 47 1-94 1 16 1 94 1 15 1-50 1 68 1-17 1 15 1-3 1 4 1-29 1-22 1 24 1-21 1-19 1-68 1 5 1 29 1 60 1 6 1-80 1 72 1-50 1 12 1 55 1 11 1 18 1 19 1-103 1 47 1-2 1 54 1-130 1 27 1 12 1-15 1 31 1-17 1 12 1-28 1-22 1-50 1 113 1-28 1-27 1 16 1-6 1 76 1-51 1-31 1 131 1-61 1 4 1-27 1 27 1-46 1-9 1 32 1-59 1-39 1 101 1-24 1-10 1-62 1 100 1-58 1 38 1-28 1 15 1 130 1-47 1-14 1-10 1-99 1 57 1-13 1 35 1-7 1 10 1 24 1-32 1-41 1 25 1-37 1 127 1-48 1-75 1 72 1-63 1 93 1-82 1 9 1 34 1-73 1 70 1 70 1-110 1 36 1 30 1-125 1 3 1 85 1 11 1 22 1-7 1-70 1 8 1 96 1-16 1-75 1 14 1-80 1 59 1 41 1-106 1 28 1 17 1 43 1 28 1-113 1 77 1-75 1 65 1 39 1 10 1-51 1 0 1-39 1 51 1-57 1 103 1-56 1 105 1-165 1 52 1 79 1 6 1-28 1-43 1 18 1 19 1-8 1 21 1-46 1 19 1 13 1-89 1 17 1 36 1 4 1 7 1-76 1 4 1 23 1 16 1 90 1 57 1-138 1 16 1 67 1 34 1-37 1-78 1 90 1-14 1-90 1 82 1-76 1 69 1-142 1 114 1-78 1-97 1 144 1 110 1-148 1-45 1-1 1 18 1 21 1 47 1 48 1-75 1 6 1-37 1 43 1 16 1-32 1-12 1-12 1 26 1 71 1-12 1-64 1 32 1-8 1-59 1 1 1 55 1 116 1-32 1 3 1-92 1-12 1 99 1-61 1-22 1-28 1 21 1 51 1 123 1-180 1-29 1 63 1-70 1 55 1-58 1 35 1 37 1 35 1 45 1-113 1 69 1-90 1 73 1-13 1 77 1-45 1-33 1-33 1-34 1 166 1-83 1 1 1-2 1-21 1-42 1 60 1-59 1 6 1 4 1 32 1-5 1 75 1-28 1 5 1-31 1-26 1-45 1-46 1 76 1-10 1 97 1-182 1 84 1 130 1-25 1-85 1 149 1 30 1-130 1 44 1 6 1-85 1 0 1-10 1 24 1 6 1 30 1 8 1-7 1 8 1-46 1 25 1 40 1-9 1-52 1-59 1-8 1 64 1-107 1 96 1 8 1-81 1 81 1-3 1 85 1-106 1 17 1-38 1-24 1 68 1-121 1 28 1 183 1-26 1-86 1 52 1-98 1-15 1 4 1 31 1 18 1 77 1 8 1-84 1 93 1-10 1 58 1-140 1 11 1-85 1 57 1 71 1-24 1 15 1 3 1-69 1-11 1 29 1-20 1 123 1-60 1-107 1-14 1 135 1-32 1 71 1-95 1-31 1 57 1-26 1-41 1 56 1 2 1-11 1 25 1 39 1-69 1 7 1 89 1-151 1 7 1 44 1 21 1 29 1 10 1-78 1 41 1-34 1-34 1 127 1 33 1-5 1-32 1-12 1 31 1-81 1-31 1-13 1 112 1 5 1-100 1 38 1 67 1 16 1 21 1-48 1-104 1 29 1 10 1 39 1-34 1 22 1 19 1 33 1-112 1-10 1-78 1 16 1 63 1 23 1-1 1 16 1-74 1 7 1 111 1-32 1-1 1 98 1-122 1-10 1 48 1-74 1 104 1-83 1-31 1 27 1 31 1 1 1 59 1-103 1 62 1-19 1-35 1 9 1 72 1-11 1-32 1-37 1-1 1 131 1-68 1 56 1-28 1-56 1 52 1 23 1-58 1 64 1-5 1-22 1 17 1 39 1-86 1 16 1-114 1 39 1-5 1-4 1 18 1 71 1 67 1-111 1 60 1-14 1-41 1 97 1-96 1 10 1 6 1 29 1-48 1 19 1-8 1-18 1 27 1-49 1-47 1 27 1 99 1-85 1 56 1-6 1 29 1-160 1 119 1-21 1 77 1-91 1 60 1 46 1-117 1-24 1 1 1 67 1-41 1 2 1 35 1-89 1 75 1 30 1-32 1-26 1 27 1 52 1-74 1-13 1 53 1 17 1-6 1-2 1-75 1 173 1-41 1-133 1 80 1 45 1-92 1 40 1 11 1 9 1-17 1-50 1-34 1 169 1-130 1 12 1 108 1-47 1 60 1-85 1 21 1 36 1-39 1-27 1 61 1-18 1 22 1 40 1-84 1 0 1-77 1 53 1 6 1-34 1-1 1 10 1 116 1-99 1 49 1 41 1-85 1-19 1-42 1-20 1 150 1 30 1-82 1 48 1-92 1 106 1-88 1 7 1 15 1 31 1 30 1-53 1-112 1 134 1-31 1-103 1 74 1 21 1-32 1-30 1-79 1 50 1 57 1 28 1-58 1 47 1 85 1-64 1-29 1 99 1-54 1-57 1 52 1 15 1-49 1-1 1-41 1 67 1-33 1-9 1 4 1 102 1-54 1 18 1 45 1-128 1-30 1 157 1-67 1-10 1 7 1-69 1 52 1-40 1 21 1 35 1-43 1 100 1 40 1-122 1 69 1-59 1-16 1-9 1 24 1 12 1-61 1-59 1 77 1 1 1-39 1 20 1 116 1 27 1-15 1-51 1 46 1-12 1-59 1-19 1 60 1-6 1-62 1 5 1-22 1-5 1 61 1-59 1 108 1 39 1-25 1-27 1-5 1 39 1-51 1-44 1 40 1-29 1 104 1-121 1 6 1-80 1 49 1-8 1 91 1-47 1-30 1 12 1 69 1-95 1 13 1-18 1 62 1 18 1-59 1 0 1 31 1 55 1-54 1-37 1 3 1-14 1 130 1-145 1 8 1 176 1 5 1-14 1-123 1 66 1 2 1-61 1 15 1 123 1-156 1 56 1-74 1 74 1-4 1-88 1 64 1-110 1 6 1 27 1 34 1 3 1 8 1 63 1-63 1 124 1-89 1-15 1 35 1-30 1-19 1 9 1 132 1-135 1 95 1-75 1-47 1 70 1 45 1-75 1-85 1 114 1 21 1-30 1-27 1 31 1 104 1-68 1-40 1-88 1 61 1 57 1-30 1-5 1 40 1-30 1-46 1 23 1 12 1 40 1-70 1 20 1-52 1-47 1 71 1 8 1 43 1-67 1 29 1 32 1-31 1 66 1 4 1-47 1-53 1 126 1-133 1 119 1-82 1 38 1-15 1-102 1 67 1 36 1 11 1-85 1 173 1-149 1-6 1 115 1-34 1-23 1-35 1 29 1 37 1-106 1-16 1 46 1 19 1-3 1-28 1-3 1-5 1-80 1 34 1 112 1-6 1 15 1-95 1 55 1 25 1 2 1 18 1-7 1-6 1-52 1 29 1-3 1-49 1 36 1 7 1-33 1 7 1-17 1 19 1 11 1 94 1-91 1 15 1-24 1 4 1-81 1 141 1-33 1 40 1-59 1 82 1-49 1 32 1 6 1 49 1-34 1 13 1 3 1 37 1-7 1-122 1 30 1 3 1-88 1 69 1 11 1 50 1-36 1 53 1-100 1 62 1 74 1-85 1 86 1-95 1-58 1 39 1-8 1-39 1-34 1 4 1 123 1 68 1-87 1 28 1 60 1-66 1-67 1 67 1 44 1-47 1-90 1 53 1 1 1 49 1 10 1-50 1-68 1 70 1 54 1-110 1 97 1-91 1 45 1-5 1 81 1-84 1 82 1-61 1 29 1 34 1-75 1-25 1 115 1 39 1-82 1-94 1-15 1 53 1-31 1 51 1-18 1-37 1-24 1 6 1-1 1-88 1 35 1 187 1-93 1 24 1 12 1-34 1 41 1 29 1-142 1 98 1 50 1 40 1-73 1 3 1 29 1-28 1-52 1-40 1 72 1-8 1-8 1-78 1-14 1 100 1-63 1-15 1 25 1 38 1 4 1-17 1 63 1 64 1-80 1-18 1 48 1-79 1-22 1 61 1 14 1-57 1-53 1 51 1-42 1 3 1 93 1-9 1 11 1-17 1-2 1 5 1-64 1 1 1 125 1-78 1-12 1 53 1 47 1-43 1-81 1 8 1 15 1 102 1-34 1-57 1-68 1-52 1 61 1 94 1-26 1-14 1-62 1-26 1 73 1-10 1 106 1-28 1-62 1 12 1-21 1 38 1-14 1-92 1 22 1 75 1 10 1-40 1 4 1-46 1 48 1 31 1 67 1-66 1-14 1 27 1 90 1-59 1 17 1-20 1 11 1-45 1 7 1-68 1 21 1-42 1 11 1-1 1 46 1 58 1 25 1-30 1-28 1-30 1 63 1 8 1-61 1 30 1 71 1-20 1-47 1-60 1-8 1 28 1-15 1 29 1 25 1-39 1 48 1-3 1-85 1-15 1 20 1 19 1 10 1-46 1 59 1 72 1-80 1-4 1 27 1-32 1-7 1 44 1-28 1 12 1 85 1-20 1 1 1-59 1-55 1-24 1 151 1-146 1 63 1 62 1-36 1-28 1 90 1-100 1 49 1-82 1 24 1 27 1 39 1 3 1-54 1 44 1-60 1-53 1 116 1 24 1-32 1-23 1 25 1-16 1-34 1 47 1-85 1 26 1 5 1 16 1-40 1 37 1-25 1 30 1-14 1 22 1 33 1-15 1-23 1-42 1 158 1-74 1-8 1 4 1-87 1 44 1 49 1 31 1-61 1 150 1 32 1-198 1 33 1 77 1-70 1-26 1-10 1 45 1-29 1-7 1 27 1 3 1-9 1 65 1-50 1-51 1 7 1 53 1-10 1 3 1-93 1-39 1-63 1 74 1 54 1-12 1-35 1 55 1 66 1-68 1 45 1-41 1-56 1 89 1-51 1-46 1 104 1-48 1-6 1 39 1-102 1 78 1 55 1-59 1 12 1-51 1-24 1 67 1 33 1-30 1-11 1 132 1-163 1 69 1-34 1-5 1-44 1-37 1 82 1 29 1 4 1 8 1 25 1-82 1-9 1-10 1 13 1-4 1 63 1-94 1 64 1 55 1 22 1-106 1-39 1 17 1 49 1-72 1 81 1 16 1 50 1-41 1 90 1 38 1-237 1 21 1 86 1 58 1 8 1 44 1-32 1-61 1-56 1 47 1 61 1-117 1 39 1-9 1-58 1 61 1-53 1 66 1 32 1-30 1-93 1 19 1 92 1-54 1-80 1 97 1 57 1 39 1-101 1-84 1 3 1 25 1 97 1-45 1-37 1 39 1 99 1 2 1-82 1-52 1 90 1 14 1-79 1 95 1-44 1 18 1-121 1 42 1 54 1-67 1 64 1-23 1-36 1 112 1-110 1 7 1-3 1 28 1-6 1 65 1-122 1 64 1-24 1 68 1-81 1 8 1 53 1 24 1-114 1 50 1 35 1-114 1 28 1 28 1 58 1-62 1 15 1-16 1 94 1 12 1-83 1 49 1 36 1-76 1 35 1 29 1-126 1 19 1 105 1-59 1-22 1 14 1 84 1-13 1-85 1 62 1-63 1 23 1 12 1-29 1 88 1-58 1 21 1-96 1 123 1 0 1 28 1-223 1 82 1 78 1 50 1-21 1-18 1 68 1-68 1-50 1-3 1 28 1 36 1 24 1-54 1 106 1-81 1 34 1-83 1 9 1-58 1 64 1-83 1-10 1 71 1 32 1 43 1-16 1-5 1 1 1 35 1-72 1 56 1-26 1 21 1-40 1 7 1 2 1 76 1-28 1 66 1-71 1-43 1 45 1-82 1 36 1-28 1 52 1-17 1-85 1 102 1-39 1 18 1 13 1-25 1 21 1 53 1-32 1-54 1-20 1-55 1 88 1-29 1 21 1 104 1-79 1 15 1-22 1-39 1 3 1 44 1-86 1 66 1 25 1-92 1-12 1 62 1 38 1 73 1-15 1 71 1-113 1-8 1-25 1 42 1 15 1-92 1-16 1-26 1 62 1 64 1-35 1 5 1-53 1-43 1 104 1-28 1-67 1 17 1 46 1-44 1 57 1 26 1 4 1-9 1-3 1-97 1 125 1-83 1 15 1-36 1 76 1-13 1-23 1-27 1 12 1 20 1 34 1-128 1 129 1 51 1-47 1-53 1 90 1-84 1 45 1-78 1-13 1-13 1 91 1 74 1-66 1 22 1-18 1-75 1 61 1-31 1 39 1-3 1-10 1 3 1-4 1-83 1 115 1-9 1-49 1-62 1 44 1 89 1-68 1-18 1 86 1 14 1-50 1 10 1 6 1 3 1-45 1 38 1-26 1-44 1-24 1 25 1-42 1 27 1 86 1-61 1 72 1-41 1 100 1-1 1-131 1 105 1-75 1 5 1-44 1 68 1-18 1-35 1-57 1 74 1 72 1-49 1 99 1-124 1-69 1 25 1 5 1 10 1 30 1-36 1 21 1 73 1 74 1-109 1-27 1 9 1 45 1-58 1 41 1-12 1 45 1 98 1-261 1-64 1 102 1 88 1-9 1-53 1-6 1 35 1 1 1 60 1-119 1 64 1 16 1-28 1 50 1-72 1-39 1 8 1 9 1 87 1-19 1 93 1-70 1-14 1 49 1 76 1-169 1 62 1 30 1-56 1-32 1 58 1 50 1-27 1 13 1-36 1-22 1-8 1-62 1 47 1-30 1 60 1 19 1-66 1 49 1 17 1-41 1-51 1 55 1 12 1 43 1-130 1 55 1 52 1-13 1-48 1 9 1 25 1-31 1 9 1 19 1 11 1 7 1-88 1 85 1-3 1-104 1 142 1-68 1 15 1-49 1-31 1-26 1 40 1 53 1-20 1 77 1-22 1-34 1 37 1-73 1-25 1 115 1-25 1 2 1-82 1 148 1-87 1 59 1-56 1 125 1-107 1-18 1 64 1-37 1-128 1 83 1 17 1 53 1-46 1 5 1-10 1 77 1-6 1-2 1 1 1-78 1 80 1-92 1-23 1-10 1-24 1 32 1-12 1-48 1 31 1 40 1 62 1-90 1 72 1 18 1-89 1-8 1 98 1-78 1-41 1 9 1 59 1 37 1-81 1 67 1 80 1-72 1 21 1 24 1 43 1-66 1-31 1 40 1-43 1 12 1-20 1 64 1-54 1-107 1 94 1 31 1-30 1-7 1 19 1 73 1 39 1-177 1 80 1 60 1-135 1 111 1 48 1-115 1 28 1 20 1-8 1-15 1-25 1-14 1 10 1-20 1 90 1-89 1 70 1-41 1 73 1-119 1-20 1 33 1 7 1-50 1 60 1-14 1 31 1-38 1 114 1-54 1-78 1-39 1 109 1 29 1 49 1-37 1 65 1-25 1-154 1-3 1 32 1 24 1 9 1-92 1 92 1 7 1 6 1 26 1-62 1-17 1-90 1 183 1-53 1 0 1-3 1-24 1 32 1-46 1 23 1 3 1-10 1 85 1-3 1-54 1 35 1 24 1-177 1 32 1 81 1 31 1-97 1 100 1 40 1-65 1-24 1-61 1 72 1 8 1 55 1-50 1-2 1-45 1 59 1-74 1 80 1-54 1-93 1 93 1 6 1 54 1-29 1 44 1-63 1 50 1 52 1 25 1-140 1 22 1 12 1-11 1-8 1-2 1-42 1-11 1 104 1-62 1 26 1-7 1-33 1 6 1-16 1 28 1-35 1 18 1-14 1 33 1 10 1 27 1 4 1-88 1 107 1-71 1-19 1 41 1-67 1 48 1 78 1-131 1-57 1 154 1 19 1-50 1-47 1 37 1 7 1-59 1 179 1 32 1-123 1-11 1-4 1 2 1-78 1-5 1 22 1-21 1 30 1 95 1-72 1 51 1 32 1 56 1-33 1-7 1-66 1 4 1-9 1-97 1 59 1 18 1-23 1 16 1 6 1 31 1 93 1-82 1-14 1-12 1 44 1-112 1 14 1 56 1 61 1 48 1-112 1 55 1-116 1 133 1 9 1-102 1 37 1 62 1-82 1-14 1 25 1 44 1-28 1-43 1 21 1-9 1-39 1 52 1 12 1 74 1-52 1-4 1 93 1-102 1-87 1 79 1 4 1 76 1-59 1-55 1-1 1-55 1 57 1 30 1 16 1 105 1-84 1-79 1 0 1 83 1-63 1 14 1-18 1-17 1 68 1-56 1 69 1-3 1-22 1 10 1-53 1-11 1-14 1 5 1 22 1-42 1-34 1 79 1 40 1-109 1 109 1 16 1-2 1-9 1 69 1 11 1-55 1-92 1 122 1-87 1-22 1 69 1-74 1 41 1-80 1 129 1-71 1 31 1-64 1-14 1 11 1 11 1-38 1 67 1-1 1-91 1 44 1 70 1-10 1-76 1 79 1-5 1-11 1 21 1-21 1 31 1-108 1 48 1-25 1 51 1-29 1 4 1-30 1 64 1-23 1 6 1 84 1 1 1-21 1-95 1-38 1 122 1 63 1-22 1-96 1-24 1 55 1 17 1-71 1 125 1 4 1-16 1-98 1 83 1 6 1-18 1 69 1-33 1 25 1-147 1-3 1 10 1 53 1-54 1-29 1 50 1 29 1-86 1 53 1-25 1 21 1 41 1 14 1 47 1-86 1 87 1 2 1-149 1 11 1 53 1-30 1 92 1-28 1-31 1-39 1-40 1 54 1-23 1-73 1 147 1-57 1-20 1 108 1-42 1-78 1 28 1-32 1 61 1 99 1-72 1-42 1 147 1-52 1-100 1 84 1-100 1-52 1 35 1 73 1 44 1-70 1-6 1-58 1 66 1 15 1 98 1-78 1-17 1 37 1-98 1-5 1 98 1 60 1 24 1-109 1 48 1-21 1-47 1-3 1 1 1 7 1 12 1 24 1-73 1 57 1-17 1 35 1-53 1-21 1 22 1 11 1 27 1 35 1-61 1 0 1 71 1-54 1-85 1 62 1 12 1 33 1-38 1-20 1 50 1 36 1-60 1-25 1-45 1 21 1-3 1 23 1-6 1-17 1 42 1 44 1-81 1 138 1-44 1-57 1-66 1 178 1 46 1-167 1 54 1 81 1-108 1 15 1-4 1-45 1-26 1-60 1 181 1-114 1 15 1 6 1 90 1-13 1 18 1-45 1-14 1 42 1-102 1-20 1-32 1 169 1-102 1 7 1 46 1-74 1 87 1 13 1 0 1-39 1-106 1-70 1 88 1 72 1-10 1-23 1 27 1 7 1 11 1-24 1 54 1-54 1-39 1-20 1 82 1 50 1-36 1-96 1 94 1-64 1-43 1 32 1 100 1-7 1-41 1 18 1 4 1-53 1-23 1 35 1 25 1-65 1-74 1 141 1-37 1-18 1 80 1 10 1 22 1-7 1 46 1-76 1 61 1-78 1-31 1-50 1 113 1 59 1-39 1 27 1-144 1 133 1-72 1-4 1 51 1 4 1-60 1 65 1-25 1 6 1-46 1 49 1-44 1 13 1 59 1-53 1-13 1-49 1-29 1 93 1-84 1-15 1 6 1 71 1-51 1-52 1 82 1 105 1 109 1-63 1-94 1-75 1 16 1 102 1-4 1-161 1 59 1 87 1-64 1 36 1-6 1-25 1-7 1-5 1-29 1 0 1 80 1-94 1 32 1 25 1 58 1-102 1 22 1 73 1-4 1-51 1-27 1-81 1 103 1-59 1 6 1 84 1-54 1 55 1-45 1 16 1 9 1-12 1-7 1-9 1 53 1 20 1-102 1 2 1 46 1-8 1-10 1 18 1-22 1-43 1 2 1 55 1-22 1 33 1 32 1-62 1-35 1 87 1 31 1 6 1-50 1-75 1 79 1 61 1-84 1-40 1-18 1 23 1 85 1-28 1 5 1 18 1-2 1 47 1-40 1 17 1-112 1 24 1 13 1-7 1-15 1 0 1 91 1-68 1 106 1-78 1 42 1-85 1 36 1-60 1 7 1 41 1 37 1 7 1 8 1-45 1-43 1 72 1-50 1-37 1 98 1-11 1 30 1-90 1 37 1-43 1 54 1-16 1 33 1-21 1 18 1-36 1-45 1-11 1-8 1 198 1-54 1-111 1-41 1 50 1 43 1 50 1-28 1-87 1 81 1-56 1-12 1-40 1-3 1-6 1 96 1-40 1-29 1 68 1 10 1 74 1 5 1-17 1-26 1-45 1 24 1-39 1-16 1 113 1-97 1 41 1 25 1-38 1 48 1-13 1 31 1-10 1-32 1 42 1-130 1 31 1 1 1-49 1 69 1-84 1 71 1 178 1-224 1 113 1 64 1-98 1 2 1-49 1 45 1 31 1-81 1-6 1-13 1-63 1 80 1 0 1 67 1 34 1 11 1-48 1-116 1 128 1 5 1-6 1 0 1-40 1-57 1 45 1-12 1-27 1-51 1 48 1 96 1-117 1 15 1 5 1-55 1 106 1 33 1-39 1-77 1 38 1 58 1-4 1-17 1-26 1 21 1-36 1 65 1-106 1 87 1 0 1 10 1-30 1 70 1 6 1-58 1 33 1 15 1 18 1 5 1-61 1-85 1 23 1 13 1-24 1 2 1 110 1-62 1 16 1 70 1-138 1-5 1 143 1 21 1-41 1-35 1 65 1-76 1 67 1-7 1 31 1-35 1-37 1-10 1-68 1 12 1 84 1-87 1 52 1 4 1-4 1 46 1-35 1 42 1-47 1-17 1-18 1-62 1 61 1 44 1-148 1-12 1 90 1 90 1 7 1 28 1-138 1 25 1 27 1 29 1-27 1 41 1-44 1-44 1 147 1-11 1-105 1 100 1-163 1 47 1 37 1 32 1-46 1-3 1-44 1 10 1-4 1 5 1 103 1-23 1-78 1 62 1 33 1-31 1-87 1 76 1-146 1 64 1 143 1 5 1 0 1-56 1-35 1 86 1-49 1-11 1 58 1-18 1 0 1-47 1-20 1 23 1-25 1 12 1 6 1-40 1 54 1 28 1-10 1-114 1 6 1 55 1 57 1-5 1-37 1-30 1 8 1 36 1-46 1 51 1 15 1 29 1-46 1 71 1-49 1-117 1 121 1 19 1-101 1 102 1-71 1-23 1-15 1-20 1 15 1 18 1 132 1-86 1-51 1 35 1 78 1-78 1 9 1 11 1 65 1-58 1-33 1-34 1-2 1 77 1-5 1 27 1 77 1-77 1 12 1-32 1 71 1-30 1-39 1-79 1 101 1-33 1-47 1-56 1 168 1-49 1-71 1 45 1 52 1 8 1-149 1-1 1 113 1 27 1 5 1 7 1-85 1-14 1-18 1 88 1 41 1-60 1-58 1-19 1 70 1 102 1-75 1-33 1-36 1-15 1 126 1-177 1 47 1 91 1 1 1-12 1-54 1-30 1 25 1-39 1 8 1 83 1 25 1-105 1-9 1-19 1 55 1 45 1-55 1 78 1-1 1-1 1-8 1 10 1-14 1-77 1 60 1-53 1 53 1-49 1 55 1-20 1 93 1-35 1 82 1 16 1-129 1-58 1-119 1-24 1 43 1 141 1-13 1-20 1 3 1 7 1 90 1-11 1-85 1 93 1-67 1 7 1 38 1-47 1 62 1-46 1-93 1 62 1-41 1 22 1 62 1 72 1-134 1 74 1-45 1-22 1 85 1-16 1-49 1-11 1 26 1-17 1 14 1-29 1-60 1 94 1-10 1-55 1-70 1 138 1-42 1 5 1 44 1 21 1 47 1-13 1-89 1-12 1 44 1-17 1 1 1 2 1 46 1-39 1-59 1 56 1 35 1-70 1 37 1-3 1 79 1-148 1 79 1-110 1 26 1-15 1 5 1 15 1 27 1 60 1-13 1-31 1 65 1-16 1 13 1 13 1-17 1-30 1-80 1 24 1 59 1 5 1 70 1-71 1-80 1 55 1 11 1-50 1 80 1 54 1-113 1 0 1-29 1 64 1-11 1-18 1 0 1 9 1-49 1 7 1 96 1-46 1 0 1 35 1 12 1 33 1-54 1 72 1-67 1-8 1 18 1-92 1 35 1 78 1-2 1-45 1-4 1 35 1-78 1 30 1 58 1 14 1-100 1 66 1-57 1 17 1 8 1-44 1-7 1 5 1 111 1-41 1-19 1 81 1-36 1 27 1-91 1 14 1 48 1-57 1-25 1 85 1-49 1 104 1-96 1 13 1 25 1-24 1 48 1 0 1-101 1-46 1 32 1 16 1-24 1 10 1 19 1 33 1 25 1-36 1-6 1-42 1 54 1 7 1-138 1-20 1 65 1 41 1 15 1 46 1 4 1-28 1 78 1-20 1 35 1-20 1-4 1-106 1 21 1 50 1-31 1 8 1 14 1-23 1 73 1-28 1-85 1 106 1-22 1-133 1 19 1 104 1-7 1-12 1 30 1 1 1-42 1 27 1-16 1 13 1 51 1-34 1-1 1 26 1-71 1 28 1-84 1 59 1 1 1-28 1-55 1 37 1 15 1-28 1 62 1 34 1-9 1-26 1-9 1 42 1-41 1 2 1-78 1 5 1 83 1 9 1-37 1-17 1 9 1 57 1-74 1 68 1-50 1-16 1-38 1 5 1 112 1-3 1 42 1-64 1 33 1 4 1-28 1-23 1 62 1-33 1 7 1 72 1-75 1 23 1-21 1-47 1 56 1 6 1-111 1 68 1 23 1-12 1-10 1 55 1-40 1 47 1 11 1-46 1 40 1-132 1-14 1 43 1 30 1 2 1-9 1 17 1 61 1-58 1 88 1-10 1-95 1 0 1-62 1-31 1 50 1-35 1 41 1 4 1 65 1 29 1-55 1-38 1 27 1 2 1-64 1 47 1 19 1 58 1-88 1-63 1 100 1 31 1 7 1-14 1 6 1-24 1 12 1 33 1 19 1-98 1 61 1 30 1-37 1 48 1-74 1 95 1-117 1 2 1 73 1 8 1-77 1-4 1 70 1-20 1-2 1-42 1-8 1-111 1 234 1-57 1 25 1-52 1 37 1-35 1 27 1-26 1-83 1 77 1 119 1-147 1-53 1 66 1-29 1-4 1 22 1 31 1 18 1-6 1-64 1-16 1 80 1-14 1 44 1-10 1-14 1-20 1-7 1 4 1 35 1-130 1 23 1-13 1 81 1 70 1-62 1-32 1-45 1 0 1 73 1 103 1-93 1-7 1 62 1-49 1 13 1 24 1-41 1-45 1-60 1 85 1 7 1-22 1 63 1-85 1-10 1 131 1-18 1 19 1-10 1 10 1-98 1-54 1 109 1-98 1 119 1-43 1-13 1 9 1 49 1-76 1 86 1-66 1 46 1 13 1-70 1 2 1 51 1-115 1 62 1-126 1 160 1 63 1-30 1-22 1-116 1 5 1-12 1 19 1 47 1 12 1 105 1-97 1 54 1 18 1-24 1-83 1-28 1 6 1 63 1 5 1-11 1 1 1-33 1 5 1 28 1 1 1-55 1-18 1-27 1 125 1-30 1-8 1-28 1 90 1-69 1-54 1-58 1 103 1 4 1 15 1-8 1 73 1-31 1 24 1-85 1-22 1 144 1-6 1 5 1-47 1-32 1-51 1 29 1 35 1-25 1-10 1-32 1-18 1 38 1 34 1 30 1-73 1 4 1 28 1 81 1-95 1 29 1 32 1-57 1 43 1-17 1-15 1-13 1-87 1 100 1-25 1 60 1-40 1 5 1 111 1-43 1-147 1 148 1-115 1 58 1 52 1-141 1 77 1-67 1 25 1 17 1 28 1 39 1-40 1 93 1-146 1 24 1 41 1-17 1-43 1 27 1-51 1 36 1 3 1 57 1-21 1 63 1-14 1-63 1-23 1-34 1-39 1 114 1-3 1-111 1 52 1 21 1-16 1 85 1 45 1-70 1 19 1-20 1 31 1-63 1 35 1-94 1 81 1-26 1-54 1 118 1 11 1-39 1-15 1 7 1-48 1 10 1 40 1 7 1-74 1 78 1-16 1 61 1-117 1 99 1-36 1-65 1-2 1 8 1 32 1 1 1-38 1 13 1 52 1-46 1 19 1 1 1 22 1 4 1 36 1-23 1-31 1 61 1-117 1 74 1-60 1 93 1-5 1-55 1 64 1-116 1 75 1-45 1-32 1 64 1-45 1 52 1-36 1-70 1 134 1-63 1-26 1 18 1 40 1-31 1-20 1 54 1 30 1-103 1 124 1-124 1-5 1 79 1-50 1-157 1 111 1 60 1-32 1 4 1 94 1 2 1-48 1 3 1-48 1 41 1 38 1 6 1 9 1-55 1 7 1 41 1 56 1-2 1-67 1 36 1-14 1-88 1 65 1 16 1-36 1 4 1 1 1-9 1 101 1-17 1-68 1-8 1 30 1 17 1-24 1 104 1-100 1 0 1-83 1 71 1-76 1 41 1 22 1 4 1-49 1-12 1 24 1-20 1 18 1-13 1-20 1 19 1 12 1-17 1 29 1 13 1-7 1 1 1-36 1 17 1 56 1 54 1-92 1 39 1-7 1 17 1-7 1-64 1 15 1-58 1 72 1 42 1 28 1-49 1-59 1 9 1-38 1 66 1 33 1-106 1 91 1 30 1 7 1-8 1 20 1-6 1-81 1 52 1 49 1-2 1-55 1 21 1-28 1 47 1 31 1 0 1 0 1-148 1 18 1 52 1-12 1-6 1 3 1 25 1 18 1-9 1-18 1-26 1 68 1 19 1-159 1 165 1 8 1-64 1-17 1-2 1-17 1 15 1 14 1 3 1 75 1-23 1-29 1-42 1-79 1 76 1 22 1 91 1 11 1-121 1-18 1 53 1 16 1-191 1 150 1 16 1 14 1-19 1 11 1-129 1 102 1 38 1-70 1 39 1 22 1 42 1 18 1-74 1 50 1-108 1 116 1-91 1 21 1-58 1 70 1-64 1-5 1 3 1 16 1 56 1-24 1-17 1 40 1-28 1 33 1 22 1-19 1-76 1 70 1-11 1-91 1 56 1-33 1 2 1 20 1 45 1 42 1-41 1-64 1 37 1 62 1-20 1 13 1-6 1 22 1-55 1-15 1 4 1-7 1-63 1-14 1 42 1 66 1-31 1 183 1-218 1-4 1-20 1 23 1-56 1 80 1 25 1-55 1 129 1-18 1 66 1-65 1-26 1-4 1-4 1-64 1 129 1-86 1-51 1 67 1 12 1 7 1 29 1-55 1 15 1-32 1 7 1-57 1-13 1 94 1-12 1 22 1 16 1 40 1 54 1-143 1 29 1-84 1 30 1 44 1 22 1-85 1-4 1-7 1 57 1 30 1-8 1 52 1 29 1-110 1 6 1-49 1 53 1 46 1-35 1-80 1 12 1 58 1-36 1-43 1 142 1-73 1 3 1-38 1-85 1 167 1-79 1 110 1 66 1-48 1-87 1-6 1 18 1 98 1-56 1-95 1 75 1-73 1-23 1 50 1 20 1-8 1 7 1-6 1-22 1 65 1-63 1 20 1 43 1-117 1-2 1 87 1-20 1-3 1-37 1 59 1 8 1 12 1 18 1-35 1 3 1 40 1-77 1 10 1-21 1 10 1 23 1-34 1 26 1-8 1-45 1 167 1-75 1-68 1 42 1 94 1-13 1-57 1-18 1 3 1-34 1 13 1-13 1 81 1-27 1 40 1-141 1-70 1 163 1 37 1-2 1-60 1-59 1 86 1 77 1-54 1-2 1 8 1-37 1-2 1 16 1-31 1-21 1 89 1-17 1-85 1 33 1-87 1 77 1-65 1 24 1 92 1 7 1-105 1 107 1 25 1 15 1-92 1-30 1-95 1 75 1 72 1-13 1-28 1 89 1 39 1-74 1-92 1 20 1 19 1 44 1-21 1-14 1-48 1 85 1-34 1 25 1 7 1 38 1-4 1 7 1-71 1-133 1 150 1 2 1-33 1 91 1-110 1 38 1 19 1-1 1-142 1 47 1 117 1-52 1-27 1-31 1 73 1 17 1-30 1 43 1-45 1 157 1 39 1-115 1-60 1-27 1-34 1 83 1 56 1 10 1-87 1-83 1 44 1-28 1 14 1 111 1-86 1-22 1 62 1-4 1-62 1 20 1 41 1 20 1-15 1-37 1 85 1-63 1 61 1-111 1 6 1 20 1-58 1-70 1 155 1-14 1-91 1 139 1-85 1 83 1-62 1-61 1 15 1-48 1 23 1 68 1 18 1 35 1-3 1-7 1 18 1-34 1-37 1 126 1-33 1 22 1-87 1 117 1-103 1-15 1 52 1 13 1-224 1 237 1-60 1 22 1-22 1-73 1 66 1-17 1 19 1-17 1 68 1-31 1 21 1-23 1-53 1-12 1 5 1 41 1-24 1 38 1-24 1-73 1-35 1 63 1 25 1 27 1-25 1-54 1 60 1 40 1-69 1 32 1 68 1-55 1-47 1-28 1-21 1 182 1 24 1-92 1 20 1 24 1-125"/>
</g>
<path d="M48.2 601.8L623.2 601.6" stroke="#000000" stroke-width="2" fill="none"/>
<path d="M48.2 600.2L623.2 600.8" stroke="#DF536B" stroke-width="2" fill="none"/>
<path d="M48.2 599.5L623.2 600" stroke="#61D04F" stroke-width="2" fill="none"/>
<rect x="25.3" y="543.4" width="621.2" height="113.25" fill="none" stroke="#000" stroke-width="2" stroke-linejoin="round"/>
<path d="M13.1 546.8H25.3M13.1 569.45H25.3M13.1 592.1H25.3M13.1 614.75H25.3M13.1 637.4H25.3M48.2 656.65V669M163.2 656.65V669M278.2 656.65V669M393.2 656.65V669M508.2 656.65V669M623.2 656.65V669M685.4 652.45H697.2M685.4 636.45H697.2M685.4 620.45H697.2M685.4 604.45H697.2M685.4 588.45H697.2M685.4 572.45H697.2M685.4 556.45H697.2M714.2 656.65V669M824.95 656.65V669M935.7 656.65V669M1046.45 656.65V669M1157.2 656.65V669M1267.95 656.65V669" stroke="#000" stroke-width="2" stroke-linecap="round" fill="none"/>
<g font-family='"Liberation Sans", sans-serif' font-size="21.7" text-anchor="middle" fill="#000">
<text x="48.2" y="701.8">2000</text>
<text x="163.2" y="701.8">3000</text>
<text x="278.2" y="701.8">4000</text>
<text x="393.2" y="701.8">5000</text>
<text x="508.2" y="701.8">6000</text>
<text x="623.2" y="701.8">7000</text>
<text x="714.2" y="701.8">-1.5</text>
<text x="824.95" y="701.8">-1.0</text>
<text x="935.7" y="701.8">-0.5</text>
<text x="1046.45" y="701.8">0.0</text>
<text x="1157.2" y="701.8">0.5</text>
<text x="1267.95" y="701.8">1.0</text>
<text transform="translate(667.3 652.45) rotate(-90)">0.0</text>
<text transform="translate(667.3 588.45) rotate(-90)">0.8</text>
</g>
<g font-family='"Liberation Sans", sans-serif' font-size="25" font-weight="bold" text-anchor="middle" fill="#000">
<text transform="translate(335.9 521) scale(1 1.08)">Trace of int</text>
<text transform="translate(1007.95 521) scale(1 1.08)">Density of int</text>
</g>
<path d="M720.2 652.45 722.12 652.44 724.05 652.43 725.97 652.42 727.9 652.41 729.82 652.4 731.75 652.38 733.67 652.37 735.6 652.35 737.52 652.33 739.45 652.32 741.37 652.3 743.3 652.28 745.22 652.25 747.15 652.23 749.07 652.21 751 652.19 752.92 652.16 754.85 652.14 756.77 652.11 758.69 652.08 760.62 652.05 762.54 652.01 764.47 651.98 766.39 651.94 768.32 651.9 770.24 651.86 772.17 651.82 774.09 651.78 776.02 651.73 777.94 651.68 779.87 651.63 781.79 651.58 783.72 651.53 785.64 651.47 787.57 651.41 789.49 651.34 791.42 651.27 793.34 651.2 795.27 651.12 797.19 651.04 799.11 650.95 801.04 650.86 802.96 650.77 804.89 650.68 806.81 650.58 808.74 650.48 810.66 650.37 812.59 650.25 814.51 650.12 816.44 649.99 818.36 649.85 820.29 649.7 822.21 649.54 824.14 649.38 826.06 649.22 827.99 649.05 829.91 648.89 831.84 648.72 833.76 648.55 835.68 648.35 837.61 648.13 839.53 647.87 841.46 647.53 843.38 647.06 845.31 646.5 847.23 645.88 849.16 645.26 851.08 644.66 853.01 644.03 854.93 643.37 856.86 642.7 858.78 642.02 860.71 641.36 862.63 640.7 864.56 640.04 866.48 639.37 868.41 638.69 870.33 637.98 872.26 637.27 874.18 636.55 876.1 635.8 878.03 635 879.95 634.12 881.88 633.14 883.8 632.04 885.73 630.86 887.65 629.63 889.58 628.38 891.5 627.09 893.43 625.75 895.35 624.36 897.28 622.94 899.2 621.5 901.13 620.05 903.05 618.58 904.98 617.09 906.9 615.57 908.83 614.04 910.75 612.49 912.67 610.89 914.6 609.26 916.52 607.64 918.45 606.06 920.37 604.54 922.3 603.09 924.22 601.67 926.15 600.28 928.07 598.91 930 597.54 931.92 596.17 933.85 594.78 935.77 593.36 937.7 591.9 939.62 590.42 941.55 588.93 943.47 587.43 945.4 585.9 947.32 584.33 949.25 582.71 951.17 581.03 953.09 579.23 955.02 577.31 956.94 575.31 958.87 573.28 960.79 571.29 962.72 569.39 964.64 567.64 966.57 565.99 968.49 564.37 970.42 562.8 972.34 561.29 974.27 559.88 976.19 558.58 978.12 557.4 980.04 556.35 981.97 555.35 983.89 554.42 985.82 553.56 987.74 552.75 989.66 552 991.59 551.31 993.51 550.63 995.44 549.92 997.36 549.21 999.29 548.57 1001.21 548.04 1003.14 547.67 1005.06 547.5 1006.99 547.55 1008.91 547.71 1010.84 547.99 1012.76 548.35 1014.69 548.78 1016.61 549.26 1018.54 549.77 1020.46 550.39 1022.39 551.3 1024.31 552.42 1026.24 553.69 1028.16 555.04 1030.08 556.4 1032.01 557.69 1033.93 558.89 1035.86 560.08 1037.78 561.3 1039.71 562.6 1041.63 563.99 1043.56 565.48 1045.48 567.04 1047.41 568.64 1049.33 570.24 1051.26 571.82 1053.18 573.35 1055.11 574.82 1057.03 576.23 1058.96 577.61 1060.88 578.99 1062.81 580.39 1064.73 581.83 1066.65 583.34 1068.58 584.94 1070.5 586.63 1072.43 588.38 1074.35 590.17 1076.28 591.97 1078.2 593.75 1080.13 595.49 1082.05 597.16 1083.98 598.82 1085.9 600.46 1087.83 602.09 1089.75 603.71 1091.68 605.31 1093.6 606.91 1095.53 608.5 1097.45 610.09 1099.38 611.68 1101.3 613.26 1103.23 614.82 1105.15 616.34 1107.07 617.83 1109 619.28 1110.92 620.71 1112.85 622.13 1114.77 623.51 1116.7 624.86 1118.62 626.16 1120.55 627.4 1122.47 628.57 1124.4 629.72 1126.32 630.83 1128.25 631.89 1130.17 632.92 1132.1 633.9 1134.02 634.84 1135.95 635.72 1137.87 636.58 1139.8 637.4 1141.72 638.19 1143.64 638.94 1145.57 639.66 1147.49 640.33 1149.42 640.96 1151.34 641.57 1153.27 642.14 1155.19 642.69 1157.12 643.21 1159.04 643.71 1160.97 644.18 1162.89 644.63 1164.82 645.06 1166.74 645.47 1168.67 645.87 1170.59 646.25 1172.52 646.6 1174.44 646.94 1176.37 647.26 1178.29 647.57 1180.22 647.87 1182.14 648.15 1184.06 648.42 1185.99 648.67 1187.91 648.89 1189.84 649.08 1191.76 649.27 1193.69 649.44 1195.61 649.62 1197.54 649.78 1199.46 649.94 1201.39 650.1 1203.31 650.24 1205.24 650.38 1207.16 650.52 1209.09 650.64 1211.01 650.76 1212.94 650.87 1214.86 650.97 1216.79 651.06 1218.71 651.15 1220.63 651.22 1222.56 651.3 1224.48 651.36 1226.41 651.43 1228.33 651.49 1230.26 651.55 1232.18 651.61 1234.11 651.66 1236.03 651.71 1237.96 651.76 1239.88 651.8 1241.81 651.85 1243.73 651.89 1245.66 651.92 1247.58 651.96 1249.51 651.99 1251.43 652.02 1253.36 652.05 1255.28 652.08 1257.21 652.11 1259.13 652.13 1261.05 652.16 1262.98 652.18 1264.9 652.2 1266.83 652.22 1268.75 652.24 1270.68 652.26 1272.6 652.28 1274.53 652.3 1276.45 652.31 1278.38 652.33 1280.3 652.35 1282.23 652.36 1284.15 652.38 1286.08 652.39 1288 652.4 1289.93 652.42 1291.85 652.43 1293.78 652.44 1295.7 652.45" stroke="#000" stroke-width="2" stroke-linejoin="round" fill="none"/>
<defs><linearGradient id="g2L" gradientUnits="userSpaceOnUse" x1="760" y1="0" x2="785" y2="0"><stop offset="0" stop-color="#595959"/><stop offset="1" stop-color="#595959" stop-opacity="0"/></linearGradient><linearGradient id="g2R" gradientUnits="userSpaceOnUse" x1="1245" y1="0" x2="1258" y2="0"><stop offset="0" stop-color="#595959" stop-opacity="0"/><stop offset="1" stop-color="#595959"/></linearGradient></defs>
<path d="M720.2 652.25H785" stroke="url(#g2L)" stroke-width="2.9" fill="none"/>
<path d="M1245 652.25H1295.7" stroke="url(#g2R)" stroke-width="2.9" fill="none"/>
<path d="M807.2 651.8H814.5M819.2 651.8H822.3M824.4 651.8H837.9M841.6 651.8H1157.9M1159.6 651.8H1172.1M1173.9 651.8H1185.8M1187 651.8H1193.6M1198.3 651.8H1201.3M1204.3 651.8H1206.7M1249.3 651.8H1251.2" stroke="#000" stroke-width="4" fill="none"/>
<path d="M758.3 652.45v-1.3M792.1 652.45v-1.3M798.9 652.45v-1.3M817.1 652.45v-1.3M839 652.45v-1.3M1214.1 652.45v-1.3" stroke="#000" stroke-width="2" stroke-linecap="round" fill="none"/>
<rect x="697.2" y="543.4" width="621.5" height="113.25" fill="none" stroke="#000" stroke-width="2" stroke-linejoin="round"/>
<path d="M697.2 652.45H720.2M1295.7 652.45H1318.7" stroke="#bebebe" stroke-opacity="0.55" stroke-width="1" fill="none"/>
</svg>
</body></html>
